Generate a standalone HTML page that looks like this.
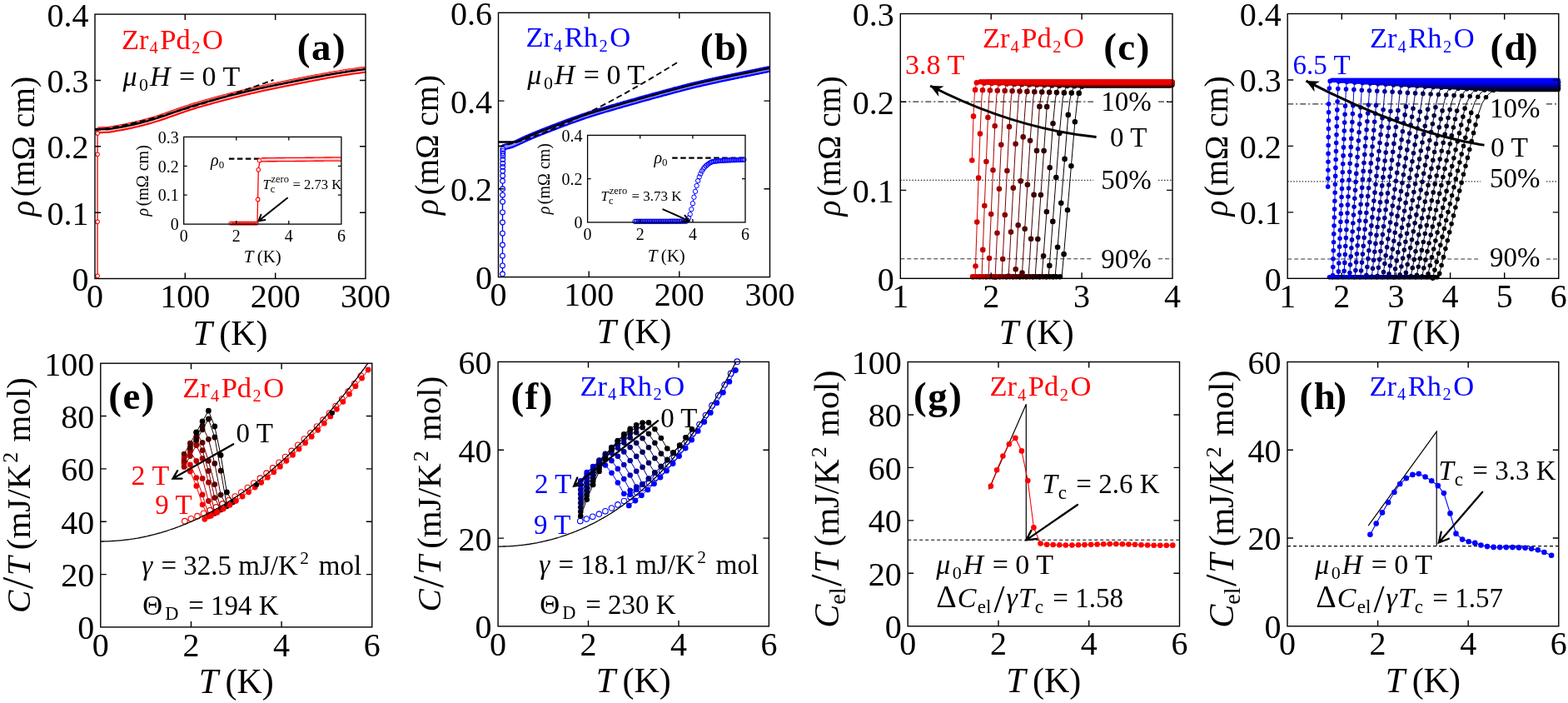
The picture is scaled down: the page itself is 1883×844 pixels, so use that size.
<!DOCTYPE html>
<html><head><meta charset="utf-8"><title>Zr4Pd2O and Zr4Rh2O resistivity and specific heat</title>
<style>html,body{margin:0;padding:0;background:#fff;}svg{display:block;}</style></head>
<body><svg width="1883" height="844" viewBox="0 0 1883 844" font-family="'Liberation Serif','Times New Roman',serif">
<rect width="1883" height="844" fill="#fff"/>
<path d="M117.5 156.2 L119.1 156.2 L120.7 156.2 L122.3 156.2 L123.9 156.1 L125.5 156.1 L127.2 156 L128.8 155.9 L130.4 155.7 L132 155.5 L133.6 155.2 L135.2 155 L136.9 154.7 L138.5 154.4 L140.1 154.1 L141.7 153.9 L143.3 153.6 L144.9 153.3 L146.6 153 L148.2 152.7 L149.8 152.4 L151.4 152.1 L153 151.7 L154.6 151.4 L156.2 151 L157.9 150.7 L159.5 150.3 L161.1 149.9 L162.7 149.6 L164.3 149.2 L165.9 148.8 L167.6 148.4 L169.2 148 L170.8 147.6 L172.4 147.1 L174 146.7 L175.6 146.3 L177.2 145.9 L178.9 145.4 L180.5 145 L182.1 144.5 L183.7 144 L185.3 143.5 L186.9 143 L188.6 142.5 L190.2 142 L191.8 141.5 L193.4 140.9 L195 140.4 L196.6 139.8 L198.3 139.3 L199.9 138.7 L201.5 138.1 L203.1 137.6 L204.7 137 L206.3 136.4 L207.9 135.9 L209.6 135.3 L211.2 134.7 L212.8 134.1 L214.4 133.6 L216 133 L217.6 132.4 L219.3 131.9 L220.9 131.3 L222.5 130.8 L224.1 130.2 L225.7 129.7 L227.3 129.2 L229 128.6 L230.6 128.1 L232.2 127.6 L233.8 127.1 L235.4 126.6 L237 126.2 L238.6 125.7 L240.3 125.2 L241.9 124.8 L243.5 124.3 L245.1 123.8 L246.7 123.4 L248.3 122.9 L250 122.5 L251.6 122 L253.2 121.6 L254.8 121.1 L256.4 120.7 L258 120.2 L259.7 119.8 L261.3 119.4 L262.9 118.9 L264.5 118.5 L266.1 118.1 L267.7 117.6 L269.3 117.2 L271 116.8 L272.6 116.4 L274.2 116 L275.8 115.5 L277.4 115.1 L279 114.7 L280.7 114.3 L282.3 113.9 L283.9 113.5 L285.5 113.1 L287.1 112.7 L288.7 112.3 L290.4 111.9 L292 111.5 L293.6 111.1 L295.2 110.7 L296.8 110.3 L298.4 110 L300 109.6 L301.7 109.2 L303.3 108.8 L304.9 108.5 L306.5 108.1 L308.1 107.7 L309.7 107.4 L311.4 107 L313 106.6 L314.6 106.3 L316.2 105.9 L317.8 105.6 L319.4 105.2 L321.1 104.9 L322.7 104.5 L324.3 104.2 L325.9 103.9 L327.5 103.5 L329.1 103.2 L330.7 102.9 L332.4 102.6 L334 102.2 L335.6 101.9 L337.2 101.6 L338.8 101.3 L340.4 100.9 L342.1 100.6 L343.7 100.3 L345.3 100 L346.9 99.6 L348.5 99.3 L350.1 99 L351.7 98.7 L353.4 98.3 L355 98 L356.6 97.7 L358.2 97.4 L359.8 97 L361.4 96.7 L363.1 96.4 L364.7 96.1 L366.3 95.8 L367.9 95.5 L369.5 95.1 L371.1 94.8 L372.8 94.5 L374.4 94.2 L376 93.9 L377.6 93.6 L379.2 93.3 L380.8 93 L382.4 92.7 L384.1 92.4 L385.7 92.1 L387.3 91.8 L388.9 91.5 L390.5 91.2 L392.1 90.9 L393.8 90.6 L395.4 90.3 L397 90 L398.6 89.7 L400.2 89.5 L401.8 89.2 L403.5 88.9 L405.1 88.6 L406.7 88.4 L408.3 88.1 L409.9 87.8 L411.5 87.6 L413.1 87.3 L414.8 87.1 L416.4 86.8 L418 86.6 L419.6 86.3 L421.2 86.1 L422.8 85.9 L424.5 85.6 L426.1 85.4 L427.7 85.2 L429.3 85 L430.9 84.7 L432.5 84.5 L434.2 84.3 L435.8 84.1 L437.4 83.9 L439 83.7" fill="none" stroke="#ff0000" stroke-width="8" stroke-linejoin="round"/>
<path d="M117.5 156.2 L119.1 156.2 L120.7 156.2 L122.3 156.2 L123.9 156.1 L125.5 156.1 L127.2 156 L128.8 155.9 L130.4 155.7 L132 155.5 L133.6 155.2 L135.2 155 L136.9 154.7 L138.5 154.4 L140.1 154.1 L141.7 153.9 L143.3 153.6 L144.9 153.3 L146.6 153 L148.2 152.7 L149.8 152.4 L151.4 152.1 L153 151.7 L154.6 151.4 L156.2 151 L157.9 150.7 L159.5 150.3 L161.1 149.9 L162.7 149.6 L164.3 149.2 L165.9 148.8 L167.6 148.4 L169.2 148 L170.8 147.6 L172.4 147.1 L174 146.7 L175.6 146.3 L177.2 145.9 L178.9 145.4 L180.5 145 L182.1 144.5 L183.7 144 L185.3 143.5 L186.9 143 L188.6 142.5 L190.2 142 L191.8 141.5 L193.4 140.9 L195 140.4 L196.6 139.8 L198.3 139.3 L199.9 138.7 L201.5 138.1 L203.1 137.6 L204.7 137 L206.3 136.4 L207.9 135.9 L209.6 135.3 L211.2 134.7 L212.8 134.1 L214.4 133.6 L216 133 L217.6 132.4 L219.3 131.9 L220.9 131.3 L222.5 130.8 L224.1 130.2 L225.7 129.7 L227.3 129.2 L229 128.6 L230.6 128.1 L232.2 127.6 L233.8 127.1 L235.4 126.6 L237 126.2 L238.6 125.7 L240.3 125.2 L241.9 124.8 L243.5 124.3 L245.1 123.8 L246.7 123.4 L248.3 122.9 L250 122.5 L251.6 122 L253.2 121.6 L254.8 121.1 L256.4 120.7 L258 120.2 L259.7 119.8 L261.3 119.4 L262.9 118.9 L264.5 118.5 L266.1 118.1 L267.7 117.6 L269.3 117.2 L271 116.8 L272.6 116.4 L274.2 116 L275.8 115.5 L277.4 115.1 L279 114.7 L280.7 114.3 L282.3 113.9 L283.9 113.5 L285.5 113.1 L287.1 112.7 L288.7 112.3 L290.4 111.9 L292 111.5 L293.6 111.1 L295.2 110.7 L296.8 110.3 L298.4 110 L300 109.6 L301.7 109.2 L303.3 108.8 L304.9 108.5 L306.5 108.1 L308.1 107.7 L309.7 107.4 L311.4 107 L313 106.6 L314.6 106.3 L316.2 105.9 L317.8 105.6 L319.4 105.2 L321.1 104.9 L322.7 104.5 L324.3 104.2 L325.9 103.9 L327.5 103.5 L329.1 103.2 L330.7 102.9 L332.4 102.6 L334 102.2 L335.6 101.9 L337.2 101.6 L338.8 101.3 L340.4 100.9 L342.1 100.6 L343.7 100.3 L345.3 100 L346.9 99.6 L348.5 99.3 L350.1 99 L351.7 98.7 L353.4 98.3 L355 98 L356.6 97.7 L358.2 97.4 L359.8 97 L361.4 96.7 L363.1 96.4 L364.7 96.1 L366.3 95.8 L367.9 95.5 L369.5 95.1 L371.1 94.8 L372.8 94.5 L374.4 94.2 L376 93.9 L377.6 93.6 L379.2 93.3 L380.8 93 L382.4 92.7 L384.1 92.4 L385.7 92.1 L387.3 91.8 L388.9 91.5 L390.5 91.2 L392.1 90.9 L393.8 90.6 L395.4 90.3 L397 90 L398.6 89.7 L400.2 89.5 L401.8 89.2 L403.5 88.9 L405.1 88.6 L406.7 88.4 L408.3 88.1 L409.9 87.8 L411.5 87.6 L413.1 87.3 L414.8 87.1 L416.4 86.8 L418 86.6 L419.6 86.3 L421.2 86.1 L422.8 85.9 L424.5 85.6 L426.1 85.4 L427.7 85.2 L429.3 85 L430.9 84.7 L432.5 84.5 L434.2 84.3 L435.8 84.1 L437.4 83.9 L439 83.7" fill="none" stroke="#ffc4c4" stroke-width="4" stroke-linejoin="round"/>
<path d="M117.5 153.5 L119.1 153.4 L120.7 153.4 L122.3 153.4 L123.9 153.4 L125.5 153.3 L127.2 153.2 L128.8 153.1 L130.4 152.9 L132 152.7 L133.6 152.4 L135.2 152.2 L136.9 151.9 L138.5 151.6 L140.1 151.4 L141.7 151.1 L143.3 150.8 L144.9 150.5 L146.6 150.3 L148.2 149.9 L149.8 149.6 L151.4 149.3 L153 149 L154.6 148.6 L156.2 148.3 L157.9 147.9 L159.5 147.5 L161.1 147.2 L162.7 146.8 L164.3 146.4 L165.9 146 L167.6 145.6 L169.2 145.2 L170.8 144.8 L172.4 144.4 L174 143.9 L175.6 143.5 L177.2 143.1 L178.9 142.6 L180.5 142.2 L182.1 141.7 L183.7 141.2 L185.3 140.7 L186.9 140.2 L188.6 139.7 L190.2 139.2 L191.8 138.7 L193.4 138.1 L195 137.6 L196.6 137 L198.3 136.5 L199.9 135.9 L201.5 135.4 L203.1 134.8 L204.7 134.2 L206.3 133.7 L207.9 133.1 L209.6 132.5 L211.2 131.9 L212.8 131.4 L214.4 130.8 L216 130.2 L217.6 129.7 L219.3 129.1 L220.9 128.6 L222.5 128 L224.1 127.5 L225.7 126.9 L227.3 126.4 L229 125.9 L230.6 125.3 L232.2 124.8 L233.8 124.4 L235.4 123.9 L237 123.4 L238.6 122.9 L240.3 122.5 L241.9 122 L243.5 121.5 L245.1 121.1 L246.7 120.6 L248.3 120.1 L250 119.7 L251.6 119.2 L253.2 118.8 L254.8 118.3 L256.4 117.9 L258 117.5 L259.7 117 L261.3 116.6 L262.9 116.2 L264.5 115.7 L266.1 115.3 L267.7 114.9 L269.3 114.4 L271 114 L272.6 113.6 L274.2 113.2 L275.8 112.8 L277.4 112.4 L279 111.9 L280.7 111.5 L282.3 111.1 L283.9 110.7 L285.5 110.3 L287.1 109.9 L288.7 109.5 L290.4 109.1 L292 108.7 L293.6 108.3 L295.2 108 L296.8 107.6 L298.4 107.2 L300 106.8 L301.7 106.4 L303.3 106 L304.9 105.7 L306.5 105.3 L308.1 104.9 L309.7 104.6 L311.4 104.2 L313 103.9 L314.6 103.5 L316.2 103.1 L317.8 102.8 L319.4 102.4 L321.1 102.1 L322.7 101.8 L324.3 101.4 L325.9 101.1 L327.5 100.8 L329.1 100.4 L330.7 100.1 L332.4 99.8 L334 99.5 L335.6 99.1 L337.2 98.8 L338.8 98.5 L340.4 98.2 L342.1 97.8 L343.7 97.5 L345.3 97.2 L346.9 96.9 L348.5 96.5 L350.1 96.2 L351.7 95.9 L353.4 95.6 L355 95.2 L356.6 94.9 L358.2 94.6 L359.8 94.3 L361.4 93.9 L363.1 93.6 L364.7 93.3 L366.3 93 L367.9 92.7 L369.5 92.4 L371.1 92 L372.8 91.7 L374.4 91.4 L376 91.1 L377.6 90.8 L379.2 90.5 L380.8 90.2 L382.4 89.9 L384.1 89.6 L385.7 89.3 L387.3 89 L388.9 88.7 L390.5 88.4 L392.1 88.1 L393.8 87.8 L395.4 87.5 L397 87.2 L398.6 87 L400.2 86.7 L401.8 86.4 L403.5 86.1 L405.1 85.9 L406.7 85.6 L408.3 85.3 L409.9 85.1 L411.5 84.8 L413.1 84.6 L414.8 84.3 L416.4 84 L418 83.8 L419.6 83.6 L421.2 83.3 L422.8 83.1 L424.5 82.9 L426.1 82.6 L427.7 82.4 L429.3 82.2 L430.9 82 L432.5 81.7 L434.2 81.5 L435.8 81.3 L437.4 81.1 L439 81" fill="none" stroke="#ff9090" stroke-width="0.8"/>
<path d="M117.1 334.5 L117.1 158.3" fill="none" stroke="#ff0000" stroke-width="1.3"/>
<path d="M114.8 331.3a2.3 2.3 0 1 0 4.6 0a2.3 2.3 0 1 0 -4.6 0M114.8 266.3a2.3 2.3 0 1 0 4.6 0a2.3 2.3 0 1 0 -4.6 0M114.8 185.3a2.3 2.3 0 1 0 4.6 0a2.3 2.3 0 1 0 -4.6 0M114.8 159.9a2.3 2.3 0 1 0 4.6 0a2.3 2.3 0 1 0 -4.6 0" fill="#fff" stroke="#ff0000" stroke-width="1.1"/>
<path d="M114 155 L127 155 L129.2 155.2 L131.2 154.9 L133.3 154.6 L135.4 154.3 L137.5 153.9 L139.6 153.6 L141.6 153.3 L143.7 152.9 L145.8 152.5 L147.9 152.1 L150 151.7 L152 151.3 L154.1 150.9 L156.2 150.4 L158.3 150 L160.4 149.5 L162.4 149 L164.5 148.5 L166.6 148 L168.7 147.5 L170.8 146.9 L172.8 146.4 L174.9 145.9 L177 145.3 L179.1 144.7 L181.2 144.1 L183.2 143.5 L185.3 142.9 L187.4 142.2 L189.5 141.6 L191.5 140.9 L193.6 140.2 L195.7 139.5 L197.8 138.8 L199.9 138.1 L201.9 137.3 L204 136.6 L206.1 135.9 L208.2 135.1 L210.3 134.4 L212.3 133.7 L214.4 132.9 L216.5 132.2 L218.6 131.5 L220.7 130.8 L222.7 130.1 L224.8 129.4 L226.9 128.7 L229 128 L231.1 127.3 L233.1 126.7 L235.2 126.1 L237.3 125.5 L239.4 124.9 L241.5 124.3 L243.5 123.7 L245.6 123.1 L247.7 122.5 L249.8 121.9 L251.9 121.3 L253.9 120.7 L256 120.2 L258.1 119.6 L260.2 119 L262.2 118.5 L264.3 117.9 L266.4 117.4 L268.5 116.8 L270.6 116.3 L272.6 115.7 L274.7 115.2 L276.8 114.7 L278.9 114.1 L281 113.6 L283 113.1 L285.1 112.6 L287.2 112 L289.3 111.5 L291.4 111 L293.4 110.5 L295.5 110 L297.6 109.5 L299.7 109 L301.8 108.5 L303.8 108.1 L305.9 107.6 L308 107.1 L310.1 106.6 L312.2 106.2 L314.2 105.7 L316.3 105.3 L318.4 104.8 L320.5 104.4 L322.6 103.9 L324.6 103.5 L326.7 103.1 L328.8 102.6 L330.9 102.2 L332.9 101.8 L335 101.4 L337.1 101 L339.2 100.6 L341.3 100.1 L343.3 99.7 L345.4 99.3 L347.5 98.9 L349.6 98.5 L351.7 98 L353.7 97.6 L355.8 97.2 L357.9 96.8 L360 96.4 L362.1 96 L364.1 95.6 L366.2 95.1 L368.3 94.7 L370.4 94.3 L372.5 93.9 L374.5 93.5 L376.6 93.1 L378.7 92.7 L380.8 92.3 L382.9 92 L384.9 91.6 L387 91.2 L389.1 90.8 L391.2 90.4 L393.3 90 L395.3 89.7 L397.4 89.3 L399.5 89 L401.6 88.6 L403.6 88.2 L405.7 87.9 L407.8 87.6 L409.9 87.2 L412 86.9 L414 86.6 L416.1 86.2 L418.2 85.9 L420.3 85.6 L422.4 85.3 L424.4 85 L426.5 84.7 L428.6 84.4 L430.7 84.1 L432.8 83.9 L434.8 83.6 L436.9 83.3 L439 83.1" fill="none" stroke="#000" stroke-width="2.4"/>
<path d="M114 156.3 L117.6 155.9 L121.3 155.5 L124.9 154.9 L128.5 154.3 L132.2 153.7 L135.8 153 L139.4 152.2 L143.1 151.5 L146.7 150.7 L150.4 149.9 L154 149.1 L157.6 148.3 L161.3 147.4 L164.9 146.6 L168.5 145.7 L172.2 144.8 L175.8 143.8 L179.4 142.9 L183.1 142 L186.7 141 L190.3 140 L194 139 L197.6 138 L201.3 137 L204.9 136 L208.5 134.9 L212.2 133.9 L215.8 132.8 L219.4 131.8 L223.1 130.7 L226.7 129.6 L230.3 128.5 L234 127.4 L237.6 126.3 L241.2 125.2 L244.9 124 L248.5 122.9 L252.2 121.7 L255.8 120.6 L259.4 119.4 L263.1 118.2 L266.7 117.1 L270.3 115.9 L274 114.7 L277.6 113.5 L281.2 112.2 L284.9 111 L288.5 109.8 L292.1 108.6 L295.8 107.3 L299.4 106.1 L303.1 104.8 L306.7 103.6 L310.3 102.3 L314 101 L317.6 99.8 L321.2 98.5 L324.9 97.2 L328.5 95.9" fill="none" stroke="#000" stroke-width="1.9" stroke-dasharray="7 4"/>
<path d="M222.3 334.5V327.5M222.3 17.1V24.1M330.7 334.5V327.5M330.7 17.1V24.1M114 255.2H121M439 255.2H432M114 175.8H121M439 175.8H432M114 96.5H121M439 96.5H432" stroke="#000" stroke-width="1.4" fill="none"/>
<rect x="114" y="17.1" width="325" height="317.4" fill="none" stroke="#000" stroke-width="1.4"/>
<text x="114" y="369.1" font-size="40" text-anchor="middle"><tspan>0</tspan></text>
<text x="222.3" y="369.1" font-size="40" text-anchor="middle"><tspan>100</tspan></text>
<text x="330.7" y="369.1" font-size="40" text-anchor="middle"><tspan>200</tspan></text>
<text x="439" y="369.1" font-size="40" text-anchor="middle"><tspan>300</tspan></text>
<text x="106.5" y="348.9" font-size="40" text-anchor="end"><tspan>0</tspan></text>
<text x="106.5" y="269.6" font-size="40" text-anchor="end"><tspan>0.1</tspan></text>
<text x="106.5" y="190.2" font-size="40" text-anchor="end"><tspan>0.2</tspan></text>
<text x="106.5" y="110.9" font-size="40" text-anchor="end"><tspan>0.3</tspan></text>
<text x="106.5" y="31.5" font-size="40" text-anchor="end"><tspan>0.4</tspan></text>
<text x="276.5" y="413.5" font-size="42" text-anchor="middle"><tspan font-style="italic">T</tspan><tspan> (K)</tspan></text>
<text x="41.5" y="175.8" font-size="39.5" text-anchor="middle" transform="rotate(-90 41.5 175.8)"><tspan font-style="italic">ρ</tspan><tspan dx="4.5">(mΩ cm)</tspan></text>
<text x="146" y="58.6" font-size="34.5" fill="#ff0000"><tspan>Zr</tspan><tspan dy="5.5" dx="1" font-size="20.5">4</tspan><tspan dy="-5.5" dx="2.5">Pd</tspan><tspan dy="5.5" dx="1.5" font-size="20.5">2</tspan><tspan dy="-5.5" dx="2.5">O</tspan></text>
<text x="147.5" y="102.9" font-size="34"><tspan font-style="italic">μ</tspan><tspan dy="6" dx="2.5" font-size="22">0</tspan><tspan dy="-6" dx="1.8" font-style="italic">H</tspan><tspan dx="2"> = 0 T</tspan></text>
<text x="414.6" y="71.8" font-size="47" text-anchor="end" font-weight="bold"><tspan>(</tspan><tspan dx="1.5">a</tspan><tspan dx="1.5">)</tspan></text>
<path d="M274.9 190.6 L409.9 190.6" fill="none" stroke="#000" stroke-width="2.2" stroke-dasharray="6.5 3.5"/>
<path d="M276.8 268.1 L278.4 268.1 L280 268.1 L281.6 268.1 L283.1 268.1 L284.7 268.1 L286.3 268.1 L287.9 268.1 L289.4 268.1 L291 268.1 L292.6 268.1 L294.2 268.1 L295.7 268.1 L297.3 268.1 L298.9 268.1 L300.5 268.1 L302.1 268.1 L303.6 268.1 L305.2 268.1 L306.8 268.1 L308.4 268.1" fill="none" stroke="#ff0000" stroke-width="1.2"/>
<path d="M274.7 268.1a2.1 2.1 0 1 0 4.2 0a2.1 2.1 0 1 0 -4.2 0M276.3 268.1a2.1 2.1 0 1 0 4.2 0a2.1 2.1 0 1 0 -4.2 0M277.9 268.1a2.1 2.1 0 1 0 4.2 0a2.1 2.1 0 1 0 -4.2 0M279.5 268.1a2.1 2.1 0 1 0 4.2 0a2.1 2.1 0 1 0 -4.2 0M281 268.1a2.1 2.1 0 1 0 4.2 0a2.1 2.1 0 1 0 -4.2 0M282.6 268.1a2.1 2.1 0 1 0 4.2 0a2.1 2.1 0 1 0 -4.2 0M284.2 268.1a2.1 2.1 0 1 0 4.2 0a2.1 2.1 0 1 0 -4.2 0M285.8 268.1a2.1 2.1 0 1 0 4.2 0a2.1 2.1 0 1 0 -4.2 0M287.3 268.1a2.1 2.1 0 1 0 4.2 0a2.1 2.1 0 1 0 -4.2 0M288.9 268.1a2.1 2.1 0 1 0 4.2 0a2.1 2.1 0 1 0 -4.2 0M290.5 268.1a2.1 2.1 0 1 0 4.2 0a2.1 2.1 0 1 0 -4.2 0M292.1 268.1a2.1 2.1 0 1 0 4.2 0a2.1 2.1 0 1 0 -4.2 0M293.6 268.1a2.1 2.1 0 1 0 4.2 0a2.1 2.1 0 1 0 -4.2 0M295.2 268.1a2.1 2.1 0 1 0 4.2 0a2.1 2.1 0 1 0 -4.2 0M296.8 268.1a2.1 2.1 0 1 0 4.2 0a2.1 2.1 0 1 0 -4.2 0M298.4 268.1a2.1 2.1 0 1 0 4.2 0a2.1 2.1 0 1 0 -4.2 0M300 268.1a2.1 2.1 0 1 0 4.2 0a2.1 2.1 0 1 0 -4.2 0M301.5 268.1a2.1 2.1 0 1 0 4.2 0a2.1 2.1 0 1 0 -4.2 0M303.1 268.1a2.1 2.1 0 1 0 4.2 0a2.1 2.1 0 1 0 -4.2 0M304.7 268.1a2.1 2.1 0 1 0 4.2 0a2.1 2.1 0 1 0 -4.2 0M306.3 268.1a2.1 2.1 0 1 0 4.2 0a2.1 2.1 0 1 0 -4.2 0" fill="#fff" stroke="#ff0000" stroke-width="0.8"/>
<path d="M309 268.1 L309.6 239.4 L310.3 203.8 L312.1 192.7 L315.3 191.6" fill="none" stroke="#ff0000" stroke-width="1.3"/>
<path d="M307.3 239.4a2.3 2.3 0 1 0 4.6 0a2.3 2.3 0 1 0 -4.6 0M308 203.8a2.3 2.3 0 1 0 4.6 0a2.3 2.3 0 1 0 -4.6 0M309.2 192.7a2.3 2.3 0 1 0 4.6 0a2.3 2.3 0 1 0 -4.6 0" fill="#fff" stroke="#ff0000" stroke-width="1.1"/>
<path d="M313.7 191.8 L316.2 191.8 L318.7 191.8 L321.1 191.7 L323.6 191.7 L326.1 191.7 L328.5 191.7 L331 191.7 L333.5 191.6 L335.9 191.6 L338.4 191.6 L340.9 191.6 L343.3 191.5 L345.8 191.5 L348.2 191.5 L350.7 191.5 L353.2 191.5 L355.6 191.4 L358.1 191.4 L360.6 191.4 L363 191.4 L365.5 191.4 L368 191.3 L370.4 191.3 L372.9 191.3 L375.4 191.3 L377.8 191.2 L380.3 191.2 L382.8 191.2 L385.2 191.2 L387.7 191.2 L390.2 191.1 L392.6 191.1 L395.1 191.1 L397.6 191.1 L400 191 L402.5 191 L405 191 L407.4 191 L409.9 191" fill="none" stroke="#ff0000" stroke-width="5.5" stroke-linejoin="round"/>
<path d="M313.7 191.8 L316.2 191.8 L318.7 191.8 L321.1 191.7 L323.6 191.7 L326.1 191.7 L328.5 191.7 L331 191.7 L333.5 191.6 L335.9 191.6 L338.4 191.6 L340.9 191.6 L343.3 191.5 L345.8 191.5 L348.2 191.5 L350.7 191.5 L353.2 191.5 L355.6 191.4 L358.1 191.4 L360.6 191.4 L363 191.4 L365.5 191.4 L368 191.3 L370.4 191.3 L372.9 191.3 L375.4 191.3 L377.8 191.2 L380.3 191.2 L382.8 191.2 L385.2 191.2 L387.7 191.2 L390.2 191.1 L392.6 191.1 L395.1 191.1 L397.6 191.1 L400 191 L402.5 191 L405 191 L407.4 191 L409.9 191" fill="none" stroke="#ffd0d0" stroke-width="2.8" stroke-linejoin="round"/>
<path d="M283.8 269.1V265.1M283.8 164.4V168.4M346.8 269.1V265.1M346.8 164.4V168.4M220.7 234.2H224.7M409.9 234.2H405.9M220.7 199.3H224.7M409.9 199.3H405.9" stroke="#000" stroke-width="1.3" fill="none"/>
<rect x="220.7" y="164.4" width="189.2" height="104.7" fill="none" stroke="#000" stroke-width="1.3"/>
<text x="220.7" y="290.4" font-size="20" text-anchor="middle"><tspan>0</tspan></text>
<text x="283.8" y="290.4" font-size="20" text-anchor="middle"><tspan>2</tspan></text>
<text x="346.8" y="290.4" font-size="20" text-anchor="middle"><tspan>4</tspan></text>
<text x="409.9" y="290.4" font-size="20" text-anchor="middle"><tspan>6</tspan></text>
<text x="214.7" y="276.3" font-size="20" text-anchor="end"><tspan>0</tspan></text>
<text x="214.7" y="241.4" font-size="20" text-anchor="end"><tspan>0.1</tspan></text>
<text x="214.7" y="206.5" font-size="20" text-anchor="end"><tspan>0.2</tspan></text>
<text x="214.7" y="171.6" font-size="20" text-anchor="end"><tspan>0.3</tspan></text>
<text x="315.3" y="315.1" font-size="21" text-anchor="middle"><tspan font-style="italic">T</tspan><tspan> (K)</tspan></text>
<text x="178" y="216.8" font-size="20" text-anchor="middle" transform="rotate(-90 178 216.8)"><tspan font-style="italic">ρ</tspan><tspan dx="2.5">(mΩ cm)</tspan></text>
<text x="269.2" y="198.9" font-size="20" text-anchor="end"><tspan font-style="italic">ρ</tspan><tspan dy="3" font-size="13">0</tspan></text>
<text x="315.6" y="227.3" font-size="16.6"><tspan font-style="italic">T</tspan><tspan dy="4" font-size="12.5">c</tspan><tspan dy="-12" dx="-5" font-size="12.5">zero</tspan><tspan dy="8" dx="0.5"> = 2.73 K</tspan></text>
<path d="M345 237.7L310.5 265.2M318.4 264L310.5 265.2L313.4 257.8" fill="none" stroke="#000" stroke-width="2" stroke-linecap="round" stroke-linejoin="miter"/>
<path d="M603.4 177.7 L605 177 L606.6 176.4 L608.2 175.9 L609.8 175.4 L611.5 175 L613.1 174.5 L614.7 174 L616.3 173.4 L617.9 172.7 L619.5 172 L621.1 171.3 L622.8 170.5 L624.4 169.8 L626 169 L627.6 168.2 L629.2 167.4 L630.8 166.7 L632.4 165.9 L634 165.3 L635.7 164.6 L637.3 163.9 L638.9 163.2 L640.5 162.5 L642.1 161.9 L643.7 161.2 L645.3 160.6 L647 159.9 L648.6 159.3 L650.2 158.6 L651.8 158 L653.4 157.4 L655 156.7 L656.6 156.1 L658.3 155.5 L659.9 154.9 L661.5 154.2 L663.1 153.6 L664.7 153 L666.3 152.4 L667.9 151.8 L669.5 151.2 L671.2 150.5 L672.8 149.9 L674.4 149.3 L676 148.7 L677.6 148.1 L679.2 147.5 L680.8 146.9 L682.5 146.3 L684.1 145.7 L685.7 145.1 L687.3 144.5 L688.9 144 L690.5 143.4 L692.1 142.8 L693.8 142.2 L695.4 141.7 L697 141.1 L698.6 140.5 L700.2 140 L701.8 139.4 L703.4 138.9 L705 138.4 L706.7 137.8 L708.3 137.3 L709.9 136.8 L711.5 136.3 L713.1 135.8 L714.7 135.3 L716.3 134.8 L718 134.3 L719.6 133.8 L721.2 133.3 L722.8 132.9 L724.4 132.4 L726 131.9 L727.6 131.4 L729.3 130.9 L730.9 130.5 L732.5 130 L734.1 129.5 L735.7 129 L737.3 128.6 L738.9 128.1 L740.5 127.6 L742.2 127.1 L743.8 126.7 L745.4 126.2 L747 125.7 L748.6 125.3 L750.2 124.8 L751.8 124.4 L753.5 123.9 L755.1 123.4 L756.7 123 L758.3 122.5 L759.9 122.1 L761.5 121.6 L763.1 121.2 L764.8 120.7 L766.4 120.2 L768 119.8 L769.6 119.3 L771.2 118.9 L772.8 118.4 L774.4 118 L776 117.5 L777.7 117.1 L779.3 116.7 L780.9 116.2 L782.5 115.8 L784.1 115.3 L785.7 114.9 L787.3 114.4 L789 114 L790.6 113.6 L792.2 113.1 L793.8 112.7 L795.4 112.2 L797 111.8 L798.6 111.4 L800.3 110.9 L801.9 110.5 L803.5 110.1 L805.1 109.6 L806.7 109.2 L808.3 108.8 L809.9 108.3 L811.5 107.9 L813.2 107.5 L814.8 107.1 L816.4 106.6 L818 106.2 L819.6 105.8 L821.2 105.4 L822.8 104.9 L824.5 104.5 L826.1 104.1 L827.7 103.7 L829.3 103.3 L830.9 102.9 L832.5 102.5 L834.1 102.1 L835.8 101.7 L837.4 101.3 L839 101 L840.6 100.6 L842.2 100.2 L843.8 99.8 L845.4 99.5 L847 99.1 L848.7 98.7 L850.3 98.4 L851.9 98 L853.5 97.6 L855.1 97.3 L856.7 96.9 L858.3 96.6 L860 96.2 L861.6 95.9 L863.2 95.5 L864.8 95.2 L866.4 94.8 L868 94.5 L869.6 94.2 L871.3 93.8 L872.9 93.5 L874.5 93.2 L876.1 92.8 L877.7 92.5 L879.3 92.1 L880.9 91.8 L882.5 91.5 L884.2 91.2 L885.8 90.8 L887.4 90.5 L889 90.2 L890.6 89.8 L892.2 89.5 L893.8 89.2 L895.5 88.8 L897.1 88.5 L898.7 88.2 L900.3 87.9 L901.9 87.5 L903.5 87.2 L905.1 86.9 L906.8 86.5 L908.4 86.2 L910 85.9 L911.6 85.5 L913.2 85.2 L914.8 84.9 L916.4 84.5 L918 84.2 L919.7 83.9 L921.3 83.5 L922.9 83.2 L924.5 82.8" fill="none" stroke="#0000ff" stroke-width="7.8" stroke-linejoin="round"/>
<path d="M603.4 177.7 L605 177 L606.6 176.4 L608.2 175.9 L609.8 175.4 L611.5 175 L613.1 174.5 L614.7 174 L616.3 173.4 L617.9 172.7 L619.5 172 L621.1 171.3 L622.8 170.5 L624.4 169.8 L626 169 L627.6 168.2 L629.2 167.4 L630.8 166.7 L632.4 165.9 L634 165.3 L635.7 164.6 L637.3 163.9 L638.9 163.2 L640.5 162.5 L642.1 161.9 L643.7 161.2 L645.3 160.6 L647 159.9 L648.6 159.3 L650.2 158.6 L651.8 158 L653.4 157.4 L655 156.7 L656.6 156.1 L658.3 155.5 L659.9 154.9 L661.5 154.2 L663.1 153.6 L664.7 153 L666.3 152.4 L667.9 151.8 L669.5 151.2 L671.2 150.5 L672.8 149.9 L674.4 149.3 L676 148.7 L677.6 148.1 L679.2 147.5 L680.8 146.9 L682.5 146.3 L684.1 145.7 L685.7 145.1 L687.3 144.5 L688.9 144 L690.5 143.4 L692.1 142.8 L693.8 142.2 L695.4 141.7 L697 141.1 L698.6 140.5 L700.2 140 L701.8 139.4 L703.4 138.9 L705 138.4 L706.7 137.8 L708.3 137.3 L709.9 136.8 L711.5 136.3 L713.1 135.8 L714.7 135.3 L716.3 134.8 L718 134.3 L719.6 133.8 L721.2 133.3 L722.8 132.9 L724.4 132.4 L726 131.9 L727.6 131.4 L729.3 130.9 L730.9 130.5 L732.5 130 L734.1 129.5 L735.7 129 L737.3 128.6 L738.9 128.1 L740.5 127.6 L742.2 127.1 L743.8 126.7 L745.4 126.2 L747 125.7 L748.6 125.3 L750.2 124.8 L751.8 124.4 L753.5 123.9 L755.1 123.4 L756.7 123 L758.3 122.5 L759.9 122.1 L761.5 121.6 L763.1 121.2 L764.8 120.7 L766.4 120.2 L768 119.8 L769.6 119.3 L771.2 118.9 L772.8 118.4 L774.4 118 L776 117.5 L777.7 117.1 L779.3 116.7 L780.9 116.2 L782.5 115.8 L784.1 115.3 L785.7 114.9 L787.3 114.4 L789 114 L790.6 113.6 L792.2 113.1 L793.8 112.7 L795.4 112.2 L797 111.8 L798.6 111.4 L800.3 110.9 L801.9 110.5 L803.5 110.1 L805.1 109.6 L806.7 109.2 L808.3 108.8 L809.9 108.3 L811.5 107.9 L813.2 107.5 L814.8 107.1 L816.4 106.6 L818 106.2 L819.6 105.8 L821.2 105.4 L822.8 104.9 L824.5 104.5 L826.1 104.1 L827.7 103.7 L829.3 103.3 L830.9 102.9 L832.5 102.5 L834.1 102.1 L835.8 101.7 L837.4 101.3 L839 101 L840.6 100.6 L842.2 100.2 L843.8 99.8 L845.4 99.5 L847 99.1 L848.7 98.7 L850.3 98.4 L851.9 98 L853.5 97.6 L855.1 97.3 L856.7 96.9 L858.3 96.6 L860 96.2 L861.6 95.9 L863.2 95.5 L864.8 95.2 L866.4 94.8 L868 94.5 L869.6 94.2 L871.3 93.8 L872.9 93.5 L874.5 93.2 L876.1 92.8 L877.7 92.5 L879.3 92.1 L880.9 91.8 L882.5 91.5 L884.2 91.2 L885.8 90.8 L887.4 90.5 L889 90.2 L890.6 89.8 L892.2 89.5 L893.8 89.2 L895.5 88.8 L897.1 88.5 L898.7 88.2 L900.3 87.9 L901.9 87.5 L903.5 87.2 L905.1 86.9 L906.8 86.5 L908.4 86.2 L910 85.9 L911.6 85.5 L913.2 85.2 L914.8 84.9 L916.4 84.5 L918 84.2 L919.7 83.9 L921.3 83.5 L922.9 83.2 L924.5 82.8" fill="none" stroke="#9090ff" stroke-width="3.2" stroke-linejoin="round"/>
<path d="M603.5 332.6 L603.5 179.2 L604.2 177.1" fill="none" stroke="#0000ff" stroke-width="1.3"/>
<path d="M600.6 329a2.9 2.9 0 1 0 5.8 0a2.9 2.9 0 1 0 -5.8 0M600.6 318.9a2.9 2.9 0 1 0 5.8 0a2.9 2.9 0 1 0 -5.8 0M600.6 307.2a2.9 2.9 0 1 0 5.8 0a2.9 2.9 0 1 0 -5.8 0M600.6 294a2.9 2.9 0 1 0 5.8 0a2.9 2.9 0 1 0 -5.8 0M600.6 280.2a2.9 2.9 0 1 0 5.8 0a2.9 2.9 0 1 0 -5.8 0M600.6 267a2.9 2.9 0 1 0 5.8 0a2.9 2.9 0 1 0 -5.8 0M600.6 254.9a2.9 2.9 0 1 0 5.8 0a2.9 2.9 0 1 0 -5.8 0M600.7 242.2a2.9 2.9 0 1 0 5.8 0a2.9 2.9 0 1 0 -5.8 0M600.7 234.2a2.9 2.9 0 1 0 5.8 0a2.9 2.9 0 1 0 -5.8 0M600.7 226.8a2.9 2.9 0 1 0 5.8 0a2.9 2.9 0 1 0 -5.8 0M600.7 217.3a2.9 2.9 0 1 0 5.8 0a2.9 2.9 0 1 0 -5.8 0M600.8 211a2.9 2.9 0 1 0 5.8 0a2.9 2.9 0 1 0 -5.8 0M600.8 205.2a2.9 2.9 0 1 0 5.8 0a2.9 2.9 0 1 0 -5.8 0M600.8 200.4a2.9 2.9 0 1 0 5.8 0a2.9 2.9 0 1 0 -5.8 0M600.9 196.2a2.9 2.9 0 1 0 5.8 0a2.9 2.9 0 1 0 -5.8 0M600.9 191.4a2.9 2.9 0 1 0 5.8 0a2.9 2.9 0 1 0 -5.8 0M601 187.2a2.9 2.9 0 1 0 5.8 0a2.9 2.9 0 1 0 -5.8 0M601 184a2.9 2.9 0 1 0 5.8 0a2.9 2.9 0 1 0 -5.8 0M601 181.4a2.9 2.9 0 1 0 5.8 0a2.9 2.9 0 1 0 -5.8 0M601 179.2a2.9 2.9 0 1 0 5.8 0a2.9 2.9 0 1 0 -5.8 0" fill="#fff" stroke="#0000ff" stroke-width="1.1"/>
<path d="M598.5 170.5 L620.2 170.5 L624.6 168.6 L627.1 167.4 L629.6 166.2 L632.1 165 L634.7 163.9 L637.2 162.9 L639.7 161.8 L642.2 160.8 L644.7 159.8 L647.3 158.7 L649.8 157.7 L652.3 156.7 L654.8 155.8 L657.3 154.8 L659.9 153.8 L662.4 152.8 L664.9 151.9 L667.4 150.9 L669.9 150 L672.5 149 L675 148 L677.5 147.1 L680 146.2 L682.5 145.2 L685.1 144.3 L687.6 143.4 L690.1 142.5 L692.6 141.6 L695.1 140.7 L697.7 139.8 L700.2 138.9 L702.7 138.1 L705.2 137.2 L707.8 136.4 L710.3 135.6 L712.8 134.8 L715.3 134.1 L717.8 133.3 L720.4 132.5 L722.9 131.8 L725.4 131 L727.9 130.3 L730.4 129.5 L733 128.8 L735.5 128 L738 127.3 L740.5 126.6 L743 125.8 L745.6 125.1 L748.1 124.4 L750.6 123.7 L753.1 122.9 L755.6 122.2 L758.2 121.5 L760.7 120.8 L763.2 120.1 L765.7 119.4 L768.2 118.7 L770.8 118 L773.3 117.3 L775.8 116.6 L778.3 115.9 L780.8 115.2 L783.4 114.5 L785.9 113.8 L788.4 113.1 L790.9 112.4 L793.4 111.7 L796 111 L798.5 110.4 L801 109.7 L803.5 109 L806 108.3 L808.6 107.6 L811.1 107 L813.6 106.3 L816.1 105.6 L818.6 105 L821.2 104.3 L823.7 103.7 L826.2 103 L828.7 102.4 L831.2 101.8 L833.8 101.1 L836.3 100.5 L838.8 99.9 L841.3 99.3 L843.8 98.8 L846.4 98.2 L848.9 97.6 L851.4 97.1 L853.9 96.5 L856.5 95.9 L859 95.4 L861.5 94.8 L864 94.3 L866.5 93.8 L869.1 93.2 L871.6 92.7 L874.1 92.2 L876.6 91.7 L879.1 91.1 L881.7 90.6 L884.2 90.1 L886.7 89.6 L889.2 89.1 L891.7 88.5 L894.3 88 L896.8 87.5 L899.3 87 L901.8 86.5 L904.3 86 L906.9 85.5 L909.4 84.9 L911.9 84.4 L914.4 83.9 L916.9 83.4 L919.5 82.8 L922 82.3 L924.5 81.8" fill="none" stroke="#000" stroke-width="2.4"/>
<path d="M598.5 175.5 L602.2 175.1 L605.9 174.4 L609.6 173.6 L613.3 172.7 L617 171.7 L620.6 170.6 L624.3 169.5 L628 168.4 L631.7 167.1 L635.4 165.9 L639.1 164.6 L642.8 163.2 L646.5 161.8 L650.2 160.4 L653.9 159 L657.6 157.5 L661.2 156 L664.9 154.4 L668.6 152.9 L672.3 151.3 L676 149.6 L679.7 148 L683.4 146.3 L687.1 144.6 L690.8 142.9 L694.5 141.1 L698.2 139.3 L701.8 137.5 L705.5 135.7 L709.2 133.9 L712.9 132 L716.6 130.2 L720.3 128.3 L724 126.4 L727.7 124.4 L731.4 122.5 L735.1 120.5 L738.8 118.5 L742.4 116.5 L746.1 114.5 L749.8 112.5 L753.5 110.4 L757.2 108.3 L760.9 106.2 L764.6 104.1 L768.3 102 L772 99.9 L775.7 97.7 L779.4 95.6 L783 93.4 L786.7 91.2 L790.4 89 L794.1 86.8 L797.8 84.5 L801.5 82.3 L805.2 80 L808.9 77.8 L812.6 75.5 L816.3 73.2" fill="none" stroke="#000" stroke-width="1.9" stroke-dasharray="7 4"/>
<path d="M707.2 332.6V325.6M707.2 15.3V22.3M815.8 332.6V325.6M815.8 15.3V22.3M598.5 226.8H605.5M924.5 226.8H917.5M598.5 121.1H605.5M924.5 121.1H917.5" stroke="#000" stroke-width="1.4" fill="none"/>
<rect x="598.5" y="15.3" width="326" height="317.3" fill="none" stroke="#000" stroke-width="1.4"/>
<text x="598.5" y="367.2" font-size="40" text-anchor="middle"><tspan>0</tspan></text>
<text x="707.2" y="367.2" font-size="40" text-anchor="middle"><tspan>100</tspan></text>
<text x="815.8" y="367.2" font-size="40" text-anchor="middle"><tspan>200</tspan></text>
<text x="924.5" y="367.2" font-size="40" text-anchor="middle"><tspan>300</tspan></text>
<text x="591" y="347" font-size="40" text-anchor="end"><tspan>0</tspan></text>
<text x="591" y="241.2" font-size="40" text-anchor="end"><tspan>0.2</tspan></text>
<text x="591" y="135.5" font-size="40" text-anchor="end"><tspan>0.4</tspan></text>
<text x="591" y="29.7" font-size="40" text-anchor="end"><tspan>0.6</tspan></text>
<text x="761.5" y="411.6" font-size="42" text-anchor="middle"><tspan font-style="italic">T</tspan><tspan> (K)</tspan></text>
<text x="526" y="174" font-size="39.5" text-anchor="middle" transform="rotate(-90 526 174)"><tspan font-style="italic">ρ</tspan><tspan dx="4.5">(mΩ cm)</tspan></text>
<text x="631.5" y="56.2" font-size="34.5" fill="#0000ff"><tspan>Zr</tspan><tspan dy="5.5" dx="1" font-size="20.5">4</tspan><tspan dy="-5.5" dx="2.5">Rh</tspan><tspan dy="5.5" dx="1.5" font-size="20.5">2</tspan><tspan dy="-5.5" dx="2.5">O</tspan></text>
<text x="633.3" y="100.5" font-size="34"><tspan font-style="italic">μ</tspan><tspan dy="6" dx="2.5" font-size="22">0</tspan><tspan dy="-6" dx="1.8" font-style="italic">H</tspan><tspan dx="2"> = 0 T</tspan></text>
<text x="898.6" y="72.3" font-size="47" text-anchor="end" font-weight="bold"><tspan>(</tspan><tspan dx="1.5">b</tspan><tspan dx="-1.2">)</tspan></text>
<path d="M807.2 189.6 L895 189.6" fill="none" stroke="#000" stroke-width="2.2" stroke-dasharray="6.5 3.5"/>
<path d="M762.4 265.9 L764 265.8 L765.6 265.8 L767.2 265.8 L768.7 265.8 L770.3 265.8 L771.9 265.8 L773.5 265.8 L775 265.8 L776.6 265.8 L778.2 265.8 L779.8 265.8 L781.4 265.8 L782.9 265.8 L784.5 265.8 L786.1 265.8 L787.7 265.8 L789.3 265.8 L790.8 265.8 L792.4 265.8 L794 265.8 L795.6 265.8 L797.1 265.8 L798.7 265.8 L800.3 265.8 L801.9 265.8 L803.5 265.8 L805 265.7 L806.6 265.7 L808.2 265.7 L809.8 265.7 L811.3 265.7 L812.9 265.7 L814.5 265.7 L816.1 265.7 L817.7 265.7 L819.2 265.6 L820.8 265.6 L822.4 265.6 L824 265.6 L825.6 264.3 L827.1 261.7 L828.7 257.3 L830.3 251.2 L831.9 244.2 L833.4 236.7 L835 229.8 L836.6 223 L838.2 217 L839.8 212.4 L841.3 208.7 L842.9 205.5 L844.5 202.9 L846.1 200.8 L847.7 199.2 L849.2 197.9 L850.8 196.7 L852.4 195.6 L854 194.7 L855.5 194.2 L857.1 193.9 L858.7 193.6 L860.3 193.4 L861.9 193.3 L863.4 193.1 L865 193 L866.6 192.9 L868.2 192.8 L869.7 192.7 L871.3 192.6 L872.9 192.5 L874.5 192.4 L876.1 192.4 L877.6 192.3 L879.2 192.2 L880.8 192.2 L882.4 192.1 L884 192.1 L885.5 192 L887.1 192 L888.7 191.9 L890.3 191.8 L891.8 191.8 L893.4 191.7" fill="none" stroke="#0000ff" stroke-width="1"/>
<path d="M759.7 265.9a2.7 2.7 0 1 0 5.4 0a2.7 2.7 0 1 0 -5.4 0M761.3 265.8a2.7 2.7 0 1 0 5.4 0a2.7 2.7 0 1 0 -5.4 0M762.9 265.8a2.7 2.7 0 1 0 5.4 0a2.7 2.7 0 1 0 -5.4 0M764.5 265.8a2.7 2.7 0 1 0 5.4 0a2.7 2.7 0 1 0 -5.4 0M766 265.8a2.7 2.7 0 1 0 5.4 0a2.7 2.7 0 1 0 -5.4 0M767.6 265.8a2.7 2.7 0 1 0 5.4 0a2.7 2.7 0 1 0 -5.4 0M769.2 265.8a2.7 2.7 0 1 0 5.4 0a2.7 2.7 0 1 0 -5.4 0M770.8 265.8a2.7 2.7 0 1 0 5.4 0a2.7 2.7 0 1 0 -5.4 0M772.3 265.8a2.7 2.7 0 1 0 5.4 0a2.7 2.7 0 1 0 -5.4 0M773.9 265.8a2.7 2.7 0 1 0 5.4 0a2.7 2.7 0 1 0 -5.4 0M775.5 265.8a2.7 2.7 0 1 0 5.4 0a2.7 2.7 0 1 0 -5.4 0M777.1 265.8a2.7 2.7 0 1 0 5.4 0a2.7 2.7 0 1 0 -5.4 0M778.7 265.8a2.7 2.7 0 1 0 5.4 0a2.7 2.7 0 1 0 -5.4 0M780.2 265.8a2.7 2.7 0 1 0 5.4 0a2.7 2.7 0 1 0 -5.4 0M781.8 265.8a2.7 2.7 0 1 0 5.4 0a2.7 2.7 0 1 0 -5.4 0M783.4 265.8a2.7 2.7 0 1 0 5.4 0a2.7 2.7 0 1 0 -5.4 0M785 265.8a2.7 2.7 0 1 0 5.4 0a2.7 2.7 0 1 0 -5.4 0M786.6 265.8a2.7 2.7 0 1 0 5.4 0a2.7 2.7 0 1 0 -5.4 0M788.1 265.8a2.7 2.7 0 1 0 5.4 0a2.7 2.7 0 1 0 -5.4 0M789.7 265.8a2.7 2.7 0 1 0 5.4 0a2.7 2.7 0 1 0 -5.4 0M791.3 265.8a2.7 2.7 0 1 0 5.4 0a2.7 2.7 0 1 0 -5.4 0M792.9 265.8a2.7 2.7 0 1 0 5.4 0a2.7 2.7 0 1 0 -5.4 0M794.4 265.8a2.7 2.7 0 1 0 5.4 0a2.7 2.7 0 1 0 -5.4 0M796 265.8a2.7 2.7 0 1 0 5.4 0a2.7 2.7 0 1 0 -5.4 0M797.6 265.8a2.7 2.7 0 1 0 5.4 0a2.7 2.7 0 1 0 -5.4 0M799.2 265.8a2.7 2.7 0 1 0 5.4 0a2.7 2.7 0 1 0 -5.4 0M800.8 265.8a2.7 2.7 0 1 0 5.4 0a2.7 2.7 0 1 0 -5.4 0M802.3 265.7a2.7 2.7 0 1 0 5.4 0a2.7 2.7 0 1 0 -5.4 0M803.9 265.7a2.7 2.7 0 1 0 5.4 0a2.7 2.7 0 1 0 -5.4 0M805.5 265.7a2.7 2.7 0 1 0 5.4 0a2.7 2.7 0 1 0 -5.4 0M807.1 265.7a2.7 2.7 0 1 0 5.4 0a2.7 2.7 0 1 0 -5.4 0M808.6 265.7a2.7 2.7 0 1 0 5.4 0a2.7 2.7 0 1 0 -5.4 0M810.2 265.7a2.7 2.7 0 1 0 5.4 0a2.7 2.7 0 1 0 -5.4 0M811.8 265.7a2.7 2.7 0 1 0 5.4 0a2.7 2.7 0 1 0 -5.4 0M813.4 265.7a2.7 2.7 0 1 0 5.4 0a2.7 2.7 0 1 0 -5.4 0M815 265.7a2.7 2.7 0 1 0 5.4 0a2.7 2.7 0 1 0 -5.4 0M816.5 265.6a2.7 2.7 0 1 0 5.4 0a2.7 2.7 0 1 0 -5.4 0M818.1 265.6a2.7 2.7 0 1 0 5.4 0a2.7 2.7 0 1 0 -5.4 0M819.7 265.6a2.7 2.7 0 1 0 5.4 0a2.7 2.7 0 1 0 -5.4 0M821.3 265.6a2.7 2.7 0 1 0 5.4 0a2.7 2.7 0 1 0 -5.4 0M822.9 264.3a2.7 2.7 0 1 0 5.4 0a2.7 2.7 0 1 0 -5.4 0M824.4 261.7a2.7 2.7 0 1 0 5.4 0a2.7 2.7 0 1 0 -5.4 0M826 257.3a2.7 2.7 0 1 0 5.4 0a2.7 2.7 0 1 0 -5.4 0M827.6 251.2a2.7 2.7 0 1 0 5.4 0a2.7 2.7 0 1 0 -5.4 0M829.2 244.2a2.7 2.7 0 1 0 5.4 0a2.7 2.7 0 1 0 -5.4 0M830.7 236.7a2.7 2.7 0 1 0 5.4 0a2.7 2.7 0 1 0 -5.4 0M832.3 229.8a2.7 2.7 0 1 0 5.4 0a2.7 2.7 0 1 0 -5.4 0M833.9 223a2.7 2.7 0 1 0 5.4 0a2.7 2.7 0 1 0 -5.4 0M835.5 217a2.7 2.7 0 1 0 5.4 0a2.7 2.7 0 1 0 -5.4 0M837.1 212.4a2.7 2.7 0 1 0 5.4 0a2.7 2.7 0 1 0 -5.4 0M838.6 208.7a2.7 2.7 0 1 0 5.4 0a2.7 2.7 0 1 0 -5.4 0M840.2 205.5a2.7 2.7 0 1 0 5.4 0a2.7 2.7 0 1 0 -5.4 0M841.8 202.9a2.7 2.7 0 1 0 5.4 0a2.7 2.7 0 1 0 -5.4 0M843.4 200.8a2.7 2.7 0 1 0 5.4 0a2.7 2.7 0 1 0 -5.4 0M845 199.2a2.7 2.7 0 1 0 5.4 0a2.7 2.7 0 1 0 -5.4 0M846.5 197.9a2.7 2.7 0 1 0 5.4 0a2.7 2.7 0 1 0 -5.4 0M848.1 196.7a2.7 2.7 0 1 0 5.4 0a2.7 2.7 0 1 0 -5.4 0M849.7 195.6a2.7 2.7 0 1 0 5.4 0a2.7 2.7 0 1 0 -5.4 0M851.3 194.7a2.7 2.7 0 1 0 5.4 0a2.7 2.7 0 1 0 -5.4 0M852.8 194.2a2.7 2.7 0 1 0 5.4 0a2.7 2.7 0 1 0 -5.4 0M854.4 193.9a2.7 2.7 0 1 0 5.4 0a2.7 2.7 0 1 0 -5.4 0M856 193.6a2.7 2.7 0 1 0 5.4 0a2.7 2.7 0 1 0 -5.4 0M857.6 193.4a2.7 2.7 0 1 0 5.4 0a2.7 2.7 0 1 0 -5.4 0M859.2 193.3a2.7 2.7 0 1 0 5.4 0a2.7 2.7 0 1 0 -5.4 0M860.7 193.1a2.7 2.7 0 1 0 5.4 0a2.7 2.7 0 1 0 -5.4 0M862.3 193a2.7 2.7 0 1 0 5.4 0a2.7 2.7 0 1 0 -5.4 0M863.9 192.9a2.7 2.7 0 1 0 5.4 0a2.7 2.7 0 1 0 -5.4 0M865.5 192.8a2.7 2.7 0 1 0 5.4 0a2.7 2.7 0 1 0 -5.4 0M867 192.7a2.7 2.7 0 1 0 5.4 0a2.7 2.7 0 1 0 -5.4 0M868.6 192.6a2.7 2.7 0 1 0 5.4 0a2.7 2.7 0 1 0 -5.4 0M870.2 192.5a2.7 2.7 0 1 0 5.4 0a2.7 2.7 0 1 0 -5.4 0M871.8 192.4a2.7 2.7 0 1 0 5.4 0a2.7 2.7 0 1 0 -5.4 0M873.4 192.4a2.7 2.7 0 1 0 5.4 0a2.7 2.7 0 1 0 -5.4 0M874.9 192.3a2.7 2.7 0 1 0 5.4 0a2.7 2.7 0 1 0 -5.4 0M876.5 192.2a2.7 2.7 0 1 0 5.4 0a2.7 2.7 0 1 0 -5.4 0M878.1 192.2a2.7 2.7 0 1 0 5.4 0a2.7 2.7 0 1 0 -5.4 0M879.7 192.1a2.7 2.7 0 1 0 5.4 0a2.7 2.7 0 1 0 -5.4 0M881.3 192.1a2.7 2.7 0 1 0 5.4 0a2.7 2.7 0 1 0 -5.4 0M882.8 192a2.7 2.7 0 1 0 5.4 0a2.7 2.7 0 1 0 -5.4 0M884.4 192a2.7 2.7 0 1 0 5.4 0a2.7 2.7 0 1 0 -5.4 0M886 191.9a2.7 2.7 0 1 0 5.4 0a2.7 2.7 0 1 0 -5.4 0M887.6 191.8a2.7 2.7 0 1 0 5.4 0a2.7 2.7 0 1 0 -5.4 0M889.1 191.8a2.7 2.7 0 1 0 5.4 0a2.7 2.7 0 1 0 -5.4 0M890.7 191.7a2.7 2.7 0 1 0 5.4 0a2.7 2.7 0 1 0 -5.4 0" fill="#fff" stroke="#0000ff" stroke-width="1"/>
<path d="M768.7 266.9V262.9M768.7 162.4V166.4M831.9 266.9V262.9M831.9 162.4V166.4M705.6 214.6H709.6M895 214.6H891" stroke="#000" stroke-width="1.3" fill="none"/>
<rect x="705.6" y="162.4" width="189.4" height="104.5" fill="none" stroke="#000" stroke-width="1.3"/>
<text x="705.6" y="288.2" font-size="20" text-anchor="middle"><tspan>0</tspan></text>
<text x="768.7" y="288.2" font-size="20" text-anchor="middle"><tspan>2</tspan></text>
<text x="831.9" y="288.2" font-size="20" text-anchor="middle"><tspan>4</tspan></text>
<text x="895" y="288.2" font-size="20" text-anchor="middle"><tspan>6</tspan></text>
<text x="699.6" y="274.1" font-size="20" text-anchor="end"><tspan>0</tspan></text>
<text x="699.6" y="221.8" font-size="20" text-anchor="end"><tspan>0.2</tspan></text>
<text x="699.6" y="169.6" font-size="20" text-anchor="end"><tspan>0.4</tspan></text>
<text x="800.3" y="314.4" font-size="21" text-anchor="middle"><tspan font-style="italic">T</tspan><tspan> (K)</tspan></text>
<text x="660" y="214.6" font-size="20" text-anchor="middle" transform="rotate(-90 660 214.6)"><tspan font-style="italic">ρ</tspan><tspan dx="2.5">(mΩ cm)</tspan></text>
<text x="801.6" y="195.9" font-size="20" text-anchor="end"><tspan font-style="italic">ρ</tspan><tspan dy="3" font-size="13">0</tspan></text>
<text x="721.6" y="240.7" font-size="17"><tspan font-style="italic">T</tspan><tspan dy="4" font-size="12.5">c</tspan><tspan dy="-12" dx="-5" font-size="12.5">zero</tspan><tspan dy="8" dx="1"> = 3.73 K</tspan></text>
<path d="M796.3 251.3L827.2 265.2M822.5 258.7L827.2 265.2L819.2 266" fill="none" stroke="#000" stroke-width="2" stroke-linecap="round" stroke-linejoin="miter"/>
<path d="M1081.3 122.1 L1313 122.1" fill="none" stroke="#333" stroke-width="1.1" stroke-dasharray="7 3 2 3"/>
<path d="M1391 122.1 L1408 122.1" fill="none" stroke="#333" stroke-width="1.1" stroke-dasharray="7 3 2 3"/>
<path d="M1081.3 216.4 L1313 216.4" fill="none" stroke="#333" stroke-width="1.1" stroke-dasharray="1.5 2"/>
<path d="M1391 216.4 L1408 216.4" fill="none" stroke="#333" stroke-width="1.1" stroke-dasharray="1.5 2"/>
<path d="M1081.3 310.7 L1313 310.7" fill="none" stroke="#333" stroke-width="1.1" stroke-dasharray="5 3"/>
<path d="M1391 310.7 L1408 310.7" fill="none" stroke="#333" stroke-width="1.1" stroke-dasharray="5 3"/>
<path d="M1262.1 332.7 L1275.1 332.7 L1277.6 305.1 L1282 252.2 L1286.4 199.2 L1290.9 146.2 L1293.9 119.3 L1295.7 111.9 L1297.6 106.7 L1299.4 103.6 L1301.3 102.5 L1305.1 102.5 L1308.9 102.5 L1312.7 102.5 L1316.5 102.5 L1320.3 102.5 L1324.1 102.5 L1328 102.5 L1331.8 102.5 L1335.6 102.5 L1339.4 102.5 L1343.2 102.5 L1347 102.5 L1350.8 102.5 L1354.6 102.5 L1358.5 102.5 L1362.3 102.5 L1366.1 102.5 L1369.9 102.5 L1373.7 102.5 L1377.5 102.5 L1381.3 102.5 L1385.1 102.5 L1388.9 102.5 L1392.8 102.5 L1396.6 102.5 L1400.4 102.5 L1404.2 102.5" fill="none" stroke="#000000" stroke-width="1"/>
<path d="M1269.7 332.2a3.3 3.3 0 1 0 6.6 0a3.3 3.3 0 1 0 -6.6 0M1265.3 332.2a3.3 3.3 0 1 0 6.6 0a3.3 3.3 0 1 0 -6.6 0M1261 332.2a3.3 3.3 0 1 0 6.6 0a3.3 3.3 0 1 0 -6.6 0M1274.3 305.1a3.3 3.3 0 1 0 6.6 0a3.3 3.3 0 1 0 -6.6 0M1278.7 252.2a3.3 3.3 0 1 0 6.6 0a3.3 3.3 0 1 0 -6.6 0M1283.1 199.2a3.3 3.3 0 1 0 6.6 0a3.3 3.3 0 1 0 -6.6 0M1287.6 146.2a3.3 3.3 0 1 0 6.6 0a3.3 3.3 0 1 0 -6.6 0M1292.4 111.9a3.3 3.3 0 1 0 6.6 0a3.3 3.3 0 1 0 -6.6 0M1296.1 103.6a3.3 3.3 0 1 0 6.6 0a3.3 3.3 0 1 0 -6.6 0M1301.8 102.5a3.3 3.3 0 1 0 6.6 0a3.3 3.3 0 1 0 -6.6 0M1305.6 102.5a3.3 3.3 0 1 0 6.6 0a3.3 3.3 0 1 0 -6.6 0M1309.4 102.5a3.3 3.3 0 1 0 6.6 0a3.3 3.3 0 1 0 -6.6 0M1313.2 102.5a3.3 3.3 0 1 0 6.6 0a3.3 3.3 0 1 0 -6.6 0M1317 102.5a3.3 3.3 0 1 0 6.6 0a3.3 3.3 0 1 0 -6.6 0M1320.8 102.5a3.3 3.3 0 1 0 6.6 0a3.3 3.3 0 1 0 -6.6 0M1324.7 102.5a3.3 3.3 0 1 0 6.6 0a3.3 3.3 0 1 0 -6.6 0M1328.5 102.5a3.3 3.3 0 1 0 6.6 0a3.3 3.3 0 1 0 -6.6 0M1332.3 102.5a3.3 3.3 0 1 0 6.6 0a3.3 3.3 0 1 0 -6.6 0M1336.1 102.5a3.3 3.3 0 1 0 6.6 0a3.3 3.3 0 1 0 -6.6 0M1339.9 102.5a3.3 3.3 0 1 0 6.6 0a3.3 3.3 0 1 0 -6.6 0M1343.7 102.5a3.3 3.3 0 1 0 6.6 0a3.3 3.3 0 1 0 -6.6 0M1347.5 102.5a3.3 3.3 0 1 0 6.6 0a3.3 3.3 0 1 0 -6.6 0M1351.3 102.5a3.3 3.3 0 1 0 6.6 0a3.3 3.3 0 1 0 -6.6 0M1355.2 102.5a3.3 3.3 0 1 0 6.6 0a3.3 3.3 0 1 0 -6.6 0M1359 102.5a3.3 3.3 0 1 0 6.6 0a3.3 3.3 0 1 0 -6.6 0M1362.8 102.5a3.3 3.3 0 1 0 6.6 0a3.3 3.3 0 1 0 -6.6 0M1366.6 102.5a3.3 3.3 0 1 0 6.6 0a3.3 3.3 0 1 0 -6.6 0M1370.4 102.5a3.3 3.3 0 1 0 6.6 0a3.3 3.3 0 1 0 -6.6 0M1374.2 102.5a3.3 3.3 0 1 0 6.6 0a3.3 3.3 0 1 0 -6.6 0M1378 102.5a3.3 3.3 0 1 0 6.6 0a3.3 3.3 0 1 0 -6.6 0M1381.8 102.5a3.3 3.3 0 1 0 6.6 0a3.3 3.3 0 1 0 -6.6 0M1385.6 102.5a3.3 3.3 0 1 0 6.6 0a3.3 3.3 0 1 0 -6.6 0M1389.5 102.5a3.3 3.3 0 1 0 6.6 0a3.3 3.3 0 1 0 -6.6 0M1393.3 102.5a3.3 3.3 0 1 0 6.6 0a3.3 3.3 0 1 0 -6.6 0M1397.1 102.5a3.3 3.3 0 1 0 6.6 0a3.3 3.3 0 1 0 -6.6 0M1400.9 102.5a3.3 3.3 0 1 0 6.6 0a3.3 3.3 0 1 0 -6.6 0" fill="#000000"/>
<path d="M1254.1 332.7 L1267.1 332.7 L1270.1 296.8 L1274.3 243.8 L1278.6 190.9 L1282.8 137.9 L1285 119 L1286.8 111.6 L1288.6 106.4 L1290.4 103.3 L1292.2 102.2 L1296 102.2 L1299.8 102.2 L1303.6 102.2 L1307.4 102.2 L1311.2 102.2 L1315 102.2 L1318.9 102.2 L1322.7 102.2 L1326.5 102.2 L1330.3 102.2 L1334.1 102.2 L1337.9 102.2 L1341.7 102.2 L1345.5 102.2 L1349.3 102.2 L1353.2 102.2 L1357 102.2 L1360.8 102.2 L1364.6 102.2 L1368.4 102.2 L1372.2 102.2 L1376 102.2 L1379.8 102.2 L1383.7 102.2 L1387.5 102.2 L1391.3 102.2 L1395.1 102.2 L1398.9 102.2 L1402.7 102.2 L1406.5 102.2" fill="none" stroke="#080000" stroke-width="1"/>
<path d="M1261.7 332.2a3.3 3.3 0 1 0 6.6 0a3.3 3.3 0 1 0 -6.6 0M1257.3 332.2a3.3 3.3 0 1 0 6.6 0a3.3 3.3 0 1 0 -6.6 0M1252.9 332.2a3.3 3.3 0 1 0 6.6 0a3.3 3.3 0 1 0 -6.6 0M1266.8 296.8a3.3 3.3 0 1 0 6.6 0a3.3 3.3 0 1 0 -6.6 0M1271 243.8a3.3 3.3 0 1 0 6.6 0a3.3 3.3 0 1 0 -6.6 0M1275.3 190.9a3.3 3.3 0 1 0 6.6 0a3.3 3.3 0 1 0 -6.6 0M1279.5 137.9a3.3 3.3 0 1 0 6.6 0a3.3 3.3 0 1 0 -6.6 0M1283.5 111.6a3.3 3.3 0 1 0 6.6 0a3.3 3.3 0 1 0 -6.6 0M1287.1 103.3a3.3 3.3 0 1 0 6.6 0a3.3 3.3 0 1 0 -6.6 0M1292.7 102.2a3.3 3.3 0 1 0 6.6 0a3.3 3.3 0 1 0 -6.6 0M1296.5 102.2a3.3 3.3 0 1 0 6.6 0a3.3 3.3 0 1 0 -6.6 0M1300.3 102.2a3.3 3.3 0 1 0 6.6 0a3.3 3.3 0 1 0 -6.6 0M1304.1 102.2a3.3 3.3 0 1 0 6.6 0a3.3 3.3 0 1 0 -6.6 0M1307.9 102.2a3.3 3.3 0 1 0 6.6 0a3.3 3.3 0 1 0 -6.6 0M1311.7 102.2a3.3 3.3 0 1 0 6.6 0a3.3 3.3 0 1 0 -6.6 0M1315.6 102.2a3.3 3.3 0 1 0 6.6 0a3.3 3.3 0 1 0 -6.6 0M1319.4 102.2a3.3 3.3 0 1 0 6.6 0a3.3 3.3 0 1 0 -6.6 0M1323.2 102.2a3.3 3.3 0 1 0 6.6 0a3.3 3.3 0 1 0 -6.6 0M1327 102.2a3.3 3.3 0 1 0 6.6 0a3.3 3.3 0 1 0 -6.6 0M1330.8 102.2a3.3 3.3 0 1 0 6.6 0a3.3 3.3 0 1 0 -6.6 0M1334.6 102.2a3.3 3.3 0 1 0 6.6 0a3.3 3.3 0 1 0 -6.6 0M1338.4 102.2a3.3 3.3 0 1 0 6.6 0a3.3 3.3 0 1 0 -6.6 0M1342.2 102.2a3.3 3.3 0 1 0 6.6 0a3.3 3.3 0 1 0 -6.6 0M1346 102.2a3.3 3.3 0 1 0 6.6 0a3.3 3.3 0 1 0 -6.6 0M1349.9 102.2a3.3 3.3 0 1 0 6.6 0a3.3 3.3 0 1 0 -6.6 0M1353.7 102.2a3.3 3.3 0 1 0 6.6 0a3.3 3.3 0 1 0 -6.6 0M1357.5 102.2a3.3 3.3 0 1 0 6.6 0a3.3 3.3 0 1 0 -6.6 0M1361.3 102.2a3.3 3.3 0 1 0 6.6 0a3.3 3.3 0 1 0 -6.6 0M1365.1 102.2a3.3 3.3 0 1 0 6.6 0a3.3 3.3 0 1 0 -6.6 0M1368.9 102.2a3.3 3.3 0 1 0 6.6 0a3.3 3.3 0 1 0 -6.6 0M1372.7 102.2a3.3 3.3 0 1 0 6.6 0a3.3 3.3 0 1 0 -6.6 0M1376.5 102.2a3.3 3.3 0 1 0 6.6 0a3.3 3.3 0 1 0 -6.6 0M1380.4 102.2a3.3 3.3 0 1 0 6.6 0a3.3 3.3 0 1 0 -6.6 0M1384.2 102.2a3.3 3.3 0 1 0 6.6 0a3.3 3.3 0 1 0 -6.6 0M1388 102.2a3.3 3.3 0 1 0 6.6 0a3.3 3.3 0 1 0 -6.6 0M1391.8 102.2a3.3 3.3 0 1 0 6.6 0a3.3 3.3 0 1 0 -6.6 0M1395.6 102.2a3.3 3.3 0 1 0 6.6 0a3.3 3.3 0 1 0 -6.6 0M1399.4 102.2a3.3 3.3 0 1 0 6.6 0a3.3 3.3 0 1 0 -6.6 0M1403.2 102.2a3.3 3.3 0 1 0 6.6 0a3.3 3.3 0 1 0 -6.6 0" fill="#080000"/>
<path d="M1246.1 332.7 L1259.1 332.7 L1260.3 318.9 L1264.3 265.9 L1268.3 213 L1272.3 160 L1276.2 118.7 L1277.9 111.4 L1279.6 106.1 L1281.4 103 L1283.1 101.9 L1286.9 101.9 L1290.7 101.9 L1294.5 101.9 L1298.3 101.9 L1302.1 101.9 L1305.9 101.9 L1309.8 101.9 L1313.6 101.9 L1317.4 101.9 L1321.2 101.9 L1325 101.9 L1328.8 101.9 L1332.6 101.9 L1336.4 101.9 L1340.2 101.9 L1344.1 101.9 L1347.9 101.9 L1351.7 101.9 L1355.5 101.9 L1359.3 101.9 L1363.1 101.9 L1366.9 101.9 L1370.7 101.9 L1374.6 101.9 L1378.4 101.9 L1382.2 101.9 L1386 101.9 L1389.8 101.9 L1393.6 101.9 L1397.4 101.9 L1401.2 101.9 L1405 101.9" fill="none" stroke="#130000" stroke-width="1"/>
<path d="M1253.6 332.2a3.3 3.3 0 1 0 6.6 0a3.3 3.3 0 1 0 -6.6 0M1249.3 332.2a3.3 3.3 0 1 0 6.6 0a3.3 3.3 0 1 0 -6.6 0M1244.9 332.2a3.3 3.3 0 1 0 6.6 0a3.3 3.3 0 1 0 -6.6 0M1257 318.9a3.3 3.3 0 1 0 6.6 0a3.3 3.3 0 1 0 -6.6 0M1261 265.9a3.3 3.3 0 1 0 6.6 0a3.3 3.3 0 1 0 -6.6 0M1265 213a3.3 3.3 0 1 0 6.6 0a3.3 3.3 0 1 0 -6.6 0M1269 160a3.3 3.3 0 1 0 6.6 0a3.3 3.3 0 1 0 -6.6 0M1274.6 111.4a3.3 3.3 0 1 0 6.6 0a3.3 3.3 0 1 0 -6.6 0M1278.1 103a3.3 3.3 0 1 0 6.6 0a3.3 3.3 0 1 0 -6.6 0M1283.6 101.9a3.3 3.3 0 1 0 6.6 0a3.3 3.3 0 1 0 -6.6 0M1287.4 101.9a3.3 3.3 0 1 0 6.6 0a3.3 3.3 0 1 0 -6.6 0M1291.2 101.9a3.3 3.3 0 1 0 6.6 0a3.3 3.3 0 1 0 -6.6 0M1295 101.9a3.3 3.3 0 1 0 6.6 0a3.3 3.3 0 1 0 -6.6 0M1298.8 101.9a3.3 3.3 0 1 0 6.6 0a3.3 3.3 0 1 0 -6.6 0M1302.6 101.9a3.3 3.3 0 1 0 6.6 0a3.3 3.3 0 1 0 -6.6 0M1306.5 101.9a3.3 3.3 0 1 0 6.6 0a3.3 3.3 0 1 0 -6.6 0M1310.3 101.9a3.3 3.3 0 1 0 6.6 0a3.3 3.3 0 1 0 -6.6 0M1314.1 101.9a3.3 3.3 0 1 0 6.6 0a3.3 3.3 0 1 0 -6.6 0M1317.9 101.9a3.3 3.3 0 1 0 6.6 0a3.3 3.3 0 1 0 -6.6 0M1321.7 101.9a3.3 3.3 0 1 0 6.6 0a3.3 3.3 0 1 0 -6.6 0M1325.5 101.9a3.3 3.3 0 1 0 6.6 0a3.3 3.3 0 1 0 -6.6 0M1329.3 101.9a3.3 3.3 0 1 0 6.6 0a3.3 3.3 0 1 0 -6.6 0M1333.1 101.9a3.3 3.3 0 1 0 6.6 0a3.3 3.3 0 1 0 -6.6 0M1336.9 101.9a3.3 3.3 0 1 0 6.6 0a3.3 3.3 0 1 0 -6.6 0M1340.8 101.9a3.3 3.3 0 1 0 6.6 0a3.3 3.3 0 1 0 -6.6 0M1344.6 101.9a3.3 3.3 0 1 0 6.6 0a3.3 3.3 0 1 0 -6.6 0M1348.4 101.9a3.3 3.3 0 1 0 6.6 0a3.3 3.3 0 1 0 -6.6 0M1352.2 101.9a3.3 3.3 0 1 0 6.6 0a3.3 3.3 0 1 0 -6.6 0M1356 101.9a3.3 3.3 0 1 0 6.6 0a3.3 3.3 0 1 0 -6.6 0M1359.8 101.9a3.3 3.3 0 1 0 6.6 0a3.3 3.3 0 1 0 -6.6 0M1363.6 101.9a3.3 3.3 0 1 0 6.6 0a3.3 3.3 0 1 0 -6.6 0M1367.4 101.9a3.3 3.3 0 1 0 6.6 0a3.3 3.3 0 1 0 -6.6 0M1371.3 101.9a3.3 3.3 0 1 0 6.6 0a3.3 3.3 0 1 0 -6.6 0M1375.1 101.9a3.3 3.3 0 1 0 6.6 0a3.3 3.3 0 1 0 -6.6 0M1378.9 101.9a3.3 3.3 0 1 0 6.6 0a3.3 3.3 0 1 0 -6.6 0M1382.7 101.9a3.3 3.3 0 1 0 6.6 0a3.3 3.3 0 1 0 -6.6 0M1386.5 101.9a3.3 3.3 0 1 0 6.6 0a3.3 3.3 0 1 0 -6.6 0M1390.3 101.9a3.3 3.3 0 1 0 6.6 0a3.3 3.3 0 1 0 -6.6 0M1394.1 101.9a3.3 3.3 0 1 0 6.6 0a3.3 3.3 0 1 0 -6.6 0M1397.9 101.9a3.3 3.3 0 1 0 6.6 0a3.3 3.3 0 1 0 -6.6 0M1401.7 101.9a3.3 3.3 0 1 0 6.6 0a3.3 3.3 0 1 0 -6.6 0" fill="#130000"/>
<path d="M1238 332.7 L1251.1 332.7 L1253.1 307.2 L1256.9 254.3 L1260.7 201.3 L1264.5 148.3 L1267.4 118.4 L1269 111.1 L1270.7 105.8 L1272.3 102.7 L1274 101.6 L1277.8 101.6 L1281.6 101.6 L1285.4 101.6 L1289.2 101.6 L1293 101.6 L1296.8 101.6 L1300.7 101.6 L1304.5 101.6 L1308.3 101.6 L1312.1 101.6 L1315.9 101.6 L1319.7 101.6 L1323.5 101.6 L1327.3 101.6 L1331.1 101.6 L1335 101.6 L1338.8 101.6 L1342.6 101.6 L1346.4 101.6 L1350.2 101.6 L1354 101.6 L1357.8 101.6 L1361.6 101.6 L1365.5 101.6 L1369.3 101.6 L1373.1 101.6 L1376.9 101.6 L1380.7 101.6 L1384.5 101.6 L1388.3 101.6 L1392.1 101.6 L1395.9 101.6 L1399.8 101.6 L1403.6 101.6 L1407.4 101.6" fill="none" stroke="#200000" stroke-width="1"/>
<path d="M1245.6 332.2a3.3 3.3 0 1 0 6.6 0a3.3 3.3 0 1 0 -6.6 0M1241.3 332.2a3.3 3.3 0 1 0 6.6 0a3.3 3.3 0 1 0 -6.6 0M1236.9 332.2a3.3 3.3 0 1 0 6.6 0a3.3 3.3 0 1 0 -6.6 0M1249.8 307.2a3.3 3.3 0 1 0 6.6 0a3.3 3.3 0 1 0 -6.6 0M1253.6 254.3a3.3 3.3 0 1 0 6.6 0a3.3 3.3 0 1 0 -6.6 0M1257.4 201.3a3.3 3.3 0 1 0 6.6 0a3.3 3.3 0 1 0 -6.6 0M1261.2 148.3a3.3 3.3 0 1 0 6.6 0a3.3 3.3 0 1 0 -6.6 0M1265.7 111.1a3.3 3.3 0 1 0 6.6 0a3.3 3.3 0 1 0 -6.6 0M1269 102.7a3.3 3.3 0 1 0 6.6 0a3.3 3.3 0 1 0 -6.6 0M1274.5 101.6a3.3 3.3 0 1 0 6.6 0a3.3 3.3 0 1 0 -6.6 0M1278.3 101.6a3.3 3.3 0 1 0 6.6 0a3.3 3.3 0 1 0 -6.6 0M1282.1 101.6a3.3 3.3 0 1 0 6.6 0a3.3 3.3 0 1 0 -6.6 0M1285.9 101.6a3.3 3.3 0 1 0 6.6 0a3.3 3.3 0 1 0 -6.6 0M1289.7 101.6a3.3 3.3 0 1 0 6.6 0a3.3 3.3 0 1 0 -6.6 0M1293.5 101.6a3.3 3.3 0 1 0 6.6 0a3.3 3.3 0 1 0 -6.6 0M1297.4 101.6a3.3 3.3 0 1 0 6.6 0a3.3 3.3 0 1 0 -6.6 0M1301.2 101.6a3.3 3.3 0 1 0 6.6 0a3.3 3.3 0 1 0 -6.6 0M1305 101.6a3.3 3.3 0 1 0 6.6 0a3.3 3.3 0 1 0 -6.6 0M1308.8 101.6a3.3 3.3 0 1 0 6.6 0a3.3 3.3 0 1 0 -6.6 0M1312.6 101.6a3.3 3.3 0 1 0 6.6 0a3.3 3.3 0 1 0 -6.6 0M1316.4 101.6a3.3 3.3 0 1 0 6.6 0a3.3 3.3 0 1 0 -6.6 0M1320.2 101.6a3.3 3.3 0 1 0 6.6 0a3.3 3.3 0 1 0 -6.6 0M1324 101.6a3.3 3.3 0 1 0 6.6 0a3.3 3.3 0 1 0 -6.6 0M1327.8 101.6a3.3 3.3 0 1 0 6.6 0a3.3 3.3 0 1 0 -6.6 0M1331.7 101.6a3.3 3.3 0 1 0 6.6 0a3.3 3.3 0 1 0 -6.6 0M1335.5 101.6a3.3 3.3 0 1 0 6.6 0a3.3 3.3 0 1 0 -6.6 0M1339.3 101.6a3.3 3.3 0 1 0 6.6 0a3.3 3.3 0 1 0 -6.6 0M1343.1 101.6a3.3 3.3 0 1 0 6.6 0a3.3 3.3 0 1 0 -6.6 0M1346.9 101.6a3.3 3.3 0 1 0 6.6 0a3.3 3.3 0 1 0 -6.6 0M1350.7 101.6a3.3 3.3 0 1 0 6.6 0a3.3 3.3 0 1 0 -6.6 0M1354.5 101.6a3.3 3.3 0 1 0 6.6 0a3.3 3.3 0 1 0 -6.6 0M1358.3 101.6a3.3 3.3 0 1 0 6.6 0a3.3 3.3 0 1 0 -6.6 0M1362.2 101.6a3.3 3.3 0 1 0 6.6 0a3.3 3.3 0 1 0 -6.6 0M1366 101.6a3.3 3.3 0 1 0 6.6 0a3.3 3.3 0 1 0 -6.6 0M1369.8 101.6a3.3 3.3 0 1 0 6.6 0a3.3 3.3 0 1 0 -6.6 0M1373.6 101.6a3.3 3.3 0 1 0 6.6 0a3.3 3.3 0 1 0 -6.6 0M1377.4 101.6a3.3 3.3 0 1 0 6.6 0a3.3 3.3 0 1 0 -6.6 0M1381.2 101.6a3.3 3.3 0 1 0 6.6 0a3.3 3.3 0 1 0 -6.6 0M1385 101.6a3.3 3.3 0 1 0 6.6 0a3.3 3.3 0 1 0 -6.6 0M1388.8 101.6a3.3 3.3 0 1 0 6.6 0a3.3 3.3 0 1 0 -6.6 0M1392.6 101.6a3.3 3.3 0 1 0 6.6 0a3.3 3.3 0 1 0 -6.6 0M1396.5 101.6a3.3 3.3 0 1 0 6.6 0a3.3 3.3 0 1 0 -6.6 0M1400.3 101.6a3.3 3.3 0 1 0 6.6 0a3.3 3.3 0 1 0 -6.6 0M1404.1 101.6a3.3 3.3 0 1 0 6.6 0a3.3 3.3 0 1 0 -6.6 0" fill="#200000"/>
<path d="M1230 332.7 L1243.1 332.7 L1246.3 287 L1249.9 234 L1253.6 181.1 L1257.2 128.1 L1258.5 118.1 L1260.1 110.8 L1261.7 105.5 L1263.3 102.4 L1264.9 101.3 L1268.7 101.3 L1272.5 101.3 L1276.3 101.3 L1280.1 101.3 L1283.9 101.3 L1287.7 101.3 L1291.6 101.3 L1295.4 101.3 L1299.2 101.3 L1303 101.3 L1306.8 101.3 L1310.6 101.3 L1314.4 101.3 L1318.2 101.3 L1322 101.3 L1325.9 101.3 L1329.7 101.3 L1333.5 101.3 L1337.3 101.3 L1341.1 101.3 L1344.9 101.3 L1348.7 101.3 L1352.5 101.3 L1356.4 101.3 L1360.2 101.3 L1364 101.3 L1367.8 101.3 L1371.6 101.3 L1375.4 101.3 L1379.2 101.3 L1383 101.3 L1386.8 101.3 L1390.7 101.3 L1394.5 101.3 L1398.3 101.3 L1402.1 101.3 L1405.9 101.3" fill="none" stroke="#2e0000" stroke-width="1"/>
<path d="M1237.6 332.2a3.3 3.3 0 1 0 6.6 0a3.3 3.3 0 1 0 -6.6 0M1233.3 332.2a3.3 3.3 0 1 0 6.6 0a3.3 3.3 0 1 0 -6.6 0M1228.9 332.2a3.3 3.3 0 1 0 6.6 0a3.3 3.3 0 1 0 -6.6 0M1243 287a3.3 3.3 0 1 0 6.6 0a3.3 3.3 0 1 0 -6.6 0M1246.6 234a3.3 3.3 0 1 0 6.6 0a3.3 3.3 0 1 0 -6.6 0M1250.3 181.1a3.3 3.3 0 1 0 6.6 0a3.3 3.3 0 1 0 -6.6 0M1253.9 128.1a3.3 3.3 0 1 0 6.6 0a3.3 3.3 0 1 0 -6.6 0M1256.8 110.8a3.3 3.3 0 1 0 6.6 0a3.3 3.3 0 1 0 -6.6 0M1260 102.4a3.3 3.3 0 1 0 6.6 0a3.3 3.3 0 1 0 -6.6 0M1265.4 101.3a3.3 3.3 0 1 0 6.6 0a3.3 3.3 0 1 0 -6.6 0M1269.2 101.3a3.3 3.3 0 1 0 6.6 0a3.3 3.3 0 1 0 -6.6 0M1273 101.3a3.3 3.3 0 1 0 6.6 0a3.3 3.3 0 1 0 -6.6 0M1276.8 101.3a3.3 3.3 0 1 0 6.6 0a3.3 3.3 0 1 0 -6.6 0M1280.6 101.3a3.3 3.3 0 1 0 6.6 0a3.3 3.3 0 1 0 -6.6 0M1284.4 101.3a3.3 3.3 0 1 0 6.6 0a3.3 3.3 0 1 0 -6.6 0M1288.3 101.3a3.3 3.3 0 1 0 6.6 0a3.3 3.3 0 1 0 -6.6 0M1292.1 101.3a3.3 3.3 0 1 0 6.6 0a3.3 3.3 0 1 0 -6.6 0M1295.9 101.3a3.3 3.3 0 1 0 6.6 0a3.3 3.3 0 1 0 -6.6 0M1299.7 101.3a3.3 3.3 0 1 0 6.6 0a3.3 3.3 0 1 0 -6.6 0M1303.5 101.3a3.3 3.3 0 1 0 6.6 0a3.3 3.3 0 1 0 -6.6 0M1307.3 101.3a3.3 3.3 0 1 0 6.6 0a3.3 3.3 0 1 0 -6.6 0M1311.1 101.3a3.3 3.3 0 1 0 6.6 0a3.3 3.3 0 1 0 -6.6 0M1314.9 101.3a3.3 3.3 0 1 0 6.6 0a3.3 3.3 0 1 0 -6.6 0M1318.7 101.3a3.3 3.3 0 1 0 6.6 0a3.3 3.3 0 1 0 -6.6 0M1322.6 101.3a3.3 3.3 0 1 0 6.6 0a3.3 3.3 0 1 0 -6.6 0M1326.4 101.3a3.3 3.3 0 1 0 6.6 0a3.3 3.3 0 1 0 -6.6 0M1330.2 101.3a3.3 3.3 0 1 0 6.6 0a3.3 3.3 0 1 0 -6.6 0M1334 101.3a3.3 3.3 0 1 0 6.6 0a3.3 3.3 0 1 0 -6.6 0M1337.8 101.3a3.3 3.3 0 1 0 6.6 0a3.3 3.3 0 1 0 -6.6 0M1341.6 101.3a3.3 3.3 0 1 0 6.6 0a3.3 3.3 0 1 0 -6.6 0M1345.4 101.3a3.3 3.3 0 1 0 6.6 0a3.3 3.3 0 1 0 -6.6 0M1349.2 101.3a3.3 3.3 0 1 0 6.6 0a3.3 3.3 0 1 0 -6.6 0M1353.1 101.3a3.3 3.3 0 1 0 6.6 0a3.3 3.3 0 1 0 -6.6 0M1356.9 101.3a3.3 3.3 0 1 0 6.6 0a3.3 3.3 0 1 0 -6.6 0M1360.7 101.3a3.3 3.3 0 1 0 6.6 0a3.3 3.3 0 1 0 -6.6 0M1364.5 101.3a3.3 3.3 0 1 0 6.6 0a3.3 3.3 0 1 0 -6.6 0M1368.3 101.3a3.3 3.3 0 1 0 6.6 0a3.3 3.3 0 1 0 -6.6 0M1372.1 101.3a3.3 3.3 0 1 0 6.6 0a3.3 3.3 0 1 0 -6.6 0M1375.9 101.3a3.3 3.3 0 1 0 6.6 0a3.3 3.3 0 1 0 -6.6 0M1379.7 101.3a3.3 3.3 0 1 0 6.6 0a3.3 3.3 0 1 0 -6.6 0M1383.5 101.3a3.3 3.3 0 1 0 6.6 0a3.3 3.3 0 1 0 -6.6 0M1387.4 101.3a3.3 3.3 0 1 0 6.6 0a3.3 3.3 0 1 0 -6.6 0M1391.2 101.3a3.3 3.3 0 1 0 6.6 0a3.3 3.3 0 1 0 -6.6 0M1395 101.3a3.3 3.3 0 1 0 6.6 0a3.3 3.3 0 1 0 -6.6 0M1398.8 101.3a3.3 3.3 0 1 0 6.6 0a3.3 3.3 0 1 0 -6.6 0M1402.6 101.3a3.3 3.3 0 1 0 6.6 0a3.3 3.3 0 1 0 -6.6 0" fill="#2e0000"/>
<path d="M1222 332.7 L1235.1 332.7 L1238.1 286.8 L1241.6 233.9 L1245 180.9 L1248.4 127.9 L1249.7 117.9 L1251.2 110.5 L1252.7 105.2 L1254.3 102.1 L1255.8 101 L1259.6 101 L1263.4 101 L1267.2 101 L1271 101 L1274.8 101 L1278.6 101 L1282.5 101 L1286.3 101 L1290.1 101 L1293.9 101 L1297.7 101 L1301.5 101 L1305.3 101 L1309.1 101 L1312.9 101 L1316.8 101 L1320.6 101 L1324.4 101 L1328.2 101 L1332 101 L1335.8 101 L1339.6 101 L1343.4 101 L1347.2 101 L1351.1 101 L1354.9 101 L1358.7 101 L1362.5 101 L1366.3 101 L1370.1 101 L1373.9 101 L1377.7 101 L1381.6 101 L1385.4 101 L1389.2 101 L1393 101 L1396.8 101 L1400.6 101 L1404.4 101" fill="none" stroke="#3e0000" stroke-width="1"/>
<path d="M1229.6 332.2a3.3 3.3 0 1 0 6.6 0a3.3 3.3 0 1 0 -6.6 0M1225.2 332.2a3.3 3.3 0 1 0 6.6 0a3.3 3.3 0 1 0 -6.6 0M1220.9 332.2a3.3 3.3 0 1 0 6.6 0a3.3 3.3 0 1 0 -6.6 0M1234.8 286.8a3.3 3.3 0 1 0 6.6 0a3.3 3.3 0 1 0 -6.6 0M1238.3 233.9a3.3 3.3 0 1 0 6.6 0a3.3 3.3 0 1 0 -6.6 0M1241.7 180.9a3.3 3.3 0 1 0 6.6 0a3.3 3.3 0 1 0 -6.6 0M1245.1 127.9a3.3 3.3 0 1 0 6.6 0a3.3 3.3 0 1 0 -6.6 0M1247.9 110.5a3.3 3.3 0 1 0 6.6 0a3.3 3.3 0 1 0 -6.6 0M1251 102.1a3.3 3.3 0 1 0 6.6 0a3.3 3.3 0 1 0 -6.6 0M1256.3 101a3.3 3.3 0 1 0 6.6 0a3.3 3.3 0 1 0 -6.6 0M1260.1 101a3.3 3.3 0 1 0 6.6 0a3.3 3.3 0 1 0 -6.6 0M1263.9 101a3.3 3.3 0 1 0 6.6 0a3.3 3.3 0 1 0 -6.6 0M1267.7 101a3.3 3.3 0 1 0 6.6 0a3.3 3.3 0 1 0 -6.6 0M1271.5 101a3.3 3.3 0 1 0 6.6 0a3.3 3.3 0 1 0 -6.6 0M1275.3 101a3.3 3.3 0 1 0 6.6 0a3.3 3.3 0 1 0 -6.6 0M1279.2 101a3.3 3.3 0 1 0 6.6 0a3.3 3.3 0 1 0 -6.6 0M1283 101a3.3 3.3 0 1 0 6.6 0a3.3 3.3 0 1 0 -6.6 0M1286.8 101a3.3 3.3 0 1 0 6.6 0a3.3 3.3 0 1 0 -6.6 0M1290.6 101a3.3 3.3 0 1 0 6.6 0a3.3 3.3 0 1 0 -6.6 0M1294.4 101a3.3 3.3 0 1 0 6.6 0a3.3 3.3 0 1 0 -6.6 0M1298.2 101a3.3 3.3 0 1 0 6.6 0a3.3 3.3 0 1 0 -6.6 0M1302 101a3.3 3.3 0 1 0 6.6 0a3.3 3.3 0 1 0 -6.6 0M1305.8 101a3.3 3.3 0 1 0 6.6 0a3.3 3.3 0 1 0 -6.6 0M1309.6 101a3.3 3.3 0 1 0 6.6 0a3.3 3.3 0 1 0 -6.6 0M1313.5 101a3.3 3.3 0 1 0 6.6 0a3.3 3.3 0 1 0 -6.6 0M1317.3 101a3.3 3.3 0 1 0 6.6 0a3.3 3.3 0 1 0 -6.6 0M1321.1 101a3.3 3.3 0 1 0 6.6 0a3.3 3.3 0 1 0 -6.6 0M1324.9 101a3.3 3.3 0 1 0 6.6 0a3.3 3.3 0 1 0 -6.6 0M1328.7 101a3.3 3.3 0 1 0 6.6 0a3.3 3.3 0 1 0 -6.6 0M1332.5 101a3.3 3.3 0 1 0 6.6 0a3.3 3.3 0 1 0 -6.6 0M1336.3 101a3.3 3.3 0 1 0 6.6 0a3.3 3.3 0 1 0 -6.6 0M1340.1 101a3.3 3.3 0 1 0 6.6 0a3.3 3.3 0 1 0 -6.6 0M1343.9 101a3.3 3.3 0 1 0 6.6 0a3.3 3.3 0 1 0 -6.6 0M1347.8 101a3.3 3.3 0 1 0 6.6 0a3.3 3.3 0 1 0 -6.6 0M1351.6 101a3.3 3.3 0 1 0 6.6 0a3.3 3.3 0 1 0 -6.6 0M1355.4 101a3.3 3.3 0 1 0 6.6 0a3.3 3.3 0 1 0 -6.6 0M1359.2 101a3.3 3.3 0 1 0 6.6 0a3.3 3.3 0 1 0 -6.6 0M1363 101a3.3 3.3 0 1 0 6.6 0a3.3 3.3 0 1 0 -6.6 0M1366.8 101a3.3 3.3 0 1 0 6.6 0a3.3 3.3 0 1 0 -6.6 0M1370.6 101a3.3 3.3 0 1 0 6.6 0a3.3 3.3 0 1 0 -6.6 0M1374.4 101a3.3 3.3 0 1 0 6.6 0a3.3 3.3 0 1 0 -6.6 0M1378.3 101a3.3 3.3 0 1 0 6.6 0a3.3 3.3 0 1 0 -6.6 0M1382.1 101a3.3 3.3 0 1 0 6.6 0a3.3 3.3 0 1 0 -6.6 0M1385.9 101a3.3 3.3 0 1 0 6.6 0a3.3 3.3 0 1 0 -6.6 0M1389.7 101a3.3 3.3 0 1 0 6.6 0a3.3 3.3 0 1 0 -6.6 0M1393.5 101a3.3 3.3 0 1 0 6.6 0a3.3 3.3 0 1 0 -6.6 0M1397.3 101a3.3 3.3 0 1 0 6.6 0a3.3 3.3 0 1 0 -6.6 0M1401.1 101a3.3 3.3 0 1 0 6.6 0a3.3 3.3 0 1 0 -6.6 0" fill="#3e0000"/>
<path d="M1214 332.7 L1227.1 332.7 L1227.5 327.6 L1230.7 274.7 L1233.9 221.7 L1237.1 168.7 L1240.9 117.6 L1242.3 110.2 L1243.8 104.9 L1245.2 101.8 L1246.7 100.7 L1250.5 100.7 L1254.3 100.7 L1258.1 100.7 L1261.9 100.7 L1265.7 100.7 L1269.5 100.7 L1273.4 100.7 L1277.2 100.7 L1281 100.7 L1284.8 100.7 L1288.6 100.7 L1292.4 100.7 L1296.2 100.7 L1300 100.7 L1303.8 100.7 L1307.7 100.7 L1311.5 100.7 L1315.3 100.7 L1319.1 100.7 L1322.9 100.7 L1326.7 100.7 L1330.5 100.7 L1334.3 100.7 L1338.1 100.7 L1342 100.7 L1345.8 100.7 L1349.6 100.7 L1353.4 100.7 L1357.2 100.7 L1361 100.7 L1364.8 100.7 L1368.6 100.7 L1372.5 100.7 L1376.3 100.7 L1380.1 100.7 L1383.9 100.7 L1387.7 100.7 L1391.5 100.7 L1395.3 100.7 L1399.1 100.7 L1402.9 100.7 L1406.8 100.7" fill="none" stroke="#4e0000" stroke-width="1"/>
<path d="M1221.6 332.2a3.3 3.3 0 1 0 6.6 0a3.3 3.3 0 1 0 -6.6 0M1217.2 332.2a3.3 3.3 0 1 0 6.6 0a3.3 3.3 0 1 0 -6.6 0M1212.9 332.2a3.3 3.3 0 1 0 6.6 0a3.3 3.3 0 1 0 -6.6 0M1224.2 327.6a3.3 3.3 0 1 0 6.6 0a3.3 3.3 0 1 0 -6.6 0M1227.4 274.7a3.3 3.3 0 1 0 6.6 0a3.3 3.3 0 1 0 -6.6 0M1230.6 221.7a3.3 3.3 0 1 0 6.6 0a3.3 3.3 0 1 0 -6.6 0M1233.8 168.7a3.3 3.3 0 1 0 6.6 0a3.3 3.3 0 1 0 -6.6 0M1239 110.2a3.3 3.3 0 1 0 6.6 0a3.3 3.3 0 1 0 -6.6 0M1241.9 101.8a3.3 3.3 0 1 0 6.6 0a3.3 3.3 0 1 0 -6.6 0M1247.2 100.7a3.3 3.3 0 1 0 6.6 0a3.3 3.3 0 1 0 -6.6 0M1251 100.7a3.3 3.3 0 1 0 6.6 0a3.3 3.3 0 1 0 -6.6 0M1254.8 100.7a3.3 3.3 0 1 0 6.6 0a3.3 3.3 0 1 0 -6.6 0M1258.6 100.7a3.3 3.3 0 1 0 6.6 0a3.3 3.3 0 1 0 -6.6 0M1262.4 100.7a3.3 3.3 0 1 0 6.6 0a3.3 3.3 0 1 0 -6.6 0M1266.2 100.7a3.3 3.3 0 1 0 6.6 0a3.3 3.3 0 1 0 -6.6 0M1270.1 100.7a3.3 3.3 0 1 0 6.6 0a3.3 3.3 0 1 0 -6.6 0M1273.9 100.7a3.3 3.3 0 1 0 6.6 0a3.3 3.3 0 1 0 -6.6 0M1277.7 100.7a3.3 3.3 0 1 0 6.6 0a3.3 3.3 0 1 0 -6.6 0M1281.5 100.7a3.3 3.3 0 1 0 6.6 0a3.3 3.3 0 1 0 -6.6 0M1285.3 100.7a3.3 3.3 0 1 0 6.6 0a3.3 3.3 0 1 0 -6.6 0M1289.1 100.7a3.3 3.3 0 1 0 6.6 0a3.3 3.3 0 1 0 -6.6 0M1292.9 100.7a3.3 3.3 0 1 0 6.6 0a3.3 3.3 0 1 0 -6.6 0M1296.7 100.7a3.3 3.3 0 1 0 6.6 0a3.3 3.3 0 1 0 -6.6 0M1300.5 100.7a3.3 3.3 0 1 0 6.6 0a3.3 3.3 0 1 0 -6.6 0M1304.4 100.7a3.3 3.3 0 1 0 6.6 0a3.3 3.3 0 1 0 -6.6 0M1308.2 100.7a3.3 3.3 0 1 0 6.6 0a3.3 3.3 0 1 0 -6.6 0M1312 100.7a3.3 3.3 0 1 0 6.6 0a3.3 3.3 0 1 0 -6.6 0M1315.8 100.7a3.3 3.3 0 1 0 6.6 0a3.3 3.3 0 1 0 -6.6 0M1319.6 100.7a3.3 3.3 0 1 0 6.6 0a3.3 3.3 0 1 0 -6.6 0M1323.4 100.7a3.3 3.3 0 1 0 6.6 0a3.3 3.3 0 1 0 -6.6 0M1327.2 100.7a3.3 3.3 0 1 0 6.6 0a3.3 3.3 0 1 0 -6.6 0M1331 100.7a3.3 3.3 0 1 0 6.6 0a3.3 3.3 0 1 0 -6.6 0M1334.8 100.7a3.3 3.3 0 1 0 6.6 0a3.3 3.3 0 1 0 -6.6 0M1338.7 100.7a3.3 3.3 0 1 0 6.6 0a3.3 3.3 0 1 0 -6.6 0M1342.5 100.7a3.3 3.3 0 1 0 6.6 0a3.3 3.3 0 1 0 -6.6 0M1346.3 100.7a3.3 3.3 0 1 0 6.6 0a3.3 3.3 0 1 0 -6.6 0M1350.1 100.7a3.3 3.3 0 1 0 6.6 0a3.3 3.3 0 1 0 -6.6 0M1353.9 100.7a3.3 3.3 0 1 0 6.6 0a3.3 3.3 0 1 0 -6.6 0M1357.7 100.7a3.3 3.3 0 1 0 6.6 0a3.3 3.3 0 1 0 -6.6 0M1361.5 100.7a3.3 3.3 0 1 0 6.6 0a3.3 3.3 0 1 0 -6.6 0M1365.3 100.7a3.3 3.3 0 1 0 6.6 0a3.3 3.3 0 1 0 -6.6 0M1369.2 100.7a3.3 3.3 0 1 0 6.6 0a3.3 3.3 0 1 0 -6.6 0M1373 100.7a3.3 3.3 0 1 0 6.6 0a3.3 3.3 0 1 0 -6.6 0M1376.8 100.7a3.3 3.3 0 1 0 6.6 0a3.3 3.3 0 1 0 -6.6 0M1380.6 100.7a3.3 3.3 0 1 0 6.6 0a3.3 3.3 0 1 0 -6.6 0M1384.4 100.7a3.3 3.3 0 1 0 6.6 0a3.3 3.3 0 1 0 -6.6 0M1388.2 100.7a3.3 3.3 0 1 0 6.6 0a3.3 3.3 0 1 0 -6.6 0M1392 100.7a3.3 3.3 0 1 0 6.6 0a3.3 3.3 0 1 0 -6.6 0M1395.8 100.7a3.3 3.3 0 1 0 6.6 0a3.3 3.3 0 1 0 -6.6 0M1399.6 100.7a3.3 3.3 0 1 0 6.6 0a3.3 3.3 0 1 0 -6.6 0M1403.5 100.7a3.3 3.3 0 1 0 6.6 0a3.3 3.3 0 1 0 -6.6 0" fill="#4e0000"/>
<path d="M1206 332.7 L1219.1 332.7 L1219.7 323.3 L1222.7 270.4 L1225.7 217.4 L1228.7 164.4 L1232 117.3 L1233.4 109.9 L1234.8 104.6 L1236.2 101.5 L1237.6 100.4 L1241.4 100.4 L1245.2 100.4 L1249 100.4 L1252.8 100.4 L1256.6 100.4 L1260.4 100.4 L1264.3 100.4 L1268.1 100.4 L1271.9 100.4 L1275.7 100.4 L1279.5 100.4 L1283.3 100.4 L1287.1 100.4 L1290.9 100.4 L1294.7 100.4 L1298.6 100.4 L1302.4 100.4 L1306.2 100.4 L1310 100.4 L1313.8 100.4 L1317.6 100.4 L1321.4 100.4 L1325.2 100.4 L1329 100.4 L1332.9 100.4 L1336.7 100.4 L1340.5 100.4 L1344.3 100.4 L1348.1 100.4 L1351.9 100.4 L1355.7 100.4 L1359.5 100.4 L1363.4 100.4 L1367.2 100.4 L1371 100.4 L1374.8 100.4 L1378.6 100.4 L1382.4 100.4 L1386.2 100.4 L1390 100.4 L1393.8 100.4 L1397.7 100.4 L1401.5 100.4 L1405.3 100.4" fill="none" stroke="#5f0000" stroke-width="1"/>
<path d="M1213.6 332.2a3.3 3.3 0 1 0 6.6 0a3.3 3.3 0 1 0 -6.6 0M1209.2 332.2a3.3 3.3 0 1 0 6.6 0a3.3 3.3 0 1 0 -6.6 0M1204.9 332.2a3.3 3.3 0 1 0 6.6 0a3.3 3.3 0 1 0 -6.6 0M1216.4 323.3a3.3 3.3 0 1 0 6.6 0a3.3 3.3 0 1 0 -6.6 0M1219.4 270.4a3.3 3.3 0 1 0 6.6 0a3.3 3.3 0 1 0 -6.6 0M1222.4 217.4a3.3 3.3 0 1 0 6.6 0a3.3 3.3 0 1 0 -6.6 0M1225.4 164.4a3.3 3.3 0 1 0 6.6 0a3.3 3.3 0 1 0 -6.6 0M1230.1 109.9a3.3 3.3 0 1 0 6.6 0a3.3 3.3 0 1 0 -6.6 0M1232.9 101.5a3.3 3.3 0 1 0 6.6 0a3.3 3.3 0 1 0 -6.6 0M1238.1 100.4a3.3 3.3 0 1 0 6.6 0a3.3 3.3 0 1 0 -6.6 0M1241.9 100.4a3.3 3.3 0 1 0 6.6 0a3.3 3.3 0 1 0 -6.6 0M1245.7 100.4a3.3 3.3 0 1 0 6.6 0a3.3 3.3 0 1 0 -6.6 0M1249.5 100.4a3.3 3.3 0 1 0 6.6 0a3.3 3.3 0 1 0 -6.6 0M1253.3 100.4a3.3 3.3 0 1 0 6.6 0a3.3 3.3 0 1 0 -6.6 0M1257.1 100.4a3.3 3.3 0 1 0 6.6 0a3.3 3.3 0 1 0 -6.6 0M1261 100.4a3.3 3.3 0 1 0 6.6 0a3.3 3.3 0 1 0 -6.6 0M1264.8 100.4a3.3 3.3 0 1 0 6.6 0a3.3 3.3 0 1 0 -6.6 0M1268.6 100.4a3.3 3.3 0 1 0 6.6 0a3.3 3.3 0 1 0 -6.6 0M1272.4 100.4a3.3 3.3 0 1 0 6.6 0a3.3 3.3 0 1 0 -6.6 0M1276.2 100.4a3.3 3.3 0 1 0 6.6 0a3.3 3.3 0 1 0 -6.6 0M1280 100.4a3.3 3.3 0 1 0 6.6 0a3.3 3.3 0 1 0 -6.6 0M1283.8 100.4a3.3 3.3 0 1 0 6.6 0a3.3 3.3 0 1 0 -6.6 0M1287.6 100.4a3.3 3.3 0 1 0 6.6 0a3.3 3.3 0 1 0 -6.6 0M1291.4 100.4a3.3 3.3 0 1 0 6.6 0a3.3 3.3 0 1 0 -6.6 0M1295.3 100.4a3.3 3.3 0 1 0 6.6 0a3.3 3.3 0 1 0 -6.6 0M1299.1 100.4a3.3 3.3 0 1 0 6.6 0a3.3 3.3 0 1 0 -6.6 0M1302.9 100.4a3.3 3.3 0 1 0 6.6 0a3.3 3.3 0 1 0 -6.6 0M1306.7 100.4a3.3 3.3 0 1 0 6.6 0a3.3 3.3 0 1 0 -6.6 0M1310.5 100.4a3.3 3.3 0 1 0 6.6 0a3.3 3.3 0 1 0 -6.6 0M1314.3 100.4a3.3 3.3 0 1 0 6.6 0a3.3 3.3 0 1 0 -6.6 0M1318.1 100.4a3.3 3.3 0 1 0 6.6 0a3.3 3.3 0 1 0 -6.6 0M1321.9 100.4a3.3 3.3 0 1 0 6.6 0a3.3 3.3 0 1 0 -6.6 0M1325.7 100.4a3.3 3.3 0 1 0 6.6 0a3.3 3.3 0 1 0 -6.6 0M1329.6 100.4a3.3 3.3 0 1 0 6.6 0a3.3 3.3 0 1 0 -6.6 0M1333.4 100.4a3.3 3.3 0 1 0 6.6 0a3.3 3.3 0 1 0 -6.6 0M1337.2 100.4a3.3 3.3 0 1 0 6.6 0a3.3 3.3 0 1 0 -6.6 0M1341 100.4a3.3 3.3 0 1 0 6.6 0a3.3 3.3 0 1 0 -6.6 0M1344.8 100.4a3.3 3.3 0 1 0 6.6 0a3.3 3.3 0 1 0 -6.6 0M1348.6 100.4a3.3 3.3 0 1 0 6.6 0a3.3 3.3 0 1 0 -6.6 0M1352.4 100.4a3.3 3.3 0 1 0 6.6 0a3.3 3.3 0 1 0 -6.6 0M1356.2 100.4a3.3 3.3 0 1 0 6.6 0a3.3 3.3 0 1 0 -6.6 0M1360.1 100.4a3.3 3.3 0 1 0 6.6 0a3.3 3.3 0 1 0 -6.6 0M1363.9 100.4a3.3 3.3 0 1 0 6.6 0a3.3 3.3 0 1 0 -6.6 0M1367.7 100.4a3.3 3.3 0 1 0 6.6 0a3.3 3.3 0 1 0 -6.6 0M1371.5 100.4a3.3 3.3 0 1 0 6.6 0a3.3 3.3 0 1 0 -6.6 0M1375.3 100.4a3.3 3.3 0 1 0 6.6 0a3.3 3.3 0 1 0 -6.6 0M1379.1 100.4a3.3 3.3 0 1 0 6.6 0a3.3 3.3 0 1 0 -6.6 0M1382.9 100.4a3.3 3.3 0 1 0 6.6 0a3.3 3.3 0 1 0 -6.6 0M1386.7 100.4a3.3 3.3 0 1 0 6.6 0a3.3 3.3 0 1 0 -6.6 0M1390.5 100.4a3.3 3.3 0 1 0 6.6 0a3.3 3.3 0 1 0 -6.6 0M1394.4 100.4a3.3 3.3 0 1 0 6.6 0a3.3 3.3 0 1 0 -6.6 0M1398.2 100.4a3.3 3.3 0 1 0 6.6 0a3.3 3.3 0 1 0 -6.6 0M1402 100.4a3.3 3.3 0 1 0 6.6 0a3.3 3.3 0 1 0 -6.6 0" fill="#5f0000"/>
<path d="M1198 332.7 L1211 332.7 L1211.2 331.6 L1214 278.6 L1216.8 225.6 L1219.6 172.7 L1223.2 117 L1224.5 109.6 L1225.8 104.3 L1227.1 101.2 L1228.5 100.1 L1232.3 100.1 L1236.1 100.1 L1239.9 100.1 L1243.7 100.1 L1247.5 100.1 L1251.3 100.1 L1255.2 100.1 L1259 100.1 L1262.8 100.1 L1266.6 100.1 L1270.4 100.1 L1274.2 100.1 L1278 100.1 L1281.8 100.1 L1285.6 100.1 L1289.5 100.1 L1293.3 100.1 L1297.1 100.1 L1300.9 100.1 L1304.7 100.1 L1308.5 100.1 L1312.3 100.1 L1316.1 100.1 L1319.9 100.1 L1323.8 100.1 L1327.6 100.1 L1331.4 100.1 L1335.2 100.1 L1339 100.1 L1342.8 100.1 L1346.6 100.1 L1350.4 100.1 L1354.3 100.1 L1358.1 100.1 L1361.9 100.1 L1365.7 100.1 L1369.5 100.1 L1373.3 100.1 L1377.1 100.1 L1380.9 100.1 L1384.7 100.1 L1388.6 100.1 L1392.4 100.1 L1396.2 100.1 L1400 100.1 L1403.8 100.1 L1407.6 100.1" fill="none" stroke="#720000" stroke-width="1"/>
<path d="M1205.6 332.2a3.3 3.3 0 1 0 6.6 0a3.3 3.3 0 1 0 -6.6 0M1201.2 332.2a3.3 3.3 0 1 0 6.6 0a3.3 3.3 0 1 0 -6.6 0M1196.9 332.2a3.3 3.3 0 1 0 6.6 0a3.3 3.3 0 1 0 -6.6 0M1207.9 331.6a3.3 3.3 0 1 0 6.6 0a3.3 3.3 0 1 0 -6.6 0M1210.7 278.6a3.3 3.3 0 1 0 6.6 0a3.3 3.3 0 1 0 -6.6 0M1213.5 225.6a3.3 3.3 0 1 0 6.6 0a3.3 3.3 0 1 0 -6.6 0M1216.3 172.7a3.3 3.3 0 1 0 6.6 0a3.3 3.3 0 1 0 -6.6 0M1221.2 109.6a3.3 3.3 0 1 0 6.6 0a3.3 3.3 0 1 0 -6.6 0M1223.8 101.2a3.3 3.3 0 1 0 6.6 0a3.3 3.3 0 1 0 -6.6 0M1229 100.1a3.3 3.3 0 1 0 6.6 0a3.3 3.3 0 1 0 -6.6 0M1232.8 100.1a3.3 3.3 0 1 0 6.6 0a3.3 3.3 0 1 0 -6.6 0M1236.6 100.1a3.3 3.3 0 1 0 6.6 0a3.3 3.3 0 1 0 -6.6 0M1240.4 100.1a3.3 3.3 0 1 0 6.6 0a3.3 3.3 0 1 0 -6.6 0M1244.2 100.1a3.3 3.3 0 1 0 6.6 0a3.3 3.3 0 1 0 -6.6 0M1248 100.1a3.3 3.3 0 1 0 6.6 0a3.3 3.3 0 1 0 -6.6 0M1251.9 100.1a3.3 3.3 0 1 0 6.6 0a3.3 3.3 0 1 0 -6.6 0M1255.7 100.1a3.3 3.3 0 1 0 6.6 0a3.3 3.3 0 1 0 -6.6 0M1259.5 100.1a3.3 3.3 0 1 0 6.6 0a3.3 3.3 0 1 0 -6.6 0M1263.3 100.1a3.3 3.3 0 1 0 6.6 0a3.3 3.3 0 1 0 -6.6 0M1267.1 100.1a3.3 3.3 0 1 0 6.6 0a3.3 3.3 0 1 0 -6.6 0M1270.9 100.1a3.3 3.3 0 1 0 6.6 0a3.3 3.3 0 1 0 -6.6 0M1274.7 100.1a3.3 3.3 0 1 0 6.6 0a3.3 3.3 0 1 0 -6.6 0M1278.5 100.1a3.3 3.3 0 1 0 6.6 0a3.3 3.3 0 1 0 -6.6 0M1282.3 100.1a3.3 3.3 0 1 0 6.6 0a3.3 3.3 0 1 0 -6.6 0M1286.2 100.1a3.3 3.3 0 1 0 6.6 0a3.3 3.3 0 1 0 -6.6 0M1290 100.1a3.3 3.3 0 1 0 6.6 0a3.3 3.3 0 1 0 -6.6 0M1293.8 100.1a3.3 3.3 0 1 0 6.6 0a3.3 3.3 0 1 0 -6.6 0M1297.6 100.1a3.3 3.3 0 1 0 6.6 0a3.3 3.3 0 1 0 -6.6 0M1301.4 100.1a3.3 3.3 0 1 0 6.6 0a3.3 3.3 0 1 0 -6.6 0M1305.2 100.1a3.3 3.3 0 1 0 6.6 0a3.3 3.3 0 1 0 -6.6 0M1309 100.1a3.3 3.3 0 1 0 6.6 0a3.3 3.3 0 1 0 -6.6 0M1312.8 100.1a3.3 3.3 0 1 0 6.6 0a3.3 3.3 0 1 0 -6.6 0M1316.6 100.1a3.3 3.3 0 1 0 6.6 0a3.3 3.3 0 1 0 -6.6 0M1320.5 100.1a3.3 3.3 0 1 0 6.6 0a3.3 3.3 0 1 0 -6.6 0M1324.3 100.1a3.3 3.3 0 1 0 6.6 0a3.3 3.3 0 1 0 -6.6 0M1328.1 100.1a3.3 3.3 0 1 0 6.6 0a3.3 3.3 0 1 0 -6.6 0M1331.9 100.1a3.3 3.3 0 1 0 6.6 0a3.3 3.3 0 1 0 -6.6 0M1335.7 100.1a3.3 3.3 0 1 0 6.6 0a3.3 3.3 0 1 0 -6.6 0M1339.5 100.1a3.3 3.3 0 1 0 6.6 0a3.3 3.3 0 1 0 -6.6 0M1343.3 100.1a3.3 3.3 0 1 0 6.6 0a3.3 3.3 0 1 0 -6.6 0M1347.1 100.1a3.3 3.3 0 1 0 6.6 0a3.3 3.3 0 1 0 -6.6 0M1351 100.1a3.3 3.3 0 1 0 6.6 0a3.3 3.3 0 1 0 -6.6 0M1354.8 100.1a3.3 3.3 0 1 0 6.6 0a3.3 3.3 0 1 0 -6.6 0M1358.6 100.1a3.3 3.3 0 1 0 6.6 0a3.3 3.3 0 1 0 -6.6 0M1362.4 100.1a3.3 3.3 0 1 0 6.6 0a3.3 3.3 0 1 0 -6.6 0M1366.2 100.1a3.3 3.3 0 1 0 6.6 0a3.3 3.3 0 1 0 -6.6 0M1370 100.1a3.3 3.3 0 1 0 6.6 0a3.3 3.3 0 1 0 -6.6 0M1373.8 100.1a3.3 3.3 0 1 0 6.6 0a3.3 3.3 0 1 0 -6.6 0M1377.6 100.1a3.3 3.3 0 1 0 6.6 0a3.3 3.3 0 1 0 -6.6 0M1381.4 100.1a3.3 3.3 0 1 0 6.6 0a3.3 3.3 0 1 0 -6.6 0M1385.3 100.1a3.3 3.3 0 1 0 6.6 0a3.3 3.3 0 1 0 -6.6 0M1389.1 100.1a3.3 3.3 0 1 0 6.6 0a3.3 3.3 0 1 0 -6.6 0M1392.9 100.1a3.3 3.3 0 1 0 6.6 0a3.3 3.3 0 1 0 -6.6 0M1396.7 100.1a3.3 3.3 0 1 0 6.6 0a3.3 3.3 0 1 0 -6.6 0M1400.5 100.1a3.3 3.3 0 1 0 6.6 0a3.3 3.3 0 1 0 -6.6 0M1404.3 100.1a3.3 3.3 0 1 0 6.6 0a3.3 3.3 0 1 0 -6.6 0" fill="#720000"/>
<path d="M1190 332.7 L1203 332.7 L1204.2 311 L1206.8 258 L1209.4 205 L1212 152.1 L1214.3 116.7 L1215.6 109.3 L1216.9 104 L1218.1 100.9 L1219.4 99.8 L1223.2 99.8 L1227 99.8 L1230.8 99.8 L1234.6 99.8 L1238.4 99.8 L1242.2 99.8 L1246.1 99.8 L1249.9 99.8 L1253.7 99.8 L1257.5 99.8 L1261.3 99.8 L1265.1 99.8 L1268.9 99.8 L1272.7 99.8 L1276.5 99.8 L1280.4 99.8 L1284.2 99.8 L1288 99.8 L1291.8 99.8 L1295.6 99.8 L1299.4 99.8 L1303.2 99.8 L1307 99.8 L1310.8 99.8 L1314.7 99.8 L1318.5 99.8 L1322.3 99.8 L1326.1 99.8 L1329.9 99.8 L1333.7 99.8 L1337.5 99.8 L1341.3 99.8 L1345.1 99.8 L1349 99.8 L1352.8 99.8 L1356.6 99.8 L1360.4 99.8 L1364.2 99.8 L1368 99.8 L1371.8 99.8 L1375.6 99.8 L1379.5 99.8 L1383.3 99.8 L1387.1 99.8 L1390.9 99.8 L1394.7 99.8 L1398.5 99.8 L1402.3 99.8 L1406.1 99.8" fill="none" stroke="#840000" stroke-width="1"/>
<path d="M1197.6 332.2a3.3 3.3 0 1 0 6.6 0a3.3 3.3 0 1 0 -6.6 0M1193.2 332.2a3.3 3.3 0 1 0 6.6 0a3.3 3.3 0 1 0 -6.6 0M1188.8 332.2a3.3 3.3 0 1 0 6.6 0a3.3 3.3 0 1 0 -6.6 0M1200.9 311a3.3 3.3 0 1 0 6.6 0a3.3 3.3 0 1 0 -6.6 0M1203.5 258a3.3 3.3 0 1 0 6.6 0a3.3 3.3 0 1 0 -6.6 0M1206.1 205a3.3 3.3 0 1 0 6.6 0a3.3 3.3 0 1 0 -6.6 0M1208.7 152.1a3.3 3.3 0 1 0 6.6 0a3.3 3.3 0 1 0 -6.6 0M1212.3 109.3a3.3 3.3 0 1 0 6.6 0a3.3 3.3 0 1 0 -6.6 0M1214.8 100.9a3.3 3.3 0 1 0 6.6 0a3.3 3.3 0 1 0 -6.6 0M1219.9 99.8a3.3 3.3 0 1 0 6.6 0a3.3 3.3 0 1 0 -6.6 0M1223.7 99.8a3.3 3.3 0 1 0 6.6 0a3.3 3.3 0 1 0 -6.6 0M1227.5 99.8a3.3 3.3 0 1 0 6.6 0a3.3 3.3 0 1 0 -6.6 0M1231.3 99.8a3.3 3.3 0 1 0 6.6 0a3.3 3.3 0 1 0 -6.6 0M1235.1 99.8a3.3 3.3 0 1 0 6.6 0a3.3 3.3 0 1 0 -6.6 0M1238.9 99.8a3.3 3.3 0 1 0 6.6 0a3.3 3.3 0 1 0 -6.6 0M1242.8 99.8a3.3 3.3 0 1 0 6.6 0a3.3 3.3 0 1 0 -6.6 0M1246.6 99.8a3.3 3.3 0 1 0 6.6 0a3.3 3.3 0 1 0 -6.6 0M1250.4 99.8a3.3 3.3 0 1 0 6.6 0a3.3 3.3 0 1 0 -6.6 0M1254.2 99.8a3.3 3.3 0 1 0 6.6 0a3.3 3.3 0 1 0 -6.6 0M1258 99.8a3.3 3.3 0 1 0 6.6 0a3.3 3.3 0 1 0 -6.6 0M1261.8 99.8a3.3 3.3 0 1 0 6.6 0a3.3 3.3 0 1 0 -6.6 0M1265.6 99.8a3.3 3.3 0 1 0 6.6 0a3.3 3.3 0 1 0 -6.6 0M1269.4 99.8a3.3 3.3 0 1 0 6.6 0a3.3 3.3 0 1 0 -6.6 0M1273.2 99.8a3.3 3.3 0 1 0 6.6 0a3.3 3.3 0 1 0 -6.6 0M1277.1 99.8a3.3 3.3 0 1 0 6.6 0a3.3 3.3 0 1 0 -6.6 0M1280.9 99.8a3.3 3.3 0 1 0 6.6 0a3.3 3.3 0 1 0 -6.6 0M1284.7 99.8a3.3 3.3 0 1 0 6.6 0a3.3 3.3 0 1 0 -6.6 0M1288.5 99.8a3.3 3.3 0 1 0 6.6 0a3.3 3.3 0 1 0 -6.6 0M1292.3 99.8a3.3 3.3 0 1 0 6.6 0a3.3 3.3 0 1 0 -6.6 0M1296.1 99.8a3.3 3.3 0 1 0 6.6 0a3.3 3.3 0 1 0 -6.6 0M1299.9 99.8a3.3 3.3 0 1 0 6.6 0a3.3 3.3 0 1 0 -6.6 0M1303.7 99.8a3.3 3.3 0 1 0 6.6 0a3.3 3.3 0 1 0 -6.6 0M1307.5 99.8a3.3 3.3 0 1 0 6.6 0a3.3 3.3 0 1 0 -6.6 0M1311.4 99.8a3.3 3.3 0 1 0 6.6 0a3.3 3.3 0 1 0 -6.6 0M1315.2 99.8a3.3 3.3 0 1 0 6.6 0a3.3 3.3 0 1 0 -6.6 0M1319 99.8a3.3 3.3 0 1 0 6.6 0a3.3 3.3 0 1 0 -6.6 0M1322.8 99.8a3.3 3.3 0 1 0 6.6 0a3.3 3.3 0 1 0 -6.6 0M1326.6 99.8a3.3 3.3 0 1 0 6.6 0a3.3 3.3 0 1 0 -6.6 0M1330.4 99.8a3.3 3.3 0 1 0 6.6 0a3.3 3.3 0 1 0 -6.6 0M1334.2 99.8a3.3 3.3 0 1 0 6.6 0a3.3 3.3 0 1 0 -6.6 0M1338 99.8a3.3 3.3 0 1 0 6.6 0a3.3 3.3 0 1 0 -6.6 0M1341.8 99.8a3.3 3.3 0 1 0 6.6 0a3.3 3.3 0 1 0 -6.6 0M1345.7 99.8a3.3 3.3 0 1 0 6.6 0a3.3 3.3 0 1 0 -6.6 0M1349.5 99.8a3.3 3.3 0 1 0 6.6 0a3.3 3.3 0 1 0 -6.6 0M1353.3 99.8a3.3 3.3 0 1 0 6.6 0a3.3 3.3 0 1 0 -6.6 0M1357.1 99.8a3.3 3.3 0 1 0 6.6 0a3.3 3.3 0 1 0 -6.6 0M1360.9 99.8a3.3 3.3 0 1 0 6.6 0a3.3 3.3 0 1 0 -6.6 0M1364.7 99.8a3.3 3.3 0 1 0 6.6 0a3.3 3.3 0 1 0 -6.6 0M1368.5 99.8a3.3 3.3 0 1 0 6.6 0a3.3 3.3 0 1 0 -6.6 0M1372.3 99.8a3.3 3.3 0 1 0 6.6 0a3.3 3.3 0 1 0 -6.6 0M1376.2 99.8a3.3 3.3 0 1 0 6.6 0a3.3 3.3 0 1 0 -6.6 0M1380 99.8a3.3 3.3 0 1 0 6.6 0a3.3 3.3 0 1 0 -6.6 0M1383.8 99.8a3.3 3.3 0 1 0 6.6 0a3.3 3.3 0 1 0 -6.6 0M1387.6 99.8a3.3 3.3 0 1 0 6.6 0a3.3 3.3 0 1 0 -6.6 0M1391.4 99.8a3.3 3.3 0 1 0 6.6 0a3.3 3.3 0 1 0 -6.6 0M1395.2 99.8a3.3 3.3 0 1 0 6.6 0a3.3 3.3 0 1 0 -6.6 0M1399 99.8a3.3 3.3 0 1 0 6.6 0a3.3 3.3 0 1 0 -6.6 0M1402.8 99.8a3.3 3.3 0 1 0 6.6 0a3.3 3.3 0 1 0 -6.6 0" fill="#840000"/>
<path d="M1182 332.7 L1195 332.7 L1195.1 332.7 L1197.5 279.8 L1199.9 226.8 L1202.3 173.8 L1205.5 116.5 L1206.7 109 L1207.9 103.7 L1209.1 100.6 L1210.3 99.5 L1214.1 99.5 L1217.9 99.5 L1221.7 99.5 L1225.5 99.5 L1229.3 99.5 L1233.1 99.5 L1236.9 99.5 L1240.8 99.5 L1244.6 99.5 L1248.4 99.5 L1252.2 99.5 L1256 99.5 L1259.8 99.5 L1263.6 99.5 L1267.4 99.5 L1271.3 99.5 L1275.1 99.5 L1278.9 99.5 L1282.7 99.5 L1286.5 99.5 L1290.3 99.5 L1294.1 99.5 L1297.9 99.5 L1301.7 99.5 L1305.6 99.5 L1309.4 99.5 L1313.2 99.5 L1317 99.5 L1320.8 99.5 L1324.6 99.5 L1328.4 99.5 L1332.2 99.5 L1336 99.5 L1339.9 99.5 L1343.7 99.5 L1347.5 99.5 L1351.3 99.5 L1355.1 99.5 L1358.9 99.5 L1362.7 99.5 L1366.5 99.5 L1370.4 99.5 L1374.2 99.5 L1378 99.5 L1381.8 99.5 L1385.6 99.5 L1389.4 99.5 L1393.2 99.5 L1397 99.5 L1400.8 99.5 L1404.7 99.5" fill="none" stroke="#980000" stroke-width="1"/>
<path d="M1189.5 332.2a3.3 3.3 0 1 0 6.6 0a3.3 3.3 0 1 0 -6.6 0M1185.2 332.2a3.3 3.3 0 1 0 6.6 0a3.3 3.3 0 1 0 -6.6 0M1180.8 332.2a3.3 3.3 0 1 0 6.6 0a3.3 3.3 0 1 0 -6.6 0M1191.8 332.7a3.3 3.3 0 1 0 6.6 0a3.3 3.3 0 1 0 -6.6 0M1194.2 279.8a3.3 3.3 0 1 0 6.6 0a3.3 3.3 0 1 0 -6.6 0M1196.6 226.8a3.3 3.3 0 1 0 6.6 0a3.3 3.3 0 1 0 -6.6 0M1199 173.8a3.3 3.3 0 1 0 6.6 0a3.3 3.3 0 1 0 -6.6 0M1203.4 109a3.3 3.3 0 1 0 6.6 0a3.3 3.3 0 1 0 -6.6 0M1205.8 100.6a3.3 3.3 0 1 0 6.6 0a3.3 3.3 0 1 0 -6.6 0M1210.8 99.5a3.3 3.3 0 1 0 6.6 0a3.3 3.3 0 1 0 -6.6 0M1214.6 99.5a3.3 3.3 0 1 0 6.6 0a3.3 3.3 0 1 0 -6.6 0M1218.4 99.5a3.3 3.3 0 1 0 6.6 0a3.3 3.3 0 1 0 -6.6 0M1222.2 99.5a3.3 3.3 0 1 0 6.6 0a3.3 3.3 0 1 0 -6.6 0M1226 99.5a3.3 3.3 0 1 0 6.6 0a3.3 3.3 0 1 0 -6.6 0M1229.8 99.5a3.3 3.3 0 1 0 6.6 0a3.3 3.3 0 1 0 -6.6 0M1233.6 99.5a3.3 3.3 0 1 0 6.6 0a3.3 3.3 0 1 0 -6.6 0M1237.5 99.5a3.3 3.3 0 1 0 6.6 0a3.3 3.3 0 1 0 -6.6 0M1241.3 99.5a3.3 3.3 0 1 0 6.6 0a3.3 3.3 0 1 0 -6.6 0M1245.1 99.5a3.3 3.3 0 1 0 6.6 0a3.3 3.3 0 1 0 -6.6 0M1248.9 99.5a3.3 3.3 0 1 0 6.6 0a3.3 3.3 0 1 0 -6.6 0M1252.7 99.5a3.3 3.3 0 1 0 6.6 0a3.3 3.3 0 1 0 -6.6 0M1256.5 99.5a3.3 3.3 0 1 0 6.6 0a3.3 3.3 0 1 0 -6.6 0M1260.3 99.5a3.3 3.3 0 1 0 6.6 0a3.3 3.3 0 1 0 -6.6 0M1264.1 99.5a3.3 3.3 0 1 0 6.6 0a3.3 3.3 0 1 0 -6.6 0M1268 99.5a3.3 3.3 0 1 0 6.6 0a3.3 3.3 0 1 0 -6.6 0M1271.8 99.5a3.3 3.3 0 1 0 6.6 0a3.3 3.3 0 1 0 -6.6 0M1275.6 99.5a3.3 3.3 0 1 0 6.6 0a3.3 3.3 0 1 0 -6.6 0M1279.4 99.5a3.3 3.3 0 1 0 6.6 0a3.3 3.3 0 1 0 -6.6 0M1283.2 99.5a3.3 3.3 0 1 0 6.6 0a3.3 3.3 0 1 0 -6.6 0M1287 99.5a3.3 3.3 0 1 0 6.6 0a3.3 3.3 0 1 0 -6.6 0M1290.8 99.5a3.3 3.3 0 1 0 6.6 0a3.3 3.3 0 1 0 -6.6 0M1294.6 99.5a3.3 3.3 0 1 0 6.6 0a3.3 3.3 0 1 0 -6.6 0M1298.4 99.5a3.3 3.3 0 1 0 6.6 0a3.3 3.3 0 1 0 -6.6 0M1302.3 99.5a3.3 3.3 0 1 0 6.6 0a3.3 3.3 0 1 0 -6.6 0M1306.1 99.5a3.3 3.3 0 1 0 6.6 0a3.3 3.3 0 1 0 -6.6 0M1309.9 99.5a3.3 3.3 0 1 0 6.6 0a3.3 3.3 0 1 0 -6.6 0M1313.7 99.5a3.3 3.3 0 1 0 6.6 0a3.3 3.3 0 1 0 -6.6 0M1317.5 99.5a3.3 3.3 0 1 0 6.6 0a3.3 3.3 0 1 0 -6.6 0M1321.3 99.5a3.3 3.3 0 1 0 6.6 0a3.3 3.3 0 1 0 -6.6 0M1325.1 99.5a3.3 3.3 0 1 0 6.6 0a3.3 3.3 0 1 0 -6.6 0M1328.9 99.5a3.3 3.3 0 1 0 6.6 0a3.3 3.3 0 1 0 -6.6 0M1332.7 99.5a3.3 3.3 0 1 0 6.6 0a3.3 3.3 0 1 0 -6.6 0M1336.6 99.5a3.3 3.3 0 1 0 6.6 0a3.3 3.3 0 1 0 -6.6 0M1340.4 99.5a3.3 3.3 0 1 0 6.6 0a3.3 3.3 0 1 0 -6.6 0M1344.2 99.5a3.3 3.3 0 1 0 6.6 0a3.3 3.3 0 1 0 -6.6 0M1348 99.5a3.3 3.3 0 1 0 6.6 0a3.3 3.3 0 1 0 -6.6 0M1351.8 99.5a3.3 3.3 0 1 0 6.6 0a3.3 3.3 0 1 0 -6.6 0M1355.6 99.5a3.3 3.3 0 1 0 6.6 0a3.3 3.3 0 1 0 -6.6 0M1359.4 99.5a3.3 3.3 0 1 0 6.6 0a3.3 3.3 0 1 0 -6.6 0M1363.2 99.5a3.3 3.3 0 1 0 6.6 0a3.3 3.3 0 1 0 -6.6 0M1367.1 99.5a3.3 3.3 0 1 0 6.6 0a3.3 3.3 0 1 0 -6.6 0M1370.9 99.5a3.3 3.3 0 1 0 6.6 0a3.3 3.3 0 1 0 -6.6 0M1374.7 99.5a3.3 3.3 0 1 0 6.6 0a3.3 3.3 0 1 0 -6.6 0M1378.5 99.5a3.3 3.3 0 1 0 6.6 0a3.3 3.3 0 1 0 -6.6 0M1382.3 99.5a3.3 3.3 0 1 0 6.6 0a3.3 3.3 0 1 0 -6.6 0M1386.1 99.5a3.3 3.3 0 1 0 6.6 0a3.3 3.3 0 1 0 -6.6 0M1389.9 99.5a3.3 3.3 0 1 0 6.6 0a3.3 3.3 0 1 0 -6.6 0M1393.7 99.5a3.3 3.3 0 1 0 6.6 0a3.3 3.3 0 1 0 -6.6 0M1397.5 99.5a3.3 3.3 0 1 0 6.6 0a3.3 3.3 0 1 0 -6.6 0M1401.4 99.5a3.3 3.3 0 1 0 6.6 0a3.3 3.3 0 1 0 -6.6 0" fill="#980000"/>
<path d="M1173.9 332.7 L1187 332.7 L1188 310.1 L1190.2 257.1 L1192.5 204.2 L1194.7 151.2 L1196.7 116.2 L1197.8 108.7 L1198.9 103.4 L1200 100.3 L1201.2 99.2 L1205 99.2 L1208.8 99.2 L1212.6 99.2 L1216.4 99.2 L1220.2 99.2 L1224 99.2 L1227.8 99.2 L1231.7 99.2 L1235.5 99.2 L1239.3 99.2 L1243.1 99.2 L1246.9 99.2 L1250.7 99.2 L1254.5 99.2 L1258.3 99.2 L1262.2 99.2 L1266 99.2 L1269.8 99.2 L1273.6 99.2 L1277.4 99.2 L1281.2 99.2 L1285 99.2 L1288.8 99.2 L1292.6 99.2 L1296.5 99.2 L1300.3 99.2 L1304.1 99.2 L1307.9 99.2 L1311.7 99.2 L1315.5 99.2 L1319.3 99.2 L1323.1 99.2 L1326.9 99.2 L1330.8 99.2 L1334.6 99.2 L1338.4 99.2 L1342.2 99.2 L1346 99.2 L1349.8 99.2 L1353.6 99.2 L1357.4 99.2 L1361.3 99.2 L1365.1 99.2 L1368.9 99.2 L1372.7 99.2 L1376.5 99.2 L1380.3 99.2 L1384.1 99.2 L1387.9 99.2 L1391.7 99.2 L1395.6 99.2 L1399.4 99.2 L1403.2 99.2 L1407 99.2" fill="none" stroke="#ac0000" stroke-width="1"/>
<path d="M1181.5 332.2a3.3 3.3 0 1 0 6.6 0a3.3 3.3 0 1 0 -6.6 0M1177.2 332.2a3.3 3.3 0 1 0 6.6 0a3.3 3.3 0 1 0 -6.6 0M1172.8 332.2a3.3 3.3 0 1 0 6.6 0a3.3 3.3 0 1 0 -6.6 0M1184.7 310.1a3.3 3.3 0 1 0 6.6 0a3.3 3.3 0 1 0 -6.6 0M1186.9 257.1a3.3 3.3 0 1 0 6.6 0a3.3 3.3 0 1 0 -6.6 0M1189.2 204.2a3.3 3.3 0 1 0 6.6 0a3.3 3.3 0 1 0 -6.6 0M1191.4 151.2a3.3 3.3 0 1 0 6.6 0a3.3 3.3 0 1 0 -6.6 0M1194.5 108.7a3.3 3.3 0 1 0 6.6 0a3.3 3.3 0 1 0 -6.6 0M1196.7 100.3a3.3 3.3 0 1 0 6.6 0a3.3 3.3 0 1 0 -6.6 0M1201.7 99.2a3.3 3.3 0 1 0 6.6 0a3.3 3.3 0 1 0 -6.6 0M1205.5 99.2a3.3 3.3 0 1 0 6.6 0a3.3 3.3 0 1 0 -6.6 0M1209.3 99.2a3.3 3.3 0 1 0 6.6 0a3.3 3.3 0 1 0 -6.6 0M1213.1 99.2a3.3 3.3 0 1 0 6.6 0a3.3 3.3 0 1 0 -6.6 0M1216.9 99.2a3.3 3.3 0 1 0 6.6 0a3.3 3.3 0 1 0 -6.6 0M1220.7 99.2a3.3 3.3 0 1 0 6.6 0a3.3 3.3 0 1 0 -6.6 0M1224.5 99.2a3.3 3.3 0 1 0 6.6 0a3.3 3.3 0 1 0 -6.6 0M1228.4 99.2a3.3 3.3 0 1 0 6.6 0a3.3 3.3 0 1 0 -6.6 0M1232.2 99.2a3.3 3.3 0 1 0 6.6 0a3.3 3.3 0 1 0 -6.6 0M1236 99.2a3.3 3.3 0 1 0 6.6 0a3.3 3.3 0 1 0 -6.6 0M1239.8 99.2a3.3 3.3 0 1 0 6.6 0a3.3 3.3 0 1 0 -6.6 0M1243.6 99.2a3.3 3.3 0 1 0 6.6 0a3.3 3.3 0 1 0 -6.6 0M1247.4 99.2a3.3 3.3 0 1 0 6.6 0a3.3 3.3 0 1 0 -6.6 0M1251.2 99.2a3.3 3.3 0 1 0 6.6 0a3.3 3.3 0 1 0 -6.6 0M1255 99.2a3.3 3.3 0 1 0 6.6 0a3.3 3.3 0 1 0 -6.6 0M1258.9 99.2a3.3 3.3 0 1 0 6.6 0a3.3 3.3 0 1 0 -6.6 0M1262.7 99.2a3.3 3.3 0 1 0 6.6 0a3.3 3.3 0 1 0 -6.6 0M1266.5 99.2a3.3 3.3 0 1 0 6.6 0a3.3 3.3 0 1 0 -6.6 0M1270.3 99.2a3.3 3.3 0 1 0 6.6 0a3.3 3.3 0 1 0 -6.6 0M1274.1 99.2a3.3 3.3 0 1 0 6.6 0a3.3 3.3 0 1 0 -6.6 0M1277.9 99.2a3.3 3.3 0 1 0 6.6 0a3.3 3.3 0 1 0 -6.6 0M1281.7 99.2a3.3 3.3 0 1 0 6.6 0a3.3 3.3 0 1 0 -6.6 0M1285.5 99.2a3.3 3.3 0 1 0 6.6 0a3.3 3.3 0 1 0 -6.6 0M1289.3 99.2a3.3 3.3 0 1 0 6.6 0a3.3 3.3 0 1 0 -6.6 0M1293.2 99.2a3.3 3.3 0 1 0 6.6 0a3.3 3.3 0 1 0 -6.6 0M1297 99.2a3.3 3.3 0 1 0 6.6 0a3.3 3.3 0 1 0 -6.6 0M1300.8 99.2a3.3 3.3 0 1 0 6.6 0a3.3 3.3 0 1 0 -6.6 0M1304.6 99.2a3.3 3.3 0 1 0 6.6 0a3.3 3.3 0 1 0 -6.6 0M1308.4 99.2a3.3 3.3 0 1 0 6.6 0a3.3 3.3 0 1 0 -6.6 0M1312.2 99.2a3.3 3.3 0 1 0 6.6 0a3.3 3.3 0 1 0 -6.6 0M1316 99.2a3.3 3.3 0 1 0 6.6 0a3.3 3.3 0 1 0 -6.6 0M1319.8 99.2a3.3 3.3 0 1 0 6.6 0a3.3 3.3 0 1 0 -6.6 0M1323.6 99.2a3.3 3.3 0 1 0 6.6 0a3.3 3.3 0 1 0 -6.6 0M1327.5 99.2a3.3 3.3 0 1 0 6.6 0a3.3 3.3 0 1 0 -6.6 0M1331.3 99.2a3.3 3.3 0 1 0 6.6 0a3.3 3.3 0 1 0 -6.6 0M1335.1 99.2a3.3 3.3 0 1 0 6.6 0a3.3 3.3 0 1 0 -6.6 0M1338.9 99.2a3.3 3.3 0 1 0 6.6 0a3.3 3.3 0 1 0 -6.6 0M1342.7 99.2a3.3 3.3 0 1 0 6.6 0a3.3 3.3 0 1 0 -6.6 0M1346.5 99.2a3.3 3.3 0 1 0 6.6 0a3.3 3.3 0 1 0 -6.6 0M1350.3 99.2a3.3 3.3 0 1 0 6.6 0a3.3 3.3 0 1 0 -6.6 0M1354.1 99.2a3.3 3.3 0 1 0 6.6 0a3.3 3.3 0 1 0 -6.6 0M1358 99.2a3.3 3.3 0 1 0 6.6 0a3.3 3.3 0 1 0 -6.6 0M1361.8 99.2a3.3 3.3 0 1 0 6.6 0a3.3 3.3 0 1 0 -6.6 0M1365.6 99.2a3.3 3.3 0 1 0 6.6 0a3.3 3.3 0 1 0 -6.6 0M1369.4 99.2a3.3 3.3 0 1 0 6.6 0a3.3 3.3 0 1 0 -6.6 0M1373.2 99.2a3.3 3.3 0 1 0 6.6 0a3.3 3.3 0 1 0 -6.6 0M1377 99.2a3.3 3.3 0 1 0 6.6 0a3.3 3.3 0 1 0 -6.6 0M1380.8 99.2a3.3 3.3 0 1 0 6.6 0a3.3 3.3 0 1 0 -6.6 0M1384.6 99.2a3.3 3.3 0 1 0 6.6 0a3.3 3.3 0 1 0 -6.6 0M1388.4 99.2a3.3 3.3 0 1 0 6.6 0a3.3 3.3 0 1 0 -6.6 0M1392.3 99.2a3.3 3.3 0 1 0 6.6 0a3.3 3.3 0 1 0 -6.6 0M1396.1 99.2a3.3 3.3 0 1 0 6.6 0a3.3 3.3 0 1 0 -6.6 0M1399.9 99.2a3.3 3.3 0 1 0 6.6 0a3.3 3.3 0 1 0 -6.6 0M1403.7 99.2a3.3 3.3 0 1 0 6.6 0a3.3 3.3 0 1 0 -6.6 0" fill="#ac0000"/>
<path d="M1179 332.7 L1180.3 299.9 L1182.3 247 L1184.4 194 L1186.4 141 L1187.8 115.9 L1188.9 108.5 L1190 103.1 L1191 99.9 L1192.1 98.9 L1195.9 98.9 L1199.7 98.9 L1203.5 98.9 L1207.3 98.9 L1211.1 98.9 L1214.9 98.9 L1218.7 98.9 L1222.6 98.9 L1226.4 98.9 L1230.2 98.9 L1234 98.9 L1237.8 98.9 L1241.6 98.9 L1245.4 98.9 L1249.2 98.9 L1253.1 98.9 L1256.9 98.9 L1260.7 98.9 L1264.5 98.9 L1268.3 98.9 L1272.1 98.9 L1275.9 98.9 L1279.7 98.9 L1283.5 98.9 L1287.4 98.9 L1291.2 98.9 L1295 98.9 L1298.8 98.9 L1302.6 98.9 L1306.4 98.9 L1310.2 98.9 L1314 98.9 L1317.8 98.9 L1321.7 98.9 L1325.5 98.9 L1329.3 98.9 L1333.1 98.9 L1336.9 98.9 L1340.7 98.9 L1344.5 98.9 L1348.3 98.9 L1352.1 98.9 L1356 98.9 L1359.8 98.9 L1363.6 98.9 L1367.4 98.9 L1371.2 98.9 L1375 98.9 L1378.8 98.9 L1382.6 98.9 L1386.5 98.9 L1390.3 98.9 L1394.1 98.9 L1397.9 98.9 L1401.7 98.9 L1405.5 98.9" fill="none" stroke="#c00000" stroke-width="1"/>
<path d="M1173.5 332.2a3.3 3.3 0 1 0 6.6 0a3.3 3.3 0 1 0 -6.6 0M1169.2 332.2a3.3 3.3 0 1 0 6.6 0a3.3 3.3 0 1 0 -6.6 0M1164.8 332.2a3.3 3.3 0 1 0 6.6 0a3.3 3.3 0 1 0 -6.6 0M1177 299.9a3.3 3.3 0 1 0 6.6 0a3.3 3.3 0 1 0 -6.6 0M1179 247a3.3 3.3 0 1 0 6.6 0a3.3 3.3 0 1 0 -6.6 0M1181.1 194a3.3 3.3 0 1 0 6.6 0a3.3 3.3 0 1 0 -6.6 0M1183.1 141a3.3 3.3 0 1 0 6.6 0a3.3 3.3 0 1 0 -6.6 0M1185.6 108.5a3.3 3.3 0 1 0 6.6 0a3.3 3.3 0 1 0 -6.6 0M1187.7 99.9a3.3 3.3 0 1 0 6.6 0a3.3 3.3 0 1 0 -6.6 0M1192.6 98.9a3.3 3.3 0 1 0 6.6 0a3.3 3.3 0 1 0 -6.6 0M1196.4 98.9a3.3 3.3 0 1 0 6.6 0a3.3 3.3 0 1 0 -6.6 0M1200.2 98.9a3.3 3.3 0 1 0 6.6 0a3.3 3.3 0 1 0 -6.6 0M1204 98.9a3.3 3.3 0 1 0 6.6 0a3.3 3.3 0 1 0 -6.6 0M1207.8 98.9a3.3 3.3 0 1 0 6.6 0a3.3 3.3 0 1 0 -6.6 0M1211.6 98.9a3.3 3.3 0 1 0 6.6 0a3.3 3.3 0 1 0 -6.6 0M1215.4 98.9a3.3 3.3 0 1 0 6.6 0a3.3 3.3 0 1 0 -6.6 0M1219.3 98.9a3.3 3.3 0 1 0 6.6 0a3.3 3.3 0 1 0 -6.6 0M1223.1 98.9a3.3 3.3 0 1 0 6.6 0a3.3 3.3 0 1 0 -6.6 0M1226.9 98.9a3.3 3.3 0 1 0 6.6 0a3.3 3.3 0 1 0 -6.6 0M1230.7 98.9a3.3 3.3 0 1 0 6.6 0a3.3 3.3 0 1 0 -6.6 0M1234.5 98.9a3.3 3.3 0 1 0 6.6 0a3.3 3.3 0 1 0 -6.6 0M1238.3 98.9a3.3 3.3 0 1 0 6.6 0a3.3 3.3 0 1 0 -6.6 0M1242.1 98.9a3.3 3.3 0 1 0 6.6 0a3.3 3.3 0 1 0 -6.6 0M1245.9 98.9a3.3 3.3 0 1 0 6.6 0a3.3 3.3 0 1 0 -6.6 0M1249.8 98.9a3.3 3.3 0 1 0 6.6 0a3.3 3.3 0 1 0 -6.6 0M1253.6 98.9a3.3 3.3 0 1 0 6.6 0a3.3 3.3 0 1 0 -6.6 0M1257.4 98.9a3.3 3.3 0 1 0 6.6 0a3.3 3.3 0 1 0 -6.6 0M1261.2 98.9a3.3 3.3 0 1 0 6.6 0a3.3 3.3 0 1 0 -6.6 0M1265 98.9a3.3 3.3 0 1 0 6.6 0a3.3 3.3 0 1 0 -6.6 0M1268.8 98.9a3.3 3.3 0 1 0 6.6 0a3.3 3.3 0 1 0 -6.6 0M1272.6 98.9a3.3 3.3 0 1 0 6.6 0a3.3 3.3 0 1 0 -6.6 0M1276.4 98.9a3.3 3.3 0 1 0 6.6 0a3.3 3.3 0 1 0 -6.6 0M1280.2 98.9a3.3 3.3 0 1 0 6.6 0a3.3 3.3 0 1 0 -6.6 0M1284.1 98.9a3.3 3.3 0 1 0 6.6 0a3.3 3.3 0 1 0 -6.6 0M1287.9 98.9a3.3 3.3 0 1 0 6.6 0a3.3 3.3 0 1 0 -6.6 0M1291.7 98.9a3.3 3.3 0 1 0 6.6 0a3.3 3.3 0 1 0 -6.6 0M1295.5 98.9a3.3 3.3 0 1 0 6.6 0a3.3 3.3 0 1 0 -6.6 0M1299.3 98.9a3.3 3.3 0 1 0 6.6 0a3.3 3.3 0 1 0 -6.6 0M1303.1 98.9a3.3 3.3 0 1 0 6.6 0a3.3 3.3 0 1 0 -6.6 0M1306.9 98.9a3.3 3.3 0 1 0 6.6 0a3.3 3.3 0 1 0 -6.6 0M1310.7 98.9a3.3 3.3 0 1 0 6.6 0a3.3 3.3 0 1 0 -6.6 0M1314.5 98.9a3.3 3.3 0 1 0 6.6 0a3.3 3.3 0 1 0 -6.6 0M1318.4 98.9a3.3 3.3 0 1 0 6.6 0a3.3 3.3 0 1 0 -6.6 0M1322.2 98.9a3.3 3.3 0 1 0 6.6 0a3.3 3.3 0 1 0 -6.6 0M1326 98.9a3.3 3.3 0 1 0 6.6 0a3.3 3.3 0 1 0 -6.6 0M1329.8 98.9a3.3 3.3 0 1 0 6.6 0a3.3 3.3 0 1 0 -6.6 0M1333.6 98.9a3.3 3.3 0 1 0 6.6 0a3.3 3.3 0 1 0 -6.6 0M1337.4 98.9a3.3 3.3 0 1 0 6.6 0a3.3 3.3 0 1 0 -6.6 0M1341.2 98.9a3.3 3.3 0 1 0 6.6 0a3.3 3.3 0 1 0 -6.6 0M1345 98.9a3.3 3.3 0 1 0 6.6 0a3.3 3.3 0 1 0 -6.6 0M1348.8 98.9a3.3 3.3 0 1 0 6.6 0a3.3 3.3 0 1 0 -6.6 0M1352.7 98.9a3.3 3.3 0 1 0 6.6 0a3.3 3.3 0 1 0 -6.6 0M1356.5 98.9a3.3 3.3 0 1 0 6.6 0a3.3 3.3 0 1 0 -6.6 0M1360.3 98.9a3.3 3.3 0 1 0 6.6 0a3.3 3.3 0 1 0 -6.6 0M1364.1 98.9a3.3 3.3 0 1 0 6.6 0a3.3 3.3 0 1 0 -6.6 0M1367.9 98.9a3.3 3.3 0 1 0 6.6 0a3.3 3.3 0 1 0 -6.6 0M1371.7 98.9a3.3 3.3 0 1 0 6.6 0a3.3 3.3 0 1 0 -6.6 0M1375.5 98.9a3.3 3.3 0 1 0 6.6 0a3.3 3.3 0 1 0 -6.6 0M1379.3 98.9a3.3 3.3 0 1 0 6.6 0a3.3 3.3 0 1 0 -6.6 0M1383.2 98.9a3.3 3.3 0 1 0 6.6 0a3.3 3.3 0 1 0 -6.6 0M1387 98.9a3.3 3.3 0 1 0 6.6 0a3.3 3.3 0 1 0 -6.6 0M1390.8 98.9a3.3 3.3 0 1 0 6.6 0a3.3 3.3 0 1 0 -6.6 0M1394.6 98.9a3.3 3.3 0 1 0 6.6 0a3.3 3.3 0 1 0 -6.6 0M1398.4 98.9a3.3 3.3 0 1 0 6.6 0a3.3 3.3 0 1 0 -6.6 0M1402.2 98.9a3.3 3.3 0 1 0 6.6 0a3.3 3.3 0 1 0 -6.6 0" fill="#c00000"/>
<path d="M1171 332.7 L1171.5 319.5 L1173.3 266.6 L1175.1 213.6 L1177 160.6 L1179 115.6 L1180 108.2 L1181 102.8 L1182 99.6 L1183 98.6 L1186.8 98.6 L1190.6 98.6 L1194.4 98.6 L1198.2 98.6 L1202 98.6 L1205.8 98.6 L1209.6 98.6 L1213.5 98.6 L1217.3 98.6 L1221.1 98.6 L1224.9 98.6 L1228.7 98.6 L1232.5 98.6 L1236.3 98.6 L1240.1 98.6 L1243.9 98.6 L1247.8 98.6 L1251.6 98.6 L1255.4 98.6 L1259.2 98.6 L1263 98.6 L1266.8 98.6 L1270.6 98.6 L1274.4 98.6 L1278.3 98.6 L1282.1 98.6 L1285.9 98.6 L1289.7 98.6 L1293.5 98.6 L1297.3 98.6 L1301.1 98.6 L1304.9 98.6 L1308.7 98.6 L1312.6 98.6 L1316.4 98.6 L1320.2 98.6 L1324 98.6 L1327.8 98.6 L1331.6 98.6 L1335.4 98.6 L1339.2 98.6 L1343 98.6 L1346.9 98.6 L1350.7 98.6 L1354.5 98.6 L1358.3 98.6 L1362.1 98.6 L1365.9 98.6 L1369.7 98.6 L1373.5 98.6 L1377.4 98.6 L1381.2 98.6 L1385 98.6 L1388.8 98.6 L1392.6 98.6 L1396.4 98.6 L1400.2 98.6 L1404 98.6 L1407.8 98.6" fill="none" stroke="#d50000" stroke-width="1"/>
<path d="M1165.5 332.2a3.3 3.3 0 1 0 6.6 0a3.3 3.3 0 1 0 -6.6 0M1168.2 319.5a3.3 3.3 0 1 0 6.6 0a3.3 3.3 0 1 0 -6.6 0M1170 266.6a3.3 3.3 0 1 0 6.6 0a3.3 3.3 0 1 0 -6.6 0M1171.8 213.6a3.3 3.3 0 1 0 6.6 0a3.3 3.3 0 1 0 -6.6 0M1173.7 160.6a3.3 3.3 0 1 0 6.6 0a3.3 3.3 0 1 0 -6.6 0M1176.7 108.2a3.3 3.3 0 1 0 6.6 0a3.3 3.3 0 1 0 -6.6 0M1178.7 99.6a3.3 3.3 0 1 0 6.6 0a3.3 3.3 0 1 0 -6.6 0M1183.5 98.6a3.3 3.3 0 1 0 6.6 0a3.3 3.3 0 1 0 -6.6 0M1187.3 98.6a3.3 3.3 0 1 0 6.6 0a3.3 3.3 0 1 0 -6.6 0M1191.1 98.6a3.3 3.3 0 1 0 6.6 0a3.3 3.3 0 1 0 -6.6 0M1194.9 98.6a3.3 3.3 0 1 0 6.6 0a3.3 3.3 0 1 0 -6.6 0M1198.7 98.6a3.3 3.3 0 1 0 6.6 0a3.3 3.3 0 1 0 -6.6 0M1202.5 98.6a3.3 3.3 0 1 0 6.6 0a3.3 3.3 0 1 0 -6.6 0M1206.3 98.6a3.3 3.3 0 1 0 6.6 0a3.3 3.3 0 1 0 -6.6 0M1210.2 98.6a3.3 3.3 0 1 0 6.6 0a3.3 3.3 0 1 0 -6.6 0M1214 98.6a3.3 3.3 0 1 0 6.6 0a3.3 3.3 0 1 0 -6.6 0M1217.8 98.6a3.3 3.3 0 1 0 6.6 0a3.3 3.3 0 1 0 -6.6 0M1221.6 98.6a3.3 3.3 0 1 0 6.6 0a3.3 3.3 0 1 0 -6.6 0M1225.4 98.6a3.3 3.3 0 1 0 6.6 0a3.3 3.3 0 1 0 -6.6 0M1229.2 98.6a3.3 3.3 0 1 0 6.6 0a3.3 3.3 0 1 0 -6.6 0M1233 98.6a3.3 3.3 0 1 0 6.6 0a3.3 3.3 0 1 0 -6.6 0M1236.8 98.6a3.3 3.3 0 1 0 6.6 0a3.3 3.3 0 1 0 -6.6 0M1240.6 98.6a3.3 3.3 0 1 0 6.6 0a3.3 3.3 0 1 0 -6.6 0M1244.5 98.6a3.3 3.3 0 1 0 6.6 0a3.3 3.3 0 1 0 -6.6 0M1248.3 98.6a3.3 3.3 0 1 0 6.6 0a3.3 3.3 0 1 0 -6.6 0M1252.1 98.6a3.3 3.3 0 1 0 6.6 0a3.3 3.3 0 1 0 -6.6 0M1255.9 98.6a3.3 3.3 0 1 0 6.6 0a3.3 3.3 0 1 0 -6.6 0M1259.7 98.6a3.3 3.3 0 1 0 6.6 0a3.3 3.3 0 1 0 -6.6 0M1263.5 98.6a3.3 3.3 0 1 0 6.6 0a3.3 3.3 0 1 0 -6.6 0M1267.3 98.6a3.3 3.3 0 1 0 6.6 0a3.3 3.3 0 1 0 -6.6 0M1271.1 98.6a3.3 3.3 0 1 0 6.6 0a3.3 3.3 0 1 0 -6.6 0M1275 98.6a3.3 3.3 0 1 0 6.6 0a3.3 3.3 0 1 0 -6.6 0M1278.8 98.6a3.3 3.3 0 1 0 6.6 0a3.3 3.3 0 1 0 -6.6 0M1282.6 98.6a3.3 3.3 0 1 0 6.6 0a3.3 3.3 0 1 0 -6.6 0M1286.4 98.6a3.3 3.3 0 1 0 6.6 0a3.3 3.3 0 1 0 -6.6 0M1290.2 98.6a3.3 3.3 0 1 0 6.6 0a3.3 3.3 0 1 0 -6.6 0M1294 98.6a3.3 3.3 0 1 0 6.6 0a3.3 3.3 0 1 0 -6.6 0M1297.8 98.6a3.3 3.3 0 1 0 6.6 0a3.3 3.3 0 1 0 -6.6 0M1301.6 98.6a3.3 3.3 0 1 0 6.6 0a3.3 3.3 0 1 0 -6.6 0M1305.4 98.6a3.3 3.3 0 1 0 6.6 0a3.3 3.3 0 1 0 -6.6 0M1309.3 98.6a3.3 3.3 0 1 0 6.6 0a3.3 3.3 0 1 0 -6.6 0M1313.1 98.6a3.3 3.3 0 1 0 6.6 0a3.3 3.3 0 1 0 -6.6 0M1316.9 98.6a3.3 3.3 0 1 0 6.6 0a3.3 3.3 0 1 0 -6.6 0M1320.7 98.6a3.3 3.3 0 1 0 6.6 0a3.3 3.3 0 1 0 -6.6 0M1324.5 98.6a3.3 3.3 0 1 0 6.6 0a3.3 3.3 0 1 0 -6.6 0M1328.3 98.6a3.3 3.3 0 1 0 6.6 0a3.3 3.3 0 1 0 -6.6 0M1332.1 98.6a3.3 3.3 0 1 0 6.6 0a3.3 3.3 0 1 0 -6.6 0M1335.9 98.6a3.3 3.3 0 1 0 6.6 0a3.3 3.3 0 1 0 -6.6 0M1339.7 98.6a3.3 3.3 0 1 0 6.6 0a3.3 3.3 0 1 0 -6.6 0M1343.6 98.6a3.3 3.3 0 1 0 6.6 0a3.3 3.3 0 1 0 -6.6 0M1347.4 98.6a3.3 3.3 0 1 0 6.6 0a3.3 3.3 0 1 0 -6.6 0M1351.2 98.6a3.3 3.3 0 1 0 6.6 0a3.3 3.3 0 1 0 -6.6 0M1355 98.6a3.3 3.3 0 1 0 6.6 0a3.3 3.3 0 1 0 -6.6 0M1358.8 98.6a3.3 3.3 0 1 0 6.6 0a3.3 3.3 0 1 0 -6.6 0M1362.6 98.6a3.3 3.3 0 1 0 6.6 0a3.3 3.3 0 1 0 -6.6 0M1366.4 98.6a3.3 3.3 0 1 0 6.6 0a3.3 3.3 0 1 0 -6.6 0M1370.2 98.6a3.3 3.3 0 1 0 6.6 0a3.3 3.3 0 1 0 -6.6 0M1374.1 98.6a3.3 3.3 0 1 0 6.6 0a3.3 3.3 0 1 0 -6.6 0M1377.9 98.6a3.3 3.3 0 1 0 6.6 0a3.3 3.3 0 1 0 -6.6 0M1381.7 98.6a3.3 3.3 0 1 0 6.6 0a3.3 3.3 0 1 0 -6.6 0M1385.5 98.6a3.3 3.3 0 1 0 6.6 0a3.3 3.3 0 1 0 -6.6 0M1389.3 98.6a3.3 3.3 0 1 0 6.6 0a3.3 3.3 0 1 0 -6.6 0M1393.1 98.6a3.3 3.3 0 1 0 6.6 0a3.3 3.3 0 1 0 -6.6 0M1396.9 98.6a3.3 3.3 0 1 0 6.6 0a3.3 3.3 0 1 0 -6.6 0M1400.7 98.6a3.3 3.3 0 1 0 6.6 0a3.3 3.3 0 1 0 -6.6 0M1404.5 98.6a3.3 3.3 0 1 0 6.6 0a3.3 3.3 0 1 0 -6.6 0" fill="#d50000"/>
<path d="M1167.3 192.5 L1169 139.6 L1170.2 115.3 L1171.1 107.9 L1172 102.5 L1172.9 99.3 L1173.9 98.3 L1177.7 98.3 L1181.5 98.3 L1185.3 98.3 L1189.1 98.3 L1192.9 98.3 L1196.7 98.3 L1200.5 98.3 L1204.4 98.3 L1208.2 98.3 L1212 98.3 L1215.8 98.3 L1219.6 98.3 L1223.4 98.3 L1227.2 98.3 L1231 98.3 L1234.8 98.3 L1238.7 98.3 L1242.5 98.3 L1246.3 98.3 L1250.1 98.3 L1253.9 98.3 L1257.7 98.3 L1261.5 98.3 L1265.3 98.3 L1269.2 98.3 L1273 98.3 L1276.8 98.3 L1280.6 98.3 L1284.4 98.3 L1288.2 98.3 L1292 98.3 L1295.8 98.3 L1299.6 98.3 L1303.5 98.3 L1307.3 98.3 L1311.1 98.3 L1314.9 98.3 L1318.7 98.3 L1322.5 98.3 L1326.3 98.3 L1330.1 98.3 L1333.9 98.3 L1337.8 98.3 L1341.6 98.3 L1345.4 98.3 L1349.2 98.3 L1353 98.3 L1356.8 98.3 L1360.6 98.3 L1364.4 98.3 L1368.3 98.3 L1372.1 98.3 L1375.9 98.3 L1379.7 98.3 L1383.5 98.3 L1387.3 98.3 L1391.1 98.3 L1394.9 98.3 L1398.7 98.3 L1402.6 98.3 L1406.4 98.3" fill="none" stroke="#eb0000" stroke-width="1"/>
<path d="M1164 192.5a3.3 3.3 0 1 0 6.6 0a3.3 3.3 0 1 0 -6.6 0M1165.7 139.6a3.3 3.3 0 1 0 6.6 0a3.3 3.3 0 1 0 -6.6 0M1167.8 107.9a3.3 3.3 0 1 0 6.6 0a3.3 3.3 0 1 0 -6.6 0M1169.6 99.3a3.3 3.3 0 1 0 6.6 0a3.3 3.3 0 1 0 -6.6 0M1174.4 98.3a3.3 3.3 0 1 0 6.6 0a3.3 3.3 0 1 0 -6.6 0M1178.2 98.3a3.3 3.3 0 1 0 6.6 0a3.3 3.3 0 1 0 -6.6 0M1182 98.3a3.3 3.3 0 1 0 6.6 0a3.3 3.3 0 1 0 -6.6 0M1185.8 98.3a3.3 3.3 0 1 0 6.6 0a3.3 3.3 0 1 0 -6.6 0M1189.6 98.3a3.3 3.3 0 1 0 6.6 0a3.3 3.3 0 1 0 -6.6 0M1193.4 98.3a3.3 3.3 0 1 0 6.6 0a3.3 3.3 0 1 0 -6.6 0M1197.2 98.3a3.3 3.3 0 1 0 6.6 0a3.3 3.3 0 1 0 -6.6 0M1201.1 98.3a3.3 3.3 0 1 0 6.6 0a3.3 3.3 0 1 0 -6.6 0M1204.9 98.3a3.3 3.3 0 1 0 6.6 0a3.3 3.3 0 1 0 -6.6 0M1208.7 98.3a3.3 3.3 0 1 0 6.6 0a3.3 3.3 0 1 0 -6.6 0M1212.5 98.3a3.3 3.3 0 1 0 6.6 0a3.3 3.3 0 1 0 -6.6 0M1216.3 98.3a3.3 3.3 0 1 0 6.6 0a3.3 3.3 0 1 0 -6.6 0M1220.1 98.3a3.3 3.3 0 1 0 6.6 0a3.3 3.3 0 1 0 -6.6 0M1223.9 98.3a3.3 3.3 0 1 0 6.6 0a3.3 3.3 0 1 0 -6.6 0M1227.7 98.3a3.3 3.3 0 1 0 6.6 0a3.3 3.3 0 1 0 -6.6 0M1231.5 98.3a3.3 3.3 0 1 0 6.6 0a3.3 3.3 0 1 0 -6.6 0M1235.4 98.3a3.3 3.3 0 1 0 6.6 0a3.3 3.3 0 1 0 -6.6 0M1239.2 98.3a3.3 3.3 0 1 0 6.6 0a3.3 3.3 0 1 0 -6.6 0M1243 98.3a3.3 3.3 0 1 0 6.6 0a3.3 3.3 0 1 0 -6.6 0M1246.8 98.3a3.3 3.3 0 1 0 6.6 0a3.3 3.3 0 1 0 -6.6 0M1250.6 98.3a3.3 3.3 0 1 0 6.6 0a3.3 3.3 0 1 0 -6.6 0M1254.4 98.3a3.3 3.3 0 1 0 6.6 0a3.3 3.3 0 1 0 -6.6 0M1258.2 98.3a3.3 3.3 0 1 0 6.6 0a3.3 3.3 0 1 0 -6.6 0M1262 98.3a3.3 3.3 0 1 0 6.6 0a3.3 3.3 0 1 0 -6.6 0M1265.9 98.3a3.3 3.3 0 1 0 6.6 0a3.3 3.3 0 1 0 -6.6 0M1269.7 98.3a3.3 3.3 0 1 0 6.6 0a3.3 3.3 0 1 0 -6.6 0M1273.5 98.3a3.3 3.3 0 1 0 6.6 0a3.3 3.3 0 1 0 -6.6 0M1277.3 98.3a3.3 3.3 0 1 0 6.6 0a3.3 3.3 0 1 0 -6.6 0M1281.1 98.3a3.3 3.3 0 1 0 6.6 0a3.3 3.3 0 1 0 -6.6 0M1284.9 98.3a3.3 3.3 0 1 0 6.6 0a3.3 3.3 0 1 0 -6.6 0M1288.7 98.3a3.3 3.3 0 1 0 6.6 0a3.3 3.3 0 1 0 -6.6 0M1292.5 98.3a3.3 3.3 0 1 0 6.6 0a3.3 3.3 0 1 0 -6.6 0M1296.3 98.3a3.3 3.3 0 1 0 6.6 0a3.3 3.3 0 1 0 -6.6 0M1300.2 98.3a3.3 3.3 0 1 0 6.6 0a3.3 3.3 0 1 0 -6.6 0M1304 98.3a3.3 3.3 0 1 0 6.6 0a3.3 3.3 0 1 0 -6.6 0M1307.8 98.3a3.3 3.3 0 1 0 6.6 0a3.3 3.3 0 1 0 -6.6 0M1311.6 98.3a3.3 3.3 0 1 0 6.6 0a3.3 3.3 0 1 0 -6.6 0M1315.4 98.3a3.3 3.3 0 1 0 6.6 0a3.3 3.3 0 1 0 -6.6 0M1319.2 98.3a3.3 3.3 0 1 0 6.6 0a3.3 3.3 0 1 0 -6.6 0M1323 98.3a3.3 3.3 0 1 0 6.6 0a3.3 3.3 0 1 0 -6.6 0M1326.8 98.3a3.3 3.3 0 1 0 6.6 0a3.3 3.3 0 1 0 -6.6 0M1330.6 98.3a3.3 3.3 0 1 0 6.6 0a3.3 3.3 0 1 0 -6.6 0M1334.5 98.3a3.3 3.3 0 1 0 6.6 0a3.3 3.3 0 1 0 -6.6 0M1338.3 98.3a3.3 3.3 0 1 0 6.6 0a3.3 3.3 0 1 0 -6.6 0M1342.1 98.3a3.3 3.3 0 1 0 6.6 0a3.3 3.3 0 1 0 -6.6 0M1345.9 98.3a3.3 3.3 0 1 0 6.6 0a3.3 3.3 0 1 0 -6.6 0M1349.7 98.3a3.3 3.3 0 1 0 6.6 0a3.3 3.3 0 1 0 -6.6 0M1353.5 98.3a3.3 3.3 0 1 0 6.6 0a3.3 3.3 0 1 0 -6.6 0M1357.3 98.3a3.3 3.3 0 1 0 6.6 0a3.3 3.3 0 1 0 -6.6 0M1361.1 98.3a3.3 3.3 0 1 0 6.6 0a3.3 3.3 0 1 0 -6.6 0M1365 98.3a3.3 3.3 0 1 0 6.6 0a3.3 3.3 0 1 0 -6.6 0M1368.8 98.3a3.3 3.3 0 1 0 6.6 0a3.3 3.3 0 1 0 -6.6 0M1372.6 98.3a3.3 3.3 0 1 0 6.6 0a3.3 3.3 0 1 0 -6.6 0M1376.4 98.3a3.3 3.3 0 1 0 6.6 0a3.3 3.3 0 1 0 -6.6 0M1380.2 98.3a3.3 3.3 0 1 0 6.6 0a3.3 3.3 0 1 0 -6.6 0M1384 98.3a3.3 3.3 0 1 0 6.6 0a3.3 3.3 0 1 0 -6.6 0M1387.8 98.3a3.3 3.3 0 1 0 6.6 0a3.3 3.3 0 1 0 -6.6 0M1391.6 98.3a3.3 3.3 0 1 0 6.6 0a3.3 3.3 0 1 0 -6.6 0M1395.4 98.3a3.3 3.3 0 1 0 6.6 0a3.3 3.3 0 1 0 -6.6 0M1399.3 98.3a3.3 3.3 0 1 0 6.6 0a3.3 3.3 0 1 0 -6.6 0M1403.1 98.3a3.3 3.3 0 1 0 6.6 0a3.3 3.3 0 1 0 -6.6 0" fill="#eb0000"/>
<path d="M1190.2 334.3V327.3M1190.2 16.5V23.5M1299.1 334.3V327.3M1299.1 16.5V23.5M1081.3 228.4H1088.3M1408 228.4H1401M1081.3 122.4H1088.3M1408 122.4H1401" stroke="#000" stroke-width="1.4" fill="none"/>
<rect x="1081.3" y="16.5" width="326.7" height="317.8" fill="none" stroke="#000" stroke-width="1.4"/>
<text x="1081.3" y="368.9" font-size="40" text-anchor="middle"><tspan>1</tspan></text>
<text x="1190.2" y="368.9" font-size="40" text-anchor="middle"><tspan>2</tspan></text>
<text x="1299.1" y="368.9" font-size="40" text-anchor="middle"><tspan>3</tspan></text>
<text x="1408" y="368.9" font-size="40" text-anchor="middle"><tspan>4</tspan></text>
<text x="1073.8" y="348.7" font-size="40" text-anchor="end"><tspan>0</tspan></text>
<text x="1073.8" y="242.8" font-size="40" text-anchor="end"><tspan>0.1</tspan></text>
<text x="1073.8" y="136.8" font-size="40" text-anchor="end"><tspan>0.2</tspan></text>
<text x="1073.8" y="30.9" font-size="40" text-anchor="end"><tspan>0.3</tspan></text>
<text x="1244.7" y="413.3" font-size="42" text-anchor="middle"><tspan font-style="italic">T</tspan><tspan> (K)</tspan></text>
<text x="1009" y="175.4" font-size="39.5" text-anchor="middle" transform="rotate(-90 1009 175.4)"><tspan font-style="italic">ρ</tspan><tspan dx="4.5">(mΩ cm)</tspan></text>
<text x="1180" y="57" font-size="34.5" fill="#ff0000"><tspan>Zr</tspan><tspan dy="5.5" dx="1" font-size="20.5">4</tspan><tspan dy="-5.5" dx="2.5">Pd</tspan><tspan dy="5.5" dx="1.5" font-size="20.5">2</tspan><tspan dy="-5.5" dx="2.5">O</tspan></text>
<text x="1380.4" y="72" font-size="47" text-anchor="end" font-weight="bold"><tspan>(</tspan><tspan dx="1.5">c</tspan><tspan dx="1.5">)</tspan></text>
<text x="1087" y="89.3" font-size="34" fill="#ff0000"><tspan>3.8 T</tspan></text>
<text x="1333" y="176.3" font-size="33"><tspan>0 T</tspan></text>
<text x="1322.2" y="133.1" font-size="33"><tspan>10%</tspan></text>
<text x="1322.2" y="227.4" font-size="33"><tspan>50%</tspan></text>
<text x="1322.2" y="321.7" font-size="33"><tspan>90%</tspan></text>
<path d="M1316.6 164.6 Q1216.9 154.2 1117.1 103" fill="none" stroke="#000" stroke-width="3"/>
<path d="M1117.1 103 L1133.6 103.6 L1126.4 107.8 L1127.3 116.1 Z" fill="#000"/>
<path d="M1546.2 124.9 L1778 124.9" fill="none" stroke="#333" stroke-width="1.1" stroke-dasharray="7 3 2 3"/>
<path d="M1857 124.9 L1871.8 124.9" fill="none" stroke="#333" stroke-width="1.1" stroke-dasharray="7 3 2 3"/>
<path d="M1546.2 217.9 L1778 217.9" fill="none" stroke="#333" stroke-width="1.1" stroke-dasharray="1.5 2"/>
<path d="M1857 217.9 L1871.8 217.9" fill="none" stroke="#333" stroke-width="1.1" stroke-dasharray="1.5 2"/>
<path d="M1546.2 311 L1778 311" fill="none" stroke="#333" stroke-width="1.1" stroke-dasharray="5 3"/>
<path d="M1857 311 L1871.8 311" fill="none" stroke="#333" stroke-width="1.1" stroke-dasharray="5 3"/>
<path d="M1719.4 333.1 L1727.2 333.1 L1728.7 328.4 L1731.1 318.5 L1733.5 308.6 L1735.9 298.6 L1738.3 288.7 L1740.7 278.8 L1743.1 268.8 L1745.5 258.9 L1747.9 249 L1750.3 239.1 L1752.7 229.1 L1755.1 219.2 L1757.5 209.3 L1760 199.3 L1762.4 189.4 L1764.8 179.5 L1767.2 169.5 L1769.6 159.6 L1772 149.7 L1774.4 139.7 L1779.9 123.9 L1784.5 116.7 L1789.1 111.6 L1793.6 108.5 L1798.2 107.5 L1800.5 107.5 L1802.8 107.5 L1805.1 107.5 L1807.3 107.5 L1809.6 107.5 L1811.9 107.5 L1814.2 107.5 L1816.4 107.5 L1818.7 107.5 L1821 107.5 L1823.3 107.5 L1825.6 107.5 L1827.8 107.5 L1830.1 107.5 L1832.4 107.5 L1834.7 107.5 L1837 107.5 L1839.2 107.5 L1841.5 107.5 L1843.8 107.5 L1846.1 107.5 L1848.4 107.5 L1850.6 107.5 L1852.9 107.5 L1855.2 107.5 L1857.5 107.5 L1859.8 107.5 L1862 107.5 L1864.3 107.5 L1866.6 107.5 L1868.9 107.5 L1871.1 107.5" fill="none" stroke="#000000" stroke-width="1"/>
<path d="M1723.1 332.7a2.8 2.8 0 1 0 5.6 0a2.8 2.8 0 1 0 -5.6 0M1720.5 332.7a2.8 2.8 0 1 0 5.6 0a2.8 2.8 0 1 0 -5.6 0M1717.9 332.7a2.8 2.8 0 1 0 5.6 0a2.8 2.8 0 1 0 -5.6 0M1725.9 328.4a2.8 2.8 0 1 0 5.6 0a2.8 2.8 0 1 0 -5.6 0M1728.3 318.5a2.8 2.8 0 1 0 5.6 0a2.8 2.8 0 1 0 -5.6 0M1730.7 308.6a2.8 2.8 0 1 0 5.6 0a2.8 2.8 0 1 0 -5.6 0M1733.1 298.6a2.8 2.8 0 1 0 5.6 0a2.8 2.8 0 1 0 -5.6 0M1735.5 288.7a2.8 2.8 0 1 0 5.6 0a2.8 2.8 0 1 0 -5.6 0M1737.9 278.8a2.8 2.8 0 1 0 5.6 0a2.8 2.8 0 1 0 -5.6 0M1740.3 268.8a2.8 2.8 0 1 0 5.6 0a2.8 2.8 0 1 0 -5.6 0M1742.7 258.9a2.8 2.8 0 1 0 5.6 0a2.8 2.8 0 1 0 -5.6 0M1745.1 249a2.8 2.8 0 1 0 5.6 0a2.8 2.8 0 1 0 -5.6 0M1747.5 239.1a2.8 2.8 0 1 0 5.6 0a2.8 2.8 0 1 0 -5.6 0M1749.9 229.1a2.8 2.8 0 1 0 5.6 0a2.8 2.8 0 1 0 -5.6 0M1752.3 219.2a2.8 2.8 0 1 0 5.6 0a2.8 2.8 0 1 0 -5.6 0M1754.7 209.3a2.8 2.8 0 1 0 5.6 0a2.8 2.8 0 1 0 -5.6 0M1757.2 199.3a2.8 2.8 0 1 0 5.6 0a2.8 2.8 0 1 0 -5.6 0M1759.6 189.4a2.8 2.8 0 1 0 5.6 0a2.8 2.8 0 1 0 -5.6 0M1762 179.5a2.8 2.8 0 1 0 5.6 0a2.8 2.8 0 1 0 -5.6 0M1764.4 169.5a2.8 2.8 0 1 0 5.6 0a2.8 2.8 0 1 0 -5.6 0M1766.8 159.6a2.8 2.8 0 1 0 5.6 0a2.8 2.8 0 1 0 -5.6 0M1769.2 149.7a2.8 2.8 0 1 0 5.6 0a2.8 2.8 0 1 0 -5.6 0M1771.6 139.7a2.8 2.8 0 1 0 5.6 0a2.8 2.8 0 1 0 -5.6 0M1781.7 116.7a2.8 2.8 0 1 0 5.6 0a2.8 2.8 0 1 0 -5.6 0M1790.8 108.5a2.8 2.8 0 1 0 5.6 0a2.8 2.8 0 1 0 -5.6 0M1797.7 107.5a2.8 2.8 0 1 0 5.6 0a2.8 2.8 0 1 0 -5.6 0M1800 107.5a2.8 2.8 0 1 0 5.6 0a2.8 2.8 0 1 0 -5.6 0M1802.3 107.5a2.8 2.8 0 1 0 5.6 0a2.8 2.8 0 1 0 -5.6 0M1804.5 107.5a2.8 2.8 0 1 0 5.6 0a2.8 2.8 0 1 0 -5.6 0M1806.8 107.5a2.8 2.8 0 1 0 5.6 0a2.8 2.8 0 1 0 -5.6 0M1809.1 107.5a2.8 2.8 0 1 0 5.6 0a2.8 2.8 0 1 0 -5.6 0M1811.4 107.5a2.8 2.8 0 1 0 5.6 0a2.8 2.8 0 1 0 -5.6 0M1813.6 107.5a2.8 2.8 0 1 0 5.6 0a2.8 2.8 0 1 0 -5.6 0M1815.9 107.5a2.8 2.8 0 1 0 5.6 0a2.8 2.8 0 1 0 -5.6 0M1818.2 107.5a2.8 2.8 0 1 0 5.6 0a2.8 2.8 0 1 0 -5.6 0M1820.5 107.5a2.8 2.8 0 1 0 5.6 0a2.8 2.8 0 1 0 -5.6 0M1822.8 107.5a2.8 2.8 0 1 0 5.6 0a2.8 2.8 0 1 0 -5.6 0M1825 107.5a2.8 2.8 0 1 0 5.6 0a2.8 2.8 0 1 0 -5.6 0M1827.3 107.5a2.8 2.8 0 1 0 5.6 0a2.8 2.8 0 1 0 -5.6 0M1829.6 107.5a2.8 2.8 0 1 0 5.6 0a2.8 2.8 0 1 0 -5.6 0M1831.9 107.5a2.8 2.8 0 1 0 5.6 0a2.8 2.8 0 1 0 -5.6 0M1834.2 107.5a2.8 2.8 0 1 0 5.6 0a2.8 2.8 0 1 0 -5.6 0M1836.4 107.5a2.8 2.8 0 1 0 5.6 0a2.8 2.8 0 1 0 -5.6 0M1838.7 107.5a2.8 2.8 0 1 0 5.6 0a2.8 2.8 0 1 0 -5.6 0M1841 107.5a2.8 2.8 0 1 0 5.6 0a2.8 2.8 0 1 0 -5.6 0M1843.3 107.5a2.8 2.8 0 1 0 5.6 0a2.8 2.8 0 1 0 -5.6 0M1845.6 107.5a2.8 2.8 0 1 0 5.6 0a2.8 2.8 0 1 0 -5.6 0M1847.8 107.5a2.8 2.8 0 1 0 5.6 0a2.8 2.8 0 1 0 -5.6 0M1850.1 107.5a2.8 2.8 0 1 0 5.6 0a2.8 2.8 0 1 0 -5.6 0M1852.4 107.5a2.8 2.8 0 1 0 5.6 0a2.8 2.8 0 1 0 -5.6 0M1854.7 107.5a2.8 2.8 0 1 0 5.6 0a2.8 2.8 0 1 0 -5.6 0M1857 107.5a2.8 2.8 0 1 0 5.6 0a2.8 2.8 0 1 0 -5.6 0M1859.2 107.5a2.8 2.8 0 1 0 5.6 0a2.8 2.8 0 1 0 -5.6 0M1861.5 107.5a2.8 2.8 0 1 0 5.6 0a2.8 2.8 0 1 0 -5.6 0M1863.8 107.5a2.8 2.8 0 1 0 5.6 0a2.8 2.8 0 1 0 -5.6 0M1866.1 107.5a2.8 2.8 0 1 0 5.6 0a2.8 2.8 0 1 0 -5.6 0M1868.3 107.5a2.8 2.8 0 1 0 5.6 0a2.8 2.8 0 1 0 -5.6 0" fill="#000000"/>
<path d="M1712.7 333.1 L1720.6 333.1 L1720.6 334.1 L1722.9 324.1 L1725.2 314.2 L1727.5 304.3 L1729.8 294.3 L1732.1 284.4 L1734.4 274.5 L1736.7 264.5 L1739 254.6 L1741.3 244.7 L1743.6 234.7 L1746 224.8 L1748.3 214.9 L1750.6 205 L1752.9 195 L1755.2 185.1 L1757.5 175.2 L1759.8 165.2 L1762.1 155.3 L1764.4 145.4 L1766.7 135.4 L1770.8 123.3 L1774.8 116.2 L1778.8 111 L1782.8 107.9 L1786.7 106.9 L1789 106.9 L1791.3 106.9 L1793.6 106.9 L1795.8 106.9 L1798.1 106.9 L1800.4 106.9 L1802.7 106.9 L1805 106.9 L1807.2 106.9 L1809.5 106.9 L1811.8 106.9 L1814.1 106.9 L1816.4 106.9 L1818.6 106.9 L1820.9 106.9 L1823.2 106.9 L1825.5 106.9 L1827.8 106.9 L1830 106.9 L1832.3 106.9 L1834.6 106.9 L1836.9 106.9 L1839.1 106.9 L1841.4 106.9 L1843.7 106.9 L1846 106.9 L1848.3 106.9 L1850.5 106.9 L1852.8 106.9 L1855.1 106.9 L1857.4 106.9 L1859.7 106.9 L1861.9 106.9 L1864.2 106.9 L1866.5 106.9 L1868.8 106.9 L1871.1 106.9" fill="none" stroke="#000008" stroke-width="1"/>
<path d="M1716.5 332.7a2.8 2.8 0 1 0 5.6 0a2.8 2.8 0 1 0 -5.6 0M1713.9 332.7a2.8 2.8 0 1 0 5.6 0a2.8 2.8 0 1 0 -5.6 0M1711.2 332.7a2.8 2.8 0 1 0 5.6 0a2.8 2.8 0 1 0 -5.6 0M1717.8 334.1a2.8 2.8 0 1 0 5.6 0a2.8 2.8 0 1 0 -5.6 0M1720.1 324.1a2.8 2.8 0 1 0 5.6 0a2.8 2.8 0 1 0 -5.6 0M1722.4 314.2a2.8 2.8 0 1 0 5.6 0a2.8 2.8 0 1 0 -5.6 0M1724.7 304.3a2.8 2.8 0 1 0 5.6 0a2.8 2.8 0 1 0 -5.6 0M1727 294.3a2.8 2.8 0 1 0 5.6 0a2.8 2.8 0 1 0 -5.6 0M1729.3 284.4a2.8 2.8 0 1 0 5.6 0a2.8 2.8 0 1 0 -5.6 0M1731.6 274.5a2.8 2.8 0 1 0 5.6 0a2.8 2.8 0 1 0 -5.6 0M1733.9 264.5a2.8 2.8 0 1 0 5.6 0a2.8 2.8 0 1 0 -5.6 0M1736.2 254.6a2.8 2.8 0 1 0 5.6 0a2.8 2.8 0 1 0 -5.6 0M1738.5 244.7a2.8 2.8 0 1 0 5.6 0a2.8 2.8 0 1 0 -5.6 0M1740.8 234.7a2.8 2.8 0 1 0 5.6 0a2.8 2.8 0 1 0 -5.6 0M1743.2 224.8a2.8 2.8 0 1 0 5.6 0a2.8 2.8 0 1 0 -5.6 0M1745.5 214.9a2.8 2.8 0 1 0 5.6 0a2.8 2.8 0 1 0 -5.6 0M1747.8 205a2.8 2.8 0 1 0 5.6 0a2.8 2.8 0 1 0 -5.6 0M1750.1 195a2.8 2.8 0 1 0 5.6 0a2.8 2.8 0 1 0 -5.6 0M1752.4 185.1a2.8 2.8 0 1 0 5.6 0a2.8 2.8 0 1 0 -5.6 0M1754.7 175.2a2.8 2.8 0 1 0 5.6 0a2.8 2.8 0 1 0 -5.6 0M1757 165.2a2.8 2.8 0 1 0 5.6 0a2.8 2.8 0 1 0 -5.6 0M1759.3 155.3a2.8 2.8 0 1 0 5.6 0a2.8 2.8 0 1 0 -5.6 0M1761.6 145.4a2.8 2.8 0 1 0 5.6 0a2.8 2.8 0 1 0 -5.6 0M1763.9 135.4a2.8 2.8 0 1 0 5.6 0a2.8 2.8 0 1 0 -5.6 0M1772 116.2a2.8 2.8 0 1 0 5.6 0a2.8 2.8 0 1 0 -5.6 0M1780 107.9a2.8 2.8 0 1 0 5.6 0a2.8 2.8 0 1 0 -5.6 0M1786.2 106.9a2.8 2.8 0 1 0 5.6 0a2.8 2.8 0 1 0 -5.6 0M1788.5 106.9a2.8 2.8 0 1 0 5.6 0a2.8 2.8 0 1 0 -5.6 0M1790.8 106.9a2.8 2.8 0 1 0 5.6 0a2.8 2.8 0 1 0 -5.6 0M1793 106.9a2.8 2.8 0 1 0 5.6 0a2.8 2.8 0 1 0 -5.6 0M1795.3 106.9a2.8 2.8 0 1 0 5.6 0a2.8 2.8 0 1 0 -5.6 0M1797.6 106.9a2.8 2.8 0 1 0 5.6 0a2.8 2.8 0 1 0 -5.6 0M1799.9 106.9a2.8 2.8 0 1 0 5.6 0a2.8 2.8 0 1 0 -5.6 0M1802.2 106.9a2.8 2.8 0 1 0 5.6 0a2.8 2.8 0 1 0 -5.6 0M1804.4 106.9a2.8 2.8 0 1 0 5.6 0a2.8 2.8 0 1 0 -5.6 0M1806.7 106.9a2.8 2.8 0 1 0 5.6 0a2.8 2.8 0 1 0 -5.6 0M1809 106.9a2.8 2.8 0 1 0 5.6 0a2.8 2.8 0 1 0 -5.6 0M1811.3 106.9a2.8 2.8 0 1 0 5.6 0a2.8 2.8 0 1 0 -5.6 0M1813.6 106.9a2.8 2.8 0 1 0 5.6 0a2.8 2.8 0 1 0 -5.6 0M1815.8 106.9a2.8 2.8 0 1 0 5.6 0a2.8 2.8 0 1 0 -5.6 0M1818.1 106.9a2.8 2.8 0 1 0 5.6 0a2.8 2.8 0 1 0 -5.6 0M1820.4 106.9a2.8 2.8 0 1 0 5.6 0a2.8 2.8 0 1 0 -5.6 0M1822.7 106.9a2.8 2.8 0 1 0 5.6 0a2.8 2.8 0 1 0 -5.6 0M1825 106.9a2.8 2.8 0 1 0 5.6 0a2.8 2.8 0 1 0 -5.6 0M1827.2 106.9a2.8 2.8 0 1 0 5.6 0a2.8 2.8 0 1 0 -5.6 0M1829.5 106.9a2.8 2.8 0 1 0 5.6 0a2.8 2.8 0 1 0 -5.6 0M1831.8 106.9a2.8 2.8 0 1 0 5.6 0a2.8 2.8 0 1 0 -5.6 0M1834.1 106.9a2.8 2.8 0 1 0 5.6 0a2.8 2.8 0 1 0 -5.6 0M1836.3 106.9a2.8 2.8 0 1 0 5.6 0a2.8 2.8 0 1 0 -5.6 0M1838.6 106.9a2.8 2.8 0 1 0 5.6 0a2.8 2.8 0 1 0 -5.6 0M1840.9 106.9a2.8 2.8 0 1 0 5.6 0a2.8 2.8 0 1 0 -5.6 0M1843.2 106.9a2.8 2.8 0 1 0 5.6 0a2.8 2.8 0 1 0 -5.6 0M1845.5 106.9a2.8 2.8 0 1 0 5.6 0a2.8 2.8 0 1 0 -5.6 0M1847.7 106.9a2.8 2.8 0 1 0 5.6 0a2.8 2.8 0 1 0 -5.6 0M1850 106.9a2.8 2.8 0 1 0 5.6 0a2.8 2.8 0 1 0 -5.6 0M1852.3 106.9a2.8 2.8 0 1 0 5.6 0a2.8 2.8 0 1 0 -5.6 0M1854.6 106.9a2.8 2.8 0 1 0 5.6 0a2.8 2.8 0 1 0 -5.6 0M1856.9 106.9a2.8 2.8 0 1 0 5.6 0a2.8 2.8 0 1 0 -5.6 0M1859.1 106.9a2.8 2.8 0 1 0 5.6 0a2.8 2.8 0 1 0 -5.6 0M1861.4 106.9a2.8 2.8 0 1 0 5.6 0a2.8 2.8 0 1 0 -5.6 0M1863.7 106.9a2.8 2.8 0 1 0 5.6 0a2.8 2.8 0 1 0 -5.6 0M1866 106.9a2.8 2.8 0 1 0 5.6 0a2.8 2.8 0 1 0 -5.6 0M1868.3 106.9a2.8 2.8 0 1 0 5.6 0a2.8 2.8 0 1 0 -5.6 0" fill="#000008"/>
<path d="M1706.1 333.1 L1713.9 333.1 L1715.1 328.7 L1717.3 318.8 L1719.5 308.9 L1721.7 299 L1723.9 289 L1726.1 279.1 L1728.3 269.2 L1730.5 259.2 L1732.7 249.3 L1734.9 239.4 L1737.1 229.4 L1739.3 219.5 L1741.5 209.6 L1743.7 199.6 L1745.9 189.7 L1748.1 179.8 L1750.3 169.8 L1752.5 159.9 L1754.7 150 L1756.9 140.1 L1759.1 130.1 L1761.7 122.8 L1765.2 115.6 L1768.6 110.5 L1772.1 107.4 L1775.5 106.4 L1777.8 106.4 L1780.1 106.4 L1782.3 106.4 L1784.6 106.4 L1786.9 106.4 L1789.2 106.4 L1791.5 106.4 L1793.7 106.4 L1796 106.4 L1798.3 106.4 L1800.6 106.4 L1802.8 106.4 L1805.1 106.4 L1807.4 106.4 L1809.7 106.4 L1812 106.4 L1814.2 106.4 L1816.5 106.4 L1818.8 106.4 L1821.1 106.4 L1823.4 106.4 L1825.6 106.4 L1827.9 106.4 L1830.2 106.4 L1832.5 106.4 L1834.8 106.4 L1837 106.4 L1839.3 106.4 L1841.6 106.4 L1843.9 106.4 L1846.2 106.4 L1848.4 106.4 L1850.7 106.4 L1853 106.4 L1855.3 106.4 L1857.5 106.4 L1859.8 106.4 L1862.1 106.4 L1864.4 106.4 L1866.7 106.4 L1868.9 106.4 L1871.2 106.4" fill="none" stroke="#000012" stroke-width="1"/>
<path d="M1709.8 332.7a2.8 2.8 0 1 0 5.6 0a2.8 2.8 0 1 0 -5.6 0M1707.2 332.7a2.8 2.8 0 1 0 5.6 0a2.8 2.8 0 1 0 -5.6 0M1704.6 332.7a2.8 2.8 0 1 0 5.6 0a2.8 2.8 0 1 0 -5.6 0M1712.3 328.7a2.8 2.8 0 1 0 5.6 0a2.8 2.8 0 1 0 -5.6 0M1714.5 318.8a2.8 2.8 0 1 0 5.6 0a2.8 2.8 0 1 0 -5.6 0M1716.7 308.9a2.8 2.8 0 1 0 5.6 0a2.8 2.8 0 1 0 -5.6 0M1718.9 299a2.8 2.8 0 1 0 5.6 0a2.8 2.8 0 1 0 -5.6 0M1721.1 289a2.8 2.8 0 1 0 5.6 0a2.8 2.8 0 1 0 -5.6 0M1723.3 279.1a2.8 2.8 0 1 0 5.6 0a2.8 2.8 0 1 0 -5.6 0M1725.5 269.2a2.8 2.8 0 1 0 5.6 0a2.8 2.8 0 1 0 -5.6 0M1727.7 259.2a2.8 2.8 0 1 0 5.6 0a2.8 2.8 0 1 0 -5.6 0M1729.9 249.3a2.8 2.8 0 1 0 5.6 0a2.8 2.8 0 1 0 -5.6 0M1732.1 239.4a2.8 2.8 0 1 0 5.6 0a2.8 2.8 0 1 0 -5.6 0M1734.3 229.4a2.8 2.8 0 1 0 5.6 0a2.8 2.8 0 1 0 -5.6 0M1736.5 219.5a2.8 2.8 0 1 0 5.6 0a2.8 2.8 0 1 0 -5.6 0M1738.7 209.6a2.8 2.8 0 1 0 5.6 0a2.8 2.8 0 1 0 -5.6 0M1740.9 199.6a2.8 2.8 0 1 0 5.6 0a2.8 2.8 0 1 0 -5.6 0M1743.1 189.7a2.8 2.8 0 1 0 5.6 0a2.8 2.8 0 1 0 -5.6 0M1745.3 179.8a2.8 2.8 0 1 0 5.6 0a2.8 2.8 0 1 0 -5.6 0M1747.5 169.8a2.8 2.8 0 1 0 5.6 0a2.8 2.8 0 1 0 -5.6 0M1749.7 159.9a2.8 2.8 0 1 0 5.6 0a2.8 2.8 0 1 0 -5.6 0M1751.9 150a2.8 2.8 0 1 0 5.6 0a2.8 2.8 0 1 0 -5.6 0M1754.1 140.1a2.8 2.8 0 1 0 5.6 0a2.8 2.8 0 1 0 -5.6 0M1756.3 130.1a2.8 2.8 0 1 0 5.6 0a2.8 2.8 0 1 0 -5.6 0M1762.4 115.6a2.8 2.8 0 1 0 5.6 0a2.8 2.8 0 1 0 -5.6 0M1769.3 107.4a2.8 2.8 0 1 0 5.6 0a2.8 2.8 0 1 0 -5.6 0M1775 106.4a2.8 2.8 0 1 0 5.6 0a2.8 2.8 0 1 0 -5.6 0M1777.3 106.4a2.8 2.8 0 1 0 5.6 0a2.8 2.8 0 1 0 -5.6 0M1779.5 106.4a2.8 2.8 0 1 0 5.6 0a2.8 2.8 0 1 0 -5.6 0M1781.8 106.4a2.8 2.8 0 1 0 5.6 0a2.8 2.8 0 1 0 -5.6 0M1784.1 106.4a2.8 2.8 0 1 0 5.6 0a2.8 2.8 0 1 0 -5.6 0M1786.4 106.4a2.8 2.8 0 1 0 5.6 0a2.8 2.8 0 1 0 -5.6 0M1788.7 106.4a2.8 2.8 0 1 0 5.6 0a2.8 2.8 0 1 0 -5.6 0M1790.9 106.4a2.8 2.8 0 1 0 5.6 0a2.8 2.8 0 1 0 -5.6 0M1793.2 106.4a2.8 2.8 0 1 0 5.6 0a2.8 2.8 0 1 0 -5.6 0M1795.5 106.4a2.8 2.8 0 1 0 5.6 0a2.8 2.8 0 1 0 -5.6 0M1797.8 106.4a2.8 2.8 0 1 0 5.6 0a2.8 2.8 0 1 0 -5.6 0M1800 106.4a2.8 2.8 0 1 0 5.6 0a2.8 2.8 0 1 0 -5.6 0M1802.3 106.4a2.8 2.8 0 1 0 5.6 0a2.8 2.8 0 1 0 -5.6 0M1804.6 106.4a2.8 2.8 0 1 0 5.6 0a2.8 2.8 0 1 0 -5.6 0M1806.9 106.4a2.8 2.8 0 1 0 5.6 0a2.8 2.8 0 1 0 -5.6 0M1809.2 106.4a2.8 2.8 0 1 0 5.6 0a2.8 2.8 0 1 0 -5.6 0M1811.4 106.4a2.8 2.8 0 1 0 5.6 0a2.8 2.8 0 1 0 -5.6 0M1813.7 106.4a2.8 2.8 0 1 0 5.6 0a2.8 2.8 0 1 0 -5.6 0M1816 106.4a2.8 2.8 0 1 0 5.6 0a2.8 2.8 0 1 0 -5.6 0M1818.3 106.4a2.8 2.8 0 1 0 5.6 0a2.8 2.8 0 1 0 -5.6 0M1820.6 106.4a2.8 2.8 0 1 0 5.6 0a2.8 2.8 0 1 0 -5.6 0M1822.8 106.4a2.8 2.8 0 1 0 5.6 0a2.8 2.8 0 1 0 -5.6 0M1825.1 106.4a2.8 2.8 0 1 0 5.6 0a2.8 2.8 0 1 0 -5.6 0M1827.4 106.4a2.8 2.8 0 1 0 5.6 0a2.8 2.8 0 1 0 -5.6 0M1829.7 106.4a2.8 2.8 0 1 0 5.6 0a2.8 2.8 0 1 0 -5.6 0M1832 106.4a2.8 2.8 0 1 0 5.6 0a2.8 2.8 0 1 0 -5.6 0M1834.2 106.4a2.8 2.8 0 1 0 5.6 0a2.8 2.8 0 1 0 -5.6 0M1836.5 106.4a2.8 2.8 0 1 0 5.6 0a2.8 2.8 0 1 0 -5.6 0M1838.8 106.4a2.8 2.8 0 1 0 5.6 0a2.8 2.8 0 1 0 -5.6 0M1841.1 106.4a2.8 2.8 0 1 0 5.6 0a2.8 2.8 0 1 0 -5.6 0M1843.4 106.4a2.8 2.8 0 1 0 5.6 0a2.8 2.8 0 1 0 -5.6 0M1845.6 106.4a2.8 2.8 0 1 0 5.6 0a2.8 2.8 0 1 0 -5.6 0M1847.9 106.4a2.8 2.8 0 1 0 5.6 0a2.8 2.8 0 1 0 -5.6 0M1850.2 106.4a2.8 2.8 0 1 0 5.6 0a2.8 2.8 0 1 0 -5.6 0M1852.5 106.4a2.8 2.8 0 1 0 5.6 0a2.8 2.8 0 1 0 -5.6 0M1854.7 106.4a2.8 2.8 0 1 0 5.6 0a2.8 2.8 0 1 0 -5.6 0M1857 106.4a2.8 2.8 0 1 0 5.6 0a2.8 2.8 0 1 0 -5.6 0M1859.3 106.4a2.8 2.8 0 1 0 5.6 0a2.8 2.8 0 1 0 -5.6 0M1861.6 106.4a2.8 2.8 0 1 0 5.6 0a2.8 2.8 0 1 0 -5.6 0M1863.9 106.4a2.8 2.8 0 1 0 5.6 0a2.8 2.8 0 1 0 -5.6 0M1866.1 106.4a2.8 2.8 0 1 0 5.6 0a2.8 2.8 0 1 0 -5.6 0M1868.4 106.4a2.8 2.8 0 1 0 5.6 0a2.8 2.8 0 1 0 -5.6 0" fill="#000012"/>
<path d="M1699.4 333.1 L1707.2 333.1 L1707.8 331.7 L1709.8 321.8 L1711.9 311.9 L1714 301.9 L1716.1 292 L1718.2 282.1 L1720.3 272.1 L1722.4 262.2 L1724.5 252.3 L1726.6 242.3 L1728.7 232.4 L1730.8 222.5 L1732.9 212.6 L1735 202.6 L1737.1 192.7 L1739.2 182.8 L1741.3 172.8 L1743.3 162.9 L1745.4 153 L1747.5 143 L1749.6 133.1 L1752.7 122.3 L1755.6 115.1 L1758.6 109.9 L1761.6 106.8 L1764.5 105.8 L1766.8 105.8 L1769.1 105.8 L1771.4 105.8 L1773.6 105.8 L1775.9 105.8 L1778.2 105.8 L1780.5 105.8 L1782.8 105.8 L1785 105.8 L1787.3 105.8 L1789.6 105.8 L1791.9 105.8 L1794.1 105.8 L1796.4 105.8 L1798.7 105.8 L1801 105.8 L1803.3 105.8 L1805.5 105.8 L1807.8 105.8 L1810.1 105.8 L1812.4 105.8 L1814.7 105.8 L1816.9 105.8 L1819.2 105.8 L1821.5 105.8 L1823.8 105.8 L1826.1 105.8 L1828.3 105.8 L1830.6 105.8 L1832.9 105.8 L1835.2 105.8 L1837.5 105.8 L1839.7 105.8 L1842 105.8 L1844.3 105.8 L1846.6 105.8 L1848.8 105.8 L1851.1 105.8 L1853.4 105.8 L1855.7 105.8 L1858 105.8 L1860.2 105.8 L1862.5 105.8 L1864.8 105.8 L1867.1 105.8 L1869.4 105.8 L1871.6 105.8" fill="none" stroke="#00001d" stroke-width="1"/>
<path d="M1703.1 332.7a2.8 2.8 0 1 0 5.6 0a2.8 2.8 0 1 0 -5.6 0M1700.5 332.7a2.8 2.8 0 1 0 5.6 0a2.8 2.8 0 1 0 -5.6 0M1697.9 332.7a2.8 2.8 0 1 0 5.6 0a2.8 2.8 0 1 0 -5.6 0M1705 331.7a2.8 2.8 0 1 0 5.6 0a2.8 2.8 0 1 0 -5.6 0M1707 321.8a2.8 2.8 0 1 0 5.6 0a2.8 2.8 0 1 0 -5.6 0M1709.1 311.9a2.8 2.8 0 1 0 5.6 0a2.8 2.8 0 1 0 -5.6 0M1711.2 301.9a2.8 2.8 0 1 0 5.6 0a2.8 2.8 0 1 0 -5.6 0M1713.3 292a2.8 2.8 0 1 0 5.6 0a2.8 2.8 0 1 0 -5.6 0M1715.4 282.1a2.8 2.8 0 1 0 5.6 0a2.8 2.8 0 1 0 -5.6 0M1717.5 272.1a2.8 2.8 0 1 0 5.6 0a2.8 2.8 0 1 0 -5.6 0M1719.6 262.2a2.8 2.8 0 1 0 5.6 0a2.8 2.8 0 1 0 -5.6 0M1721.7 252.3a2.8 2.8 0 1 0 5.6 0a2.8 2.8 0 1 0 -5.6 0M1723.8 242.3a2.8 2.8 0 1 0 5.6 0a2.8 2.8 0 1 0 -5.6 0M1725.9 232.4a2.8 2.8 0 1 0 5.6 0a2.8 2.8 0 1 0 -5.6 0M1728 222.5a2.8 2.8 0 1 0 5.6 0a2.8 2.8 0 1 0 -5.6 0M1730.1 212.6a2.8 2.8 0 1 0 5.6 0a2.8 2.8 0 1 0 -5.6 0M1732.2 202.6a2.8 2.8 0 1 0 5.6 0a2.8 2.8 0 1 0 -5.6 0M1734.3 192.7a2.8 2.8 0 1 0 5.6 0a2.8 2.8 0 1 0 -5.6 0M1736.4 182.8a2.8 2.8 0 1 0 5.6 0a2.8 2.8 0 1 0 -5.6 0M1738.5 172.8a2.8 2.8 0 1 0 5.6 0a2.8 2.8 0 1 0 -5.6 0M1740.5 162.9a2.8 2.8 0 1 0 5.6 0a2.8 2.8 0 1 0 -5.6 0M1742.6 153a2.8 2.8 0 1 0 5.6 0a2.8 2.8 0 1 0 -5.6 0M1744.7 143a2.8 2.8 0 1 0 5.6 0a2.8 2.8 0 1 0 -5.6 0M1746.8 133.1a2.8 2.8 0 1 0 5.6 0a2.8 2.8 0 1 0 -5.6 0M1752.8 115.1a2.8 2.8 0 1 0 5.6 0a2.8 2.8 0 1 0 -5.6 0M1758.8 106.8a2.8 2.8 0 1 0 5.6 0a2.8 2.8 0 1 0 -5.6 0M1764 105.8a2.8 2.8 0 1 0 5.6 0a2.8 2.8 0 1 0 -5.6 0M1766.3 105.8a2.8 2.8 0 1 0 5.6 0a2.8 2.8 0 1 0 -5.6 0M1768.6 105.8a2.8 2.8 0 1 0 5.6 0a2.8 2.8 0 1 0 -5.6 0M1770.8 105.8a2.8 2.8 0 1 0 5.6 0a2.8 2.8 0 1 0 -5.6 0M1773.1 105.8a2.8 2.8 0 1 0 5.6 0a2.8 2.8 0 1 0 -5.6 0M1775.4 105.8a2.8 2.8 0 1 0 5.6 0a2.8 2.8 0 1 0 -5.6 0M1777.7 105.8a2.8 2.8 0 1 0 5.6 0a2.8 2.8 0 1 0 -5.6 0M1780 105.8a2.8 2.8 0 1 0 5.6 0a2.8 2.8 0 1 0 -5.6 0M1782.2 105.8a2.8 2.8 0 1 0 5.6 0a2.8 2.8 0 1 0 -5.6 0M1784.5 105.8a2.8 2.8 0 1 0 5.6 0a2.8 2.8 0 1 0 -5.6 0M1786.8 105.8a2.8 2.8 0 1 0 5.6 0a2.8 2.8 0 1 0 -5.6 0M1789.1 105.8a2.8 2.8 0 1 0 5.6 0a2.8 2.8 0 1 0 -5.6 0M1791.3 105.8a2.8 2.8 0 1 0 5.6 0a2.8 2.8 0 1 0 -5.6 0M1793.6 105.8a2.8 2.8 0 1 0 5.6 0a2.8 2.8 0 1 0 -5.6 0M1795.9 105.8a2.8 2.8 0 1 0 5.6 0a2.8 2.8 0 1 0 -5.6 0M1798.2 105.8a2.8 2.8 0 1 0 5.6 0a2.8 2.8 0 1 0 -5.6 0M1800.5 105.8a2.8 2.8 0 1 0 5.6 0a2.8 2.8 0 1 0 -5.6 0M1802.7 105.8a2.8 2.8 0 1 0 5.6 0a2.8 2.8 0 1 0 -5.6 0M1805 105.8a2.8 2.8 0 1 0 5.6 0a2.8 2.8 0 1 0 -5.6 0M1807.3 105.8a2.8 2.8 0 1 0 5.6 0a2.8 2.8 0 1 0 -5.6 0M1809.6 105.8a2.8 2.8 0 1 0 5.6 0a2.8 2.8 0 1 0 -5.6 0M1811.9 105.8a2.8 2.8 0 1 0 5.6 0a2.8 2.8 0 1 0 -5.6 0M1814.1 105.8a2.8 2.8 0 1 0 5.6 0a2.8 2.8 0 1 0 -5.6 0M1816.4 105.8a2.8 2.8 0 1 0 5.6 0a2.8 2.8 0 1 0 -5.6 0M1818.7 105.8a2.8 2.8 0 1 0 5.6 0a2.8 2.8 0 1 0 -5.6 0M1821 105.8a2.8 2.8 0 1 0 5.6 0a2.8 2.8 0 1 0 -5.6 0M1823.3 105.8a2.8 2.8 0 1 0 5.6 0a2.8 2.8 0 1 0 -5.6 0M1825.5 105.8a2.8 2.8 0 1 0 5.6 0a2.8 2.8 0 1 0 -5.6 0M1827.8 105.8a2.8 2.8 0 1 0 5.6 0a2.8 2.8 0 1 0 -5.6 0M1830.1 105.8a2.8 2.8 0 1 0 5.6 0a2.8 2.8 0 1 0 -5.6 0M1832.4 105.8a2.8 2.8 0 1 0 5.6 0a2.8 2.8 0 1 0 -5.6 0M1834.7 105.8a2.8 2.8 0 1 0 5.6 0a2.8 2.8 0 1 0 -5.6 0M1836.9 105.8a2.8 2.8 0 1 0 5.6 0a2.8 2.8 0 1 0 -5.6 0M1839.2 105.8a2.8 2.8 0 1 0 5.6 0a2.8 2.8 0 1 0 -5.6 0M1841.5 105.8a2.8 2.8 0 1 0 5.6 0a2.8 2.8 0 1 0 -5.6 0M1843.8 105.8a2.8 2.8 0 1 0 5.6 0a2.8 2.8 0 1 0 -5.6 0M1846 105.8a2.8 2.8 0 1 0 5.6 0a2.8 2.8 0 1 0 -5.6 0M1848.3 105.8a2.8 2.8 0 1 0 5.6 0a2.8 2.8 0 1 0 -5.6 0M1850.6 105.8a2.8 2.8 0 1 0 5.6 0a2.8 2.8 0 1 0 -5.6 0M1852.9 105.8a2.8 2.8 0 1 0 5.6 0a2.8 2.8 0 1 0 -5.6 0M1855.2 105.8a2.8 2.8 0 1 0 5.6 0a2.8 2.8 0 1 0 -5.6 0M1857.4 105.8a2.8 2.8 0 1 0 5.6 0a2.8 2.8 0 1 0 -5.6 0M1859.7 105.8a2.8 2.8 0 1 0 5.6 0a2.8 2.8 0 1 0 -5.6 0M1862 105.8a2.8 2.8 0 1 0 5.6 0a2.8 2.8 0 1 0 -5.6 0M1864.3 105.8a2.8 2.8 0 1 0 5.6 0a2.8 2.8 0 1 0 -5.6 0M1866.6 105.8a2.8 2.8 0 1 0 5.6 0a2.8 2.8 0 1 0 -5.6 0M1868.8 105.8a2.8 2.8 0 1 0 5.6 0a2.8 2.8 0 1 0 -5.6 0" fill="#00001d"/>
<path d="M1692.7 333.1 L1700.5 333.1 L1701.4 330.2 L1703.3 320.2 L1705.3 310.3 L1707.3 300.4 L1709.3 290.5 L1711.3 280.5 L1713.3 270.6 L1715.3 260.7 L1717.3 250.7 L1719.3 240.8 L1721.2 230.9 L1723.2 220.9 L1725.2 211 L1727.2 201.1 L1729.2 191.1 L1731.2 181.2 L1733.2 171.3 L1735.2 161.3 L1737.2 151.4 L1739.1 141.5 L1741.1 131.6 L1743.6 121.8 L1746.1 114.6 L1748.7 109.4 L1751.2 106.3 L1753.8 105.2 L1756 105.2 L1758.3 105.2 L1760.6 105.2 L1762.9 105.2 L1765.2 105.2 L1767.4 105.2 L1769.7 105.2 L1772 105.2 L1774.3 105.2 L1776.6 105.2 L1778.8 105.2 L1781.1 105.2 L1783.4 105.2 L1785.7 105.2 L1788 105.2 L1790.2 105.2 L1792.5 105.2 L1794.8 105.2 L1797.1 105.2 L1799.4 105.2 L1801.6 105.2 L1803.9 105.2 L1806.2 105.2 L1808.5 105.2 L1810.7 105.2 L1813 105.2 L1815.3 105.2 L1817.6 105.2 L1819.9 105.2 L1822.1 105.2 L1824.4 105.2 L1826.7 105.2 L1829 105.2 L1831.3 105.2 L1833.5 105.2 L1835.8 105.2 L1838.1 105.2 L1840.4 105.2 L1842.7 105.2 L1844.9 105.2 L1847.2 105.2 L1849.5 105.2 L1851.8 105.2 L1854.1 105.2 L1856.3 105.2 L1858.6 105.2 L1860.9 105.2 L1863.2 105.2 L1865.4 105.2 L1867.7 105.2 L1870 105.2" fill="none" stroke="#000028" stroke-width="1"/>
<path d="M1696.4 332.7a2.8 2.8 0 1 0 5.6 0a2.8 2.8 0 1 0 -5.6 0M1693.8 332.7a2.8 2.8 0 1 0 5.6 0a2.8 2.8 0 1 0 -5.6 0M1691.2 332.7a2.8 2.8 0 1 0 5.6 0a2.8 2.8 0 1 0 -5.6 0M1698.6 330.2a2.8 2.8 0 1 0 5.6 0a2.8 2.8 0 1 0 -5.6 0M1700.5 320.2a2.8 2.8 0 1 0 5.6 0a2.8 2.8 0 1 0 -5.6 0M1702.5 310.3a2.8 2.8 0 1 0 5.6 0a2.8 2.8 0 1 0 -5.6 0M1704.5 300.4a2.8 2.8 0 1 0 5.6 0a2.8 2.8 0 1 0 -5.6 0M1706.5 290.5a2.8 2.8 0 1 0 5.6 0a2.8 2.8 0 1 0 -5.6 0M1708.5 280.5a2.8 2.8 0 1 0 5.6 0a2.8 2.8 0 1 0 -5.6 0M1710.5 270.6a2.8 2.8 0 1 0 5.6 0a2.8 2.8 0 1 0 -5.6 0M1712.5 260.7a2.8 2.8 0 1 0 5.6 0a2.8 2.8 0 1 0 -5.6 0M1714.5 250.7a2.8 2.8 0 1 0 5.6 0a2.8 2.8 0 1 0 -5.6 0M1716.5 240.8a2.8 2.8 0 1 0 5.6 0a2.8 2.8 0 1 0 -5.6 0M1718.4 230.9a2.8 2.8 0 1 0 5.6 0a2.8 2.8 0 1 0 -5.6 0M1720.4 220.9a2.8 2.8 0 1 0 5.6 0a2.8 2.8 0 1 0 -5.6 0M1722.4 211a2.8 2.8 0 1 0 5.6 0a2.8 2.8 0 1 0 -5.6 0M1724.4 201.1a2.8 2.8 0 1 0 5.6 0a2.8 2.8 0 1 0 -5.6 0M1726.4 191.1a2.8 2.8 0 1 0 5.6 0a2.8 2.8 0 1 0 -5.6 0M1728.4 181.2a2.8 2.8 0 1 0 5.6 0a2.8 2.8 0 1 0 -5.6 0M1730.4 171.3a2.8 2.8 0 1 0 5.6 0a2.8 2.8 0 1 0 -5.6 0M1732.4 161.3a2.8 2.8 0 1 0 5.6 0a2.8 2.8 0 1 0 -5.6 0M1734.4 151.4a2.8 2.8 0 1 0 5.6 0a2.8 2.8 0 1 0 -5.6 0M1736.3 141.5a2.8 2.8 0 1 0 5.6 0a2.8 2.8 0 1 0 -5.6 0M1738.3 131.6a2.8 2.8 0 1 0 5.6 0a2.8 2.8 0 1 0 -5.6 0M1743.3 114.6a2.8 2.8 0 1 0 5.6 0a2.8 2.8 0 1 0 -5.6 0M1748.4 106.3a2.8 2.8 0 1 0 5.6 0a2.8 2.8 0 1 0 -5.6 0M1753.2 105.2a2.8 2.8 0 1 0 5.6 0a2.8 2.8 0 1 0 -5.6 0M1755.5 105.2a2.8 2.8 0 1 0 5.6 0a2.8 2.8 0 1 0 -5.6 0M1757.8 105.2a2.8 2.8 0 1 0 5.6 0a2.8 2.8 0 1 0 -5.6 0M1760.1 105.2a2.8 2.8 0 1 0 5.6 0a2.8 2.8 0 1 0 -5.6 0M1762.4 105.2a2.8 2.8 0 1 0 5.6 0a2.8 2.8 0 1 0 -5.6 0M1764.6 105.2a2.8 2.8 0 1 0 5.6 0a2.8 2.8 0 1 0 -5.6 0M1766.9 105.2a2.8 2.8 0 1 0 5.6 0a2.8 2.8 0 1 0 -5.6 0M1769.2 105.2a2.8 2.8 0 1 0 5.6 0a2.8 2.8 0 1 0 -5.6 0M1771.5 105.2a2.8 2.8 0 1 0 5.6 0a2.8 2.8 0 1 0 -5.6 0M1773.8 105.2a2.8 2.8 0 1 0 5.6 0a2.8 2.8 0 1 0 -5.6 0M1776 105.2a2.8 2.8 0 1 0 5.6 0a2.8 2.8 0 1 0 -5.6 0M1778.3 105.2a2.8 2.8 0 1 0 5.6 0a2.8 2.8 0 1 0 -5.6 0M1780.6 105.2a2.8 2.8 0 1 0 5.6 0a2.8 2.8 0 1 0 -5.6 0M1782.9 105.2a2.8 2.8 0 1 0 5.6 0a2.8 2.8 0 1 0 -5.6 0M1785.2 105.2a2.8 2.8 0 1 0 5.6 0a2.8 2.8 0 1 0 -5.6 0M1787.4 105.2a2.8 2.8 0 1 0 5.6 0a2.8 2.8 0 1 0 -5.6 0M1789.7 105.2a2.8 2.8 0 1 0 5.6 0a2.8 2.8 0 1 0 -5.6 0M1792 105.2a2.8 2.8 0 1 0 5.6 0a2.8 2.8 0 1 0 -5.6 0M1794.3 105.2a2.8 2.8 0 1 0 5.6 0a2.8 2.8 0 1 0 -5.6 0M1796.6 105.2a2.8 2.8 0 1 0 5.6 0a2.8 2.8 0 1 0 -5.6 0M1798.8 105.2a2.8 2.8 0 1 0 5.6 0a2.8 2.8 0 1 0 -5.6 0M1801.1 105.2a2.8 2.8 0 1 0 5.6 0a2.8 2.8 0 1 0 -5.6 0M1803.4 105.2a2.8 2.8 0 1 0 5.6 0a2.8 2.8 0 1 0 -5.6 0M1805.7 105.2a2.8 2.8 0 1 0 5.6 0a2.8 2.8 0 1 0 -5.6 0M1807.9 105.2a2.8 2.8 0 1 0 5.6 0a2.8 2.8 0 1 0 -5.6 0M1810.2 105.2a2.8 2.8 0 1 0 5.6 0a2.8 2.8 0 1 0 -5.6 0M1812.5 105.2a2.8 2.8 0 1 0 5.6 0a2.8 2.8 0 1 0 -5.6 0M1814.8 105.2a2.8 2.8 0 1 0 5.6 0a2.8 2.8 0 1 0 -5.6 0M1817.1 105.2a2.8 2.8 0 1 0 5.6 0a2.8 2.8 0 1 0 -5.6 0M1819.3 105.2a2.8 2.8 0 1 0 5.6 0a2.8 2.8 0 1 0 -5.6 0M1821.6 105.2a2.8 2.8 0 1 0 5.6 0a2.8 2.8 0 1 0 -5.6 0M1823.9 105.2a2.8 2.8 0 1 0 5.6 0a2.8 2.8 0 1 0 -5.6 0M1826.2 105.2a2.8 2.8 0 1 0 5.6 0a2.8 2.8 0 1 0 -5.6 0M1828.5 105.2a2.8 2.8 0 1 0 5.6 0a2.8 2.8 0 1 0 -5.6 0M1830.7 105.2a2.8 2.8 0 1 0 5.6 0a2.8 2.8 0 1 0 -5.6 0M1833 105.2a2.8 2.8 0 1 0 5.6 0a2.8 2.8 0 1 0 -5.6 0M1835.3 105.2a2.8 2.8 0 1 0 5.6 0a2.8 2.8 0 1 0 -5.6 0M1837.6 105.2a2.8 2.8 0 1 0 5.6 0a2.8 2.8 0 1 0 -5.6 0M1839.9 105.2a2.8 2.8 0 1 0 5.6 0a2.8 2.8 0 1 0 -5.6 0M1842.1 105.2a2.8 2.8 0 1 0 5.6 0a2.8 2.8 0 1 0 -5.6 0M1844.4 105.2a2.8 2.8 0 1 0 5.6 0a2.8 2.8 0 1 0 -5.6 0M1846.7 105.2a2.8 2.8 0 1 0 5.6 0a2.8 2.8 0 1 0 -5.6 0M1849 105.2a2.8 2.8 0 1 0 5.6 0a2.8 2.8 0 1 0 -5.6 0M1851.3 105.2a2.8 2.8 0 1 0 5.6 0a2.8 2.8 0 1 0 -5.6 0M1853.5 105.2a2.8 2.8 0 1 0 5.6 0a2.8 2.8 0 1 0 -5.6 0M1855.8 105.2a2.8 2.8 0 1 0 5.6 0a2.8 2.8 0 1 0 -5.6 0M1858.1 105.2a2.8 2.8 0 1 0 5.6 0a2.8 2.8 0 1 0 -5.6 0M1860.4 105.2a2.8 2.8 0 1 0 5.6 0a2.8 2.8 0 1 0 -5.6 0M1862.6 105.2a2.8 2.8 0 1 0 5.6 0a2.8 2.8 0 1 0 -5.6 0M1864.9 105.2a2.8 2.8 0 1 0 5.6 0a2.8 2.8 0 1 0 -5.6 0M1867.2 105.2a2.8 2.8 0 1 0 5.6 0a2.8 2.8 0 1 0 -5.6 0" fill="#000028"/>
<path d="M1686 333.1 L1693.9 333.1 L1694.4 331.5 L1696.3 321.6 L1698.2 311.6 L1700 301.7 L1701.9 291.8 L1703.8 281.8 L1705.7 271.9 L1707.6 262 L1709.5 252 L1711.3 242.1 L1713.2 232.2 L1715.1 222.2 L1717 212.3 L1718.9 202.4 L1720.8 192.4 L1722.6 182.5 L1724.5 172.6 L1726.4 162.7 L1728.3 152.7 L1730.2 142.8 L1732.1 132.9 L1734.6 121.3 L1736.7 114 L1738.9 108.8 L1741.1 105.7 L1743.2 104.7 L1745.5 104.7 L1747.8 104.7 L1750.1 104.7 L1752.4 104.7 L1754.6 104.7 L1756.9 104.7 L1759.2 104.7 L1761.5 104.7 L1763.7 104.7 L1766 104.7 L1768.3 104.7 L1770.6 104.7 L1772.9 104.7 L1775.1 104.7 L1777.4 104.7 L1779.7 104.7 L1782 104.7 L1784.3 104.7 L1786.5 104.7 L1788.8 104.7 L1791.1 104.7 L1793.4 104.7 L1795.7 104.7 L1797.9 104.7 L1800.2 104.7 L1802.5 104.7 L1804.8 104.7 L1807.1 104.7 L1809.3 104.7 L1811.6 104.7 L1813.9 104.7 L1816.2 104.7 L1818.4 104.7 L1820.7 104.7 L1823 104.7 L1825.3 104.7 L1827.6 104.7 L1829.8 104.7 L1832.1 104.7 L1834.4 104.7 L1836.7 104.7 L1839 104.7 L1841.2 104.7 L1843.5 104.7 L1845.8 104.7 L1848.1 104.7 L1850.4 104.7 L1852.6 104.7 L1854.9 104.7 L1857.2 104.7 L1859.5 104.7 L1861.8 104.7 L1864 104.7 L1866.3 104.7 L1868.6 104.7 L1870.9 104.7" fill="none" stroke="#000034" stroke-width="1"/>
<path d="M1689.8 332.7a2.8 2.8 0 1 0 5.6 0a2.8 2.8 0 1 0 -5.6 0M1687.2 332.7a2.8 2.8 0 1 0 5.6 0a2.8 2.8 0 1 0 -5.6 0M1684.5 332.7a2.8 2.8 0 1 0 5.6 0a2.8 2.8 0 1 0 -5.6 0M1691.6 331.5a2.8 2.8 0 1 0 5.6 0a2.8 2.8 0 1 0 -5.6 0M1693.5 321.6a2.8 2.8 0 1 0 5.6 0a2.8 2.8 0 1 0 -5.6 0M1695.4 311.6a2.8 2.8 0 1 0 5.6 0a2.8 2.8 0 1 0 -5.6 0M1697.2 301.7a2.8 2.8 0 1 0 5.6 0a2.8 2.8 0 1 0 -5.6 0M1699.1 291.8a2.8 2.8 0 1 0 5.6 0a2.8 2.8 0 1 0 -5.6 0M1701 281.8a2.8 2.8 0 1 0 5.6 0a2.8 2.8 0 1 0 -5.6 0M1702.9 271.9a2.8 2.8 0 1 0 5.6 0a2.8 2.8 0 1 0 -5.6 0M1704.8 262a2.8 2.8 0 1 0 5.6 0a2.8 2.8 0 1 0 -5.6 0M1706.7 252a2.8 2.8 0 1 0 5.6 0a2.8 2.8 0 1 0 -5.6 0M1708.5 242.1a2.8 2.8 0 1 0 5.6 0a2.8 2.8 0 1 0 -5.6 0M1710.4 232.2a2.8 2.8 0 1 0 5.6 0a2.8 2.8 0 1 0 -5.6 0M1712.3 222.2a2.8 2.8 0 1 0 5.6 0a2.8 2.8 0 1 0 -5.6 0M1714.2 212.3a2.8 2.8 0 1 0 5.6 0a2.8 2.8 0 1 0 -5.6 0M1716.1 202.4a2.8 2.8 0 1 0 5.6 0a2.8 2.8 0 1 0 -5.6 0M1718 192.4a2.8 2.8 0 1 0 5.6 0a2.8 2.8 0 1 0 -5.6 0M1719.8 182.5a2.8 2.8 0 1 0 5.6 0a2.8 2.8 0 1 0 -5.6 0M1721.7 172.6a2.8 2.8 0 1 0 5.6 0a2.8 2.8 0 1 0 -5.6 0M1723.6 162.7a2.8 2.8 0 1 0 5.6 0a2.8 2.8 0 1 0 -5.6 0M1725.5 152.7a2.8 2.8 0 1 0 5.6 0a2.8 2.8 0 1 0 -5.6 0M1727.4 142.8a2.8 2.8 0 1 0 5.6 0a2.8 2.8 0 1 0 -5.6 0M1729.3 132.9a2.8 2.8 0 1 0 5.6 0a2.8 2.8 0 1 0 -5.6 0M1733.9 114a2.8 2.8 0 1 0 5.6 0a2.8 2.8 0 1 0 -5.6 0M1738.3 105.7a2.8 2.8 0 1 0 5.6 0a2.8 2.8 0 1 0 -5.6 0M1742.7 104.7a2.8 2.8 0 1 0 5.6 0a2.8 2.8 0 1 0 -5.6 0M1745 104.7a2.8 2.8 0 1 0 5.6 0a2.8 2.8 0 1 0 -5.6 0M1747.3 104.7a2.8 2.8 0 1 0 5.6 0a2.8 2.8 0 1 0 -5.6 0M1749.6 104.7a2.8 2.8 0 1 0 5.6 0a2.8 2.8 0 1 0 -5.6 0M1751.8 104.7a2.8 2.8 0 1 0 5.6 0a2.8 2.8 0 1 0 -5.6 0M1754.1 104.7a2.8 2.8 0 1 0 5.6 0a2.8 2.8 0 1 0 -5.6 0M1756.4 104.7a2.8 2.8 0 1 0 5.6 0a2.8 2.8 0 1 0 -5.6 0M1758.7 104.7a2.8 2.8 0 1 0 5.6 0a2.8 2.8 0 1 0 -5.6 0M1760.9 104.7a2.8 2.8 0 1 0 5.6 0a2.8 2.8 0 1 0 -5.6 0M1763.2 104.7a2.8 2.8 0 1 0 5.6 0a2.8 2.8 0 1 0 -5.6 0M1765.5 104.7a2.8 2.8 0 1 0 5.6 0a2.8 2.8 0 1 0 -5.6 0M1767.8 104.7a2.8 2.8 0 1 0 5.6 0a2.8 2.8 0 1 0 -5.6 0M1770.1 104.7a2.8 2.8 0 1 0 5.6 0a2.8 2.8 0 1 0 -5.6 0M1772.3 104.7a2.8 2.8 0 1 0 5.6 0a2.8 2.8 0 1 0 -5.6 0M1774.6 104.7a2.8 2.8 0 1 0 5.6 0a2.8 2.8 0 1 0 -5.6 0M1776.9 104.7a2.8 2.8 0 1 0 5.6 0a2.8 2.8 0 1 0 -5.6 0M1779.2 104.7a2.8 2.8 0 1 0 5.6 0a2.8 2.8 0 1 0 -5.6 0M1781.5 104.7a2.8 2.8 0 1 0 5.6 0a2.8 2.8 0 1 0 -5.6 0M1783.7 104.7a2.8 2.8 0 1 0 5.6 0a2.8 2.8 0 1 0 -5.6 0M1786 104.7a2.8 2.8 0 1 0 5.6 0a2.8 2.8 0 1 0 -5.6 0M1788.3 104.7a2.8 2.8 0 1 0 5.6 0a2.8 2.8 0 1 0 -5.6 0M1790.6 104.7a2.8 2.8 0 1 0 5.6 0a2.8 2.8 0 1 0 -5.6 0M1792.9 104.7a2.8 2.8 0 1 0 5.6 0a2.8 2.8 0 1 0 -5.6 0M1795.1 104.7a2.8 2.8 0 1 0 5.6 0a2.8 2.8 0 1 0 -5.6 0M1797.4 104.7a2.8 2.8 0 1 0 5.6 0a2.8 2.8 0 1 0 -5.6 0M1799.7 104.7a2.8 2.8 0 1 0 5.6 0a2.8 2.8 0 1 0 -5.6 0M1802 104.7a2.8 2.8 0 1 0 5.6 0a2.8 2.8 0 1 0 -5.6 0M1804.3 104.7a2.8 2.8 0 1 0 5.6 0a2.8 2.8 0 1 0 -5.6 0M1806.5 104.7a2.8 2.8 0 1 0 5.6 0a2.8 2.8 0 1 0 -5.6 0M1808.8 104.7a2.8 2.8 0 1 0 5.6 0a2.8 2.8 0 1 0 -5.6 0M1811.1 104.7a2.8 2.8 0 1 0 5.6 0a2.8 2.8 0 1 0 -5.6 0M1813.4 104.7a2.8 2.8 0 1 0 5.6 0a2.8 2.8 0 1 0 -5.6 0M1815.6 104.7a2.8 2.8 0 1 0 5.6 0a2.8 2.8 0 1 0 -5.6 0M1817.9 104.7a2.8 2.8 0 1 0 5.6 0a2.8 2.8 0 1 0 -5.6 0M1820.2 104.7a2.8 2.8 0 1 0 5.6 0a2.8 2.8 0 1 0 -5.6 0M1822.5 104.7a2.8 2.8 0 1 0 5.6 0a2.8 2.8 0 1 0 -5.6 0M1824.8 104.7a2.8 2.8 0 1 0 5.6 0a2.8 2.8 0 1 0 -5.6 0M1827 104.7a2.8 2.8 0 1 0 5.6 0a2.8 2.8 0 1 0 -5.6 0M1829.3 104.7a2.8 2.8 0 1 0 5.6 0a2.8 2.8 0 1 0 -5.6 0M1831.6 104.7a2.8 2.8 0 1 0 5.6 0a2.8 2.8 0 1 0 -5.6 0M1833.9 104.7a2.8 2.8 0 1 0 5.6 0a2.8 2.8 0 1 0 -5.6 0M1836.2 104.7a2.8 2.8 0 1 0 5.6 0a2.8 2.8 0 1 0 -5.6 0M1838.4 104.7a2.8 2.8 0 1 0 5.6 0a2.8 2.8 0 1 0 -5.6 0M1840.7 104.7a2.8 2.8 0 1 0 5.6 0a2.8 2.8 0 1 0 -5.6 0M1843 104.7a2.8 2.8 0 1 0 5.6 0a2.8 2.8 0 1 0 -5.6 0M1845.3 104.7a2.8 2.8 0 1 0 5.6 0a2.8 2.8 0 1 0 -5.6 0M1847.6 104.7a2.8 2.8 0 1 0 5.6 0a2.8 2.8 0 1 0 -5.6 0M1849.8 104.7a2.8 2.8 0 1 0 5.6 0a2.8 2.8 0 1 0 -5.6 0M1852.1 104.7a2.8 2.8 0 1 0 5.6 0a2.8 2.8 0 1 0 -5.6 0M1854.4 104.7a2.8 2.8 0 1 0 5.6 0a2.8 2.8 0 1 0 -5.6 0M1856.7 104.7a2.8 2.8 0 1 0 5.6 0a2.8 2.8 0 1 0 -5.6 0M1859 104.7a2.8 2.8 0 1 0 5.6 0a2.8 2.8 0 1 0 -5.6 0M1861.2 104.7a2.8 2.8 0 1 0 5.6 0a2.8 2.8 0 1 0 -5.6 0M1863.5 104.7a2.8 2.8 0 1 0 5.6 0a2.8 2.8 0 1 0 -5.6 0M1865.8 104.7a2.8 2.8 0 1 0 5.6 0a2.8 2.8 0 1 0 -5.6 0M1868.1 104.7a2.8 2.8 0 1 0 5.6 0a2.8 2.8 0 1 0 -5.6 0" fill="#000034"/>
<path d="M1679.4 333.1 L1687.2 333.1 L1688.4 327.4 L1690.2 317.5 L1692 307.6 L1693.7 297.6 L1695.5 287.7 L1697.3 277.8 L1699.1 267.8 L1700.9 257.9 L1702.6 248 L1704.4 238 L1706.2 228.1 L1708 218.2 L1709.7 208.2 L1711.5 198.3 L1713.3 188.4 L1715.1 178.4 L1716.8 168.5 L1718.6 158.6 L1720.4 148.7 L1722.2 138.7 L1723.9 128.8 L1725.5 120.8 L1727.4 113.5 L1729.2 108.3 L1731.1 105.2 L1732.9 104.1 L1735.2 104.1 L1737.5 104.1 L1739.7 104.1 L1742 104.1 L1744.3 104.1 L1746.6 104.1 L1748.9 104.1 L1751.1 104.1 L1753.4 104.1 L1755.7 104.1 L1758 104.1 L1760.2 104.1 L1762.5 104.1 L1764.8 104.1 L1767.1 104.1 L1769.4 104.1 L1771.6 104.1 L1773.9 104.1 L1776.2 104.1 L1778.5 104.1 L1780.8 104.1 L1783 104.1 L1785.3 104.1 L1787.6 104.1 L1789.9 104.1 L1792.2 104.1 L1794.4 104.1 L1796.7 104.1 L1799 104.1 L1801.3 104.1 L1803.6 104.1 L1805.8 104.1 L1808.1 104.1 L1810.4 104.1 L1812.7 104.1 L1814.9 104.1 L1817.2 104.1 L1819.5 104.1 L1821.8 104.1 L1824.1 104.1 L1826.3 104.1 L1828.6 104.1 L1830.9 104.1 L1833.2 104.1 L1835.5 104.1 L1837.7 104.1 L1840 104.1 L1842.3 104.1 L1844.6 104.1 L1846.9 104.1 L1849.1 104.1 L1851.4 104.1 L1853.7 104.1 L1856 104.1 L1858.3 104.1 L1860.5 104.1 L1862.8 104.1 L1865.1 104.1 L1867.4 104.1 L1869.6 104.1" fill="none" stroke="#000040" stroke-width="1"/>
<path d="M1683.1 332.7a2.8 2.8 0 1 0 5.6 0a2.8 2.8 0 1 0 -5.6 0M1680.5 332.7a2.8 2.8 0 1 0 5.6 0a2.8 2.8 0 1 0 -5.6 0M1677.9 332.7a2.8 2.8 0 1 0 5.6 0a2.8 2.8 0 1 0 -5.6 0M1685.6 327.4a2.8 2.8 0 1 0 5.6 0a2.8 2.8 0 1 0 -5.6 0M1687.4 317.5a2.8 2.8 0 1 0 5.6 0a2.8 2.8 0 1 0 -5.6 0M1689.2 307.6a2.8 2.8 0 1 0 5.6 0a2.8 2.8 0 1 0 -5.6 0M1690.9 297.6a2.8 2.8 0 1 0 5.6 0a2.8 2.8 0 1 0 -5.6 0M1692.7 287.7a2.8 2.8 0 1 0 5.6 0a2.8 2.8 0 1 0 -5.6 0M1694.5 277.8a2.8 2.8 0 1 0 5.6 0a2.8 2.8 0 1 0 -5.6 0M1696.3 267.8a2.8 2.8 0 1 0 5.6 0a2.8 2.8 0 1 0 -5.6 0M1698.1 257.9a2.8 2.8 0 1 0 5.6 0a2.8 2.8 0 1 0 -5.6 0M1699.8 248a2.8 2.8 0 1 0 5.6 0a2.8 2.8 0 1 0 -5.6 0M1701.6 238a2.8 2.8 0 1 0 5.6 0a2.8 2.8 0 1 0 -5.6 0M1703.4 228.1a2.8 2.8 0 1 0 5.6 0a2.8 2.8 0 1 0 -5.6 0M1705.2 218.2a2.8 2.8 0 1 0 5.6 0a2.8 2.8 0 1 0 -5.6 0M1706.9 208.2a2.8 2.8 0 1 0 5.6 0a2.8 2.8 0 1 0 -5.6 0M1708.7 198.3a2.8 2.8 0 1 0 5.6 0a2.8 2.8 0 1 0 -5.6 0M1710.5 188.4a2.8 2.8 0 1 0 5.6 0a2.8 2.8 0 1 0 -5.6 0M1712.3 178.4a2.8 2.8 0 1 0 5.6 0a2.8 2.8 0 1 0 -5.6 0M1714 168.5a2.8 2.8 0 1 0 5.6 0a2.8 2.8 0 1 0 -5.6 0M1715.8 158.6a2.8 2.8 0 1 0 5.6 0a2.8 2.8 0 1 0 -5.6 0M1717.6 148.7a2.8 2.8 0 1 0 5.6 0a2.8 2.8 0 1 0 -5.6 0M1719.4 138.7a2.8 2.8 0 1 0 5.6 0a2.8 2.8 0 1 0 -5.6 0M1721.1 128.8a2.8 2.8 0 1 0 5.6 0a2.8 2.8 0 1 0 -5.6 0M1724.6 113.5a2.8 2.8 0 1 0 5.6 0a2.8 2.8 0 1 0 -5.6 0M1728.3 105.2a2.8 2.8 0 1 0 5.6 0a2.8 2.8 0 1 0 -5.6 0M1732.4 104.1a2.8 2.8 0 1 0 5.6 0a2.8 2.8 0 1 0 -5.6 0M1734.7 104.1a2.8 2.8 0 1 0 5.6 0a2.8 2.8 0 1 0 -5.6 0M1736.9 104.1a2.8 2.8 0 1 0 5.6 0a2.8 2.8 0 1 0 -5.6 0M1739.2 104.1a2.8 2.8 0 1 0 5.6 0a2.8 2.8 0 1 0 -5.6 0M1741.5 104.1a2.8 2.8 0 1 0 5.6 0a2.8 2.8 0 1 0 -5.6 0M1743.8 104.1a2.8 2.8 0 1 0 5.6 0a2.8 2.8 0 1 0 -5.6 0M1746.1 104.1a2.8 2.8 0 1 0 5.6 0a2.8 2.8 0 1 0 -5.6 0M1748.3 104.1a2.8 2.8 0 1 0 5.6 0a2.8 2.8 0 1 0 -5.6 0M1750.6 104.1a2.8 2.8 0 1 0 5.6 0a2.8 2.8 0 1 0 -5.6 0M1752.9 104.1a2.8 2.8 0 1 0 5.6 0a2.8 2.8 0 1 0 -5.6 0M1755.2 104.1a2.8 2.8 0 1 0 5.6 0a2.8 2.8 0 1 0 -5.6 0M1757.4 104.1a2.8 2.8 0 1 0 5.6 0a2.8 2.8 0 1 0 -5.6 0M1759.7 104.1a2.8 2.8 0 1 0 5.6 0a2.8 2.8 0 1 0 -5.6 0M1762 104.1a2.8 2.8 0 1 0 5.6 0a2.8 2.8 0 1 0 -5.6 0M1764.3 104.1a2.8 2.8 0 1 0 5.6 0a2.8 2.8 0 1 0 -5.6 0M1766.6 104.1a2.8 2.8 0 1 0 5.6 0a2.8 2.8 0 1 0 -5.6 0M1768.8 104.1a2.8 2.8 0 1 0 5.6 0a2.8 2.8 0 1 0 -5.6 0M1771.1 104.1a2.8 2.8 0 1 0 5.6 0a2.8 2.8 0 1 0 -5.6 0M1773.4 104.1a2.8 2.8 0 1 0 5.6 0a2.8 2.8 0 1 0 -5.6 0M1775.7 104.1a2.8 2.8 0 1 0 5.6 0a2.8 2.8 0 1 0 -5.6 0M1778 104.1a2.8 2.8 0 1 0 5.6 0a2.8 2.8 0 1 0 -5.6 0M1780.2 104.1a2.8 2.8 0 1 0 5.6 0a2.8 2.8 0 1 0 -5.6 0M1782.5 104.1a2.8 2.8 0 1 0 5.6 0a2.8 2.8 0 1 0 -5.6 0M1784.8 104.1a2.8 2.8 0 1 0 5.6 0a2.8 2.8 0 1 0 -5.6 0M1787.1 104.1a2.8 2.8 0 1 0 5.6 0a2.8 2.8 0 1 0 -5.6 0M1789.4 104.1a2.8 2.8 0 1 0 5.6 0a2.8 2.8 0 1 0 -5.6 0M1791.6 104.1a2.8 2.8 0 1 0 5.6 0a2.8 2.8 0 1 0 -5.6 0M1793.9 104.1a2.8 2.8 0 1 0 5.6 0a2.8 2.8 0 1 0 -5.6 0M1796.2 104.1a2.8 2.8 0 1 0 5.6 0a2.8 2.8 0 1 0 -5.6 0M1798.5 104.1a2.8 2.8 0 1 0 5.6 0a2.8 2.8 0 1 0 -5.6 0M1800.8 104.1a2.8 2.8 0 1 0 5.6 0a2.8 2.8 0 1 0 -5.6 0M1803 104.1a2.8 2.8 0 1 0 5.6 0a2.8 2.8 0 1 0 -5.6 0M1805.3 104.1a2.8 2.8 0 1 0 5.6 0a2.8 2.8 0 1 0 -5.6 0M1807.6 104.1a2.8 2.8 0 1 0 5.6 0a2.8 2.8 0 1 0 -5.6 0M1809.9 104.1a2.8 2.8 0 1 0 5.6 0a2.8 2.8 0 1 0 -5.6 0M1812.1 104.1a2.8 2.8 0 1 0 5.6 0a2.8 2.8 0 1 0 -5.6 0M1814.4 104.1a2.8 2.8 0 1 0 5.6 0a2.8 2.8 0 1 0 -5.6 0M1816.7 104.1a2.8 2.8 0 1 0 5.6 0a2.8 2.8 0 1 0 -5.6 0M1819 104.1a2.8 2.8 0 1 0 5.6 0a2.8 2.8 0 1 0 -5.6 0M1821.3 104.1a2.8 2.8 0 1 0 5.6 0a2.8 2.8 0 1 0 -5.6 0M1823.5 104.1a2.8 2.8 0 1 0 5.6 0a2.8 2.8 0 1 0 -5.6 0M1825.8 104.1a2.8 2.8 0 1 0 5.6 0a2.8 2.8 0 1 0 -5.6 0M1828.1 104.1a2.8 2.8 0 1 0 5.6 0a2.8 2.8 0 1 0 -5.6 0M1830.4 104.1a2.8 2.8 0 1 0 5.6 0a2.8 2.8 0 1 0 -5.6 0M1832.7 104.1a2.8 2.8 0 1 0 5.6 0a2.8 2.8 0 1 0 -5.6 0M1834.9 104.1a2.8 2.8 0 1 0 5.6 0a2.8 2.8 0 1 0 -5.6 0M1837.2 104.1a2.8 2.8 0 1 0 5.6 0a2.8 2.8 0 1 0 -5.6 0M1839.5 104.1a2.8 2.8 0 1 0 5.6 0a2.8 2.8 0 1 0 -5.6 0M1841.8 104.1a2.8 2.8 0 1 0 5.6 0a2.8 2.8 0 1 0 -5.6 0M1844.1 104.1a2.8 2.8 0 1 0 5.6 0a2.8 2.8 0 1 0 -5.6 0M1846.3 104.1a2.8 2.8 0 1 0 5.6 0a2.8 2.8 0 1 0 -5.6 0M1848.6 104.1a2.8 2.8 0 1 0 5.6 0a2.8 2.8 0 1 0 -5.6 0M1850.9 104.1a2.8 2.8 0 1 0 5.6 0a2.8 2.8 0 1 0 -5.6 0M1853.2 104.1a2.8 2.8 0 1 0 5.6 0a2.8 2.8 0 1 0 -5.6 0M1855.5 104.1a2.8 2.8 0 1 0 5.6 0a2.8 2.8 0 1 0 -5.6 0M1857.7 104.1a2.8 2.8 0 1 0 5.6 0a2.8 2.8 0 1 0 -5.6 0M1860 104.1a2.8 2.8 0 1 0 5.6 0a2.8 2.8 0 1 0 -5.6 0M1862.3 104.1a2.8 2.8 0 1 0 5.6 0a2.8 2.8 0 1 0 -5.6 0M1864.6 104.1a2.8 2.8 0 1 0 5.6 0a2.8 2.8 0 1 0 -5.6 0M1866.8 104.1a2.8 2.8 0 1 0 5.6 0a2.8 2.8 0 1 0 -5.6 0" fill="#000040"/>
<path d="M1672.7 333.1 L1680.5 333.1 L1681.2 329.9 L1682.9 320 L1684.6 310.1 L1686.3 300.1 L1687.9 290.2 L1689.6 280.3 L1691.3 270.3 L1692.9 260.4 L1694.6 250.5 L1696.3 240.5 L1697.9 230.6 L1699.6 220.7 L1701.3 210.8 L1703 200.8 L1704.6 190.9 L1706.3 181 L1708 171 L1709.6 161.1 L1711.3 151.2 L1713 141.2 L1714.6 131.3 L1716.5 120.2 L1718.1 113 L1719.6 107.7 L1721.2 104.6 L1722.7 103.6 L1725 103.6 L1727.3 103.6 L1729.6 103.6 L1731.9 103.6 L1734.1 103.6 L1736.4 103.6 L1738.7 103.6 L1741 103.6 L1743.3 103.6 L1745.5 103.6 L1747.8 103.6 L1750.1 103.6 L1752.4 103.6 L1754.7 103.6 L1756.9 103.6 L1759.2 103.6 L1761.5 103.6 L1763.8 103.6 L1766 103.6 L1768.3 103.6 L1770.6 103.6 L1772.9 103.6 L1775.2 103.6 L1777.4 103.6 L1779.7 103.6 L1782 103.6 L1784.3 103.6 L1786.6 103.6 L1788.8 103.6 L1791.1 103.6 L1793.4 103.6 L1795.7 103.6 L1798 103.6 L1800.2 103.6 L1802.5 103.6 L1804.8 103.6 L1807.1 103.6 L1809.4 103.6 L1811.6 103.6 L1813.9 103.6 L1816.2 103.6 L1818.5 103.6 L1820.7 103.6 L1823 103.6 L1825.3 103.6 L1827.6 103.6 L1829.9 103.6 L1832.1 103.6 L1834.4 103.6 L1836.7 103.6 L1839 103.6 L1841.3 103.6 L1843.5 103.6 L1845.8 103.6 L1848.1 103.6 L1850.4 103.6 L1852.7 103.6 L1854.9 103.6 L1857.2 103.6 L1859.5 103.6 L1861.8 103.6 L1864.1 103.6 L1866.3 103.6 L1868.6 103.6 L1870.9 103.6" fill="none" stroke="#00004c" stroke-width="1"/>
<path d="M1676.4 332.7a2.8 2.8 0 1 0 5.6 0a2.8 2.8 0 1 0 -5.6 0M1673.8 332.7a2.8 2.8 0 1 0 5.6 0a2.8 2.8 0 1 0 -5.6 0M1671.2 332.7a2.8 2.8 0 1 0 5.6 0a2.8 2.8 0 1 0 -5.6 0M1678.4 329.9a2.8 2.8 0 1 0 5.6 0a2.8 2.8 0 1 0 -5.6 0M1680.1 320a2.8 2.8 0 1 0 5.6 0a2.8 2.8 0 1 0 -5.6 0M1681.8 310.1a2.8 2.8 0 1 0 5.6 0a2.8 2.8 0 1 0 -5.6 0M1683.5 300.1a2.8 2.8 0 1 0 5.6 0a2.8 2.8 0 1 0 -5.6 0M1685.1 290.2a2.8 2.8 0 1 0 5.6 0a2.8 2.8 0 1 0 -5.6 0M1686.8 280.3a2.8 2.8 0 1 0 5.6 0a2.8 2.8 0 1 0 -5.6 0M1688.5 270.3a2.8 2.8 0 1 0 5.6 0a2.8 2.8 0 1 0 -5.6 0M1690.1 260.4a2.8 2.8 0 1 0 5.6 0a2.8 2.8 0 1 0 -5.6 0M1691.8 250.5a2.8 2.8 0 1 0 5.6 0a2.8 2.8 0 1 0 -5.6 0M1693.5 240.5a2.8 2.8 0 1 0 5.6 0a2.8 2.8 0 1 0 -5.6 0M1695.1 230.6a2.8 2.8 0 1 0 5.6 0a2.8 2.8 0 1 0 -5.6 0M1696.8 220.7a2.8 2.8 0 1 0 5.6 0a2.8 2.8 0 1 0 -5.6 0M1698.5 210.8a2.8 2.8 0 1 0 5.6 0a2.8 2.8 0 1 0 -5.6 0M1700.2 200.8a2.8 2.8 0 1 0 5.6 0a2.8 2.8 0 1 0 -5.6 0M1701.8 190.9a2.8 2.8 0 1 0 5.6 0a2.8 2.8 0 1 0 -5.6 0M1703.5 181a2.8 2.8 0 1 0 5.6 0a2.8 2.8 0 1 0 -5.6 0M1705.2 171a2.8 2.8 0 1 0 5.6 0a2.8 2.8 0 1 0 -5.6 0M1706.8 161.1a2.8 2.8 0 1 0 5.6 0a2.8 2.8 0 1 0 -5.6 0M1708.5 151.2a2.8 2.8 0 1 0 5.6 0a2.8 2.8 0 1 0 -5.6 0M1710.2 141.2a2.8 2.8 0 1 0 5.6 0a2.8 2.8 0 1 0 -5.6 0M1711.8 131.3a2.8 2.8 0 1 0 5.6 0a2.8 2.8 0 1 0 -5.6 0M1715.3 113a2.8 2.8 0 1 0 5.6 0a2.8 2.8 0 1 0 -5.6 0M1718.4 104.6a2.8 2.8 0 1 0 5.6 0a2.8 2.8 0 1 0 -5.6 0M1722.2 103.6a2.8 2.8 0 1 0 5.6 0a2.8 2.8 0 1 0 -5.6 0M1724.5 103.6a2.8 2.8 0 1 0 5.6 0a2.8 2.8 0 1 0 -5.6 0M1726.8 103.6a2.8 2.8 0 1 0 5.6 0a2.8 2.8 0 1 0 -5.6 0M1729.1 103.6a2.8 2.8 0 1 0 5.6 0a2.8 2.8 0 1 0 -5.6 0M1731.3 103.6a2.8 2.8 0 1 0 5.6 0a2.8 2.8 0 1 0 -5.6 0M1733.6 103.6a2.8 2.8 0 1 0 5.6 0a2.8 2.8 0 1 0 -5.6 0M1735.9 103.6a2.8 2.8 0 1 0 5.6 0a2.8 2.8 0 1 0 -5.6 0M1738.2 103.6a2.8 2.8 0 1 0 5.6 0a2.8 2.8 0 1 0 -5.6 0M1740.5 103.6a2.8 2.8 0 1 0 5.6 0a2.8 2.8 0 1 0 -5.6 0M1742.7 103.6a2.8 2.8 0 1 0 5.6 0a2.8 2.8 0 1 0 -5.6 0M1745 103.6a2.8 2.8 0 1 0 5.6 0a2.8 2.8 0 1 0 -5.6 0M1747.3 103.6a2.8 2.8 0 1 0 5.6 0a2.8 2.8 0 1 0 -5.6 0M1749.6 103.6a2.8 2.8 0 1 0 5.6 0a2.8 2.8 0 1 0 -5.6 0M1751.9 103.6a2.8 2.8 0 1 0 5.6 0a2.8 2.8 0 1 0 -5.6 0M1754.1 103.6a2.8 2.8 0 1 0 5.6 0a2.8 2.8 0 1 0 -5.6 0M1756.4 103.6a2.8 2.8 0 1 0 5.6 0a2.8 2.8 0 1 0 -5.6 0M1758.7 103.6a2.8 2.8 0 1 0 5.6 0a2.8 2.8 0 1 0 -5.6 0M1761 103.6a2.8 2.8 0 1 0 5.6 0a2.8 2.8 0 1 0 -5.6 0M1763.2 103.6a2.8 2.8 0 1 0 5.6 0a2.8 2.8 0 1 0 -5.6 0M1765.5 103.6a2.8 2.8 0 1 0 5.6 0a2.8 2.8 0 1 0 -5.6 0M1767.8 103.6a2.8 2.8 0 1 0 5.6 0a2.8 2.8 0 1 0 -5.6 0M1770.1 103.6a2.8 2.8 0 1 0 5.6 0a2.8 2.8 0 1 0 -5.6 0M1772.4 103.6a2.8 2.8 0 1 0 5.6 0a2.8 2.8 0 1 0 -5.6 0M1774.6 103.6a2.8 2.8 0 1 0 5.6 0a2.8 2.8 0 1 0 -5.6 0M1776.9 103.6a2.8 2.8 0 1 0 5.6 0a2.8 2.8 0 1 0 -5.6 0M1779.2 103.6a2.8 2.8 0 1 0 5.6 0a2.8 2.8 0 1 0 -5.6 0M1781.5 103.6a2.8 2.8 0 1 0 5.6 0a2.8 2.8 0 1 0 -5.6 0M1783.8 103.6a2.8 2.8 0 1 0 5.6 0a2.8 2.8 0 1 0 -5.6 0M1786 103.6a2.8 2.8 0 1 0 5.6 0a2.8 2.8 0 1 0 -5.6 0M1788.3 103.6a2.8 2.8 0 1 0 5.6 0a2.8 2.8 0 1 0 -5.6 0M1790.6 103.6a2.8 2.8 0 1 0 5.6 0a2.8 2.8 0 1 0 -5.6 0M1792.9 103.6a2.8 2.8 0 1 0 5.6 0a2.8 2.8 0 1 0 -5.6 0M1795.2 103.6a2.8 2.8 0 1 0 5.6 0a2.8 2.8 0 1 0 -5.6 0M1797.4 103.6a2.8 2.8 0 1 0 5.6 0a2.8 2.8 0 1 0 -5.6 0M1799.7 103.6a2.8 2.8 0 1 0 5.6 0a2.8 2.8 0 1 0 -5.6 0M1802 103.6a2.8 2.8 0 1 0 5.6 0a2.8 2.8 0 1 0 -5.6 0M1804.3 103.6a2.8 2.8 0 1 0 5.6 0a2.8 2.8 0 1 0 -5.6 0M1806.6 103.6a2.8 2.8 0 1 0 5.6 0a2.8 2.8 0 1 0 -5.6 0M1808.8 103.6a2.8 2.8 0 1 0 5.6 0a2.8 2.8 0 1 0 -5.6 0M1811.1 103.6a2.8 2.8 0 1 0 5.6 0a2.8 2.8 0 1 0 -5.6 0M1813.4 103.6a2.8 2.8 0 1 0 5.6 0a2.8 2.8 0 1 0 -5.6 0M1815.7 103.6a2.8 2.8 0 1 0 5.6 0a2.8 2.8 0 1 0 -5.6 0M1817.9 103.6a2.8 2.8 0 1 0 5.6 0a2.8 2.8 0 1 0 -5.6 0M1820.2 103.6a2.8 2.8 0 1 0 5.6 0a2.8 2.8 0 1 0 -5.6 0M1822.5 103.6a2.8 2.8 0 1 0 5.6 0a2.8 2.8 0 1 0 -5.6 0M1824.8 103.6a2.8 2.8 0 1 0 5.6 0a2.8 2.8 0 1 0 -5.6 0M1827.1 103.6a2.8 2.8 0 1 0 5.6 0a2.8 2.8 0 1 0 -5.6 0M1829.3 103.6a2.8 2.8 0 1 0 5.6 0a2.8 2.8 0 1 0 -5.6 0M1831.6 103.6a2.8 2.8 0 1 0 5.6 0a2.8 2.8 0 1 0 -5.6 0M1833.9 103.6a2.8 2.8 0 1 0 5.6 0a2.8 2.8 0 1 0 -5.6 0M1836.2 103.6a2.8 2.8 0 1 0 5.6 0a2.8 2.8 0 1 0 -5.6 0M1838.5 103.6a2.8 2.8 0 1 0 5.6 0a2.8 2.8 0 1 0 -5.6 0M1840.7 103.6a2.8 2.8 0 1 0 5.6 0a2.8 2.8 0 1 0 -5.6 0M1843 103.6a2.8 2.8 0 1 0 5.6 0a2.8 2.8 0 1 0 -5.6 0M1845.3 103.6a2.8 2.8 0 1 0 5.6 0a2.8 2.8 0 1 0 -5.6 0M1847.6 103.6a2.8 2.8 0 1 0 5.6 0a2.8 2.8 0 1 0 -5.6 0M1849.9 103.6a2.8 2.8 0 1 0 5.6 0a2.8 2.8 0 1 0 -5.6 0M1852.1 103.6a2.8 2.8 0 1 0 5.6 0a2.8 2.8 0 1 0 -5.6 0M1854.4 103.6a2.8 2.8 0 1 0 5.6 0a2.8 2.8 0 1 0 -5.6 0M1856.7 103.6a2.8 2.8 0 1 0 5.6 0a2.8 2.8 0 1 0 -5.6 0M1859 103.6a2.8 2.8 0 1 0 5.6 0a2.8 2.8 0 1 0 -5.6 0M1861.3 103.6a2.8 2.8 0 1 0 5.6 0a2.8 2.8 0 1 0 -5.6 0M1863.5 103.6a2.8 2.8 0 1 0 5.6 0a2.8 2.8 0 1 0 -5.6 0M1865.8 103.6a2.8 2.8 0 1 0 5.6 0a2.8 2.8 0 1 0 -5.6 0M1868.1 103.6a2.8 2.8 0 1 0 5.6 0a2.8 2.8 0 1 0 -5.6 0" fill="#00004c"/>
<path d="M1666 333.1 L1673.8 333.1 L1674.1 332.7 L1675.6 322.8 L1677.2 312.9 L1678.8 302.9 L1680.3 293 L1681.9 283.1 L1683.5 273.2 L1685 263.2 L1686.6 253.3 L1688.1 243.4 L1689.7 233.4 L1691.3 223.5 L1692.8 213.6 L1694.4 203.6 L1696 193.7 L1697.5 183.8 L1699.1 173.8 L1700.6 163.9 L1702.2 154 L1703.8 144 L1705.3 134.1 L1707.5 119.7 L1708.8 112.4 L1710.1 107.2 L1711.4 104.1 L1712.8 103 L1715 103 L1717.3 103 L1719.6 103 L1721.9 103 L1724.2 103 L1726.4 103 L1728.7 103 L1731 103 L1733.3 103 L1735.5 103 L1737.8 103 L1740.1 103 L1742.4 103 L1744.7 103 L1746.9 103 L1749.2 103 L1751.5 103 L1753.8 103 L1756.1 103 L1758.3 103 L1760.6 103 L1762.9 103 L1765.2 103 L1767.5 103 L1769.7 103 L1772 103 L1774.3 103 L1776.6 103 L1778.9 103 L1781.1 103 L1783.4 103 L1785.7 103 L1788 103 L1790.2 103 L1792.5 103 L1794.8 103 L1797.1 103 L1799.4 103 L1801.6 103 L1803.9 103 L1806.2 103 L1808.5 103 L1810.8 103 L1813 103 L1815.3 103 L1817.6 103 L1819.9 103 L1822.2 103 L1824.4 103 L1826.7 103 L1829 103 L1831.3 103 L1833.6 103 L1835.8 103 L1838.1 103 L1840.4 103 L1842.7 103 L1844.9 103 L1847.2 103 L1849.5 103 L1851.8 103 L1854.1 103 L1856.3 103 L1858.6 103 L1860.9 103 L1863.2 103 L1865.5 103 L1867.7 103 L1870 103" fill="none" stroke="#000059" stroke-width="1"/>
<path d="M1669.7 332.7a2.8 2.8 0 1 0 5.6 0a2.8 2.8 0 1 0 -5.6 0M1667.1 332.7a2.8 2.8 0 1 0 5.6 0a2.8 2.8 0 1 0 -5.6 0M1664.5 332.7a2.8 2.8 0 1 0 5.6 0a2.8 2.8 0 1 0 -5.6 0M1671.3 332.7a2.8 2.8 0 1 0 5.6 0a2.8 2.8 0 1 0 -5.6 0M1672.8 322.8a2.8 2.8 0 1 0 5.6 0a2.8 2.8 0 1 0 -5.6 0M1674.4 312.9a2.8 2.8 0 1 0 5.6 0a2.8 2.8 0 1 0 -5.6 0M1676 302.9a2.8 2.8 0 1 0 5.6 0a2.8 2.8 0 1 0 -5.6 0M1677.5 293a2.8 2.8 0 1 0 5.6 0a2.8 2.8 0 1 0 -5.6 0M1679.1 283.1a2.8 2.8 0 1 0 5.6 0a2.8 2.8 0 1 0 -5.6 0M1680.7 273.2a2.8 2.8 0 1 0 5.6 0a2.8 2.8 0 1 0 -5.6 0M1682.2 263.2a2.8 2.8 0 1 0 5.6 0a2.8 2.8 0 1 0 -5.6 0M1683.8 253.3a2.8 2.8 0 1 0 5.6 0a2.8 2.8 0 1 0 -5.6 0M1685.3 243.4a2.8 2.8 0 1 0 5.6 0a2.8 2.8 0 1 0 -5.6 0M1686.9 233.4a2.8 2.8 0 1 0 5.6 0a2.8 2.8 0 1 0 -5.6 0M1688.5 223.5a2.8 2.8 0 1 0 5.6 0a2.8 2.8 0 1 0 -5.6 0M1690 213.6a2.8 2.8 0 1 0 5.6 0a2.8 2.8 0 1 0 -5.6 0M1691.6 203.6a2.8 2.8 0 1 0 5.6 0a2.8 2.8 0 1 0 -5.6 0M1693.2 193.7a2.8 2.8 0 1 0 5.6 0a2.8 2.8 0 1 0 -5.6 0M1694.7 183.8a2.8 2.8 0 1 0 5.6 0a2.8 2.8 0 1 0 -5.6 0M1696.3 173.8a2.8 2.8 0 1 0 5.6 0a2.8 2.8 0 1 0 -5.6 0M1697.8 163.9a2.8 2.8 0 1 0 5.6 0a2.8 2.8 0 1 0 -5.6 0M1699.4 154a2.8 2.8 0 1 0 5.6 0a2.8 2.8 0 1 0 -5.6 0M1701 144a2.8 2.8 0 1 0 5.6 0a2.8 2.8 0 1 0 -5.6 0M1702.5 134.1a2.8 2.8 0 1 0 5.6 0a2.8 2.8 0 1 0 -5.6 0M1706 112.4a2.8 2.8 0 1 0 5.6 0a2.8 2.8 0 1 0 -5.6 0M1708.6 104.1a2.8 2.8 0 1 0 5.6 0a2.8 2.8 0 1 0 -5.6 0M1712.2 103a2.8 2.8 0 1 0 5.6 0a2.8 2.8 0 1 0 -5.6 0M1714.5 103a2.8 2.8 0 1 0 5.6 0a2.8 2.8 0 1 0 -5.6 0M1716.8 103a2.8 2.8 0 1 0 5.6 0a2.8 2.8 0 1 0 -5.6 0M1719.1 103a2.8 2.8 0 1 0 5.6 0a2.8 2.8 0 1 0 -5.6 0M1721.4 103a2.8 2.8 0 1 0 5.6 0a2.8 2.8 0 1 0 -5.6 0M1723.6 103a2.8 2.8 0 1 0 5.6 0a2.8 2.8 0 1 0 -5.6 0M1725.9 103a2.8 2.8 0 1 0 5.6 0a2.8 2.8 0 1 0 -5.6 0M1728.2 103a2.8 2.8 0 1 0 5.6 0a2.8 2.8 0 1 0 -5.6 0M1730.5 103a2.8 2.8 0 1 0 5.6 0a2.8 2.8 0 1 0 -5.6 0M1732.7 103a2.8 2.8 0 1 0 5.6 0a2.8 2.8 0 1 0 -5.6 0M1735 103a2.8 2.8 0 1 0 5.6 0a2.8 2.8 0 1 0 -5.6 0M1737.3 103a2.8 2.8 0 1 0 5.6 0a2.8 2.8 0 1 0 -5.6 0M1739.6 103a2.8 2.8 0 1 0 5.6 0a2.8 2.8 0 1 0 -5.6 0M1741.9 103a2.8 2.8 0 1 0 5.6 0a2.8 2.8 0 1 0 -5.6 0M1744.1 103a2.8 2.8 0 1 0 5.6 0a2.8 2.8 0 1 0 -5.6 0M1746.4 103a2.8 2.8 0 1 0 5.6 0a2.8 2.8 0 1 0 -5.6 0M1748.7 103a2.8 2.8 0 1 0 5.6 0a2.8 2.8 0 1 0 -5.6 0M1751 103a2.8 2.8 0 1 0 5.6 0a2.8 2.8 0 1 0 -5.6 0M1753.3 103a2.8 2.8 0 1 0 5.6 0a2.8 2.8 0 1 0 -5.6 0M1755.5 103a2.8 2.8 0 1 0 5.6 0a2.8 2.8 0 1 0 -5.6 0M1757.8 103a2.8 2.8 0 1 0 5.6 0a2.8 2.8 0 1 0 -5.6 0M1760.1 103a2.8 2.8 0 1 0 5.6 0a2.8 2.8 0 1 0 -5.6 0M1762.4 103a2.8 2.8 0 1 0 5.6 0a2.8 2.8 0 1 0 -5.6 0M1764.7 103a2.8 2.8 0 1 0 5.6 0a2.8 2.8 0 1 0 -5.6 0M1766.9 103a2.8 2.8 0 1 0 5.6 0a2.8 2.8 0 1 0 -5.6 0M1769.2 103a2.8 2.8 0 1 0 5.6 0a2.8 2.8 0 1 0 -5.6 0M1771.5 103a2.8 2.8 0 1 0 5.6 0a2.8 2.8 0 1 0 -5.6 0M1773.8 103a2.8 2.8 0 1 0 5.6 0a2.8 2.8 0 1 0 -5.6 0M1776.1 103a2.8 2.8 0 1 0 5.6 0a2.8 2.8 0 1 0 -5.6 0M1778.3 103a2.8 2.8 0 1 0 5.6 0a2.8 2.8 0 1 0 -5.6 0M1780.6 103a2.8 2.8 0 1 0 5.6 0a2.8 2.8 0 1 0 -5.6 0M1782.9 103a2.8 2.8 0 1 0 5.6 0a2.8 2.8 0 1 0 -5.6 0M1785.2 103a2.8 2.8 0 1 0 5.6 0a2.8 2.8 0 1 0 -5.6 0M1787.4 103a2.8 2.8 0 1 0 5.6 0a2.8 2.8 0 1 0 -5.6 0M1789.7 103a2.8 2.8 0 1 0 5.6 0a2.8 2.8 0 1 0 -5.6 0M1792 103a2.8 2.8 0 1 0 5.6 0a2.8 2.8 0 1 0 -5.6 0M1794.3 103a2.8 2.8 0 1 0 5.6 0a2.8 2.8 0 1 0 -5.6 0M1796.6 103a2.8 2.8 0 1 0 5.6 0a2.8 2.8 0 1 0 -5.6 0M1798.8 103a2.8 2.8 0 1 0 5.6 0a2.8 2.8 0 1 0 -5.6 0M1801.1 103a2.8 2.8 0 1 0 5.6 0a2.8 2.8 0 1 0 -5.6 0M1803.4 103a2.8 2.8 0 1 0 5.6 0a2.8 2.8 0 1 0 -5.6 0M1805.7 103a2.8 2.8 0 1 0 5.6 0a2.8 2.8 0 1 0 -5.6 0M1808 103a2.8 2.8 0 1 0 5.6 0a2.8 2.8 0 1 0 -5.6 0M1810.2 103a2.8 2.8 0 1 0 5.6 0a2.8 2.8 0 1 0 -5.6 0M1812.5 103a2.8 2.8 0 1 0 5.6 0a2.8 2.8 0 1 0 -5.6 0M1814.8 103a2.8 2.8 0 1 0 5.6 0a2.8 2.8 0 1 0 -5.6 0M1817.1 103a2.8 2.8 0 1 0 5.6 0a2.8 2.8 0 1 0 -5.6 0M1819.4 103a2.8 2.8 0 1 0 5.6 0a2.8 2.8 0 1 0 -5.6 0M1821.6 103a2.8 2.8 0 1 0 5.6 0a2.8 2.8 0 1 0 -5.6 0M1823.9 103a2.8 2.8 0 1 0 5.6 0a2.8 2.8 0 1 0 -5.6 0M1826.2 103a2.8 2.8 0 1 0 5.6 0a2.8 2.8 0 1 0 -5.6 0M1828.5 103a2.8 2.8 0 1 0 5.6 0a2.8 2.8 0 1 0 -5.6 0M1830.8 103a2.8 2.8 0 1 0 5.6 0a2.8 2.8 0 1 0 -5.6 0M1833 103a2.8 2.8 0 1 0 5.6 0a2.8 2.8 0 1 0 -5.6 0M1835.3 103a2.8 2.8 0 1 0 5.6 0a2.8 2.8 0 1 0 -5.6 0M1837.6 103a2.8 2.8 0 1 0 5.6 0a2.8 2.8 0 1 0 -5.6 0M1839.9 103a2.8 2.8 0 1 0 5.6 0a2.8 2.8 0 1 0 -5.6 0M1842.1 103a2.8 2.8 0 1 0 5.6 0a2.8 2.8 0 1 0 -5.6 0M1844.4 103a2.8 2.8 0 1 0 5.6 0a2.8 2.8 0 1 0 -5.6 0M1846.7 103a2.8 2.8 0 1 0 5.6 0a2.8 2.8 0 1 0 -5.6 0M1849 103a2.8 2.8 0 1 0 5.6 0a2.8 2.8 0 1 0 -5.6 0M1851.3 103a2.8 2.8 0 1 0 5.6 0a2.8 2.8 0 1 0 -5.6 0M1853.5 103a2.8 2.8 0 1 0 5.6 0a2.8 2.8 0 1 0 -5.6 0M1855.8 103a2.8 2.8 0 1 0 5.6 0a2.8 2.8 0 1 0 -5.6 0M1858.1 103a2.8 2.8 0 1 0 5.6 0a2.8 2.8 0 1 0 -5.6 0M1860.4 103a2.8 2.8 0 1 0 5.6 0a2.8 2.8 0 1 0 -5.6 0M1862.7 103a2.8 2.8 0 1 0 5.6 0a2.8 2.8 0 1 0 -5.6 0M1864.9 103a2.8 2.8 0 1 0 5.6 0a2.8 2.8 0 1 0 -5.6 0M1867.2 103a2.8 2.8 0 1 0 5.6 0a2.8 2.8 0 1 0 -5.6 0" fill="#000059"/>
<path d="M1659.3 333.1 L1667.2 333.1 L1668 328.9 L1669.4 319 L1670.9 309 L1672.3 299.1 L1673.8 289.2 L1675.2 279.2 L1676.7 269.3 L1678.1 259.4 L1679.6 249.4 L1681 239.5 L1682.5 229.6 L1683.9 219.6 L1685.4 209.7 L1686.9 199.8 L1688.3 189.9 L1689.8 179.9 L1691.2 170 L1692.7 160.1 L1694.1 150.1 L1695.6 140.2 L1697 130.3 L1698.5 119.2 L1699.6 111.9 L1700.7 106.7 L1701.8 103.5 L1702.9 102.5 L1705.2 102.5 L1707.5 102.5 L1709.8 102.5 L1712 102.5 L1714.3 102.5 L1716.6 102.5 L1718.9 102.5 L1721.2 102.5 L1723.4 102.5 L1725.7 102.5 L1728 102.5 L1730.3 102.5 L1732.5 102.5 L1734.8 102.5 L1737.1 102.5 L1739.4 102.5 L1741.7 102.5 L1743.9 102.5 L1746.2 102.5 L1748.5 102.5 L1750.8 102.5 L1753.1 102.5 L1755.3 102.5 L1757.6 102.5 L1759.9 102.5 L1762.2 102.5 L1764.5 102.5 L1766.7 102.5 L1769 102.5 L1771.3 102.5 L1773.6 102.5 L1775.9 102.5 L1778.1 102.5 L1780.4 102.5 L1782.7 102.5 L1785 102.5 L1787.2 102.5 L1789.5 102.5 L1791.8 102.5 L1794.1 102.5 L1796.4 102.5 L1798.6 102.5 L1800.9 102.5 L1803.2 102.5 L1805.5 102.5 L1807.8 102.5 L1810 102.5 L1812.3 102.5 L1814.6 102.5 L1816.9 102.5 L1819.2 102.5 L1821.4 102.5 L1823.7 102.5 L1826 102.5 L1828.3 102.5 L1830.6 102.5 L1832.8 102.5 L1835.1 102.5 L1837.4 102.5 L1839.7 102.5 L1841.9 102.5 L1844.2 102.5 L1846.5 102.5 L1848.8 102.5 L1851.1 102.5 L1853.3 102.5 L1855.6 102.5 L1857.9 102.5 L1860.2 102.5 L1862.5 102.5 L1864.7 102.5 L1867 102.5 L1869.3 102.5 L1871.6 102.5" fill="none" stroke="#000066" stroke-width="1"/>
<path d="M1663.1 332.7a2.8 2.8 0 1 0 5.6 0a2.8 2.8 0 1 0 -5.6 0M1660.5 332.7a2.8 2.8 0 1 0 5.6 0a2.8 2.8 0 1 0 -5.6 0M1657.8 332.7a2.8 2.8 0 1 0 5.6 0a2.8 2.8 0 1 0 -5.6 0M1665.2 328.9a2.8 2.8 0 1 0 5.6 0a2.8 2.8 0 1 0 -5.6 0M1666.6 319a2.8 2.8 0 1 0 5.6 0a2.8 2.8 0 1 0 -5.6 0M1668.1 309a2.8 2.8 0 1 0 5.6 0a2.8 2.8 0 1 0 -5.6 0M1669.5 299.1a2.8 2.8 0 1 0 5.6 0a2.8 2.8 0 1 0 -5.6 0M1671 289.2a2.8 2.8 0 1 0 5.6 0a2.8 2.8 0 1 0 -5.6 0M1672.4 279.2a2.8 2.8 0 1 0 5.6 0a2.8 2.8 0 1 0 -5.6 0M1673.9 269.3a2.8 2.8 0 1 0 5.6 0a2.8 2.8 0 1 0 -5.6 0M1675.3 259.4a2.8 2.8 0 1 0 5.6 0a2.8 2.8 0 1 0 -5.6 0M1676.8 249.4a2.8 2.8 0 1 0 5.6 0a2.8 2.8 0 1 0 -5.6 0M1678.2 239.5a2.8 2.8 0 1 0 5.6 0a2.8 2.8 0 1 0 -5.6 0M1679.7 229.6a2.8 2.8 0 1 0 5.6 0a2.8 2.8 0 1 0 -5.6 0M1681.1 219.6a2.8 2.8 0 1 0 5.6 0a2.8 2.8 0 1 0 -5.6 0M1682.6 209.7a2.8 2.8 0 1 0 5.6 0a2.8 2.8 0 1 0 -5.6 0M1684.1 199.8a2.8 2.8 0 1 0 5.6 0a2.8 2.8 0 1 0 -5.6 0M1685.5 189.9a2.8 2.8 0 1 0 5.6 0a2.8 2.8 0 1 0 -5.6 0M1687 179.9a2.8 2.8 0 1 0 5.6 0a2.8 2.8 0 1 0 -5.6 0M1688.4 170a2.8 2.8 0 1 0 5.6 0a2.8 2.8 0 1 0 -5.6 0M1689.9 160.1a2.8 2.8 0 1 0 5.6 0a2.8 2.8 0 1 0 -5.6 0M1691.3 150.1a2.8 2.8 0 1 0 5.6 0a2.8 2.8 0 1 0 -5.6 0M1692.8 140.2a2.8 2.8 0 1 0 5.6 0a2.8 2.8 0 1 0 -5.6 0M1694.2 130.3a2.8 2.8 0 1 0 5.6 0a2.8 2.8 0 1 0 -5.6 0M1696.8 111.9a2.8 2.8 0 1 0 5.6 0a2.8 2.8 0 1 0 -5.6 0M1699 103.5a2.8 2.8 0 1 0 5.6 0a2.8 2.8 0 1 0 -5.6 0M1702.4 102.5a2.8 2.8 0 1 0 5.6 0a2.8 2.8 0 1 0 -5.6 0M1704.7 102.5a2.8 2.8 0 1 0 5.6 0a2.8 2.8 0 1 0 -5.6 0M1707 102.5a2.8 2.8 0 1 0 5.6 0a2.8 2.8 0 1 0 -5.6 0M1709.2 102.5a2.8 2.8 0 1 0 5.6 0a2.8 2.8 0 1 0 -5.6 0M1711.5 102.5a2.8 2.8 0 1 0 5.6 0a2.8 2.8 0 1 0 -5.6 0M1713.8 102.5a2.8 2.8 0 1 0 5.6 0a2.8 2.8 0 1 0 -5.6 0M1716.1 102.5a2.8 2.8 0 1 0 5.6 0a2.8 2.8 0 1 0 -5.6 0M1718.4 102.5a2.8 2.8 0 1 0 5.6 0a2.8 2.8 0 1 0 -5.6 0M1720.6 102.5a2.8 2.8 0 1 0 5.6 0a2.8 2.8 0 1 0 -5.6 0M1722.9 102.5a2.8 2.8 0 1 0 5.6 0a2.8 2.8 0 1 0 -5.6 0M1725.2 102.5a2.8 2.8 0 1 0 5.6 0a2.8 2.8 0 1 0 -5.6 0M1727.5 102.5a2.8 2.8 0 1 0 5.6 0a2.8 2.8 0 1 0 -5.6 0M1729.7 102.5a2.8 2.8 0 1 0 5.6 0a2.8 2.8 0 1 0 -5.6 0M1732 102.5a2.8 2.8 0 1 0 5.6 0a2.8 2.8 0 1 0 -5.6 0M1734.3 102.5a2.8 2.8 0 1 0 5.6 0a2.8 2.8 0 1 0 -5.6 0M1736.6 102.5a2.8 2.8 0 1 0 5.6 0a2.8 2.8 0 1 0 -5.6 0M1738.9 102.5a2.8 2.8 0 1 0 5.6 0a2.8 2.8 0 1 0 -5.6 0M1741.1 102.5a2.8 2.8 0 1 0 5.6 0a2.8 2.8 0 1 0 -5.6 0M1743.4 102.5a2.8 2.8 0 1 0 5.6 0a2.8 2.8 0 1 0 -5.6 0M1745.7 102.5a2.8 2.8 0 1 0 5.6 0a2.8 2.8 0 1 0 -5.6 0M1748 102.5a2.8 2.8 0 1 0 5.6 0a2.8 2.8 0 1 0 -5.6 0M1750.3 102.5a2.8 2.8 0 1 0 5.6 0a2.8 2.8 0 1 0 -5.6 0M1752.5 102.5a2.8 2.8 0 1 0 5.6 0a2.8 2.8 0 1 0 -5.6 0M1754.8 102.5a2.8 2.8 0 1 0 5.6 0a2.8 2.8 0 1 0 -5.6 0M1757.1 102.5a2.8 2.8 0 1 0 5.6 0a2.8 2.8 0 1 0 -5.6 0M1759.4 102.5a2.8 2.8 0 1 0 5.6 0a2.8 2.8 0 1 0 -5.6 0M1761.7 102.5a2.8 2.8 0 1 0 5.6 0a2.8 2.8 0 1 0 -5.6 0M1763.9 102.5a2.8 2.8 0 1 0 5.6 0a2.8 2.8 0 1 0 -5.6 0M1766.2 102.5a2.8 2.8 0 1 0 5.6 0a2.8 2.8 0 1 0 -5.6 0M1768.5 102.5a2.8 2.8 0 1 0 5.6 0a2.8 2.8 0 1 0 -5.6 0M1770.8 102.5a2.8 2.8 0 1 0 5.6 0a2.8 2.8 0 1 0 -5.6 0M1773.1 102.5a2.8 2.8 0 1 0 5.6 0a2.8 2.8 0 1 0 -5.6 0M1775.3 102.5a2.8 2.8 0 1 0 5.6 0a2.8 2.8 0 1 0 -5.6 0M1777.6 102.5a2.8 2.8 0 1 0 5.6 0a2.8 2.8 0 1 0 -5.6 0M1779.9 102.5a2.8 2.8 0 1 0 5.6 0a2.8 2.8 0 1 0 -5.6 0M1782.2 102.5a2.8 2.8 0 1 0 5.6 0a2.8 2.8 0 1 0 -5.6 0M1784.4 102.5a2.8 2.8 0 1 0 5.6 0a2.8 2.8 0 1 0 -5.6 0M1786.7 102.5a2.8 2.8 0 1 0 5.6 0a2.8 2.8 0 1 0 -5.6 0M1789 102.5a2.8 2.8 0 1 0 5.6 0a2.8 2.8 0 1 0 -5.6 0M1791.3 102.5a2.8 2.8 0 1 0 5.6 0a2.8 2.8 0 1 0 -5.6 0M1793.6 102.5a2.8 2.8 0 1 0 5.6 0a2.8 2.8 0 1 0 -5.6 0M1795.8 102.5a2.8 2.8 0 1 0 5.6 0a2.8 2.8 0 1 0 -5.6 0M1798.1 102.5a2.8 2.8 0 1 0 5.6 0a2.8 2.8 0 1 0 -5.6 0M1800.4 102.5a2.8 2.8 0 1 0 5.6 0a2.8 2.8 0 1 0 -5.6 0M1802.7 102.5a2.8 2.8 0 1 0 5.6 0a2.8 2.8 0 1 0 -5.6 0M1805 102.5a2.8 2.8 0 1 0 5.6 0a2.8 2.8 0 1 0 -5.6 0M1807.2 102.5a2.8 2.8 0 1 0 5.6 0a2.8 2.8 0 1 0 -5.6 0M1809.5 102.5a2.8 2.8 0 1 0 5.6 0a2.8 2.8 0 1 0 -5.6 0M1811.8 102.5a2.8 2.8 0 1 0 5.6 0a2.8 2.8 0 1 0 -5.6 0M1814.1 102.5a2.8 2.8 0 1 0 5.6 0a2.8 2.8 0 1 0 -5.6 0M1816.4 102.5a2.8 2.8 0 1 0 5.6 0a2.8 2.8 0 1 0 -5.6 0M1818.6 102.5a2.8 2.8 0 1 0 5.6 0a2.8 2.8 0 1 0 -5.6 0M1820.9 102.5a2.8 2.8 0 1 0 5.6 0a2.8 2.8 0 1 0 -5.6 0M1823.2 102.5a2.8 2.8 0 1 0 5.6 0a2.8 2.8 0 1 0 -5.6 0M1825.5 102.5a2.8 2.8 0 1 0 5.6 0a2.8 2.8 0 1 0 -5.6 0M1827.8 102.5a2.8 2.8 0 1 0 5.6 0a2.8 2.8 0 1 0 -5.6 0M1830 102.5a2.8 2.8 0 1 0 5.6 0a2.8 2.8 0 1 0 -5.6 0M1832.3 102.5a2.8 2.8 0 1 0 5.6 0a2.8 2.8 0 1 0 -5.6 0M1834.6 102.5a2.8 2.8 0 1 0 5.6 0a2.8 2.8 0 1 0 -5.6 0M1836.9 102.5a2.8 2.8 0 1 0 5.6 0a2.8 2.8 0 1 0 -5.6 0M1839.1 102.5a2.8 2.8 0 1 0 5.6 0a2.8 2.8 0 1 0 -5.6 0M1841.4 102.5a2.8 2.8 0 1 0 5.6 0a2.8 2.8 0 1 0 -5.6 0M1843.7 102.5a2.8 2.8 0 1 0 5.6 0a2.8 2.8 0 1 0 -5.6 0M1846 102.5a2.8 2.8 0 1 0 5.6 0a2.8 2.8 0 1 0 -5.6 0M1848.3 102.5a2.8 2.8 0 1 0 5.6 0a2.8 2.8 0 1 0 -5.6 0M1850.5 102.5a2.8 2.8 0 1 0 5.6 0a2.8 2.8 0 1 0 -5.6 0M1852.8 102.5a2.8 2.8 0 1 0 5.6 0a2.8 2.8 0 1 0 -5.6 0M1855.1 102.5a2.8 2.8 0 1 0 5.6 0a2.8 2.8 0 1 0 -5.6 0M1857.4 102.5a2.8 2.8 0 1 0 5.6 0a2.8 2.8 0 1 0 -5.6 0M1859.7 102.5a2.8 2.8 0 1 0 5.6 0a2.8 2.8 0 1 0 -5.6 0M1861.9 102.5a2.8 2.8 0 1 0 5.6 0a2.8 2.8 0 1 0 -5.6 0M1864.2 102.5a2.8 2.8 0 1 0 5.6 0a2.8 2.8 0 1 0 -5.6 0M1866.5 102.5a2.8 2.8 0 1 0 5.6 0a2.8 2.8 0 1 0 -5.6 0M1868.8 102.5a2.8 2.8 0 1 0 5.6 0a2.8 2.8 0 1 0 -5.6 0" fill="#000066"/>
<path d="M1652.7 333.1 L1660.5 333.1 L1661.5 326.6 L1662.9 316.6 L1664.2 306.7 L1665.6 296.8 L1666.9 286.8 L1668.3 276.9 L1669.6 267 L1671 257 L1672.3 247.1 L1673.6 237.2 L1675 227.2 L1676.3 217.3 L1677.7 207.4 L1679 197.4 L1680.4 187.5 L1681.7 177.6 L1683.1 167.7 L1684.4 157.7 L1685.7 147.8 L1687.1 137.9 L1688.4 127.9 L1689.5 118.7 L1690.4 111.4 L1691.3 106.1 L1692.3 103 L1693.2 101.9 L1695.5 101.9 L1697.8 101.9 L1700 101.9 L1702.3 101.9 L1704.6 101.9 L1706.9 101.9 L1709.2 101.9 L1711.4 101.9 L1713.7 101.9 L1716 101.9 L1718.3 101.9 L1720.6 101.9 L1722.8 101.9 L1725.1 101.9 L1727.4 101.9 L1729.7 101.9 L1732 101.9 L1734.2 101.9 L1736.5 101.9 L1738.8 101.9 L1741.1 101.9 L1743.4 101.9 L1745.6 101.9 L1747.9 101.9 L1750.2 101.9 L1752.5 101.9 L1754.7 101.9 L1757 101.9 L1759.3 101.9 L1761.6 101.9 L1763.9 101.9 L1766.1 101.9 L1768.4 101.9 L1770.7 101.9 L1773 101.9 L1775.3 101.9 L1777.5 101.9 L1779.8 101.9 L1782.1 101.9 L1784.4 101.9 L1786.7 101.9 L1788.9 101.9 L1791.2 101.9 L1793.5 101.9 L1795.8 101.9 L1798.1 101.9 L1800.3 101.9 L1802.6 101.9 L1804.9 101.9 L1807.2 101.9 L1809.4 101.9 L1811.7 101.9 L1814 101.9 L1816.3 101.9 L1818.6 101.9 L1820.8 101.9 L1823.1 101.9 L1825.4 101.9 L1827.7 101.9 L1830 101.9 L1832.2 101.9 L1834.5 101.9 L1836.8 101.9 L1839.1 101.9 L1841.4 101.9 L1843.6 101.9 L1845.9 101.9 L1848.2 101.9 L1850.5 101.9 L1852.8 101.9 L1855 101.9 L1857.3 101.9 L1859.6 101.9 L1861.9 101.9 L1864.1 101.9 L1866.4 101.9 L1868.7 101.9 L1871 101.9" fill="none" stroke="#000073" stroke-width="1"/>
<path d="M1656.4 332.7a2.8 2.8 0 1 0 5.6 0a2.8 2.8 0 1 0 -5.6 0M1653.8 332.7a2.8 2.8 0 1 0 5.6 0a2.8 2.8 0 1 0 -5.6 0M1651.2 332.7a2.8 2.8 0 1 0 5.6 0a2.8 2.8 0 1 0 -5.6 0M1658.7 326.6a2.8 2.8 0 1 0 5.6 0a2.8 2.8 0 1 0 -5.6 0M1660.1 316.6a2.8 2.8 0 1 0 5.6 0a2.8 2.8 0 1 0 -5.6 0M1661.4 306.7a2.8 2.8 0 1 0 5.6 0a2.8 2.8 0 1 0 -5.6 0M1662.8 296.8a2.8 2.8 0 1 0 5.6 0a2.8 2.8 0 1 0 -5.6 0M1664.1 286.8a2.8 2.8 0 1 0 5.6 0a2.8 2.8 0 1 0 -5.6 0M1665.5 276.9a2.8 2.8 0 1 0 5.6 0a2.8 2.8 0 1 0 -5.6 0M1666.8 267a2.8 2.8 0 1 0 5.6 0a2.8 2.8 0 1 0 -5.6 0M1668.2 257a2.8 2.8 0 1 0 5.6 0a2.8 2.8 0 1 0 -5.6 0M1669.5 247.1a2.8 2.8 0 1 0 5.6 0a2.8 2.8 0 1 0 -5.6 0M1670.8 237.2a2.8 2.8 0 1 0 5.6 0a2.8 2.8 0 1 0 -5.6 0M1672.2 227.2a2.8 2.8 0 1 0 5.6 0a2.8 2.8 0 1 0 -5.6 0M1673.5 217.3a2.8 2.8 0 1 0 5.6 0a2.8 2.8 0 1 0 -5.6 0M1674.9 207.4a2.8 2.8 0 1 0 5.6 0a2.8 2.8 0 1 0 -5.6 0M1676.2 197.4a2.8 2.8 0 1 0 5.6 0a2.8 2.8 0 1 0 -5.6 0M1677.6 187.5a2.8 2.8 0 1 0 5.6 0a2.8 2.8 0 1 0 -5.6 0M1678.9 177.6a2.8 2.8 0 1 0 5.6 0a2.8 2.8 0 1 0 -5.6 0M1680.3 167.7a2.8 2.8 0 1 0 5.6 0a2.8 2.8 0 1 0 -5.6 0M1681.6 157.7a2.8 2.8 0 1 0 5.6 0a2.8 2.8 0 1 0 -5.6 0M1682.9 147.8a2.8 2.8 0 1 0 5.6 0a2.8 2.8 0 1 0 -5.6 0M1684.3 137.9a2.8 2.8 0 1 0 5.6 0a2.8 2.8 0 1 0 -5.6 0M1685.6 127.9a2.8 2.8 0 1 0 5.6 0a2.8 2.8 0 1 0 -5.6 0M1687.6 111.4a2.8 2.8 0 1 0 5.6 0a2.8 2.8 0 1 0 -5.6 0M1689.5 103a2.8 2.8 0 1 0 5.6 0a2.8 2.8 0 1 0 -5.6 0M1692.7 101.9a2.8 2.8 0 1 0 5.6 0a2.8 2.8 0 1 0 -5.6 0M1695 101.9a2.8 2.8 0 1 0 5.6 0a2.8 2.8 0 1 0 -5.6 0M1697.2 101.9a2.8 2.8 0 1 0 5.6 0a2.8 2.8 0 1 0 -5.6 0M1699.5 101.9a2.8 2.8 0 1 0 5.6 0a2.8 2.8 0 1 0 -5.6 0M1701.8 101.9a2.8 2.8 0 1 0 5.6 0a2.8 2.8 0 1 0 -5.6 0M1704.1 101.9a2.8 2.8 0 1 0 5.6 0a2.8 2.8 0 1 0 -5.6 0M1706.4 101.9a2.8 2.8 0 1 0 5.6 0a2.8 2.8 0 1 0 -5.6 0M1708.6 101.9a2.8 2.8 0 1 0 5.6 0a2.8 2.8 0 1 0 -5.6 0M1710.9 101.9a2.8 2.8 0 1 0 5.6 0a2.8 2.8 0 1 0 -5.6 0M1713.2 101.9a2.8 2.8 0 1 0 5.6 0a2.8 2.8 0 1 0 -5.6 0M1715.5 101.9a2.8 2.8 0 1 0 5.6 0a2.8 2.8 0 1 0 -5.6 0M1717.8 101.9a2.8 2.8 0 1 0 5.6 0a2.8 2.8 0 1 0 -5.6 0M1720 101.9a2.8 2.8 0 1 0 5.6 0a2.8 2.8 0 1 0 -5.6 0M1722.3 101.9a2.8 2.8 0 1 0 5.6 0a2.8 2.8 0 1 0 -5.6 0M1724.6 101.9a2.8 2.8 0 1 0 5.6 0a2.8 2.8 0 1 0 -5.6 0M1726.9 101.9a2.8 2.8 0 1 0 5.6 0a2.8 2.8 0 1 0 -5.6 0M1729.2 101.9a2.8 2.8 0 1 0 5.6 0a2.8 2.8 0 1 0 -5.6 0M1731.4 101.9a2.8 2.8 0 1 0 5.6 0a2.8 2.8 0 1 0 -5.6 0M1733.7 101.9a2.8 2.8 0 1 0 5.6 0a2.8 2.8 0 1 0 -5.6 0M1736 101.9a2.8 2.8 0 1 0 5.6 0a2.8 2.8 0 1 0 -5.6 0M1738.3 101.9a2.8 2.8 0 1 0 5.6 0a2.8 2.8 0 1 0 -5.6 0M1740.6 101.9a2.8 2.8 0 1 0 5.6 0a2.8 2.8 0 1 0 -5.6 0M1742.8 101.9a2.8 2.8 0 1 0 5.6 0a2.8 2.8 0 1 0 -5.6 0M1745.1 101.9a2.8 2.8 0 1 0 5.6 0a2.8 2.8 0 1 0 -5.6 0M1747.4 101.9a2.8 2.8 0 1 0 5.6 0a2.8 2.8 0 1 0 -5.6 0M1749.7 101.9a2.8 2.8 0 1 0 5.6 0a2.8 2.8 0 1 0 -5.6 0M1751.9 101.9a2.8 2.8 0 1 0 5.6 0a2.8 2.8 0 1 0 -5.6 0M1754.2 101.9a2.8 2.8 0 1 0 5.6 0a2.8 2.8 0 1 0 -5.6 0M1756.5 101.9a2.8 2.8 0 1 0 5.6 0a2.8 2.8 0 1 0 -5.6 0M1758.8 101.9a2.8 2.8 0 1 0 5.6 0a2.8 2.8 0 1 0 -5.6 0M1761.1 101.9a2.8 2.8 0 1 0 5.6 0a2.8 2.8 0 1 0 -5.6 0M1763.3 101.9a2.8 2.8 0 1 0 5.6 0a2.8 2.8 0 1 0 -5.6 0M1765.6 101.9a2.8 2.8 0 1 0 5.6 0a2.8 2.8 0 1 0 -5.6 0M1767.9 101.9a2.8 2.8 0 1 0 5.6 0a2.8 2.8 0 1 0 -5.6 0M1770.2 101.9a2.8 2.8 0 1 0 5.6 0a2.8 2.8 0 1 0 -5.6 0M1772.5 101.9a2.8 2.8 0 1 0 5.6 0a2.8 2.8 0 1 0 -5.6 0M1774.7 101.9a2.8 2.8 0 1 0 5.6 0a2.8 2.8 0 1 0 -5.6 0M1777 101.9a2.8 2.8 0 1 0 5.6 0a2.8 2.8 0 1 0 -5.6 0M1779.3 101.9a2.8 2.8 0 1 0 5.6 0a2.8 2.8 0 1 0 -5.6 0M1781.6 101.9a2.8 2.8 0 1 0 5.6 0a2.8 2.8 0 1 0 -5.6 0M1783.9 101.9a2.8 2.8 0 1 0 5.6 0a2.8 2.8 0 1 0 -5.6 0M1786.1 101.9a2.8 2.8 0 1 0 5.6 0a2.8 2.8 0 1 0 -5.6 0M1788.4 101.9a2.8 2.8 0 1 0 5.6 0a2.8 2.8 0 1 0 -5.6 0M1790.7 101.9a2.8 2.8 0 1 0 5.6 0a2.8 2.8 0 1 0 -5.6 0M1793 101.9a2.8 2.8 0 1 0 5.6 0a2.8 2.8 0 1 0 -5.6 0M1795.3 101.9a2.8 2.8 0 1 0 5.6 0a2.8 2.8 0 1 0 -5.6 0M1797.5 101.9a2.8 2.8 0 1 0 5.6 0a2.8 2.8 0 1 0 -5.6 0M1799.8 101.9a2.8 2.8 0 1 0 5.6 0a2.8 2.8 0 1 0 -5.6 0M1802.1 101.9a2.8 2.8 0 1 0 5.6 0a2.8 2.8 0 1 0 -5.6 0M1804.4 101.9a2.8 2.8 0 1 0 5.6 0a2.8 2.8 0 1 0 -5.6 0M1806.6 101.9a2.8 2.8 0 1 0 5.6 0a2.8 2.8 0 1 0 -5.6 0M1808.9 101.9a2.8 2.8 0 1 0 5.6 0a2.8 2.8 0 1 0 -5.6 0M1811.2 101.9a2.8 2.8 0 1 0 5.6 0a2.8 2.8 0 1 0 -5.6 0M1813.5 101.9a2.8 2.8 0 1 0 5.6 0a2.8 2.8 0 1 0 -5.6 0M1815.8 101.9a2.8 2.8 0 1 0 5.6 0a2.8 2.8 0 1 0 -5.6 0M1818 101.9a2.8 2.8 0 1 0 5.6 0a2.8 2.8 0 1 0 -5.6 0M1820.3 101.9a2.8 2.8 0 1 0 5.6 0a2.8 2.8 0 1 0 -5.6 0M1822.6 101.9a2.8 2.8 0 1 0 5.6 0a2.8 2.8 0 1 0 -5.6 0M1824.9 101.9a2.8 2.8 0 1 0 5.6 0a2.8 2.8 0 1 0 -5.6 0M1827.2 101.9a2.8 2.8 0 1 0 5.6 0a2.8 2.8 0 1 0 -5.6 0M1829.4 101.9a2.8 2.8 0 1 0 5.6 0a2.8 2.8 0 1 0 -5.6 0M1831.7 101.9a2.8 2.8 0 1 0 5.6 0a2.8 2.8 0 1 0 -5.6 0M1834 101.9a2.8 2.8 0 1 0 5.6 0a2.8 2.8 0 1 0 -5.6 0M1836.3 101.9a2.8 2.8 0 1 0 5.6 0a2.8 2.8 0 1 0 -5.6 0M1838.6 101.9a2.8 2.8 0 1 0 5.6 0a2.8 2.8 0 1 0 -5.6 0M1840.8 101.9a2.8 2.8 0 1 0 5.6 0a2.8 2.8 0 1 0 -5.6 0M1843.1 101.9a2.8 2.8 0 1 0 5.6 0a2.8 2.8 0 1 0 -5.6 0M1845.4 101.9a2.8 2.8 0 1 0 5.6 0a2.8 2.8 0 1 0 -5.6 0M1847.7 101.9a2.8 2.8 0 1 0 5.6 0a2.8 2.8 0 1 0 -5.6 0M1850 101.9a2.8 2.8 0 1 0 5.6 0a2.8 2.8 0 1 0 -5.6 0M1852.2 101.9a2.8 2.8 0 1 0 5.6 0a2.8 2.8 0 1 0 -5.6 0M1854.5 101.9a2.8 2.8 0 1 0 5.6 0a2.8 2.8 0 1 0 -5.6 0M1856.8 101.9a2.8 2.8 0 1 0 5.6 0a2.8 2.8 0 1 0 -5.6 0M1859.1 101.9a2.8 2.8 0 1 0 5.6 0a2.8 2.8 0 1 0 -5.6 0M1861.3 101.9a2.8 2.8 0 1 0 5.6 0a2.8 2.8 0 1 0 -5.6 0M1863.6 101.9a2.8 2.8 0 1 0 5.6 0a2.8 2.8 0 1 0 -5.6 0M1865.9 101.9a2.8 2.8 0 1 0 5.6 0a2.8 2.8 0 1 0 -5.6 0M1868.2 101.9a2.8 2.8 0 1 0 5.6 0a2.8 2.8 0 1 0 -5.6 0" fill="#000073"/>
<path d="M1646 333.1 L1653.8 333.1 L1654.2 331.3 L1655.4 321.3 L1656.7 311.4 L1657.9 301.5 L1659.1 291.5 L1660.4 281.6 L1661.6 271.7 L1662.8 261.7 L1664.1 251.8 L1665.3 241.9 L1666.5 231.9 L1667.8 222 L1669 212.1 L1670.2 202.2 L1671.5 192.2 L1672.7 182.3 L1673.9 172.4 L1675.2 162.4 L1676.4 152.5 L1677.7 142.6 L1678.9 132.6 L1680.4 118.2 L1681.2 110.8 L1682 105.6 L1682.8 102.4 L1683.6 101.4 L1685.9 101.4 L1688.2 101.4 L1690.4 101.4 L1692.7 101.4 L1695 101.4 L1697.3 101.4 L1699.6 101.4 L1701.8 101.4 L1704.1 101.4 L1706.4 101.4 L1708.7 101.4 L1711 101.4 L1713.2 101.4 L1715.5 101.4 L1717.8 101.4 L1720.1 101.4 L1722.4 101.4 L1724.6 101.4 L1726.9 101.4 L1729.2 101.4 L1731.5 101.4 L1733.8 101.4 L1736 101.4 L1738.3 101.4 L1740.6 101.4 L1742.9 101.4 L1745.2 101.4 L1747.4 101.4 L1749.7 101.4 L1752 101.4 L1754.3 101.4 L1756.5 101.4 L1758.8 101.4 L1761.1 101.4 L1763.4 101.4 L1765.7 101.4 L1767.9 101.4 L1770.2 101.4 L1772.5 101.4 L1774.8 101.4 L1777.1 101.4 L1779.3 101.4 L1781.6 101.4 L1783.9 101.4 L1786.2 101.4 L1788.5 101.4 L1790.7 101.4 L1793 101.4 L1795.3 101.4 L1797.6 101.4 L1799.9 101.4 L1802.1 101.4 L1804.4 101.4 L1806.7 101.4 L1809 101.4 L1811.2 101.4 L1813.5 101.4 L1815.8 101.4 L1818.1 101.4 L1820.4 101.4 L1822.6 101.4 L1824.9 101.4 L1827.2 101.4 L1829.5 101.4 L1831.8 101.4 L1834 101.4 L1836.3 101.4 L1838.6 101.4 L1840.9 101.4 L1843.2 101.4 L1845.4 101.4 L1847.7 101.4 L1850 101.4 L1852.3 101.4 L1854.6 101.4 L1856.8 101.4 L1859.1 101.4 L1861.4 101.4 L1863.7 101.4 L1865.9 101.4 L1868.2 101.4 L1870.5 101.4" fill="none" stroke="#000080" stroke-width="1"/>
<path d="M1649.7 332.7a2.8 2.8 0 1 0 5.6 0a2.8 2.8 0 1 0 -5.6 0M1647.1 332.7a2.8 2.8 0 1 0 5.6 0a2.8 2.8 0 1 0 -5.6 0M1644.5 332.7a2.8 2.8 0 1 0 5.6 0a2.8 2.8 0 1 0 -5.6 0M1651.4 331.3a2.8 2.8 0 1 0 5.6 0a2.8 2.8 0 1 0 -5.6 0M1652.6 321.3a2.8 2.8 0 1 0 5.6 0a2.8 2.8 0 1 0 -5.6 0M1653.9 311.4a2.8 2.8 0 1 0 5.6 0a2.8 2.8 0 1 0 -5.6 0M1655.1 301.5a2.8 2.8 0 1 0 5.6 0a2.8 2.8 0 1 0 -5.6 0M1656.3 291.5a2.8 2.8 0 1 0 5.6 0a2.8 2.8 0 1 0 -5.6 0M1657.6 281.6a2.8 2.8 0 1 0 5.6 0a2.8 2.8 0 1 0 -5.6 0M1658.8 271.7a2.8 2.8 0 1 0 5.6 0a2.8 2.8 0 1 0 -5.6 0M1660 261.7a2.8 2.8 0 1 0 5.6 0a2.8 2.8 0 1 0 -5.6 0M1661.3 251.8a2.8 2.8 0 1 0 5.6 0a2.8 2.8 0 1 0 -5.6 0M1662.5 241.9a2.8 2.8 0 1 0 5.6 0a2.8 2.8 0 1 0 -5.6 0M1663.7 231.9a2.8 2.8 0 1 0 5.6 0a2.8 2.8 0 1 0 -5.6 0M1665 222a2.8 2.8 0 1 0 5.6 0a2.8 2.8 0 1 0 -5.6 0M1666.2 212.1a2.8 2.8 0 1 0 5.6 0a2.8 2.8 0 1 0 -5.6 0M1667.4 202.2a2.8 2.8 0 1 0 5.6 0a2.8 2.8 0 1 0 -5.6 0M1668.7 192.2a2.8 2.8 0 1 0 5.6 0a2.8 2.8 0 1 0 -5.6 0M1669.9 182.3a2.8 2.8 0 1 0 5.6 0a2.8 2.8 0 1 0 -5.6 0M1671.1 172.4a2.8 2.8 0 1 0 5.6 0a2.8 2.8 0 1 0 -5.6 0M1672.4 162.4a2.8 2.8 0 1 0 5.6 0a2.8 2.8 0 1 0 -5.6 0M1673.6 152.5a2.8 2.8 0 1 0 5.6 0a2.8 2.8 0 1 0 -5.6 0M1674.9 142.6a2.8 2.8 0 1 0 5.6 0a2.8 2.8 0 1 0 -5.6 0M1676.1 132.6a2.8 2.8 0 1 0 5.6 0a2.8 2.8 0 1 0 -5.6 0M1678.4 110.8a2.8 2.8 0 1 0 5.6 0a2.8 2.8 0 1 0 -5.6 0M1680 102.4a2.8 2.8 0 1 0 5.6 0a2.8 2.8 0 1 0 -5.6 0M1683.1 101.4a2.8 2.8 0 1 0 5.6 0a2.8 2.8 0 1 0 -5.6 0M1685.4 101.4a2.8 2.8 0 1 0 5.6 0a2.8 2.8 0 1 0 -5.6 0M1687.6 101.4a2.8 2.8 0 1 0 5.6 0a2.8 2.8 0 1 0 -5.6 0M1689.9 101.4a2.8 2.8 0 1 0 5.6 0a2.8 2.8 0 1 0 -5.6 0M1692.2 101.4a2.8 2.8 0 1 0 5.6 0a2.8 2.8 0 1 0 -5.6 0M1694.5 101.4a2.8 2.8 0 1 0 5.6 0a2.8 2.8 0 1 0 -5.6 0M1696.8 101.4a2.8 2.8 0 1 0 5.6 0a2.8 2.8 0 1 0 -5.6 0M1699 101.4a2.8 2.8 0 1 0 5.6 0a2.8 2.8 0 1 0 -5.6 0M1701.3 101.4a2.8 2.8 0 1 0 5.6 0a2.8 2.8 0 1 0 -5.6 0M1703.6 101.4a2.8 2.8 0 1 0 5.6 0a2.8 2.8 0 1 0 -5.6 0M1705.9 101.4a2.8 2.8 0 1 0 5.6 0a2.8 2.8 0 1 0 -5.6 0M1708.2 101.4a2.8 2.8 0 1 0 5.6 0a2.8 2.8 0 1 0 -5.6 0M1710.4 101.4a2.8 2.8 0 1 0 5.6 0a2.8 2.8 0 1 0 -5.6 0M1712.7 101.4a2.8 2.8 0 1 0 5.6 0a2.8 2.8 0 1 0 -5.6 0M1715 101.4a2.8 2.8 0 1 0 5.6 0a2.8 2.8 0 1 0 -5.6 0M1717.3 101.4a2.8 2.8 0 1 0 5.6 0a2.8 2.8 0 1 0 -5.6 0M1719.6 101.4a2.8 2.8 0 1 0 5.6 0a2.8 2.8 0 1 0 -5.6 0M1721.8 101.4a2.8 2.8 0 1 0 5.6 0a2.8 2.8 0 1 0 -5.6 0M1724.1 101.4a2.8 2.8 0 1 0 5.6 0a2.8 2.8 0 1 0 -5.6 0M1726.4 101.4a2.8 2.8 0 1 0 5.6 0a2.8 2.8 0 1 0 -5.6 0M1728.7 101.4a2.8 2.8 0 1 0 5.6 0a2.8 2.8 0 1 0 -5.6 0M1731 101.4a2.8 2.8 0 1 0 5.6 0a2.8 2.8 0 1 0 -5.6 0M1733.2 101.4a2.8 2.8 0 1 0 5.6 0a2.8 2.8 0 1 0 -5.6 0M1735.5 101.4a2.8 2.8 0 1 0 5.6 0a2.8 2.8 0 1 0 -5.6 0M1737.8 101.4a2.8 2.8 0 1 0 5.6 0a2.8 2.8 0 1 0 -5.6 0M1740.1 101.4a2.8 2.8 0 1 0 5.6 0a2.8 2.8 0 1 0 -5.6 0M1742.4 101.4a2.8 2.8 0 1 0 5.6 0a2.8 2.8 0 1 0 -5.6 0M1744.6 101.4a2.8 2.8 0 1 0 5.6 0a2.8 2.8 0 1 0 -5.6 0M1746.9 101.4a2.8 2.8 0 1 0 5.6 0a2.8 2.8 0 1 0 -5.6 0M1749.2 101.4a2.8 2.8 0 1 0 5.6 0a2.8 2.8 0 1 0 -5.6 0M1751.5 101.4a2.8 2.8 0 1 0 5.6 0a2.8 2.8 0 1 0 -5.6 0M1753.7 101.4a2.8 2.8 0 1 0 5.6 0a2.8 2.8 0 1 0 -5.6 0M1756 101.4a2.8 2.8 0 1 0 5.6 0a2.8 2.8 0 1 0 -5.6 0M1758.3 101.4a2.8 2.8 0 1 0 5.6 0a2.8 2.8 0 1 0 -5.6 0M1760.6 101.4a2.8 2.8 0 1 0 5.6 0a2.8 2.8 0 1 0 -5.6 0M1762.9 101.4a2.8 2.8 0 1 0 5.6 0a2.8 2.8 0 1 0 -5.6 0M1765.1 101.4a2.8 2.8 0 1 0 5.6 0a2.8 2.8 0 1 0 -5.6 0M1767.4 101.4a2.8 2.8 0 1 0 5.6 0a2.8 2.8 0 1 0 -5.6 0M1769.7 101.4a2.8 2.8 0 1 0 5.6 0a2.8 2.8 0 1 0 -5.6 0M1772 101.4a2.8 2.8 0 1 0 5.6 0a2.8 2.8 0 1 0 -5.6 0M1774.3 101.4a2.8 2.8 0 1 0 5.6 0a2.8 2.8 0 1 0 -5.6 0M1776.5 101.4a2.8 2.8 0 1 0 5.6 0a2.8 2.8 0 1 0 -5.6 0M1778.8 101.4a2.8 2.8 0 1 0 5.6 0a2.8 2.8 0 1 0 -5.6 0M1781.1 101.4a2.8 2.8 0 1 0 5.6 0a2.8 2.8 0 1 0 -5.6 0M1783.4 101.4a2.8 2.8 0 1 0 5.6 0a2.8 2.8 0 1 0 -5.6 0M1785.7 101.4a2.8 2.8 0 1 0 5.6 0a2.8 2.8 0 1 0 -5.6 0M1787.9 101.4a2.8 2.8 0 1 0 5.6 0a2.8 2.8 0 1 0 -5.6 0M1790.2 101.4a2.8 2.8 0 1 0 5.6 0a2.8 2.8 0 1 0 -5.6 0M1792.5 101.4a2.8 2.8 0 1 0 5.6 0a2.8 2.8 0 1 0 -5.6 0M1794.8 101.4a2.8 2.8 0 1 0 5.6 0a2.8 2.8 0 1 0 -5.6 0M1797.1 101.4a2.8 2.8 0 1 0 5.6 0a2.8 2.8 0 1 0 -5.6 0M1799.3 101.4a2.8 2.8 0 1 0 5.6 0a2.8 2.8 0 1 0 -5.6 0M1801.6 101.4a2.8 2.8 0 1 0 5.6 0a2.8 2.8 0 1 0 -5.6 0M1803.9 101.4a2.8 2.8 0 1 0 5.6 0a2.8 2.8 0 1 0 -5.6 0M1806.2 101.4a2.8 2.8 0 1 0 5.6 0a2.8 2.8 0 1 0 -5.6 0M1808.4 101.4a2.8 2.8 0 1 0 5.6 0a2.8 2.8 0 1 0 -5.6 0M1810.7 101.4a2.8 2.8 0 1 0 5.6 0a2.8 2.8 0 1 0 -5.6 0M1813 101.4a2.8 2.8 0 1 0 5.6 0a2.8 2.8 0 1 0 -5.6 0M1815.3 101.4a2.8 2.8 0 1 0 5.6 0a2.8 2.8 0 1 0 -5.6 0M1817.6 101.4a2.8 2.8 0 1 0 5.6 0a2.8 2.8 0 1 0 -5.6 0M1819.8 101.4a2.8 2.8 0 1 0 5.6 0a2.8 2.8 0 1 0 -5.6 0M1822.1 101.4a2.8 2.8 0 1 0 5.6 0a2.8 2.8 0 1 0 -5.6 0M1824.4 101.4a2.8 2.8 0 1 0 5.6 0a2.8 2.8 0 1 0 -5.6 0M1826.7 101.4a2.8 2.8 0 1 0 5.6 0a2.8 2.8 0 1 0 -5.6 0M1829 101.4a2.8 2.8 0 1 0 5.6 0a2.8 2.8 0 1 0 -5.6 0M1831.2 101.4a2.8 2.8 0 1 0 5.6 0a2.8 2.8 0 1 0 -5.6 0M1833.5 101.4a2.8 2.8 0 1 0 5.6 0a2.8 2.8 0 1 0 -5.6 0M1835.8 101.4a2.8 2.8 0 1 0 5.6 0a2.8 2.8 0 1 0 -5.6 0M1838.1 101.4a2.8 2.8 0 1 0 5.6 0a2.8 2.8 0 1 0 -5.6 0M1840.4 101.4a2.8 2.8 0 1 0 5.6 0a2.8 2.8 0 1 0 -5.6 0M1842.6 101.4a2.8 2.8 0 1 0 5.6 0a2.8 2.8 0 1 0 -5.6 0M1844.9 101.4a2.8 2.8 0 1 0 5.6 0a2.8 2.8 0 1 0 -5.6 0M1847.2 101.4a2.8 2.8 0 1 0 5.6 0a2.8 2.8 0 1 0 -5.6 0M1849.5 101.4a2.8 2.8 0 1 0 5.6 0a2.8 2.8 0 1 0 -5.6 0M1851.8 101.4a2.8 2.8 0 1 0 5.6 0a2.8 2.8 0 1 0 -5.6 0M1854 101.4a2.8 2.8 0 1 0 5.6 0a2.8 2.8 0 1 0 -5.6 0M1856.3 101.4a2.8 2.8 0 1 0 5.6 0a2.8 2.8 0 1 0 -5.6 0M1858.6 101.4a2.8 2.8 0 1 0 5.6 0a2.8 2.8 0 1 0 -5.6 0M1860.9 101.4a2.8 2.8 0 1 0 5.6 0a2.8 2.8 0 1 0 -5.6 0M1863.1 101.4a2.8 2.8 0 1 0 5.6 0a2.8 2.8 0 1 0 -5.6 0M1865.4 101.4a2.8 2.8 0 1 0 5.6 0a2.8 2.8 0 1 0 -5.6 0M1867.7 101.4a2.8 2.8 0 1 0 5.6 0a2.8 2.8 0 1 0 -5.6 0" fill="#000080"/>
<path d="M1639.3 333.1 L1647.1 333.1 L1647.4 332.1 L1648.5 322.2 L1649.6 312.2 L1650.8 302.3 L1651.9 292.4 L1653 282.4 L1654.1 272.5 L1655.2 262.6 L1656.4 252.6 L1657.5 242.7 L1658.6 232.8 L1659.7 222.9 L1660.9 212.9 L1662 203 L1663.1 193.1 L1664.2 183.1 L1665.4 173.2 L1666.5 163.3 L1667.6 153.3 L1668.7 143.4 L1669.9 133.5 L1671.4 117.7 L1672.1 110.3 L1672.7 105 L1673.4 101.9 L1674.1 100.8 L1676.4 100.8 L1678.7 100.8 L1680.9 100.8 L1683.2 100.8 L1685.5 100.8 L1687.8 100.8 L1690.1 100.8 L1692.3 100.8 L1694.6 100.8 L1696.9 100.8 L1699.2 100.8 L1701.5 100.8 L1703.7 100.8 L1706 100.8 L1708.3 100.8 L1710.6 100.8 L1712.9 100.8 L1715.1 100.8 L1717.4 100.8 L1719.7 100.8 L1722 100.8 L1724.3 100.8 L1726.5 100.8 L1728.8 100.8 L1731.1 100.8 L1733.4 100.8 L1735.6 100.8 L1737.9 100.8 L1740.2 100.8 L1742.5 100.8 L1744.8 100.8 L1747 100.8 L1749.3 100.8 L1751.6 100.8 L1753.9 100.8 L1756.2 100.8 L1758.4 100.8 L1760.7 100.8 L1763 100.8 L1765.3 100.8 L1767.6 100.8 L1769.8 100.8 L1772.1 100.8 L1774.4 100.8 L1776.7 100.8 L1779 100.8 L1781.2 100.8 L1783.5 100.8 L1785.8 100.8 L1788.1 100.8 L1790.3 100.8 L1792.6 100.8 L1794.9 100.8 L1797.2 100.8 L1799.5 100.8 L1801.7 100.8 L1804 100.8 L1806.3 100.8 L1808.6 100.8 L1810.9 100.8 L1813.1 100.8 L1815.4 100.8 L1817.7 100.8 L1820 100.8 L1822.3 100.8 L1824.5 100.8 L1826.8 100.8 L1829.1 100.8 L1831.4 100.8 L1833.7 100.8 L1835.9 100.8 L1838.2 100.8 L1840.5 100.8 L1842.8 100.8 L1845.1 100.8 L1847.3 100.8 L1849.6 100.8 L1851.9 100.8 L1854.2 100.8 L1856.4 100.8 L1858.7 100.8 L1861 100.8 L1863.3 100.8 L1865.6 100.8 L1867.8 100.8 L1870.1 100.8" fill="none" stroke="#00008e" stroke-width="1"/>
<path d="M1643 332.7a2.8 2.8 0 1 0 5.6 0a2.8 2.8 0 1 0 -5.6 0M1640.4 332.7a2.8 2.8 0 1 0 5.6 0a2.8 2.8 0 1 0 -5.6 0M1637.8 332.7a2.8 2.8 0 1 0 5.6 0a2.8 2.8 0 1 0 -5.6 0M1644.6 332.1a2.8 2.8 0 1 0 5.6 0a2.8 2.8 0 1 0 -5.6 0M1645.7 322.2a2.8 2.8 0 1 0 5.6 0a2.8 2.8 0 1 0 -5.6 0M1646.8 312.2a2.8 2.8 0 1 0 5.6 0a2.8 2.8 0 1 0 -5.6 0M1648 302.3a2.8 2.8 0 1 0 5.6 0a2.8 2.8 0 1 0 -5.6 0M1649.1 292.4a2.8 2.8 0 1 0 5.6 0a2.8 2.8 0 1 0 -5.6 0M1650.2 282.4a2.8 2.8 0 1 0 5.6 0a2.8 2.8 0 1 0 -5.6 0M1651.3 272.5a2.8 2.8 0 1 0 5.6 0a2.8 2.8 0 1 0 -5.6 0M1652.4 262.6a2.8 2.8 0 1 0 5.6 0a2.8 2.8 0 1 0 -5.6 0M1653.6 252.6a2.8 2.8 0 1 0 5.6 0a2.8 2.8 0 1 0 -5.6 0M1654.7 242.7a2.8 2.8 0 1 0 5.6 0a2.8 2.8 0 1 0 -5.6 0M1655.8 232.8a2.8 2.8 0 1 0 5.6 0a2.8 2.8 0 1 0 -5.6 0M1656.9 222.9a2.8 2.8 0 1 0 5.6 0a2.8 2.8 0 1 0 -5.6 0M1658.1 212.9a2.8 2.8 0 1 0 5.6 0a2.8 2.8 0 1 0 -5.6 0M1659.2 203a2.8 2.8 0 1 0 5.6 0a2.8 2.8 0 1 0 -5.6 0M1660.3 193.1a2.8 2.8 0 1 0 5.6 0a2.8 2.8 0 1 0 -5.6 0M1661.4 183.1a2.8 2.8 0 1 0 5.6 0a2.8 2.8 0 1 0 -5.6 0M1662.6 173.2a2.8 2.8 0 1 0 5.6 0a2.8 2.8 0 1 0 -5.6 0M1663.7 163.3a2.8 2.8 0 1 0 5.6 0a2.8 2.8 0 1 0 -5.6 0M1664.8 153.3a2.8 2.8 0 1 0 5.6 0a2.8 2.8 0 1 0 -5.6 0M1665.9 143.4a2.8 2.8 0 1 0 5.6 0a2.8 2.8 0 1 0 -5.6 0M1667.1 133.5a2.8 2.8 0 1 0 5.6 0a2.8 2.8 0 1 0 -5.6 0M1669.3 110.3a2.8 2.8 0 1 0 5.6 0a2.8 2.8 0 1 0 -5.6 0M1670.6 101.9a2.8 2.8 0 1 0 5.6 0a2.8 2.8 0 1 0 -5.6 0M1673.6 100.8a2.8 2.8 0 1 0 5.6 0a2.8 2.8 0 1 0 -5.6 0M1675.9 100.8a2.8 2.8 0 1 0 5.6 0a2.8 2.8 0 1 0 -5.6 0M1678.1 100.8a2.8 2.8 0 1 0 5.6 0a2.8 2.8 0 1 0 -5.6 0M1680.4 100.8a2.8 2.8 0 1 0 5.6 0a2.8 2.8 0 1 0 -5.6 0M1682.7 100.8a2.8 2.8 0 1 0 5.6 0a2.8 2.8 0 1 0 -5.6 0M1685 100.8a2.8 2.8 0 1 0 5.6 0a2.8 2.8 0 1 0 -5.6 0M1687.3 100.8a2.8 2.8 0 1 0 5.6 0a2.8 2.8 0 1 0 -5.6 0M1689.5 100.8a2.8 2.8 0 1 0 5.6 0a2.8 2.8 0 1 0 -5.6 0M1691.8 100.8a2.8 2.8 0 1 0 5.6 0a2.8 2.8 0 1 0 -5.6 0M1694.1 100.8a2.8 2.8 0 1 0 5.6 0a2.8 2.8 0 1 0 -5.6 0M1696.4 100.8a2.8 2.8 0 1 0 5.6 0a2.8 2.8 0 1 0 -5.6 0M1698.7 100.8a2.8 2.8 0 1 0 5.6 0a2.8 2.8 0 1 0 -5.6 0M1700.9 100.8a2.8 2.8 0 1 0 5.6 0a2.8 2.8 0 1 0 -5.6 0M1703.2 100.8a2.8 2.8 0 1 0 5.6 0a2.8 2.8 0 1 0 -5.6 0M1705.5 100.8a2.8 2.8 0 1 0 5.6 0a2.8 2.8 0 1 0 -5.6 0M1707.8 100.8a2.8 2.8 0 1 0 5.6 0a2.8 2.8 0 1 0 -5.6 0M1710.1 100.8a2.8 2.8 0 1 0 5.6 0a2.8 2.8 0 1 0 -5.6 0M1712.3 100.8a2.8 2.8 0 1 0 5.6 0a2.8 2.8 0 1 0 -5.6 0M1714.6 100.8a2.8 2.8 0 1 0 5.6 0a2.8 2.8 0 1 0 -5.6 0M1716.9 100.8a2.8 2.8 0 1 0 5.6 0a2.8 2.8 0 1 0 -5.6 0M1719.2 100.8a2.8 2.8 0 1 0 5.6 0a2.8 2.8 0 1 0 -5.6 0M1721.5 100.8a2.8 2.8 0 1 0 5.6 0a2.8 2.8 0 1 0 -5.6 0M1723.7 100.8a2.8 2.8 0 1 0 5.6 0a2.8 2.8 0 1 0 -5.6 0M1726 100.8a2.8 2.8 0 1 0 5.6 0a2.8 2.8 0 1 0 -5.6 0M1728.3 100.8a2.8 2.8 0 1 0 5.6 0a2.8 2.8 0 1 0 -5.6 0M1730.6 100.8a2.8 2.8 0 1 0 5.6 0a2.8 2.8 0 1 0 -5.6 0M1732.8 100.8a2.8 2.8 0 1 0 5.6 0a2.8 2.8 0 1 0 -5.6 0M1735.1 100.8a2.8 2.8 0 1 0 5.6 0a2.8 2.8 0 1 0 -5.6 0M1737.4 100.8a2.8 2.8 0 1 0 5.6 0a2.8 2.8 0 1 0 -5.6 0M1739.7 100.8a2.8 2.8 0 1 0 5.6 0a2.8 2.8 0 1 0 -5.6 0M1742 100.8a2.8 2.8 0 1 0 5.6 0a2.8 2.8 0 1 0 -5.6 0M1744.2 100.8a2.8 2.8 0 1 0 5.6 0a2.8 2.8 0 1 0 -5.6 0M1746.5 100.8a2.8 2.8 0 1 0 5.6 0a2.8 2.8 0 1 0 -5.6 0M1748.8 100.8a2.8 2.8 0 1 0 5.6 0a2.8 2.8 0 1 0 -5.6 0M1751.1 100.8a2.8 2.8 0 1 0 5.6 0a2.8 2.8 0 1 0 -5.6 0M1753.4 100.8a2.8 2.8 0 1 0 5.6 0a2.8 2.8 0 1 0 -5.6 0M1755.6 100.8a2.8 2.8 0 1 0 5.6 0a2.8 2.8 0 1 0 -5.6 0M1757.9 100.8a2.8 2.8 0 1 0 5.6 0a2.8 2.8 0 1 0 -5.6 0M1760.2 100.8a2.8 2.8 0 1 0 5.6 0a2.8 2.8 0 1 0 -5.6 0M1762.5 100.8a2.8 2.8 0 1 0 5.6 0a2.8 2.8 0 1 0 -5.6 0M1764.8 100.8a2.8 2.8 0 1 0 5.6 0a2.8 2.8 0 1 0 -5.6 0M1767 100.8a2.8 2.8 0 1 0 5.6 0a2.8 2.8 0 1 0 -5.6 0M1769.3 100.8a2.8 2.8 0 1 0 5.6 0a2.8 2.8 0 1 0 -5.6 0M1771.6 100.8a2.8 2.8 0 1 0 5.6 0a2.8 2.8 0 1 0 -5.6 0M1773.9 100.8a2.8 2.8 0 1 0 5.6 0a2.8 2.8 0 1 0 -5.6 0M1776.2 100.8a2.8 2.8 0 1 0 5.6 0a2.8 2.8 0 1 0 -5.6 0M1778.4 100.8a2.8 2.8 0 1 0 5.6 0a2.8 2.8 0 1 0 -5.6 0M1780.7 100.8a2.8 2.8 0 1 0 5.6 0a2.8 2.8 0 1 0 -5.6 0M1783 100.8a2.8 2.8 0 1 0 5.6 0a2.8 2.8 0 1 0 -5.6 0M1785.3 100.8a2.8 2.8 0 1 0 5.6 0a2.8 2.8 0 1 0 -5.6 0M1787.5 100.8a2.8 2.8 0 1 0 5.6 0a2.8 2.8 0 1 0 -5.6 0M1789.8 100.8a2.8 2.8 0 1 0 5.6 0a2.8 2.8 0 1 0 -5.6 0M1792.1 100.8a2.8 2.8 0 1 0 5.6 0a2.8 2.8 0 1 0 -5.6 0M1794.4 100.8a2.8 2.8 0 1 0 5.6 0a2.8 2.8 0 1 0 -5.6 0M1796.7 100.8a2.8 2.8 0 1 0 5.6 0a2.8 2.8 0 1 0 -5.6 0M1798.9 100.8a2.8 2.8 0 1 0 5.6 0a2.8 2.8 0 1 0 -5.6 0M1801.2 100.8a2.8 2.8 0 1 0 5.6 0a2.8 2.8 0 1 0 -5.6 0M1803.5 100.8a2.8 2.8 0 1 0 5.6 0a2.8 2.8 0 1 0 -5.6 0M1805.8 100.8a2.8 2.8 0 1 0 5.6 0a2.8 2.8 0 1 0 -5.6 0M1808.1 100.8a2.8 2.8 0 1 0 5.6 0a2.8 2.8 0 1 0 -5.6 0M1810.3 100.8a2.8 2.8 0 1 0 5.6 0a2.8 2.8 0 1 0 -5.6 0M1812.6 100.8a2.8 2.8 0 1 0 5.6 0a2.8 2.8 0 1 0 -5.6 0M1814.9 100.8a2.8 2.8 0 1 0 5.6 0a2.8 2.8 0 1 0 -5.6 0M1817.2 100.8a2.8 2.8 0 1 0 5.6 0a2.8 2.8 0 1 0 -5.6 0M1819.5 100.8a2.8 2.8 0 1 0 5.6 0a2.8 2.8 0 1 0 -5.6 0M1821.7 100.8a2.8 2.8 0 1 0 5.6 0a2.8 2.8 0 1 0 -5.6 0M1824 100.8a2.8 2.8 0 1 0 5.6 0a2.8 2.8 0 1 0 -5.6 0M1826.3 100.8a2.8 2.8 0 1 0 5.6 0a2.8 2.8 0 1 0 -5.6 0M1828.6 100.8a2.8 2.8 0 1 0 5.6 0a2.8 2.8 0 1 0 -5.6 0M1830.9 100.8a2.8 2.8 0 1 0 5.6 0a2.8 2.8 0 1 0 -5.6 0M1833.1 100.8a2.8 2.8 0 1 0 5.6 0a2.8 2.8 0 1 0 -5.6 0M1835.4 100.8a2.8 2.8 0 1 0 5.6 0a2.8 2.8 0 1 0 -5.6 0M1837.7 100.8a2.8 2.8 0 1 0 5.6 0a2.8 2.8 0 1 0 -5.6 0M1840 100.8a2.8 2.8 0 1 0 5.6 0a2.8 2.8 0 1 0 -5.6 0M1842.3 100.8a2.8 2.8 0 1 0 5.6 0a2.8 2.8 0 1 0 -5.6 0M1844.5 100.8a2.8 2.8 0 1 0 5.6 0a2.8 2.8 0 1 0 -5.6 0M1846.8 100.8a2.8 2.8 0 1 0 5.6 0a2.8 2.8 0 1 0 -5.6 0M1849.1 100.8a2.8 2.8 0 1 0 5.6 0a2.8 2.8 0 1 0 -5.6 0M1851.4 100.8a2.8 2.8 0 1 0 5.6 0a2.8 2.8 0 1 0 -5.6 0M1853.6 100.8a2.8 2.8 0 1 0 5.6 0a2.8 2.8 0 1 0 -5.6 0M1855.9 100.8a2.8 2.8 0 1 0 5.6 0a2.8 2.8 0 1 0 -5.6 0M1858.2 100.8a2.8 2.8 0 1 0 5.6 0a2.8 2.8 0 1 0 -5.6 0M1860.5 100.8a2.8 2.8 0 1 0 5.6 0a2.8 2.8 0 1 0 -5.6 0M1862.8 100.8a2.8 2.8 0 1 0 5.6 0a2.8 2.8 0 1 0 -5.6 0M1865 100.8a2.8 2.8 0 1 0 5.6 0a2.8 2.8 0 1 0 -5.6 0M1867.3 100.8a2.8 2.8 0 1 0 5.6 0a2.8 2.8 0 1 0 -5.6 0" fill="#00008e"/>
<path d="M1632.6 333.1 L1640.5 333.1 L1640.9 330.4 L1641.9 320.5 L1642.9 310.6 L1643.9 300.7 L1644.9 290.7 L1645.9 280.8 L1646.9 270.9 L1647.9 260.9 L1648.9 251 L1649.9 241.1 L1651 231.1 L1652 221.2 L1653 211.3 L1654 201.3 L1655 191.4 L1656 181.5 L1657 171.5 L1658 161.6 L1659 151.7 L1660 141.8 L1661.1 131.8 L1662.3 117.2 L1662.9 109.8 L1663.5 104.5 L1664.1 101.3 L1664.7 100.2 L1667 100.2 L1669.2 100.2 L1671.5 100.2 L1673.8 100.2 L1676.1 100.2 L1678.4 100.2 L1680.6 100.2 L1682.9 100.2 L1685.2 100.2 L1687.5 100.2 L1689.8 100.2 L1692 100.2 L1694.3 100.2 L1696.6 100.2 L1698.9 100.2 L1701.1 100.2 L1703.4 100.2 L1705.7 100.2 L1708 100.2 L1710.3 100.2 L1712.5 100.2 L1714.8 100.2 L1717.1 100.2 L1719.4 100.2 L1721.7 100.2 L1723.9 100.2 L1726.2 100.2 L1728.5 100.2 L1730.8 100.2 L1733.1 100.2 L1735.3 100.2 L1737.6 100.2 L1739.9 100.2 L1742.2 100.2 L1744.5 100.2 L1746.7 100.2 L1749 100.2 L1751.3 100.2 L1753.6 100.2 L1755.8 100.2 L1758.1 100.2 L1760.4 100.2 L1762.7 100.2 L1765 100.2 L1767.2 100.2 L1769.5 100.2 L1771.8 100.2 L1774.1 100.2 L1776.4 100.2 L1778.6 100.2 L1780.9 100.2 L1783.2 100.2 L1785.5 100.2 L1787.8 100.2 L1790 100.2 L1792.3 100.2 L1794.6 100.2 L1796.9 100.2 L1799.2 100.2 L1801.4 100.2 L1803.7 100.2 L1806 100.2 L1808.3 100.2 L1810.6 100.2 L1812.8 100.2 L1815.1 100.2 L1817.4 100.2 L1819.7 100.2 L1821.9 100.2 L1824.2 100.2 L1826.5 100.2 L1828.8 100.2 L1831.1 100.2 L1833.3 100.2 L1835.6 100.2 L1837.9 100.2 L1840.2 100.2 L1842.5 100.2 L1844.7 100.2 L1847 100.2 L1849.3 100.2 L1851.6 100.2 L1853.9 100.2 L1856.1 100.2 L1858.4 100.2 L1860.7 100.2 L1863 100.2 L1865.3 100.2 L1867.5 100.2 L1869.8 100.2" fill="none" stroke="#00009b" stroke-width="1"/>
<path d="M1636.4 332.7a2.8 2.8 0 1 0 5.6 0a2.8 2.8 0 1 0 -5.6 0M1633.8 332.7a2.8 2.8 0 1 0 5.6 0a2.8 2.8 0 1 0 -5.6 0M1631.1 332.7a2.8 2.8 0 1 0 5.6 0a2.8 2.8 0 1 0 -5.6 0M1638.1 330.4a2.8 2.8 0 1 0 5.6 0a2.8 2.8 0 1 0 -5.6 0M1639.1 320.5a2.8 2.8 0 1 0 5.6 0a2.8 2.8 0 1 0 -5.6 0M1640.1 310.6a2.8 2.8 0 1 0 5.6 0a2.8 2.8 0 1 0 -5.6 0M1641.1 300.7a2.8 2.8 0 1 0 5.6 0a2.8 2.8 0 1 0 -5.6 0M1642.1 290.7a2.8 2.8 0 1 0 5.6 0a2.8 2.8 0 1 0 -5.6 0M1643.1 280.8a2.8 2.8 0 1 0 5.6 0a2.8 2.8 0 1 0 -5.6 0M1644.1 270.9a2.8 2.8 0 1 0 5.6 0a2.8 2.8 0 1 0 -5.6 0M1645.1 260.9a2.8 2.8 0 1 0 5.6 0a2.8 2.8 0 1 0 -5.6 0M1646.1 251a2.8 2.8 0 1 0 5.6 0a2.8 2.8 0 1 0 -5.6 0M1647.1 241.1a2.8 2.8 0 1 0 5.6 0a2.8 2.8 0 1 0 -5.6 0M1648.2 231.1a2.8 2.8 0 1 0 5.6 0a2.8 2.8 0 1 0 -5.6 0M1649.2 221.2a2.8 2.8 0 1 0 5.6 0a2.8 2.8 0 1 0 -5.6 0M1650.2 211.3a2.8 2.8 0 1 0 5.6 0a2.8 2.8 0 1 0 -5.6 0M1651.2 201.3a2.8 2.8 0 1 0 5.6 0a2.8 2.8 0 1 0 -5.6 0M1652.2 191.4a2.8 2.8 0 1 0 5.6 0a2.8 2.8 0 1 0 -5.6 0M1653.2 181.5a2.8 2.8 0 1 0 5.6 0a2.8 2.8 0 1 0 -5.6 0M1654.2 171.5a2.8 2.8 0 1 0 5.6 0a2.8 2.8 0 1 0 -5.6 0M1655.2 161.6a2.8 2.8 0 1 0 5.6 0a2.8 2.8 0 1 0 -5.6 0M1656.2 151.7a2.8 2.8 0 1 0 5.6 0a2.8 2.8 0 1 0 -5.6 0M1657.2 141.8a2.8 2.8 0 1 0 5.6 0a2.8 2.8 0 1 0 -5.6 0M1658.3 131.8a2.8 2.8 0 1 0 5.6 0a2.8 2.8 0 1 0 -5.6 0M1660.1 109.8a2.8 2.8 0 1 0 5.6 0a2.8 2.8 0 1 0 -5.6 0M1661.3 101.3a2.8 2.8 0 1 0 5.6 0a2.8 2.8 0 1 0 -5.6 0M1664.2 100.2a2.8 2.8 0 1 0 5.6 0a2.8 2.8 0 1 0 -5.6 0M1666.4 100.2a2.8 2.8 0 1 0 5.6 0a2.8 2.8 0 1 0 -5.6 0M1668.7 100.2a2.8 2.8 0 1 0 5.6 0a2.8 2.8 0 1 0 -5.6 0M1671 100.2a2.8 2.8 0 1 0 5.6 0a2.8 2.8 0 1 0 -5.6 0M1673.3 100.2a2.8 2.8 0 1 0 5.6 0a2.8 2.8 0 1 0 -5.6 0M1675.6 100.2a2.8 2.8 0 1 0 5.6 0a2.8 2.8 0 1 0 -5.6 0M1677.8 100.2a2.8 2.8 0 1 0 5.6 0a2.8 2.8 0 1 0 -5.6 0M1680.1 100.2a2.8 2.8 0 1 0 5.6 0a2.8 2.8 0 1 0 -5.6 0M1682.4 100.2a2.8 2.8 0 1 0 5.6 0a2.8 2.8 0 1 0 -5.6 0M1684.7 100.2a2.8 2.8 0 1 0 5.6 0a2.8 2.8 0 1 0 -5.6 0M1687 100.2a2.8 2.8 0 1 0 5.6 0a2.8 2.8 0 1 0 -5.6 0M1689.2 100.2a2.8 2.8 0 1 0 5.6 0a2.8 2.8 0 1 0 -5.6 0M1691.5 100.2a2.8 2.8 0 1 0 5.6 0a2.8 2.8 0 1 0 -5.6 0M1693.8 100.2a2.8 2.8 0 1 0 5.6 0a2.8 2.8 0 1 0 -5.6 0M1696.1 100.2a2.8 2.8 0 1 0 5.6 0a2.8 2.8 0 1 0 -5.6 0M1698.3 100.2a2.8 2.8 0 1 0 5.6 0a2.8 2.8 0 1 0 -5.6 0M1700.6 100.2a2.8 2.8 0 1 0 5.6 0a2.8 2.8 0 1 0 -5.6 0M1702.9 100.2a2.8 2.8 0 1 0 5.6 0a2.8 2.8 0 1 0 -5.6 0M1705.2 100.2a2.8 2.8 0 1 0 5.6 0a2.8 2.8 0 1 0 -5.6 0M1707.5 100.2a2.8 2.8 0 1 0 5.6 0a2.8 2.8 0 1 0 -5.6 0M1709.7 100.2a2.8 2.8 0 1 0 5.6 0a2.8 2.8 0 1 0 -5.6 0M1712 100.2a2.8 2.8 0 1 0 5.6 0a2.8 2.8 0 1 0 -5.6 0M1714.3 100.2a2.8 2.8 0 1 0 5.6 0a2.8 2.8 0 1 0 -5.6 0M1716.6 100.2a2.8 2.8 0 1 0 5.6 0a2.8 2.8 0 1 0 -5.6 0M1718.9 100.2a2.8 2.8 0 1 0 5.6 0a2.8 2.8 0 1 0 -5.6 0M1721.1 100.2a2.8 2.8 0 1 0 5.6 0a2.8 2.8 0 1 0 -5.6 0M1723.4 100.2a2.8 2.8 0 1 0 5.6 0a2.8 2.8 0 1 0 -5.6 0M1725.7 100.2a2.8 2.8 0 1 0 5.6 0a2.8 2.8 0 1 0 -5.6 0M1728 100.2a2.8 2.8 0 1 0 5.6 0a2.8 2.8 0 1 0 -5.6 0M1730.3 100.2a2.8 2.8 0 1 0 5.6 0a2.8 2.8 0 1 0 -5.6 0M1732.5 100.2a2.8 2.8 0 1 0 5.6 0a2.8 2.8 0 1 0 -5.6 0M1734.8 100.2a2.8 2.8 0 1 0 5.6 0a2.8 2.8 0 1 0 -5.6 0M1737.1 100.2a2.8 2.8 0 1 0 5.6 0a2.8 2.8 0 1 0 -5.6 0M1739.4 100.2a2.8 2.8 0 1 0 5.6 0a2.8 2.8 0 1 0 -5.6 0M1741.7 100.2a2.8 2.8 0 1 0 5.6 0a2.8 2.8 0 1 0 -5.6 0M1743.9 100.2a2.8 2.8 0 1 0 5.6 0a2.8 2.8 0 1 0 -5.6 0M1746.2 100.2a2.8 2.8 0 1 0 5.6 0a2.8 2.8 0 1 0 -5.6 0M1748.5 100.2a2.8 2.8 0 1 0 5.6 0a2.8 2.8 0 1 0 -5.6 0M1750.8 100.2a2.8 2.8 0 1 0 5.6 0a2.8 2.8 0 1 0 -5.6 0M1753 100.2a2.8 2.8 0 1 0 5.6 0a2.8 2.8 0 1 0 -5.6 0M1755.3 100.2a2.8 2.8 0 1 0 5.6 0a2.8 2.8 0 1 0 -5.6 0M1757.6 100.2a2.8 2.8 0 1 0 5.6 0a2.8 2.8 0 1 0 -5.6 0M1759.9 100.2a2.8 2.8 0 1 0 5.6 0a2.8 2.8 0 1 0 -5.6 0M1762.2 100.2a2.8 2.8 0 1 0 5.6 0a2.8 2.8 0 1 0 -5.6 0M1764.4 100.2a2.8 2.8 0 1 0 5.6 0a2.8 2.8 0 1 0 -5.6 0M1766.7 100.2a2.8 2.8 0 1 0 5.6 0a2.8 2.8 0 1 0 -5.6 0M1769 100.2a2.8 2.8 0 1 0 5.6 0a2.8 2.8 0 1 0 -5.6 0M1771.3 100.2a2.8 2.8 0 1 0 5.6 0a2.8 2.8 0 1 0 -5.6 0M1773.6 100.2a2.8 2.8 0 1 0 5.6 0a2.8 2.8 0 1 0 -5.6 0M1775.8 100.2a2.8 2.8 0 1 0 5.6 0a2.8 2.8 0 1 0 -5.6 0M1778.1 100.2a2.8 2.8 0 1 0 5.6 0a2.8 2.8 0 1 0 -5.6 0M1780.4 100.2a2.8 2.8 0 1 0 5.6 0a2.8 2.8 0 1 0 -5.6 0M1782.7 100.2a2.8 2.8 0 1 0 5.6 0a2.8 2.8 0 1 0 -5.6 0M1785 100.2a2.8 2.8 0 1 0 5.6 0a2.8 2.8 0 1 0 -5.6 0M1787.2 100.2a2.8 2.8 0 1 0 5.6 0a2.8 2.8 0 1 0 -5.6 0M1789.5 100.2a2.8 2.8 0 1 0 5.6 0a2.8 2.8 0 1 0 -5.6 0M1791.8 100.2a2.8 2.8 0 1 0 5.6 0a2.8 2.8 0 1 0 -5.6 0M1794.1 100.2a2.8 2.8 0 1 0 5.6 0a2.8 2.8 0 1 0 -5.6 0M1796.4 100.2a2.8 2.8 0 1 0 5.6 0a2.8 2.8 0 1 0 -5.6 0M1798.6 100.2a2.8 2.8 0 1 0 5.6 0a2.8 2.8 0 1 0 -5.6 0M1800.9 100.2a2.8 2.8 0 1 0 5.6 0a2.8 2.8 0 1 0 -5.6 0M1803.2 100.2a2.8 2.8 0 1 0 5.6 0a2.8 2.8 0 1 0 -5.6 0M1805.5 100.2a2.8 2.8 0 1 0 5.6 0a2.8 2.8 0 1 0 -5.6 0M1807.8 100.2a2.8 2.8 0 1 0 5.6 0a2.8 2.8 0 1 0 -5.6 0M1810 100.2a2.8 2.8 0 1 0 5.6 0a2.8 2.8 0 1 0 -5.6 0M1812.3 100.2a2.8 2.8 0 1 0 5.6 0a2.8 2.8 0 1 0 -5.6 0M1814.6 100.2a2.8 2.8 0 1 0 5.6 0a2.8 2.8 0 1 0 -5.6 0M1816.9 100.2a2.8 2.8 0 1 0 5.6 0a2.8 2.8 0 1 0 -5.6 0M1819.1 100.2a2.8 2.8 0 1 0 5.6 0a2.8 2.8 0 1 0 -5.6 0M1821.4 100.2a2.8 2.8 0 1 0 5.6 0a2.8 2.8 0 1 0 -5.6 0M1823.7 100.2a2.8 2.8 0 1 0 5.6 0a2.8 2.8 0 1 0 -5.6 0M1826 100.2a2.8 2.8 0 1 0 5.6 0a2.8 2.8 0 1 0 -5.6 0M1828.3 100.2a2.8 2.8 0 1 0 5.6 0a2.8 2.8 0 1 0 -5.6 0M1830.5 100.2a2.8 2.8 0 1 0 5.6 0a2.8 2.8 0 1 0 -5.6 0M1832.8 100.2a2.8 2.8 0 1 0 5.6 0a2.8 2.8 0 1 0 -5.6 0M1835.1 100.2a2.8 2.8 0 1 0 5.6 0a2.8 2.8 0 1 0 -5.6 0M1837.4 100.2a2.8 2.8 0 1 0 5.6 0a2.8 2.8 0 1 0 -5.6 0M1839.7 100.2a2.8 2.8 0 1 0 5.6 0a2.8 2.8 0 1 0 -5.6 0M1841.9 100.2a2.8 2.8 0 1 0 5.6 0a2.8 2.8 0 1 0 -5.6 0M1844.2 100.2a2.8 2.8 0 1 0 5.6 0a2.8 2.8 0 1 0 -5.6 0M1846.5 100.2a2.8 2.8 0 1 0 5.6 0a2.8 2.8 0 1 0 -5.6 0M1848.8 100.2a2.8 2.8 0 1 0 5.6 0a2.8 2.8 0 1 0 -5.6 0M1851.1 100.2a2.8 2.8 0 1 0 5.6 0a2.8 2.8 0 1 0 -5.6 0M1853.3 100.2a2.8 2.8 0 1 0 5.6 0a2.8 2.8 0 1 0 -5.6 0M1855.6 100.2a2.8 2.8 0 1 0 5.6 0a2.8 2.8 0 1 0 -5.6 0M1857.9 100.2a2.8 2.8 0 1 0 5.6 0a2.8 2.8 0 1 0 -5.6 0M1860.2 100.2a2.8 2.8 0 1 0 5.6 0a2.8 2.8 0 1 0 -5.6 0M1862.5 100.2a2.8 2.8 0 1 0 5.6 0a2.8 2.8 0 1 0 -5.6 0M1864.7 100.2a2.8 2.8 0 1 0 5.6 0a2.8 2.8 0 1 0 -5.6 0M1867 100.2a2.8 2.8 0 1 0 5.6 0a2.8 2.8 0 1 0 -5.6 0" fill="#00009b"/>
<path d="M1626 333.1 L1633.8 333.1 L1634.6 325 L1635.5 315.1 L1636.4 305.1 L1637.3 295.2 L1638.2 285.3 L1639.1 275.3 L1640 265.4 L1640.9 255.5 L1641.8 245.6 L1642.7 235.6 L1643.6 225.7 L1644.5 215.8 L1645.4 205.8 L1646.3 195.9 L1647.2 186 L1648.1 176 L1649 166.1 L1649.8 156.2 L1650.7 146.2 L1651.6 136.3 L1652.5 126.4 L1653.2 116.6 L1653.7 109.2 L1654.3 103.9 L1654.8 100.7 L1655.3 99.7 L1657.6 99.7 L1659.9 99.7 L1662.1 99.7 L1664.4 99.7 L1666.7 99.7 L1669 99.7 L1671.3 99.7 L1673.5 99.7 L1675.8 99.7 L1678.1 99.7 L1680.4 99.7 L1682.7 99.7 L1684.9 99.7 L1687.2 99.7 L1689.5 99.7 L1691.8 99.7 L1694.1 99.7 L1696.3 99.7 L1698.6 99.7 L1700.9 99.7 L1703.2 99.7 L1705.4 99.7 L1707.7 99.7 L1710 99.7 L1712.3 99.7 L1714.6 99.7 L1716.8 99.7 L1719.1 99.7 L1721.4 99.7 L1723.7 99.7 L1726 99.7 L1728.2 99.7 L1730.5 99.7 L1732.8 99.7 L1735.1 99.7 L1737.4 99.7 L1739.6 99.7 L1741.9 99.7 L1744.2 99.7 L1746.5 99.7 L1748.8 99.7 L1751 99.7 L1753.3 99.7 L1755.6 99.7 L1757.9 99.7 L1760.1 99.7 L1762.4 99.7 L1764.7 99.7 L1767 99.7 L1769.3 99.7 L1771.5 99.7 L1773.8 99.7 L1776.1 99.7 L1778.4 99.7 L1780.7 99.7 L1782.9 99.7 L1785.2 99.7 L1787.5 99.7 L1789.8 99.7 L1792.1 99.7 L1794.3 99.7 L1796.6 99.7 L1798.9 99.7 L1801.2 99.7 L1803.5 99.7 L1805.7 99.7 L1808 99.7 L1810.3 99.7 L1812.6 99.7 L1814.8 99.7 L1817.1 99.7 L1819.4 99.7 L1821.7 99.7 L1824 99.7 L1826.2 99.7 L1828.5 99.7 L1830.8 99.7 L1833.1 99.7 L1835.4 99.7 L1837.6 99.7 L1839.9 99.7 L1842.2 99.7 L1844.5 99.7 L1846.8 99.7 L1849 99.7 L1851.3 99.7 L1853.6 99.7 L1855.9 99.7 L1858.2 99.7 L1860.4 99.7 L1862.7 99.7 L1865 99.7 L1867.3 99.7 L1869.5 99.7" fill="none" stroke="#0000a9" stroke-width="1"/>
<path d="M1629.7 332.7a2.8 2.8 0 1 0 5.6 0a2.8 2.8 0 1 0 -5.6 0M1627.1 332.7a2.8 2.8 0 1 0 5.6 0a2.8 2.8 0 1 0 -5.6 0M1624.5 332.7a2.8 2.8 0 1 0 5.6 0a2.8 2.8 0 1 0 -5.6 0M1631.8 325a2.8 2.8 0 1 0 5.6 0a2.8 2.8 0 1 0 -5.6 0M1632.7 315.1a2.8 2.8 0 1 0 5.6 0a2.8 2.8 0 1 0 -5.6 0M1633.6 305.1a2.8 2.8 0 1 0 5.6 0a2.8 2.8 0 1 0 -5.6 0M1634.5 295.2a2.8 2.8 0 1 0 5.6 0a2.8 2.8 0 1 0 -5.6 0M1635.4 285.3a2.8 2.8 0 1 0 5.6 0a2.8 2.8 0 1 0 -5.6 0M1636.3 275.3a2.8 2.8 0 1 0 5.6 0a2.8 2.8 0 1 0 -5.6 0M1637.2 265.4a2.8 2.8 0 1 0 5.6 0a2.8 2.8 0 1 0 -5.6 0M1638.1 255.5a2.8 2.8 0 1 0 5.6 0a2.8 2.8 0 1 0 -5.6 0M1639 245.6a2.8 2.8 0 1 0 5.6 0a2.8 2.8 0 1 0 -5.6 0M1639.9 235.6a2.8 2.8 0 1 0 5.6 0a2.8 2.8 0 1 0 -5.6 0M1640.8 225.7a2.8 2.8 0 1 0 5.6 0a2.8 2.8 0 1 0 -5.6 0M1641.7 215.8a2.8 2.8 0 1 0 5.6 0a2.8 2.8 0 1 0 -5.6 0M1642.6 205.8a2.8 2.8 0 1 0 5.6 0a2.8 2.8 0 1 0 -5.6 0M1643.5 195.9a2.8 2.8 0 1 0 5.6 0a2.8 2.8 0 1 0 -5.6 0M1644.4 186a2.8 2.8 0 1 0 5.6 0a2.8 2.8 0 1 0 -5.6 0M1645.3 176a2.8 2.8 0 1 0 5.6 0a2.8 2.8 0 1 0 -5.6 0M1646.2 166.1a2.8 2.8 0 1 0 5.6 0a2.8 2.8 0 1 0 -5.6 0M1647 156.2a2.8 2.8 0 1 0 5.6 0a2.8 2.8 0 1 0 -5.6 0M1647.9 146.2a2.8 2.8 0 1 0 5.6 0a2.8 2.8 0 1 0 -5.6 0M1648.8 136.3a2.8 2.8 0 1 0 5.6 0a2.8 2.8 0 1 0 -5.6 0M1649.7 126.4a2.8 2.8 0 1 0 5.6 0a2.8 2.8 0 1 0 -5.6 0M1650.9 109.2a2.8 2.8 0 1 0 5.6 0a2.8 2.8 0 1 0 -5.6 0M1652 100.7a2.8 2.8 0 1 0 5.6 0a2.8 2.8 0 1 0 -5.6 0M1654.8 99.7a2.8 2.8 0 1 0 5.6 0a2.8 2.8 0 1 0 -5.6 0M1657.1 99.7a2.8 2.8 0 1 0 5.6 0a2.8 2.8 0 1 0 -5.6 0M1659.3 99.7a2.8 2.8 0 1 0 5.6 0a2.8 2.8 0 1 0 -5.6 0M1661.6 99.7a2.8 2.8 0 1 0 5.6 0a2.8 2.8 0 1 0 -5.6 0M1663.9 99.7a2.8 2.8 0 1 0 5.6 0a2.8 2.8 0 1 0 -5.6 0M1666.2 99.7a2.8 2.8 0 1 0 5.6 0a2.8 2.8 0 1 0 -5.6 0M1668.5 99.7a2.8 2.8 0 1 0 5.6 0a2.8 2.8 0 1 0 -5.6 0M1670.7 99.7a2.8 2.8 0 1 0 5.6 0a2.8 2.8 0 1 0 -5.6 0M1673 99.7a2.8 2.8 0 1 0 5.6 0a2.8 2.8 0 1 0 -5.6 0M1675.3 99.7a2.8 2.8 0 1 0 5.6 0a2.8 2.8 0 1 0 -5.6 0M1677.6 99.7a2.8 2.8 0 1 0 5.6 0a2.8 2.8 0 1 0 -5.6 0M1679.9 99.7a2.8 2.8 0 1 0 5.6 0a2.8 2.8 0 1 0 -5.6 0M1682.1 99.7a2.8 2.8 0 1 0 5.6 0a2.8 2.8 0 1 0 -5.6 0M1684.4 99.7a2.8 2.8 0 1 0 5.6 0a2.8 2.8 0 1 0 -5.6 0M1686.7 99.7a2.8 2.8 0 1 0 5.6 0a2.8 2.8 0 1 0 -5.6 0M1689 99.7a2.8 2.8 0 1 0 5.6 0a2.8 2.8 0 1 0 -5.6 0M1691.3 99.7a2.8 2.8 0 1 0 5.6 0a2.8 2.8 0 1 0 -5.6 0M1693.5 99.7a2.8 2.8 0 1 0 5.6 0a2.8 2.8 0 1 0 -5.6 0M1695.8 99.7a2.8 2.8 0 1 0 5.6 0a2.8 2.8 0 1 0 -5.6 0M1698.1 99.7a2.8 2.8 0 1 0 5.6 0a2.8 2.8 0 1 0 -5.6 0M1700.4 99.7a2.8 2.8 0 1 0 5.6 0a2.8 2.8 0 1 0 -5.6 0M1702.6 99.7a2.8 2.8 0 1 0 5.6 0a2.8 2.8 0 1 0 -5.6 0M1704.9 99.7a2.8 2.8 0 1 0 5.6 0a2.8 2.8 0 1 0 -5.6 0M1707.2 99.7a2.8 2.8 0 1 0 5.6 0a2.8 2.8 0 1 0 -5.6 0M1709.5 99.7a2.8 2.8 0 1 0 5.6 0a2.8 2.8 0 1 0 -5.6 0M1711.8 99.7a2.8 2.8 0 1 0 5.6 0a2.8 2.8 0 1 0 -5.6 0M1714 99.7a2.8 2.8 0 1 0 5.6 0a2.8 2.8 0 1 0 -5.6 0M1716.3 99.7a2.8 2.8 0 1 0 5.6 0a2.8 2.8 0 1 0 -5.6 0M1718.6 99.7a2.8 2.8 0 1 0 5.6 0a2.8 2.8 0 1 0 -5.6 0M1720.9 99.7a2.8 2.8 0 1 0 5.6 0a2.8 2.8 0 1 0 -5.6 0M1723.2 99.7a2.8 2.8 0 1 0 5.6 0a2.8 2.8 0 1 0 -5.6 0M1725.4 99.7a2.8 2.8 0 1 0 5.6 0a2.8 2.8 0 1 0 -5.6 0M1727.7 99.7a2.8 2.8 0 1 0 5.6 0a2.8 2.8 0 1 0 -5.6 0M1730 99.7a2.8 2.8 0 1 0 5.6 0a2.8 2.8 0 1 0 -5.6 0M1732.3 99.7a2.8 2.8 0 1 0 5.6 0a2.8 2.8 0 1 0 -5.6 0M1734.6 99.7a2.8 2.8 0 1 0 5.6 0a2.8 2.8 0 1 0 -5.6 0M1736.8 99.7a2.8 2.8 0 1 0 5.6 0a2.8 2.8 0 1 0 -5.6 0M1739.1 99.7a2.8 2.8 0 1 0 5.6 0a2.8 2.8 0 1 0 -5.6 0M1741.4 99.7a2.8 2.8 0 1 0 5.6 0a2.8 2.8 0 1 0 -5.6 0M1743.7 99.7a2.8 2.8 0 1 0 5.6 0a2.8 2.8 0 1 0 -5.6 0M1746 99.7a2.8 2.8 0 1 0 5.6 0a2.8 2.8 0 1 0 -5.6 0M1748.2 99.7a2.8 2.8 0 1 0 5.6 0a2.8 2.8 0 1 0 -5.6 0M1750.5 99.7a2.8 2.8 0 1 0 5.6 0a2.8 2.8 0 1 0 -5.6 0M1752.8 99.7a2.8 2.8 0 1 0 5.6 0a2.8 2.8 0 1 0 -5.6 0M1755.1 99.7a2.8 2.8 0 1 0 5.6 0a2.8 2.8 0 1 0 -5.6 0M1757.3 99.7a2.8 2.8 0 1 0 5.6 0a2.8 2.8 0 1 0 -5.6 0M1759.6 99.7a2.8 2.8 0 1 0 5.6 0a2.8 2.8 0 1 0 -5.6 0M1761.9 99.7a2.8 2.8 0 1 0 5.6 0a2.8 2.8 0 1 0 -5.6 0M1764.2 99.7a2.8 2.8 0 1 0 5.6 0a2.8 2.8 0 1 0 -5.6 0M1766.5 99.7a2.8 2.8 0 1 0 5.6 0a2.8 2.8 0 1 0 -5.6 0M1768.7 99.7a2.8 2.8 0 1 0 5.6 0a2.8 2.8 0 1 0 -5.6 0M1771 99.7a2.8 2.8 0 1 0 5.6 0a2.8 2.8 0 1 0 -5.6 0M1773.3 99.7a2.8 2.8 0 1 0 5.6 0a2.8 2.8 0 1 0 -5.6 0M1775.6 99.7a2.8 2.8 0 1 0 5.6 0a2.8 2.8 0 1 0 -5.6 0M1777.9 99.7a2.8 2.8 0 1 0 5.6 0a2.8 2.8 0 1 0 -5.6 0M1780.1 99.7a2.8 2.8 0 1 0 5.6 0a2.8 2.8 0 1 0 -5.6 0M1782.4 99.7a2.8 2.8 0 1 0 5.6 0a2.8 2.8 0 1 0 -5.6 0M1784.7 99.7a2.8 2.8 0 1 0 5.6 0a2.8 2.8 0 1 0 -5.6 0M1787 99.7a2.8 2.8 0 1 0 5.6 0a2.8 2.8 0 1 0 -5.6 0M1789.3 99.7a2.8 2.8 0 1 0 5.6 0a2.8 2.8 0 1 0 -5.6 0M1791.5 99.7a2.8 2.8 0 1 0 5.6 0a2.8 2.8 0 1 0 -5.6 0M1793.8 99.7a2.8 2.8 0 1 0 5.6 0a2.8 2.8 0 1 0 -5.6 0M1796.1 99.7a2.8 2.8 0 1 0 5.6 0a2.8 2.8 0 1 0 -5.6 0M1798.4 99.7a2.8 2.8 0 1 0 5.6 0a2.8 2.8 0 1 0 -5.6 0M1800.7 99.7a2.8 2.8 0 1 0 5.6 0a2.8 2.8 0 1 0 -5.6 0M1802.9 99.7a2.8 2.8 0 1 0 5.6 0a2.8 2.8 0 1 0 -5.6 0M1805.2 99.7a2.8 2.8 0 1 0 5.6 0a2.8 2.8 0 1 0 -5.6 0M1807.5 99.7a2.8 2.8 0 1 0 5.6 0a2.8 2.8 0 1 0 -5.6 0M1809.8 99.7a2.8 2.8 0 1 0 5.6 0a2.8 2.8 0 1 0 -5.6 0M1812 99.7a2.8 2.8 0 1 0 5.6 0a2.8 2.8 0 1 0 -5.6 0M1814.3 99.7a2.8 2.8 0 1 0 5.6 0a2.8 2.8 0 1 0 -5.6 0M1816.6 99.7a2.8 2.8 0 1 0 5.6 0a2.8 2.8 0 1 0 -5.6 0M1818.9 99.7a2.8 2.8 0 1 0 5.6 0a2.8 2.8 0 1 0 -5.6 0M1821.2 99.7a2.8 2.8 0 1 0 5.6 0a2.8 2.8 0 1 0 -5.6 0M1823.4 99.7a2.8 2.8 0 1 0 5.6 0a2.8 2.8 0 1 0 -5.6 0M1825.7 99.7a2.8 2.8 0 1 0 5.6 0a2.8 2.8 0 1 0 -5.6 0M1828 99.7a2.8 2.8 0 1 0 5.6 0a2.8 2.8 0 1 0 -5.6 0M1830.3 99.7a2.8 2.8 0 1 0 5.6 0a2.8 2.8 0 1 0 -5.6 0M1832.6 99.7a2.8 2.8 0 1 0 5.6 0a2.8 2.8 0 1 0 -5.6 0M1834.8 99.7a2.8 2.8 0 1 0 5.6 0a2.8 2.8 0 1 0 -5.6 0M1837.1 99.7a2.8 2.8 0 1 0 5.6 0a2.8 2.8 0 1 0 -5.6 0M1839.4 99.7a2.8 2.8 0 1 0 5.6 0a2.8 2.8 0 1 0 -5.6 0M1841.7 99.7a2.8 2.8 0 1 0 5.6 0a2.8 2.8 0 1 0 -5.6 0M1844 99.7a2.8 2.8 0 1 0 5.6 0a2.8 2.8 0 1 0 -5.6 0M1846.2 99.7a2.8 2.8 0 1 0 5.6 0a2.8 2.8 0 1 0 -5.6 0M1848.5 99.7a2.8 2.8 0 1 0 5.6 0a2.8 2.8 0 1 0 -5.6 0M1850.8 99.7a2.8 2.8 0 1 0 5.6 0a2.8 2.8 0 1 0 -5.6 0M1853.1 99.7a2.8 2.8 0 1 0 5.6 0a2.8 2.8 0 1 0 -5.6 0M1855.4 99.7a2.8 2.8 0 1 0 5.6 0a2.8 2.8 0 1 0 -5.6 0M1857.6 99.7a2.8 2.8 0 1 0 5.6 0a2.8 2.8 0 1 0 -5.6 0M1859.9 99.7a2.8 2.8 0 1 0 5.6 0a2.8 2.8 0 1 0 -5.6 0M1862.2 99.7a2.8 2.8 0 1 0 5.6 0a2.8 2.8 0 1 0 -5.6 0M1864.5 99.7a2.8 2.8 0 1 0 5.6 0a2.8 2.8 0 1 0 -5.6 0M1866.7 99.7a2.8 2.8 0 1 0 5.6 0a2.8 2.8 0 1 0 -5.6 0" fill="#0000a9"/>
<path d="M1619.3 333.1 L1627.1 333.1 L1627.9 324.6 L1628.6 314.7 L1629.4 304.7 L1630.2 294.8 L1631 284.9 L1631.8 275 L1632.5 265 L1633.3 255.1 L1634.1 245.2 L1634.9 235.2 L1635.7 225.3 L1636.4 215.4 L1637.2 205.4 L1638 195.5 L1638.8 185.6 L1639.5 175.6 L1640.3 165.7 L1641.1 155.8 L1641.9 145.8 L1642.7 135.9 L1643.4 126 L1644 116.1 L1644.5 108.7 L1645 103.4 L1645.5 100.2 L1646 99.1 L1648.2 99.1 L1650.5 99.1 L1652.8 99.1 L1655.1 99.1 L1657.4 99.1 L1659.6 99.1 L1661.9 99.1 L1664.2 99.1 L1666.5 99.1 L1668.7 99.1 L1671 99.1 L1673.3 99.1 L1675.6 99.1 L1677.9 99.1 L1680.1 99.1 L1682.4 99.1 L1684.7 99.1 L1687 99.1 L1689.3 99.1 L1691.5 99.1 L1693.8 99.1 L1696.1 99.1 L1698.4 99.1 L1700.7 99.1 L1702.9 99.1 L1705.2 99.1 L1707.5 99.1 L1709.8 99.1 L1712.1 99.1 L1714.3 99.1 L1716.6 99.1 L1718.9 99.1 L1721.2 99.1 L1723.4 99.1 L1725.7 99.1 L1728 99.1 L1730.3 99.1 L1732.6 99.1 L1734.8 99.1 L1737.1 99.1 L1739.4 99.1 L1741.7 99.1 L1744 99.1 L1746.2 99.1 L1748.5 99.1 L1750.8 99.1 L1753.1 99.1 L1755.4 99.1 L1757.6 99.1 L1759.9 99.1 L1762.2 99.1 L1764.5 99.1 L1766.8 99.1 L1769 99.1 L1771.3 99.1 L1773.6 99.1 L1775.9 99.1 L1778.1 99.1 L1780.4 99.1 L1782.7 99.1 L1785 99.1 L1787.3 99.1 L1789.5 99.1 L1791.8 99.1 L1794.1 99.1 L1796.4 99.1 L1798.7 99.1 L1800.9 99.1 L1803.2 99.1 L1805.5 99.1 L1807.8 99.1 L1810.1 99.1 L1812.3 99.1 L1814.6 99.1 L1816.9 99.1 L1819.2 99.1 L1821.5 99.1 L1823.7 99.1 L1826 99.1 L1828.3 99.1 L1830.6 99.1 L1832.8 99.1 L1835.1 99.1 L1837.4 99.1 L1839.7 99.1 L1842 99.1 L1844.2 99.1 L1846.5 99.1 L1848.8 99.1 L1851.1 99.1 L1853.4 99.1 L1855.6 99.1 L1857.9 99.1 L1860.2 99.1 L1862.5 99.1 L1864.8 99.1 L1867 99.1 L1869.3 99.1 L1871.6 99.1" fill="none" stroke="#0000b7" stroke-width="1"/>
<path d="M1623 332.7a2.8 2.8 0 1 0 5.6 0a2.8 2.8 0 1 0 -5.6 0M1620.4 332.7a2.8 2.8 0 1 0 5.6 0a2.8 2.8 0 1 0 -5.6 0M1617.8 332.7a2.8 2.8 0 1 0 5.6 0a2.8 2.8 0 1 0 -5.6 0M1625.1 324.6a2.8 2.8 0 1 0 5.6 0a2.8 2.8 0 1 0 -5.6 0M1625.8 314.7a2.8 2.8 0 1 0 5.6 0a2.8 2.8 0 1 0 -5.6 0M1626.6 304.7a2.8 2.8 0 1 0 5.6 0a2.8 2.8 0 1 0 -5.6 0M1627.4 294.8a2.8 2.8 0 1 0 5.6 0a2.8 2.8 0 1 0 -5.6 0M1628.2 284.9a2.8 2.8 0 1 0 5.6 0a2.8 2.8 0 1 0 -5.6 0M1629 275a2.8 2.8 0 1 0 5.6 0a2.8 2.8 0 1 0 -5.6 0M1629.7 265a2.8 2.8 0 1 0 5.6 0a2.8 2.8 0 1 0 -5.6 0M1630.5 255.1a2.8 2.8 0 1 0 5.6 0a2.8 2.8 0 1 0 -5.6 0M1631.3 245.2a2.8 2.8 0 1 0 5.6 0a2.8 2.8 0 1 0 -5.6 0M1632.1 235.2a2.8 2.8 0 1 0 5.6 0a2.8 2.8 0 1 0 -5.6 0M1632.9 225.3a2.8 2.8 0 1 0 5.6 0a2.8 2.8 0 1 0 -5.6 0M1633.6 215.4a2.8 2.8 0 1 0 5.6 0a2.8 2.8 0 1 0 -5.6 0M1634.4 205.4a2.8 2.8 0 1 0 5.6 0a2.8 2.8 0 1 0 -5.6 0M1635.2 195.5a2.8 2.8 0 1 0 5.6 0a2.8 2.8 0 1 0 -5.6 0M1636 185.6a2.8 2.8 0 1 0 5.6 0a2.8 2.8 0 1 0 -5.6 0M1636.7 175.6a2.8 2.8 0 1 0 5.6 0a2.8 2.8 0 1 0 -5.6 0M1637.5 165.7a2.8 2.8 0 1 0 5.6 0a2.8 2.8 0 1 0 -5.6 0M1638.3 155.8a2.8 2.8 0 1 0 5.6 0a2.8 2.8 0 1 0 -5.6 0M1639.1 145.8a2.8 2.8 0 1 0 5.6 0a2.8 2.8 0 1 0 -5.6 0M1639.9 135.9a2.8 2.8 0 1 0 5.6 0a2.8 2.8 0 1 0 -5.6 0M1640.6 126a2.8 2.8 0 1 0 5.6 0a2.8 2.8 0 1 0 -5.6 0M1641.7 108.7a2.8 2.8 0 1 0 5.6 0a2.8 2.8 0 1 0 -5.6 0M1642.7 100.2a2.8 2.8 0 1 0 5.6 0a2.8 2.8 0 1 0 -5.6 0M1645.4 99.1a2.8 2.8 0 1 0 5.6 0a2.8 2.8 0 1 0 -5.6 0M1647.7 99.1a2.8 2.8 0 1 0 5.6 0a2.8 2.8 0 1 0 -5.6 0M1650 99.1a2.8 2.8 0 1 0 5.6 0a2.8 2.8 0 1 0 -5.6 0M1652.3 99.1a2.8 2.8 0 1 0 5.6 0a2.8 2.8 0 1 0 -5.6 0M1654.6 99.1a2.8 2.8 0 1 0 5.6 0a2.8 2.8 0 1 0 -5.6 0M1656.8 99.1a2.8 2.8 0 1 0 5.6 0a2.8 2.8 0 1 0 -5.6 0M1659.1 99.1a2.8 2.8 0 1 0 5.6 0a2.8 2.8 0 1 0 -5.6 0M1661.4 99.1a2.8 2.8 0 1 0 5.6 0a2.8 2.8 0 1 0 -5.6 0M1663.7 99.1a2.8 2.8 0 1 0 5.6 0a2.8 2.8 0 1 0 -5.6 0M1665.9 99.1a2.8 2.8 0 1 0 5.6 0a2.8 2.8 0 1 0 -5.6 0M1668.2 99.1a2.8 2.8 0 1 0 5.6 0a2.8 2.8 0 1 0 -5.6 0M1670.5 99.1a2.8 2.8 0 1 0 5.6 0a2.8 2.8 0 1 0 -5.6 0M1672.8 99.1a2.8 2.8 0 1 0 5.6 0a2.8 2.8 0 1 0 -5.6 0M1675.1 99.1a2.8 2.8 0 1 0 5.6 0a2.8 2.8 0 1 0 -5.6 0M1677.3 99.1a2.8 2.8 0 1 0 5.6 0a2.8 2.8 0 1 0 -5.6 0M1679.6 99.1a2.8 2.8 0 1 0 5.6 0a2.8 2.8 0 1 0 -5.6 0M1681.9 99.1a2.8 2.8 0 1 0 5.6 0a2.8 2.8 0 1 0 -5.6 0M1684.2 99.1a2.8 2.8 0 1 0 5.6 0a2.8 2.8 0 1 0 -5.6 0M1686.5 99.1a2.8 2.8 0 1 0 5.6 0a2.8 2.8 0 1 0 -5.6 0M1688.7 99.1a2.8 2.8 0 1 0 5.6 0a2.8 2.8 0 1 0 -5.6 0M1691 99.1a2.8 2.8 0 1 0 5.6 0a2.8 2.8 0 1 0 -5.6 0M1693.3 99.1a2.8 2.8 0 1 0 5.6 0a2.8 2.8 0 1 0 -5.6 0M1695.6 99.1a2.8 2.8 0 1 0 5.6 0a2.8 2.8 0 1 0 -5.6 0M1697.9 99.1a2.8 2.8 0 1 0 5.6 0a2.8 2.8 0 1 0 -5.6 0M1700.1 99.1a2.8 2.8 0 1 0 5.6 0a2.8 2.8 0 1 0 -5.6 0M1702.4 99.1a2.8 2.8 0 1 0 5.6 0a2.8 2.8 0 1 0 -5.6 0M1704.7 99.1a2.8 2.8 0 1 0 5.6 0a2.8 2.8 0 1 0 -5.6 0M1707 99.1a2.8 2.8 0 1 0 5.6 0a2.8 2.8 0 1 0 -5.6 0M1709.3 99.1a2.8 2.8 0 1 0 5.6 0a2.8 2.8 0 1 0 -5.6 0M1711.5 99.1a2.8 2.8 0 1 0 5.6 0a2.8 2.8 0 1 0 -5.6 0M1713.8 99.1a2.8 2.8 0 1 0 5.6 0a2.8 2.8 0 1 0 -5.6 0M1716.1 99.1a2.8 2.8 0 1 0 5.6 0a2.8 2.8 0 1 0 -5.6 0M1718.4 99.1a2.8 2.8 0 1 0 5.6 0a2.8 2.8 0 1 0 -5.6 0M1720.6 99.1a2.8 2.8 0 1 0 5.6 0a2.8 2.8 0 1 0 -5.6 0M1722.9 99.1a2.8 2.8 0 1 0 5.6 0a2.8 2.8 0 1 0 -5.6 0M1725.2 99.1a2.8 2.8 0 1 0 5.6 0a2.8 2.8 0 1 0 -5.6 0M1727.5 99.1a2.8 2.8 0 1 0 5.6 0a2.8 2.8 0 1 0 -5.6 0M1729.8 99.1a2.8 2.8 0 1 0 5.6 0a2.8 2.8 0 1 0 -5.6 0M1732 99.1a2.8 2.8 0 1 0 5.6 0a2.8 2.8 0 1 0 -5.6 0M1734.3 99.1a2.8 2.8 0 1 0 5.6 0a2.8 2.8 0 1 0 -5.6 0M1736.6 99.1a2.8 2.8 0 1 0 5.6 0a2.8 2.8 0 1 0 -5.6 0M1738.9 99.1a2.8 2.8 0 1 0 5.6 0a2.8 2.8 0 1 0 -5.6 0M1741.2 99.1a2.8 2.8 0 1 0 5.6 0a2.8 2.8 0 1 0 -5.6 0M1743.4 99.1a2.8 2.8 0 1 0 5.6 0a2.8 2.8 0 1 0 -5.6 0M1745.7 99.1a2.8 2.8 0 1 0 5.6 0a2.8 2.8 0 1 0 -5.6 0M1748 99.1a2.8 2.8 0 1 0 5.6 0a2.8 2.8 0 1 0 -5.6 0M1750.3 99.1a2.8 2.8 0 1 0 5.6 0a2.8 2.8 0 1 0 -5.6 0M1752.6 99.1a2.8 2.8 0 1 0 5.6 0a2.8 2.8 0 1 0 -5.6 0M1754.8 99.1a2.8 2.8 0 1 0 5.6 0a2.8 2.8 0 1 0 -5.6 0M1757.1 99.1a2.8 2.8 0 1 0 5.6 0a2.8 2.8 0 1 0 -5.6 0M1759.4 99.1a2.8 2.8 0 1 0 5.6 0a2.8 2.8 0 1 0 -5.6 0M1761.7 99.1a2.8 2.8 0 1 0 5.6 0a2.8 2.8 0 1 0 -5.6 0M1764 99.1a2.8 2.8 0 1 0 5.6 0a2.8 2.8 0 1 0 -5.6 0M1766.2 99.1a2.8 2.8 0 1 0 5.6 0a2.8 2.8 0 1 0 -5.6 0M1768.5 99.1a2.8 2.8 0 1 0 5.6 0a2.8 2.8 0 1 0 -5.6 0M1770.8 99.1a2.8 2.8 0 1 0 5.6 0a2.8 2.8 0 1 0 -5.6 0M1773.1 99.1a2.8 2.8 0 1 0 5.6 0a2.8 2.8 0 1 0 -5.6 0M1775.3 99.1a2.8 2.8 0 1 0 5.6 0a2.8 2.8 0 1 0 -5.6 0M1777.6 99.1a2.8 2.8 0 1 0 5.6 0a2.8 2.8 0 1 0 -5.6 0M1779.9 99.1a2.8 2.8 0 1 0 5.6 0a2.8 2.8 0 1 0 -5.6 0M1782.2 99.1a2.8 2.8 0 1 0 5.6 0a2.8 2.8 0 1 0 -5.6 0M1784.5 99.1a2.8 2.8 0 1 0 5.6 0a2.8 2.8 0 1 0 -5.6 0M1786.7 99.1a2.8 2.8 0 1 0 5.6 0a2.8 2.8 0 1 0 -5.6 0M1789 99.1a2.8 2.8 0 1 0 5.6 0a2.8 2.8 0 1 0 -5.6 0M1791.3 99.1a2.8 2.8 0 1 0 5.6 0a2.8 2.8 0 1 0 -5.6 0M1793.6 99.1a2.8 2.8 0 1 0 5.6 0a2.8 2.8 0 1 0 -5.6 0M1795.9 99.1a2.8 2.8 0 1 0 5.6 0a2.8 2.8 0 1 0 -5.6 0M1798.1 99.1a2.8 2.8 0 1 0 5.6 0a2.8 2.8 0 1 0 -5.6 0M1800.4 99.1a2.8 2.8 0 1 0 5.6 0a2.8 2.8 0 1 0 -5.6 0M1802.7 99.1a2.8 2.8 0 1 0 5.6 0a2.8 2.8 0 1 0 -5.6 0M1805 99.1a2.8 2.8 0 1 0 5.6 0a2.8 2.8 0 1 0 -5.6 0M1807.3 99.1a2.8 2.8 0 1 0 5.6 0a2.8 2.8 0 1 0 -5.6 0M1809.5 99.1a2.8 2.8 0 1 0 5.6 0a2.8 2.8 0 1 0 -5.6 0M1811.8 99.1a2.8 2.8 0 1 0 5.6 0a2.8 2.8 0 1 0 -5.6 0M1814.1 99.1a2.8 2.8 0 1 0 5.6 0a2.8 2.8 0 1 0 -5.6 0M1816.4 99.1a2.8 2.8 0 1 0 5.6 0a2.8 2.8 0 1 0 -5.6 0M1818.7 99.1a2.8 2.8 0 1 0 5.6 0a2.8 2.8 0 1 0 -5.6 0M1820.9 99.1a2.8 2.8 0 1 0 5.6 0a2.8 2.8 0 1 0 -5.6 0M1823.2 99.1a2.8 2.8 0 1 0 5.6 0a2.8 2.8 0 1 0 -5.6 0M1825.5 99.1a2.8 2.8 0 1 0 5.6 0a2.8 2.8 0 1 0 -5.6 0M1827.8 99.1a2.8 2.8 0 1 0 5.6 0a2.8 2.8 0 1 0 -5.6 0M1830 99.1a2.8 2.8 0 1 0 5.6 0a2.8 2.8 0 1 0 -5.6 0M1832.3 99.1a2.8 2.8 0 1 0 5.6 0a2.8 2.8 0 1 0 -5.6 0M1834.6 99.1a2.8 2.8 0 1 0 5.6 0a2.8 2.8 0 1 0 -5.6 0M1836.9 99.1a2.8 2.8 0 1 0 5.6 0a2.8 2.8 0 1 0 -5.6 0M1839.2 99.1a2.8 2.8 0 1 0 5.6 0a2.8 2.8 0 1 0 -5.6 0M1841.4 99.1a2.8 2.8 0 1 0 5.6 0a2.8 2.8 0 1 0 -5.6 0M1843.7 99.1a2.8 2.8 0 1 0 5.6 0a2.8 2.8 0 1 0 -5.6 0M1846 99.1a2.8 2.8 0 1 0 5.6 0a2.8 2.8 0 1 0 -5.6 0M1848.3 99.1a2.8 2.8 0 1 0 5.6 0a2.8 2.8 0 1 0 -5.6 0M1850.6 99.1a2.8 2.8 0 1 0 5.6 0a2.8 2.8 0 1 0 -5.6 0M1852.8 99.1a2.8 2.8 0 1 0 5.6 0a2.8 2.8 0 1 0 -5.6 0M1855.1 99.1a2.8 2.8 0 1 0 5.6 0a2.8 2.8 0 1 0 -5.6 0M1857.4 99.1a2.8 2.8 0 1 0 5.6 0a2.8 2.8 0 1 0 -5.6 0M1859.7 99.1a2.8 2.8 0 1 0 5.6 0a2.8 2.8 0 1 0 -5.6 0M1862 99.1a2.8 2.8 0 1 0 5.6 0a2.8 2.8 0 1 0 -5.6 0M1864.2 99.1a2.8 2.8 0 1 0 5.6 0a2.8 2.8 0 1 0 -5.6 0M1866.5 99.1a2.8 2.8 0 1 0 5.6 0a2.8 2.8 0 1 0 -5.6 0M1868.8 99.1a2.8 2.8 0 1 0 5.6 0a2.8 2.8 0 1 0 -5.6 0" fill="#0000b7"/>
<path d="M1612.6 333.1 L1620.4 333.1 L1620.9 327.6 L1621.5 317.7 L1622.2 307.8 L1622.9 297.8 L1623.5 287.9 L1624.2 278 L1624.8 268 L1625.5 258.1 L1626.1 248.2 L1626.8 238.2 L1627.5 228.3 L1628.1 218.4 L1628.8 208.4 L1629.4 198.5 L1630.1 188.6 L1630.7 178.7 L1631.4 168.7 L1632.1 158.8 L1632.7 148.9 L1633.4 138.9 L1634 129 L1634.8 115.6 L1635.3 108.2 L1635.7 102.8 L1636.2 99.6 L1636.6 98.6 L1638.9 98.6 L1641.2 98.6 L1643.4 98.6 L1645.7 98.6 L1648 98.6 L1650.3 98.6 L1652.6 98.6 L1654.8 98.6 L1657.1 98.6 L1659.4 98.6 L1661.7 98.6 L1664 98.6 L1666.2 98.6 L1668.5 98.6 L1670.8 98.6 L1673.1 98.6 L1675.4 98.6 L1677.6 98.6 L1679.9 98.6 L1682.2 98.6 L1684.5 98.6 L1686.7 98.6 L1689 98.6 L1691.3 98.6 L1693.6 98.6 L1695.9 98.6 L1698.1 98.6 L1700.4 98.6 L1702.7 98.6 L1705 98.6 L1707.3 98.6 L1709.5 98.6 L1711.8 98.6 L1714.1 98.6 L1716.4 98.6 L1718.7 98.6 L1720.9 98.6 L1723.2 98.6 L1725.5 98.6 L1727.8 98.6 L1730.1 98.6 L1732.3 98.6 L1734.6 98.6 L1736.9 98.6 L1739.2 98.6 L1741.4 98.6 L1743.7 98.6 L1746 98.6 L1748.3 98.6 L1750.6 98.6 L1752.8 98.6 L1755.1 98.6 L1757.4 98.6 L1759.7 98.6 L1762 98.6 L1764.2 98.6 L1766.5 98.6 L1768.8 98.6 L1771.1 98.6 L1773.4 98.6 L1775.6 98.6 L1777.9 98.6 L1780.2 98.6 L1782.5 98.6 L1784.8 98.6 L1787 98.6 L1789.3 98.6 L1791.6 98.6 L1793.9 98.6 L1796.1 98.6 L1798.4 98.6 L1800.7 98.6 L1803 98.6 L1805.3 98.6 L1807.5 98.6 L1809.8 98.6 L1812.1 98.6 L1814.4 98.6 L1816.7 98.6 L1818.9 98.6 L1821.2 98.6 L1823.5 98.6 L1825.8 98.6 L1828.1 98.6 L1830.3 98.6 L1832.6 98.6 L1834.9 98.6 L1837.2 98.6 L1839.5 98.6 L1841.7 98.6 L1844 98.6 L1846.3 98.6 L1848.6 98.6 L1850.8 98.6 L1853.1 98.6 L1855.4 98.6 L1857.7 98.6 L1860 98.6 L1862.2 98.6 L1864.5 98.6 L1866.8 98.6 L1869.1 98.6 L1871.4 98.6" fill="none" stroke="#0000c5" stroke-width="1"/>
<path d="M1616.3 332.7a2.8 2.8 0 1 0 5.6 0a2.8 2.8 0 1 0 -5.6 0M1613.7 332.7a2.8 2.8 0 1 0 5.6 0a2.8 2.8 0 1 0 -5.6 0M1611.1 332.7a2.8 2.8 0 1 0 5.6 0a2.8 2.8 0 1 0 -5.6 0M1618.1 327.6a2.8 2.8 0 1 0 5.6 0a2.8 2.8 0 1 0 -5.6 0M1618.7 317.7a2.8 2.8 0 1 0 5.6 0a2.8 2.8 0 1 0 -5.6 0M1619.4 307.8a2.8 2.8 0 1 0 5.6 0a2.8 2.8 0 1 0 -5.6 0M1620.1 297.8a2.8 2.8 0 1 0 5.6 0a2.8 2.8 0 1 0 -5.6 0M1620.7 287.9a2.8 2.8 0 1 0 5.6 0a2.8 2.8 0 1 0 -5.6 0M1621.4 278a2.8 2.8 0 1 0 5.6 0a2.8 2.8 0 1 0 -5.6 0M1622 268a2.8 2.8 0 1 0 5.6 0a2.8 2.8 0 1 0 -5.6 0M1622.7 258.1a2.8 2.8 0 1 0 5.6 0a2.8 2.8 0 1 0 -5.6 0M1623.3 248.2a2.8 2.8 0 1 0 5.6 0a2.8 2.8 0 1 0 -5.6 0M1624 238.2a2.8 2.8 0 1 0 5.6 0a2.8 2.8 0 1 0 -5.6 0M1624.7 228.3a2.8 2.8 0 1 0 5.6 0a2.8 2.8 0 1 0 -5.6 0M1625.3 218.4a2.8 2.8 0 1 0 5.6 0a2.8 2.8 0 1 0 -5.6 0M1626 208.4a2.8 2.8 0 1 0 5.6 0a2.8 2.8 0 1 0 -5.6 0M1626.6 198.5a2.8 2.8 0 1 0 5.6 0a2.8 2.8 0 1 0 -5.6 0M1627.3 188.6a2.8 2.8 0 1 0 5.6 0a2.8 2.8 0 1 0 -5.6 0M1627.9 178.7a2.8 2.8 0 1 0 5.6 0a2.8 2.8 0 1 0 -5.6 0M1628.6 168.7a2.8 2.8 0 1 0 5.6 0a2.8 2.8 0 1 0 -5.6 0M1629.3 158.8a2.8 2.8 0 1 0 5.6 0a2.8 2.8 0 1 0 -5.6 0M1629.9 148.9a2.8 2.8 0 1 0 5.6 0a2.8 2.8 0 1 0 -5.6 0M1630.6 138.9a2.8 2.8 0 1 0 5.6 0a2.8 2.8 0 1 0 -5.6 0M1631.2 129a2.8 2.8 0 1 0 5.6 0a2.8 2.8 0 1 0 -5.6 0M1632.5 108.2a2.8 2.8 0 1 0 5.6 0a2.8 2.8 0 1 0 -5.6 0M1633.4 99.6a2.8 2.8 0 1 0 5.6 0a2.8 2.8 0 1 0 -5.6 0M1636.1 98.6a2.8 2.8 0 1 0 5.6 0a2.8 2.8 0 1 0 -5.6 0M1638.4 98.6a2.8 2.8 0 1 0 5.6 0a2.8 2.8 0 1 0 -5.6 0M1640.6 98.6a2.8 2.8 0 1 0 5.6 0a2.8 2.8 0 1 0 -5.6 0M1642.9 98.6a2.8 2.8 0 1 0 5.6 0a2.8 2.8 0 1 0 -5.6 0M1645.2 98.6a2.8 2.8 0 1 0 5.6 0a2.8 2.8 0 1 0 -5.6 0M1647.5 98.6a2.8 2.8 0 1 0 5.6 0a2.8 2.8 0 1 0 -5.6 0M1649.8 98.6a2.8 2.8 0 1 0 5.6 0a2.8 2.8 0 1 0 -5.6 0M1652 98.6a2.8 2.8 0 1 0 5.6 0a2.8 2.8 0 1 0 -5.6 0M1654.3 98.6a2.8 2.8 0 1 0 5.6 0a2.8 2.8 0 1 0 -5.6 0M1656.6 98.6a2.8 2.8 0 1 0 5.6 0a2.8 2.8 0 1 0 -5.6 0M1658.9 98.6a2.8 2.8 0 1 0 5.6 0a2.8 2.8 0 1 0 -5.6 0M1661.2 98.6a2.8 2.8 0 1 0 5.6 0a2.8 2.8 0 1 0 -5.6 0M1663.4 98.6a2.8 2.8 0 1 0 5.6 0a2.8 2.8 0 1 0 -5.6 0M1665.7 98.6a2.8 2.8 0 1 0 5.6 0a2.8 2.8 0 1 0 -5.6 0M1668 98.6a2.8 2.8 0 1 0 5.6 0a2.8 2.8 0 1 0 -5.6 0M1670.3 98.6a2.8 2.8 0 1 0 5.6 0a2.8 2.8 0 1 0 -5.6 0M1672.6 98.6a2.8 2.8 0 1 0 5.6 0a2.8 2.8 0 1 0 -5.6 0M1674.8 98.6a2.8 2.8 0 1 0 5.6 0a2.8 2.8 0 1 0 -5.6 0M1677.1 98.6a2.8 2.8 0 1 0 5.6 0a2.8 2.8 0 1 0 -5.6 0M1679.4 98.6a2.8 2.8 0 1 0 5.6 0a2.8 2.8 0 1 0 -5.6 0M1681.7 98.6a2.8 2.8 0 1 0 5.6 0a2.8 2.8 0 1 0 -5.6 0M1683.9 98.6a2.8 2.8 0 1 0 5.6 0a2.8 2.8 0 1 0 -5.6 0M1686.2 98.6a2.8 2.8 0 1 0 5.6 0a2.8 2.8 0 1 0 -5.6 0M1688.5 98.6a2.8 2.8 0 1 0 5.6 0a2.8 2.8 0 1 0 -5.6 0M1690.8 98.6a2.8 2.8 0 1 0 5.6 0a2.8 2.8 0 1 0 -5.6 0M1693.1 98.6a2.8 2.8 0 1 0 5.6 0a2.8 2.8 0 1 0 -5.6 0M1695.3 98.6a2.8 2.8 0 1 0 5.6 0a2.8 2.8 0 1 0 -5.6 0M1697.6 98.6a2.8 2.8 0 1 0 5.6 0a2.8 2.8 0 1 0 -5.6 0M1699.9 98.6a2.8 2.8 0 1 0 5.6 0a2.8 2.8 0 1 0 -5.6 0M1702.2 98.6a2.8 2.8 0 1 0 5.6 0a2.8 2.8 0 1 0 -5.6 0M1704.5 98.6a2.8 2.8 0 1 0 5.6 0a2.8 2.8 0 1 0 -5.6 0M1706.7 98.6a2.8 2.8 0 1 0 5.6 0a2.8 2.8 0 1 0 -5.6 0M1709 98.6a2.8 2.8 0 1 0 5.6 0a2.8 2.8 0 1 0 -5.6 0M1711.3 98.6a2.8 2.8 0 1 0 5.6 0a2.8 2.8 0 1 0 -5.6 0M1713.6 98.6a2.8 2.8 0 1 0 5.6 0a2.8 2.8 0 1 0 -5.6 0M1715.9 98.6a2.8 2.8 0 1 0 5.6 0a2.8 2.8 0 1 0 -5.6 0M1718.1 98.6a2.8 2.8 0 1 0 5.6 0a2.8 2.8 0 1 0 -5.6 0M1720.4 98.6a2.8 2.8 0 1 0 5.6 0a2.8 2.8 0 1 0 -5.6 0M1722.7 98.6a2.8 2.8 0 1 0 5.6 0a2.8 2.8 0 1 0 -5.6 0M1725 98.6a2.8 2.8 0 1 0 5.6 0a2.8 2.8 0 1 0 -5.6 0M1727.3 98.6a2.8 2.8 0 1 0 5.6 0a2.8 2.8 0 1 0 -5.6 0M1729.5 98.6a2.8 2.8 0 1 0 5.6 0a2.8 2.8 0 1 0 -5.6 0M1731.8 98.6a2.8 2.8 0 1 0 5.6 0a2.8 2.8 0 1 0 -5.6 0M1734.1 98.6a2.8 2.8 0 1 0 5.6 0a2.8 2.8 0 1 0 -5.6 0M1736.4 98.6a2.8 2.8 0 1 0 5.6 0a2.8 2.8 0 1 0 -5.6 0M1738.6 98.6a2.8 2.8 0 1 0 5.6 0a2.8 2.8 0 1 0 -5.6 0M1740.9 98.6a2.8 2.8 0 1 0 5.6 0a2.8 2.8 0 1 0 -5.6 0M1743.2 98.6a2.8 2.8 0 1 0 5.6 0a2.8 2.8 0 1 0 -5.6 0M1745.5 98.6a2.8 2.8 0 1 0 5.6 0a2.8 2.8 0 1 0 -5.6 0M1747.8 98.6a2.8 2.8 0 1 0 5.6 0a2.8 2.8 0 1 0 -5.6 0M1750 98.6a2.8 2.8 0 1 0 5.6 0a2.8 2.8 0 1 0 -5.6 0M1752.3 98.6a2.8 2.8 0 1 0 5.6 0a2.8 2.8 0 1 0 -5.6 0M1754.6 98.6a2.8 2.8 0 1 0 5.6 0a2.8 2.8 0 1 0 -5.6 0M1756.9 98.6a2.8 2.8 0 1 0 5.6 0a2.8 2.8 0 1 0 -5.6 0M1759.2 98.6a2.8 2.8 0 1 0 5.6 0a2.8 2.8 0 1 0 -5.6 0M1761.4 98.6a2.8 2.8 0 1 0 5.6 0a2.8 2.8 0 1 0 -5.6 0M1763.7 98.6a2.8 2.8 0 1 0 5.6 0a2.8 2.8 0 1 0 -5.6 0M1766 98.6a2.8 2.8 0 1 0 5.6 0a2.8 2.8 0 1 0 -5.6 0M1768.3 98.6a2.8 2.8 0 1 0 5.6 0a2.8 2.8 0 1 0 -5.6 0M1770.6 98.6a2.8 2.8 0 1 0 5.6 0a2.8 2.8 0 1 0 -5.6 0M1772.8 98.6a2.8 2.8 0 1 0 5.6 0a2.8 2.8 0 1 0 -5.6 0M1775.1 98.6a2.8 2.8 0 1 0 5.6 0a2.8 2.8 0 1 0 -5.6 0M1777.4 98.6a2.8 2.8 0 1 0 5.6 0a2.8 2.8 0 1 0 -5.6 0M1779.7 98.6a2.8 2.8 0 1 0 5.6 0a2.8 2.8 0 1 0 -5.6 0M1782 98.6a2.8 2.8 0 1 0 5.6 0a2.8 2.8 0 1 0 -5.6 0M1784.2 98.6a2.8 2.8 0 1 0 5.6 0a2.8 2.8 0 1 0 -5.6 0M1786.5 98.6a2.8 2.8 0 1 0 5.6 0a2.8 2.8 0 1 0 -5.6 0M1788.8 98.6a2.8 2.8 0 1 0 5.6 0a2.8 2.8 0 1 0 -5.6 0M1791.1 98.6a2.8 2.8 0 1 0 5.6 0a2.8 2.8 0 1 0 -5.6 0M1793.3 98.6a2.8 2.8 0 1 0 5.6 0a2.8 2.8 0 1 0 -5.6 0M1795.6 98.6a2.8 2.8 0 1 0 5.6 0a2.8 2.8 0 1 0 -5.6 0M1797.9 98.6a2.8 2.8 0 1 0 5.6 0a2.8 2.8 0 1 0 -5.6 0M1800.2 98.6a2.8 2.8 0 1 0 5.6 0a2.8 2.8 0 1 0 -5.6 0M1802.5 98.6a2.8 2.8 0 1 0 5.6 0a2.8 2.8 0 1 0 -5.6 0M1804.7 98.6a2.8 2.8 0 1 0 5.6 0a2.8 2.8 0 1 0 -5.6 0M1807 98.6a2.8 2.8 0 1 0 5.6 0a2.8 2.8 0 1 0 -5.6 0M1809.3 98.6a2.8 2.8 0 1 0 5.6 0a2.8 2.8 0 1 0 -5.6 0M1811.6 98.6a2.8 2.8 0 1 0 5.6 0a2.8 2.8 0 1 0 -5.6 0M1813.9 98.6a2.8 2.8 0 1 0 5.6 0a2.8 2.8 0 1 0 -5.6 0M1816.1 98.6a2.8 2.8 0 1 0 5.6 0a2.8 2.8 0 1 0 -5.6 0M1818.4 98.6a2.8 2.8 0 1 0 5.6 0a2.8 2.8 0 1 0 -5.6 0M1820.7 98.6a2.8 2.8 0 1 0 5.6 0a2.8 2.8 0 1 0 -5.6 0M1823 98.6a2.8 2.8 0 1 0 5.6 0a2.8 2.8 0 1 0 -5.6 0M1825.3 98.6a2.8 2.8 0 1 0 5.6 0a2.8 2.8 0 1 0 -5.6 0M1827.5 98.6a2.8 2.8 0 1 0 5.6 0a2.8 2.8 0 1 0 -5.6 0M1829.8 98.6a2.8 2.8 0 1 0 5.6 0a2.8 2.8 0 1 0 -5.6 0M1832.1 98.6a2.8 2.8 0 1 0 5.6 0a2.8 2.8 0 1 0 -5.6 0M1834.4 98.6a2.8 2.8 0 1 0 5.6 0a2.8 2.8 0 1 0 -5.6 0M1836.7 98.6a2.8 2.8 0 1 0 5.6 0a2.8 2.8 0 1 0 -5.6 0M1838.9 98.6a2.8 2.8 0 1 0 5.6 0a2.8 2.8 0 1 0 -5.6 0M1841.2 98.6a2.8 2.8 0 1 0 5.6 0a2.8 2.8 0 1 0 -5.6 0M1843.5 98.6a2.8 2.8 0 1 0 5.6 0a2.8 2.8 0 1 0 -5.6 0M1845.8 98.6a2.8 2.8 0 1 0 5.6 0a2.8 2.8 0 1 0 -5.6 0M1848 98.6a2.8 2.8 0 1 0 5.6 0a2.8 2.8 0 1 0 -5.6 0M1850.3 98.6a2.8 2.8 0 1 0 5.6 0a2.8 2.8 0 1 0 -5.6 0M1852.6 98.6a2.8 2.8 0 1 0 5.6 0a2.8 2.8 0 1 0 -5.6 0M1854.9 98.6a2.8 2.8 0 1 0 5.6 0a2.8 2.8 0 1 0 -5.6 0M1857.2 98.6a2.8 2.8 0 1 0 5.6 0a2.8 2.8 0 1 0 -5.6 0M1859.4 98.6a2.8 2.8 0 1 0 5.6 0a2.8 2.8 0 1 0 -5.6 0M1861.7 98.6a2.8 2.8 0 1 0 5.6 0a2.8 2.8 0 1 0 -5.6 0M1864 98.6a2.8 2.8 0 1 0 5.6 0a2.8 2.8 0 1 0 -5.6 0M1866.3 98.6a2.8 2.8 0 1 0 5.6 0a2.8 2.8 0 1 0 -5.6 0M1868.6 98.6a2.8 2.8 0 1 0 5.6 0a2.8 2.8 0 1 0 -5.6 0" fill="#0000c5"/>
<path d="M1605.9 333.1 L1613.8 333.1 L1614.2 325.3 L1614.8 315.4 L1615.3 305.5 L1615.8 295.5 L1616.4 285.6 L1616.9 275.7 L1617.4 265.7 L1618 255.8 L1618.5 245.9 L1619 236 L1619.6 226 L1620.1 216.1 L1620.7 206.2 L1621.2 196.2 L1621.7 186.3 L1622.3 176.4 L1622.8 166.4 L1623.3 156.5 L1623.9 146.6 L1624.4 136.6 L1624.9 126.7 L1625.5 115.1 L1625.9 107.6 L1626.4 102.3 L1626.8 99.1 L1627.2 98 L1629.5 98 L1631.8 98 L1634.1 98 L1636.3 98 L1638.6 98 L1640.9 98 L1643.2 98 L1645.4 98 L1647.7 98 L1650 98 L1652.3 98 L1654.6 98 L1656.8 98 L1659.1 98 L1661.4 98 L1663.7 98 L1666 98 L1668.2 98 L1670.5 98 L1672.8 98 L1675.1 98 L1677.4 98 L1679.6 98 L1681.9 98 L1684.2 98 L1686.5 98 L1688.8 98 L1691 98 L1693.3 98 L1695.6 98 L1697.9 98 L1700.1 98 L1702.4 98 L1704.7 98 L1707 98 L1709.3 98 L1711.5 98 L1713.8 98 L1716.1 98 L1718.4 98 L1720.7 98 L1722.9 98 L1725.2 98 L1727.5 98 L1729.8 98 L1732.1 98 L1734.3 98 L1736.6 98 L1738.9 98 L1741.2 98 L1743.5 98 L1745.7 98 L1748 98 L1750.3 98 L1752.6 98 L1754.8 98 L1757.1 98 L1759.4 98 L1761.7 98 L1764 98 L1766.2 98 L1768.5 98 L1770.8 98 L1773.1 98 L1775.4 98 L1777.6 98 L1779.9 98 L1782.2 98 L1784.5 98 L1786.8 98 L1789 98 L1791.3 98 L1793.6 98 L1795.9 98 L1798.2 98 L1800.4 98 L1802.7 98 L1805 98 L1807.3 98 L1809.5 98 L1811.8 98 L1814.1 98 L1816.4 98 L1818.7 98 L1820.9 98 L1823.2 98 L1825.5 98 L1827.8 98 L1830.1 98 L1832.3 98 L1834.6 98 L1836.9 98 L1839.2 98 L1841.5 98 L1843.7 98 L1846 98 L1848.3 98 L1850.6 98 L1852.9 98 L1855.1 98 L1857.4 98 L1859.7 98 L1862 98 L1864.2 98 L1866.5 98 L1868.8 98 L1871.1 98" fill="none" stroke="#0000d4" stroke-width="1"/>
<path d="M1609.7 332.7a2.8 2.8 0 1 0 5.6 0a2.8 2.8 0 1 0 -5.6 0M1607.1 332.7a2.8 2.8 0 1 0 5.6 0a2.8 2.8 0 1 0 -5.6 0M1604.5 332.7a2.8 2.8 0 1 0 5.6 0a2.8 2.8 0 1 0 -5.6 0M1611.4 325.3a2.8 2.8 0 1 0 5.6 0a2.8 2.8 0 1 0 -5.6 0M1612 315.4a2.8 2.8 0 1 0 5.6 0a2.8 2.8 0 1 0 -5.6 0M1612.5 305.5a2.8 2.8 0 1 0 5.6 0a2.8 2.8 0 1 0 -5.6 0M1613 295.5a2.8 2.8 0 1 0 5.6 0a2.8 2.8 0 1 0 -5.6 0M1613.6 285.6a2.8 2.8 0 1 0 5.6 0a2.8 2.8 0 1 0 -5.6 0M1614.1 275.7a2.8 2.8 0 1 0 5.6 0a2.8 2.8 0 1 0 -5.6 0M1614.6 265.7a2.8 2.8 0 1 0 5.6 0a2.8 2.8 0 1 0 -5.6 0M1615.2 255.8a2.8 2.8 0 1 0 5.6 0a2.8 2.8 0 1 0 -5.6 0M1615.7 245.9a2.8 2.8 0 1 0 5.6 0a2.8 2.8 0 1 0 -5.6 0M1616.2 236a2.8 2.8 0 1 0 5.6 0a2.8 2.8 0 1 0 -5.6 0M1616.8 226a2.8 2.8 0 1 0 5.6 0a2.8 2.8 0 1 0 -5.6 0M1617.3 216.1a2.8 2.8 0 1 0 5.6 0a2.8 2.8 0 1 0 -5.6 0M1617.9 206.2a2.8 2.8 0 1 0 5.6 0a2.8 2.8 0 1 0 -5.6 0M1618.4 196.2a2.8 2.8 0 1 0 5.6 0a2.8 2.8 0 1 0 -5.6 0M1618.9 186.3a2.8 2.8 0 1 0 5.6 0a2.8 2.8 0 1 0 -5.6 0M1619.5 176.4a2.8 2.8 0 1 0 5.6 0a2.8 2.8 0 1 0 -5.6 0M1620 166.4a2.8 2.8 0 1 0 5.6 0a2.8 2.8 0 1 0 -5.6 0M1620.5 156.5a2.8 2.8 0 1 0 5.6 0a2.8 2.8 0 1 0 -5.6 0M1621.1 146.6a2.8 2.8 0 1 0 5.6 0a2.8 2.8 0 1 0 -5.6 0M1621.6 136.6a2.8 2.8 0 1 0 5.6 0a2.8 2.8 0 1 0 -5.6 0M1622.1 126.7a2.8 2.8 0 1 0 5.6 0a2.8 2.8 0 1 0 -5.6 0M1623.1 107.6a2.8 2.8 0 1 0 5.6 0a2.8 2.8 0 1 0 -5.6 0M1624 99.1a2.8 2.8 0 1 0 5.6 0a2.8 2.8 0 1 0 -5.6 0M1626.7 98a2.8 2.8 0 1 0 5.6 0a2.8 2.8 0 1 0 -5.6 0M1629 98a2.8 2.8 0 1 0 5.6 0a2.8 2.8 0 1 0 -5.6 0M1631.3 98a2.8 2.8 0 1 0 5.6 0a2.8 2.8 0 1 0 -5.6 0M1633.5 98a2.8 2.8 0 1 0 5.6 0a2.8 2.8 0 1 0 -5.6 0M1635.8 98a2.8 2.8 0 1 0 5.6 0a2.8 2.8 0 1 0 -5.6 0M1638.1 98a2.8 2.8 0 1 0 5.6 0a2.8 2.8 0 1 0 -5.6 0M1640.4 98a2.8 2.8 0 1 0 5.6 0a2.8 2.8 0 1 0 -5.6 0M1642.6 98a2.8 2.8 0 1 0 5.6 0a2.8 2.8 0 1 0 -5.6 0M1644.9 98a2.8 2.8 0 1 0 5.6 0a2.8 2.8 0 1 0 -5.6 0M1647.2 98a2.8 2.8 0 1 0 5.6 0a2.8 2.8 0 1 0 -5.6 0M1649.5 98a2.8 2.8 0 1 0 5.6 0a2.8 2.8 0 1 0 -5.6 0M1651.8 98a2.8 2.8 0 1 0 5.6 0a2.8 2.8 0 1 0 -5.6 0M1654 98a2.8 2.8 0 1 0 5.6 0a2.8 2.8 0 1 0 -5.6 0M1656.3 98a2.8 2.8 0 1 0 5.6 0a2.8 2.8 0 1 0 -5.6 0M1658.6 98a2.8 2.8 0 1 0 5.6 0a2.8 2.8 0 1 0 -5.6 0M1660.9 98a2.8 2.8 0 1 0 5.6 0a2.8 2.8 0 1 0 -5.6 0M1663.2 98a2.8 2.8 0 1 0 5.6 0a2.8 2.8 0 1 0 -5.6 0M1665.4 98a2.8 2.8 0 1 0 5.6 0a2.8 2.8 0 1 0 -5.6 0M1667.7 98a2.8 2.8 0 1 0 5.6 0a2.8 2.8 0 1 0 -5.6 0M1670 98a2.8 2.8 0 1 0 5.6 0a2.8 2.8 0 1 0 -5.6 0M1672.3 98a2.8 2.8 0 1 0 5.6 0a2.8 2.8 0 1 0 -5.6 0M1674.6 98a2.8 2.8 0 1 0 5.6 0a2.8 2.8 0 1 0 -5.6 0M1676.8 98a2.8 2.8 0 1 0 5.6 0a2.8 2.8 0 1 0 -5.6 0M1679.1 98a2.8 2.8 0 1 0 5.6 0a2.8 2.8 0 1 0 -5.6 0M1681.4 98a2.8 2.8 0 1 0 5.6 0a2.8 2.8 0 1 0 -5.6 0M1683.7 98a2.8 2.8 0 1 0 5.6 0a2.8 2.8 0 1 0 -5.6 0M1686 98a2.8 2.8 0 1 0 5.6 0a2.8 2.8 0 1 0 -5.6 0M1688.2 98a2.8 2.8 0 1 0 5.6 0a2.8 2.8 0 1 0 -5.6 0M1690.5 98a2.8 2.8 0 1 0 5.6 0a2.8 2.8 0 1 0 -5.6 0M1692.8 98a2.8 2.8 0 1 0 5.6 0a2.8 2.8 0 1 0 -5.6 0M1695.1 98a2.8 2.8 0 1 0 5.6 0a2.8 2.8 0 1 0 -5.6 0M1697.3 98a2.8 2.8 0 1 0 5.6 0a2.8 2.8 0 1 0 -5.6 0M1699.6 98a2.8 2.8 0 1 0 5.6 0a2.8 2.8 0 1 0 -5.6 0M1701.9 98a2.8 2.8 0 1 0 5.6 0a2.8 2.8 0 1 0 -5.6 0M1704.2 98a2.8 2.8 0 1 0 5.6 0a2.8 2.8 0 1 0 -5.6 0M1706.5 98a2.8 2.8 0 1 0 5.6 0a2.8 2.8 0 1 0 -5.6 0M1708.7 98a2.8 2.8 0 1 0 5.6 0a2.8 2.8 0 1 0 -5.6 0M1711 98a2.8 2.8 0 1 0 5.6 0a2.8 2.8 0 1 0 -5.6 0M1713.3 98a2.8 2.8 0 1 0 5.6 0a2.8 2.8 0 1 0 -5.6 0M1715.6 98a2.8 2.8 0 1 0 5.6 0a2.8 2.8 0 1 0 -5.6 0M1717.9 98a2.8 2.8 0 1 0 5.6 0a2.8 2.8 0 1 0 -5.6 0M1720.1 98a2.8 2.8 0 1 0 5.6 0a2.8 2.8 0 1 0 -5.6 0M1722.4 98a2.8 2.8 0 1 0 5.6 0a2.8 2.8 0 1 0 -5.6 0M1724.7 98a2.8 2.8 0 1 0 5.6 0a2.8 2.8 0 1 0 -5.6 0M1727 98a2.8 2.8 0 1 0 5.6 0a2.8 2.8 0 1 0 -5.6 0M1729.3 98a2.8 2.8 0 1 0 5.6 0a2.8 2.8 0 1 0 -5.6 0M1731.5 98a2.8 2.8 0 1 0 5.6 0a2.8 2.8 0 1 0 -5.6 0M1733.8 98a2.8 2.8 0 1 0 5.6 0a2.8 2.8 0 1 0 -5.6 0M1736.1 98a2.8 2.8 0 1 0 5.6 0a2.8 2.8 0 1 0 -5.6 0M1738.4 98a2.8 2.8 0 1 0 5.6 0a2.8 2.8 0 1 0 -5.6 0M1740.7 98a2.8 2.8 0 1 0 5.6 0a2.8 2.8 0 1 0 -5.6 0M1742.9 98a2.8 2.8 0 1 0 5.6 0a2.8 2.8 0 1 0 -5.6 0M1745.2 98a2.8 2.8 0 1 0 5.6 0a2.8 2.8 0 1 0 -5.6 0M1747.5 98a2.8 2.8 0 1 0 5.6 0a2.8 2.8 0 1 0 -5.6 0M1749.8 98a2.8 2.8 0 1 0 5.6 0a2.8 2.8 0 1 0 -5.6 0M1752 98a2.8 2.8 0 1 0 5.6 0a2.8 2.8 0 1 0 -5.6 0M1754.3 98a2.8 2.8 0 1 0 5.6 0a2.8 2.8 0 1 0 -5.6 0M1756.6 98a2.8 2.8 0 1 0 5.6 0a2.8 2.8 0 1 0 -5.6 0M1758.9 98a2.8 2.8 0 1 0 5.6 0a2.8 2.8 0 1 0 -5.6 0M1761.2 98a2.8 2.8 0 1 0 5.6 0a2.8 2.8 0 1 0 -5.6 0M1763.4 98a2.8 2.8 0 1 0 5.6 0a2.8 2.8 0 1 0 -5.6 0M1765.7 98a2.8 2.8 0 1 0 5.6 0a2.8 2.8 0 1 0 -5.6 0M1768 98a2.8 2.8 0 1 0 5.6 0a2.8 2.8 0 1 0 -5.6 0M1770.3 98a2.8 2.8 0 1 0 5.6 0a2.8 2.8 0 1 0 -5.6 0M1772.6 98a2.8 2.8 0 1 0 5.6 0a2.8 2.8 0 1 0 -5.6 0M1774.8 98a2.8 2.8 0 1 0 5.6 0a2.8 2.8 0 1 0 -5.6 0M1777.1 98a2.8 2.8 0 1 0 5.6 0a2.8 2.8 0 1 0 -5.6 0M1779.4 98a2.8 2.8 0 1 0 5.6 0a2.8 2.8 0 1 0 -5.6 0M1781.7 98a2.8 2.8 0 1 0 5.6 0a2.8 2.8 0 1 0 -5.6 0M1784 98a2.8 2.8 0 1 0 5.6 0a2.8 2.8 0 1 0 -5.6 0M1786.2 98a2.8 2.8 0 1 0 5.6 0a2.8 2.8 0 1 0 -5.6 0M1788.5 98a2.8 2.8 0 1 0 5.6 0a2.8 2.8 0 1 0 -5.6 0M1790.8 98a2.8 2.8 0 1 0 5.6 0a2.8 2.8 0 1 0 -5.6 0M1793.1 98a2.8 2.8 0 1 0 5.6 0a2.8 2.8 0 1 0 -5.6 0M1795.4 98a2.8 2.8 0 1 0 5.6 0a2.8 2.8 0 1 0 -5.6 0M1797.6 98a2.8 2.8 0 1 0 5.6 0a2.8 2.8 0 1 0 -5.6 0M1799.9 98a2.8 2.8 0 1 0 5.6 0a2.8 2.8 0 1 0 -5.6 0M1802.2 98a2.8 2.8 0 1 0 5.6 0a2.8 2.8 0 1 0 -5.6 0M1804.5 98a2.8 2.8 0 1 0 5.6 0a2.8 2.8 0 1 0 -5.6 0M1806.7 98a2.8 2.8 0 1 0 5.6 0a2.8 2.8 0 1 0 -5.6 0M1809 98a2.8 2.8 0 1 0 5.6 0a2.8 2.8 0 1 0 -5.6 0M1811.3 98a2.8 2.8 0 1 0 5.6 0a2.8 2.8 0 1 0 -5.6 0M1813.6 98a2.8 2.8 0 1 0 5.6 0a2.8 2.8 0 1 0 -5.6 0M1815.9 98a2.8 2.8 0 1 0 5.6 0a2.8 2.8 0 1 0 -5.6 0M1818.1 98a2.8 2.8 0 1 0 5.6 0a2.8 2.8 0 1 0 -5.6 0M1820.4 98a2.8 2.8 0 1 0 5.6 0a2.8 2.8 0 1 0 -5.6 0M1822.7 98a2.8 2.8 0 1 0 5.6 0a2.8 2.8 0 1 0 -5.6 0M1825 98a2.8 2.8 0 1 0 5.6 0a2.8 2.8 0 1 0 -5.6 0M1827.3 98a2.8 2.8 0 1 0 5.6 0a2.8 2.8 0 1 0 -5.6 0M1829.5 98a2.8 2.8 0 1 0 5.6 0a2.8 2.8 0 1 0 -5.6 0M1831.8 98a2.8 2.8 0 1 0 5.6 0a2.8 2.8 0 1 0 -5.6 0M1834.1 98a2.8 2.8 0 1 0 5.6 0a2.8 2.8 0 1 0 -5.6 0M1836.4 98a2.8 2.8 0 1 0 5.6 0a2.8 2.8 0 1 0 -5.6 0M1838.7 98a2.8 2.8 0 1 0 5.6 0a2.8 2.8 0 1 0 -5.6 0M1840.9 98a2.8 2.8 0 1 0 5.6 0a2.8 2.8 0 1 0 -5.6 0M1843.2 98a2.8 2.8 0 1 0 5.6 0a2.8 2.8 0 1 0 -5.6 0M1845.5 98a2.8 2.8 0 1 0 5.6 0a2.8 2.8 0 1 0 -5.6 0M1847.8 98a2.8 2.8 0 1 0 5.6 0a2.8 2.8 0 1 0 -5.6 0M1850.1 98a2.8 2.8 0 1 0 5.6 0a2.8 2.8 0 1 0 -5.6 0M1852.3 98a2.8 2.8 0 1 0 5.6 0a2.8 2.8 0 1 0 -5.6 0M1854.6 98a2.8 2.8 0 1 0 5.6 0a2.8 2.8 0 1 0 -5.6 0M1856.9 98a2.8 2.8 0 1 0 5.6 0a2.8 2.8 0 1 0 -5.6 0M1859.2 98a2.8 2.8 0 1 0 5.6 0a2.8 2.8 0 1 0 -5.6 0M1861.4 98a2.8 2.8 0 1 0 5.6 0a2.8 2.8 0 1 0 -5.6 0M1863.7 98a2.8 2.8 0 1 0 5.6 0a2.8 2.8 0 1 0 -5.6 0M1866 98a2.8 2.8 0 1 0 5.6 0a2.8 2.8 0 1 0 -5.6 0M1868.3 98a2.8 2.8 0 1 0 5.6 0a2.8 2.8 0 1 0 -5.6 0" fill="#0000d4"/>
<path d="M1599.3 333.1 L1607.1 333.1 L1607.4 325.9 L1607.8 316 L1608.2 306 L1608.6 296.1 L1609 286.2 L1609.4 276.2 L1609.9 266.3 L1610.3 256.4 L1610.7 246.5 L1611.1 236.5 L1611.5 226.6 L1611.9 216.7 L1612.3 206.7 L1612.7 196.8 L1613.1 186.9 L1613.5 176.9 L1613.9 167 L1614.3 157.1 L1614.7 147.1 L1615.1 137.2 L1615.5 127.3 L1616.1 114.6 L1616.5 107.1 L1616.9 101.7 L1617.3 98.5 L1617.7 97.5 L1620 97.5 L1622.3 97.5 L1624.6 97.5 L1626.8 97.5 L1629.1 97.5 L1631.4 97.5 L1633.7 97.5 L1636 97.5 L1638.2 97.5 L1640.5 97.5 L1642.8 97.5 L1645.1 97.5 L1647.4 97.5 L1649.6 97.5 L1651.9 97.5 L1654.2 97.5 L1656.5 97.5 L1658.8 97.5 L1661 97.5 L1663.3 97.5 L1665.6 97.5 L1667.9 97.5 L1670.2 97.5 L1672.4 97.5 L1674.7 97.5 L1677 97.5 L1679.3 97.5 L1681.5 97.5 L1683.8 97.5 L1686.1 97.5 L1688.4 97.5 L1690.7 97.5 L1692.9 97.5 L1695.2 97.5 L1697.5 97.5 L1699.8 97.5 L1702.1 97.5 L1704.3 97.5 L1706.6 97.5 L1708.9 97.5 L1711.2 97.5 L1713.5 97.5 L1715.7 97.5 L1718 97.5 L1720.3 97.5 L1722.6 97.5 L1724.9 97.5 L1727.1 97.5 L1729.4 97.5 L1731.7 97.5 L1734 97.5 L1736.2 97.5 L1738.5 97.5 L1740.8 97.5 L1743.1 97.5 L1745.4 97.5 L1747.6 97.5 L1749.9 97.5 L1752.2 97.5 L1754.5 97.5 L1756.8 97.5 L1759 97.5 L1761.3 97.5 L1763.6 97.5 L1765.9 97.5 L1768.2 97.5 L1770.4 97.5 L1772.7 97.5 L1775 97.5 L1777.3 97.5 L1779.6 97.5 L1781.8 97.5 L1784.1 97.5 L1786.4 97.5 L1788.7 97.5 L1790.9 97.5 L1793.2 97.5 L1795.5 97.5 L1797.8 97.5 L1800.1 97.5 L1802.3 97.5 L1804.6 97.5 L1806.9 97.5 L1809.2 97.5 L1811.5 97.5 L1813.7 97.5 L1816 97.5 L1818.3 97.5 L1820.6 97.5 L1822.9 97.5 L1825.1 97.5 L1827.4 97.5 L1829.7 97.5 L1832 97.5 L1834.3 97.5 L1836.5 97.5 L1838.8 97.5 L1841.1 97.5 L1843.4 97.5 L1845.6 97.5 L1847.9 97.5 L1850.2 97.5 L1852.5 97.5 L1854.8 97.5 L1857 97.5 L1859.3 97.5 L1861.6 97.5 L1863.9 97.5 L1866.2 97.5 L1868.4 97.5 L1870.7 97.5" fill="none" stroke="#0000e2" stroke-width="1"/>
<path d="M1603 332.7a2.8 2.8 0 1 0 5.6 0a2.8 2.8 0 1 0 -5.6 0M1600.4 332.7a2.8 2.8 0 1 0 5.6 0a2.8 2.8 0 1 0 -5.6 0M1597.8 332.7a2.8 2.8 0 1 0 5.6 0a2.8 2.8 0 1 0 -5.6 0M1604.6 325.9a2.8 2.8 0 1 0 5.6 0a2.8 2.8 0 1 0 -5.6 0M1605 316a2.8 2.8 0 1 0 5.6 0a2.8 2.8 0 1 0 -5.6 0M1605.4 306a2.8 2.8 0 1 0 5.6 0a2.8 2.8 0 1 0 -5.6 0M1605.8 296.1a2.8 2.8 0 1 0 5.6 0a2.8 2.8 0 1 0 -5.6 0M1606.2 286.2a2.8 2.8 0 1 0 5.6 0a2.8 2.8 0 1 0 -5.6 0M1606.6 276.2a2.8 2.8 0 1 0 5.6 0a2.8 2.8 0 1 0 -5.6 0M1607.1 266.3a2.8 2.8 0 1 0 5.6 0a2.8 2.8 0 1 0 -5.6 0M1607.5 256.4a2.8 2.8 0 1 0 5.6 0a2.8 2.8 0 1 0 -5.6 0M1607.9 246.5a2.8 2.8 0 1 0 5.6 0a2.8 2.8 0 1 0 -5.6 0M1608.3 236.5a2.8 2.8 0 1 0 5.6 0a2.8 2.8 0 1 0 -5.6 0M1608.7 226.6a2.8 2.8 0 1 0 5.6 0a2.8 2.8 0 1 0 -5.6 0M1609.1 216.7a2.8 2.8 0 1 0 5.6 0a2.8 2.8 0 1 0 -5.6 0M1609.5 206.7a2.8 2.8 0 1 0 5.6 0a2.8 2.8 0 1 0 -5.6 0M1609.9 196.8a2.8 2.8 0 1 0 5.6 0a2.8 2.8 0 1 0 -5.6 0M1610.3 186.9a2.8 2.8 0 1 0 5.6 0a2.8 2.8 0 1 0 -5.6 0M1610.7 176.9a2.8 2.8 0 1 0 5.6 0a2.8 2.8 0 1 0 -5.6 0M1611.1 167a2.8 2.8 0 1 0 5.6 0a2.8 2.8 0 1 0 -5.6 0M1611.5 157.1a2.8 2.8 0 1 0 5.6 0a2.8 2.8 0 1 0 -5.6 0M1611.9 147.1a2.8 2.8 0 1 0 5.6 0a2.8 2.8 0 1 0 -5.6 0M1612.3 137.2a2.8 2.8 0 1 0 5.6 0a2.8 2.8 0 1 0 -5.6 0M1612.7 127.3a2.8 2.8 0 1 0 5.6 0a2.8 2.8 0 1 0 -5.6 0M1613.7 107.1a2.8 2.8 0 1 0 5.6 0a2.8 2.8 0 1 0 -5.6 0M1614.5 98.5a2.8 2.8 0 1 0 5.6 0a2.8 2.8 0 1 0 -5.6 0M1617.2 97.5a2.8 2.8 0 1 0 5.6 0a2.8 2.8 0 1 0 -5.6 0M1619.5 97.5a2.8 2.8 0 1 0 5.6 0a2.8 2.8 0 1 0 -5.6 0M1621.8 97.5a2.8 2.8 0 1 0 5.6 0a2.8 2.8 0 1 0 -5.6 0M1624 97.5a2.8 2.8 0 1 0 5.6 0a2.8 2.8 0 1 0 -5.6 0M1626.3 97.5a2.8 2.8 0 1 0 5.6 0a2.8 2.8 0 1 0 -5.6 0M1628.6 97.5a2.8 2.8 0 1 0 5.6 0a2.8 2.8 0 1 0 -5.6 0M1630.9 97.5a2.8 2.8 0 1 0 5.6 0a2.8 2.8 0 1 0 -5.6 0M1633.2 97.5a2.8 2.8 0 1 0 5.6 0a2.8 2.8 0 1 0 -5.6 0M1635.4 97.5a2.8 2.8 0 1 0 5.6 0a2.8 2.8 0 1 0 -5.6 0M1637.7 97.5a2.8 2.8 0 1 0 5.6 0a2.8 2.8 0 1 0 -5.6 0M1640 97.5a2.8 2.8 0 1 0 5.6 0a2.8 2.8 0 1 0 -5.6 0M1642.3 97.5a2.8 2.8 0 1 0 5.6 0a2.8 2.8 0 1 0 -5.6 0M1644.6 97.5a2.8 2.8 0 1 0 5.6 0a2.8 2.8 0 1 0 -5.6 0M1646.8 97.5a2.8 2.8 0 1 0 5.6 0a2.8 2.8 0 1 0 -5.6 0M1649.1 97.5a2.8 2.8 0 1 0 5.6 0a2.8 2.8 0 1 0 -5.6 0M1651.4 97.5a2.8 2.8 0 1 0 5.6 0a2.8 2.8 0 1 0 -5.6 0M1653.7 97.5a2.8 2.8 0 1 0 5.6 0a2.8 2.8 0 1 0 -5.6 0M1656 97.5a2.8 2.8 0 1 0 5.6 0a2.8 2.8 0 1 0 -5.6 0M1658.2 97.5a2.8 2.8 0 1 0 5.6 0a2.8 2.8 0 1 0 -5.6 0M1660.5 97.5a2.8 2.8 0 1 0 5.6 0a2.8 2.8 0 1 0 -5.6 0M1662.8 97.5a2.8 2.8 0 1 0 5.6 0a2.8 2.8 0 1 0 -5.6 0M1665.1 97.5a2.8 2.8 0 1 0 5.6 0a2.8 2.8 0 1 0 -5.6 0M1667.4 97.5a2.8 2.8 0 1 0 5.6 0a2.8 2.8 0 1 0 -5.6 0M1669.6 97.5a2.8 2.8 0 1 0 5.6 0a2.8 2.8 0 1 0 -5.6 0M1671.9 97.5a2.8 2.8 0 1 0 5.6 0a2.8 2.8 0 1 0 -5.6 0M1674.2 97.5a2.8 2.8 0 1 0 5.6 0a2.8 2.8 0 1 0 -5.6 0M1676.5 97.5a2.8 2.8 0 1 0 5.6 0a2.8 2.8 0 1 0 -5.6 0M1678.7 97.5a2.8 2.8 0 1 0 5.6 0a2.8 2.8 0 1 0 -5.6 0M1681 97.5a2.8 2.8 0 1 0 5.6 0a2.8 2.8 0 1 0 -5.6 0M1683.3 97.5a2.8 2.8 0 1 0 5.6 0a2.8 2.8 0 1 0 -5.6 0M1685.6 97.5a2.8 2.8 0 1 0 5.6 0a2.8 2.8 0 1 0 -5.6 0M1687.9 97.5a2.8 2.8 0 1 0 5.6 0a2.8 2.8 0 1 0 -5.6 0M1690.1 97.5a2.8 2.8 0 1 0 5.6 0a2.8 2.8 0 1 0 -5.6 0M1692.4 97.5a2.8 2.8 0 1 0 5.6 0a2.8 2.8 0 1 0 -5.6 0M1694.7 97.5a2.8 2.8 0 1 0 5.6 0a2.8 2.8 0 1 0 -5.6 0M1697 97.5a2.8 2.8 0 1 0 5.6 0a2.8 2.8 0 1 0 -5.6 0M1699.3 97.5a2.8 2.8 0 1 0 5.6 0a2.8 2.8 0 1 0 -5.6 0M1701.5 97.5a2.8 2.8 0 1 0 5.6 0a2.8 2.8 0 1 0 -5.6 0M1703.8 97.5a2.8 2.8 0 1 0 5.6 0a2.8 2.8 0 1 0 -5.6 0M1706.1 97.5a2.8 2.8 0 1 0 5.6 0a2.8 2.8 0 1 0 -5.6 0M1708.4 97.5a2.8 2.8 0 1 0 5.6 0a2.8 2.8 0 1 0 -5.6 0M1710.7 97.5a2.8 2.8 0 1 0 5.6 0a2.8 2.8 0 1 0 -5.6 0M1712.9 97.5a2.8 2.8 0 1 0 5.6 0a2.8 2.8 0 1 0 -5.6 0M1715.2 97.5a2.8 2.8 0 1 0 5.6 0a2.8 2.8 0 1 0 -5.6 0M1717.5 97.5a2.8 2.8 0 1 0 5.6 0a2.8 2.8 0 1 0 -5.6 0M1719.8 97.5a2.8 2.8 0 1 0 5.6 0a2.8 2.8 0 1 0 -5.6 0M1722.1 97.5a2.8 2.8 0 1 0 5.6 0a2.8 2.8 0 1 0 -5.6 0M1724.3 97.5a2.8 2.8 0 1 0 5.6 0a2.8 2.8 0 1 0 -5.6 0M1726.6 97.5a2.8 2.8 0 1 0 5.6 0a2.8 2.8 0 1 0 -5.6 0M1728.9 97.5a2.8 2.8 0 1 0 5.6 0a2.8 2.8 0 1 0 -5.6 0M1731.2 97.5a2.8 2.8 0 1 0 5.6 0a2.8 2.8 0 1 0 -5.6 0M1733.4 97.5a2.8 2.8 0 1 0 5.6 0a2.8 2.8 0 1 0 -5.6 0M1735.7 97.5a2.8 2.8 0 1 0 5.6 0a2.8 2.8 0 1 0 -5.6 0M1738 97.5a2.8 2.8 0 1 0 5.6 0a2.8 2.8 0 1 0 -5.6 0M1740.3 97.5a2.8 2.8 0 1 0 5.6 0a2.8 2.8 0 1 0 -5.6 0M1742.6 97.5a2.8 2.8 0 1 0 5.6 0a2.8 2.8 0 1 0 -5.6 0M1744.8 97.5a2.8 2.8 0 1 0 5.6 0a2.8 2.8 0 1 0 -5.6 0M1747.1 97.5a2.8 2.8 0 1 0 5.6 0a2.8 2.8 0 1 0 -5.6 0M1749.4 97.5a2.8 2.8 0 1 0 5.6 0a2.8 2.8 0 1 0 -5.6 0M1751.7 97.5a2.8 2.8 0 1 0 5.6 0a2.8 2.8 0 1 0 -5.6 0M1754 97.5a2.8 2.8 0 1 0 5.6 0a2.8 2.8 0 1 0 -5.6 0M1756.2 97.5a2.8 2.8 0 1 0 5.6 0a2.8 2.8 0 1 0 -5.6 0M1758.5 97.5a2.8 2.8 0 1 0 5.6 0a2.8 2.8 0 1 0 -5.6 0M1760.8 97.5a2.8 2.8 0 1 0 5.6 0a2.8 2.8 0 1 0 -5.6 0M1763.1 97.5a2.8 2.8 0 1 0 5.6 0a2.8 2.8 0 1 0 -5.6 0M1765.4 97.5a2.8 2.8 0 1 0 5.6 0a2.8 2.8 0 1 0 -5.6 0M1767.6 97.5a2.8 2.8 0 1 0 5.6 0a2.8 2.8 0 1 0 -5.6 0M1769.9 97.5a2.8 2.8 0 1 0 5.6 0a2.8 2.8 0 1 0 -5.6 0M1772.2 97.5a2.8 2.8 0 1 0 5.6 0a2.8 2.8 0 1 0 -5.6 0M1774.5 97.5a2.8 2.8 0 1 0 5.6 0a2.8 2.8 0 1 0 -5.6 0M1776.8 97.5a2.8 2.8 0 1 0 5.6 0a2.8 2.8 0 1 0 -5.6 0M1779 97.5a2.8 2.8 0 1 0 5.6 0a2.8 2.8 0 1 0 -5.6 0M1781.3 97.5a2.8 2.8 0 1 0 5.6 0a2.8 2.8 0 1 0 -5.6 0M1783.6 97.5a2.8 2.8 0 1 0 5.6 0a2.8 2.8 0 1 0 -5.6 0M1785.9 97.5a2.8 2.8 0 1 0 5.6 0a2.8 2.8 0 1 0 -5.6 0M1788.1 97.5a2.8 2.8 0 1 0 5.6 0a2.8 2.8 0 1 0 -5.6 0M1790.4 97.5a2.8 2.8 0 1 0 5.6 0a2.8 2.8 0 1 0 -5.6 0M1792.7 97.5a2.8 2.8 0 1 0 5.6 0a2.8 2.8 0 1 0 -5.6 0M1795 97.5a2.8 2.8 0 1 0 5.6 0a2.8 2.8 0 1 0 -5.6 0M1797.3 97.5a2.8 2.8 0 1 0 5.6 0a2.8 2.8 0 1 0 -5.6 0M1799.5 97.5a2.8 2.8 0 1 0 5.6 0a2.8 2.8 0 1 0 -5.6 0M1801.8 97.5a2.8 2.8 0 1 0 5.6 0a2.8 2.8 0 1 0 -5.6 0M1804.1 97.5a2.8 2.8 0 1 0 5.6 0a2.8 2.8 0 1 0 -5.6 0M1806.4 97.5a2.8 2.8 0 1 0 5.6 0a2.8 2.8 0 1 0 -5.6 0M1808.7 97.5a2.8 2.8 0 1 0 5.6 0a2.8 2.8 0 1 0 -5.6 0M1810.9 97.5a2.8 2.8 0 1 0 5.6 0a2.8 2.8 0 1 0 -5.6 0M1813.2 97.5a2.8 2.8 0 1 0 5.6 0a2.8 2.8 0 1 0 -5.6 0M1815.5 97.5a2.8 2.8 0 1 0 5.6 0a2.8 2.8 0 1 0 -5.6 0M1817.8 97.5a2.8 2.8 0 1 0 5.6 0a2.8 2.8 0 1 0 -5.6 0M1820.1 97.5a2.8 2.8 0 1 0 5.6 0a2.8 2.8 0 1 0 -5.6 0M1822.3 97.5a2.8 2.8 0 1 0 5.6 0a2.8 2.8 0 1 0 -5.6 0M1824.6 97.5a2.8 2.8 0 1 0 5.6 0a2.8 2.8 0 1 0 -5.6 0M1826.9 97.5a2.8 2.8 0 1 0 5.6 0a2.8 2.8 0 1 0 -5.6 0M1829.2 97.5a2.8 2.8 0 1 0 5.6 0a2.8 2.8 0 1 0 -5.6 0M1831.5 97.5a2.8 2.8 0 1 0 5.6 0a2.8 2.8 0 1 0 -5.6 0M1833.7 97.5a2.8 2.8 0 1 0 5.6 0a2.8 2.8 0 1 0 -5.6 0M1836 97.5a2.8 2.8 0 1 0 5.6 0a2.8 2.8 0 1 0 -5.6 0M1838.3 97.5a2.8 2.8 0 1 0 5.6 0a2.8 2.8 0 1 0 -5.6 0M1840.6 97.5a2.8 2.8 0 1 0 5.6 0a2.8 2.8 0 1 0 -5.6 0M1842.8 97.5a2.8 2.8 0 1 0 5.6 0a2.8 2.8 0 1 0 -5.6 0M1845.1 97.5a2.8 2.8 0 1 0 5.6 0a2.8 2.8 0 1 0 -5.6 0M1847.4 97.5a2.8 2.8 0 1 0 5.6 0a2.8 2.8 0 1 0 -5.6 0M1849.7 97.5a2.8 2.8 0 1 0 5.6 0a2.8 2.8 0 1 0 -5.6 0M1852 97.5a2.8 2.8 0 1 0 5.6 0a2.8 2.8 0 1 0 -5.6 0M1854.2 97.5a2.8 2.8 0 1 0 5.6 0a2.8 2.8 0 1 0 -5.6 0M1856.5 97.5a2.8 2.8 0 1 0 5.6 0a2.8 2.8 0 1 0 -5.6 0M1858.8 97.5a2.8 2.8 0 1 0 5.6 0a2.8 2.8 0 1 0 -5.6 0M1861.1 97.5a2.8 2.8 0 1 0 5.6 0a2.8 2.8 0 1 0 -5.6 0M1863.4 97.5a2.8 2.8 0 1 0 5.6 0a2.8 2.8 0 1 0 -5.6 0M1865.6 97.5a2.8 2.8 0 1 0 5.6 0a2.8 2.8 0 1 0 -5.6 0M1867.9 97.5a2.8 2.8 0 1 0 5.6 0a2.8 2.8 0 1 0 -5.6 0" fill="#0000e2"/>
<path d="M1600.4 333.1 L1600.5 330.5 L1600.8 320.6 L1601 310.7 L1601.3 300.8 L1601.6 290.8 L1601.8 280.9 L1602.1 271 L1602.4 261 L1602.6 251.1 L1602.9 241.2 L1603.2 231.2 L1603.4 221.3 L1603.7 211.4 L1603.9 201.4 L1604.2 191.5 L1604.5 181.6 L1604.7 171.6 L1605 161.7 L1605.3 151.8 L1605.5 141.9 L1605.8 131.9 L1606.1 122 L1606.4 114.1 L1606.8 106.6 L1607.2 101.2 L1607.6 98 L1608 96.9 L1610.3 96.9 L1612.6 96.9 L1614.9 96.9 L1617.2 96.9 L1619.4 96.9 L1621.7 96.9 L1624 96.9 L1626.3 96.9 L1628.6 96.9 L1630.8 96.9 L1633.1 96.9 L1635.4 96.9 L1637.7 96.9 L1640 96.9 L1642.2 96.9 L1644.5 96.9 L1646.8 96.9 L1649.1 96.9 L1651.4 96.9 L1653.6 96.9 L1655.9 96.9 L1658.2 96.9 L1660.5 96.9 L1662.7 96.9 L1665 96.9 L1667.3 96.9 L1669.6 96.9 L1671.9 96.9 L1674.1 96.9 L1676.4 96.9 L1678.7 96.9 L1681 96.9 L1683.3 96.9 L1685.5 96.9 L1687.8 96.9 L1690.1 96.9 L1692.4 96.9 L1694.7 96.9 L1696.9 96.9 L1699.2 96.9 L1701.5 96.9 L1703.8 96.9 L1706.1 96.9 L1708.3 96.9 L1710.6 96.9 L1712.9 96.9 L1715.2 96.9 L1717.4 96.9 L1719.7 96.9 L1722 96.9 L1724.3 96.9 L1726.6 96.9 L1728.8 96.9 L1731.1 96.9 L1733.4 96.9 L1735.7 96.9 L1738 96.9 L1740.2 96.9 L1742.5 96.9 L1744.8 96.9 L1747.1 96.9 L1749.4 96.9 L1751.6 96.9 L1753.9 96.9 L1756.2 96.9 L1758.5 96.9 L1760.8 96.9 L1763 96.9 L1765.3 96.9 L1767.6 96.9 L1769.9 96.9 L1772.1 96.9 L1774.4 96.9 L1776.7 96.9 L1779 96.9 L1781.3 96.9 L1783.5 96.9 L1785.8 96.9 L1788.1 96.9 L1790.4 96.9 L1792.7 96.9 L1794.9 96.9 L1797.2 96.9 L1799.5 96.9 L1801.8 96.9 L1804.1 96.9 L1806.3 96.9 L1808.6 96.9 L1810.9 96.9 L1813.2 96.9 L1815.5 96.9 L1817.7 96.9 L1820 96.9 L1822.3 96.9 L1824.6 96.9 L1826.9 96.9 L1829.1 96.9 L1831.4 96.9 L1833.7 96.9 L1836 96.9 L1838.2 96.9 L1840.5 96.9 L1842.8 96.9 L1845.1 96.9 L1847.4 96.9 L1849.6 96.9 L1851.9 96.9 L1854.2 96.9 L1856.5 96.9 L1858.8 96.9 L1861 96.9 L1863.3 96.9 L1865.6 96.9 L1867.9 96.9 L1870.2 96.9" fill="none" stroke="#0000f0" stroke-width="1"/>
<path d="M1596.3 332.7a2.8 2.8 0 1 0 5.6 0a2.8 2.8 0 1 0 -5.6 0M1593.7 332.7a2.8 2.8 0 1 0 5.6 0a2.8 2.8 0 1 0 -5.6 0M1597.7 330.5a2.8 2.8 0 1 0 5.6 0a2.8 2.8 0 1 0 -5.6 0M1598 320.6a2.8 2.8 0 1 0 5.6 0a2.8 2.8 0 1 0 -5.6 0M1598.2 310.7a2.8 2.8 0 1 0 5.6 0a2.8 2.8 0 1 0 -5.6 0M1598.5 300.8a2.8 2.8 0 1 0 5.6 0a2.8 2.8 0 1 0 -5.6 0M1598.8 290.8a2.8 2.8 0 1 0 5.6 0a2.8 2.8 0 1 0 -5.6 0M1599 280.9a2.8 2.8 0 1 0 5.6 0a2.8 2.8 0 1 0 -5.6 0M1599.3 271a2.8 2.8 0 1 0 5.6 0a2.8 2.8 0 1 0 -5.6 0M1599.6 261a2.8 2.8 0 1 0 5.6 0a2.8 2.8 0 1 0 -5.6 0M1599.8 251.1a2.8 2.8 0 1 0 5.6 0a2.8 2.8 0 1 0 -5.6 0M1600.1 241.2a2.8 2.8 0 1 0 5.6 0a2.8 2.8 0 1 0 -5.6 0M1600.4 231.2a2.8 2.8 0 1 0 5.6 0a2.8 2.8 0 1 0 -5.6 0M1600.6 221.3a2.8 2.8 0 1 0 5.6 0a2.8 2.8 0 1 0 -5.6 0M1600.9 211.4a2.8 2.8 0 1 0 5.6 0a2.8 2.8 0 1 0 -5.6 0M1601.1 201.4a2.8 2.8 0 1 0 5.6 0a2.8 2.8 0 1 0 -5.6 0M1601.4 191.5a2.8 2.8 0 1 0 5.6 0a2.8 2.8 0 1 0 -5.6 0M1601.7 181.6a2.8 2.8 0 1 0 5.6 0a2.8 2.8 0 1 0 -5.6 0M1601.9 171.6a2.8 2.8 0 1 0 5.6 0a2.8 2.8 0 1 0 -5.6 0M1602.2 161.7a2.8 2.8 0 1 0 5.6 0a2.8 2.8 0 1 0 -5.6 0M1602.5 151.8a2.8 2.8 0 1 0 5.6 0a2.8 2.8 0 1 0 -5.6 0M1602.7 141.9a2.8 2.8 0 1 0 5.6 0a2.8 2.8 0 1 0 -5.6 0M1603 131.9a2.8 2.8 0 1 0 5.6 0a2.8 2.8 0 1 0 -5.6 0M1603.3 122a2.8 2.8 0 1 0 5.6 0a2.8 2.8 0 1 0 -5.6 0M1604 106.6a2.8 2.8 0 1 0 5.6 0a2.8 2.8 0 1 0 -5.6 0M1604.8 98a2.8 2.8 0 1 0 5.6 0a2.8 2.8 0 1 0 -5.6 0M1607.5 96.9a2.8 2.8 0 1 0 5.6 0a2.8 2.8 0 1 0 -5.6 0M1609.8 96.9a2.8 2.8 0 1 0 5.6 0a2.8 2.8 0 1 0 -5.6 0M1612.1 96.9a2.8 2.8 0 1 0 5.6 0a2.8 2.8 0 1 0 -5.6 0M1614.4 96.9a2.8 2.8 0 1 0 5.6 0a2.8 2.8 0 1 0 -5.6 0M1616.6 96.9a2.8 2.8 0 1 0 5.6 0a2.8 2.8 0 1 0 -5.6 0M1618.9 96.9a2.8 2.8 0 1 0 5.6 0a2.8 2.8 0 1 0 -5.6 0M1621.2 96.9a2.8 2.8 0 1 0 5.6 0a2.8 2.8 0 1 0 -5.6 0M1623.5 96.9a2.8 2.8 0 1 0 5.6 0a2.8 2.8 0 1 0 -5.6 0M1625.8 96.9a2.8 2.8 0 1 0 5.6 0a2.8 2.8 0 1 0 -5.6 0M1628 96.9a2.8 2.8 0 1 0 5.6 0a2.8 2.8 0 1 0 -5.6 0M1630.3 96.9a2.8 2.8 0 1 0 5.6 0a2.8 2.8 0 1 0 -5.6 0M1632.6 96.9a2.8 2.8 0 1 0 5.6 0a2.8 2.8 0 1 0 -5.6 0M1634.9 96.9a2.8 2.8 0 1 0 5.6 0a2.8 2.8 0 1 0 -5.6 0M1637.2 96.9a2.8 2.8 0 1 0 5.6 0a2.8 2.8 0 1 0 -5.6 0M1639.4 96.9a2.8 2.8 0 1 0 5.6 0a2.8 2.8 0 1 0 -5.6 0M1641.7 96.9a2.8 2.8 0 1 0 5.6 0a2.8 2.8 0 1 0 -5.6 0M1644 96.9a2.8 2.8 0 1 0 5.6 0a2.8 2.8 0 1 0 -5.6 0M1646.3 96.9a2.8 2.8 0 1 0 5.6 0a2.8 2.8 0 1 0 -5.6 0M1648.6 96.9a2.8 2.8 0 1 0 5.6 0a2.8 2.8 0 1 0 -5.6 0M1650.8 96.9a2.8 2.8 0 1 0 5.6 0a2.8 2.8 0 1 0 -5.6 0M1653.1 96.9a2.8 2.8 0 1 0 5.6 0a2.8 2.8 0 1 0 -5.6 0M1655.4 96.9a2.8 2.8 0 1 0 5.6 0a2.8 2.8 0 1 0 -5.6 0M1657.7 96.9a2.8 2.8 0 1 0 5.6 0a2.8 2.8 0 1 0 -5.6 0M1659.9 96.9a2.8 2.8 0 1 0 5.6 0a2.8 2.8 0 1 0 -5.6 0M1662.2 96.9a2.8 2.8 0 1 0 5.6 0a2.8 2.8 0 1 0 -5.6 0M1664.5 96.9a2.8 2.8 0 1 0 5.6 0a2.8 2.8 0 1 0 -5.6 0M1666.8 96.9a2.8 2.8 0 1 0 5.6 0a2.8 2.8 0 1 0 -5.6 0M1669.1 96.9a2.8 2.8 0 1 0 5.6 0a2.8 2.8 0 1 0 -5.6 0M1671.3 96.9a2.8 2.8 0 1 0 5.6 0a2.8 2.8 0 1 0 -5.6 0M1673.6 96.9a2.8 2.8 0 1 0 5.6 0a2.8 2.8 0 1 0 -5.6 0M1675.9 96.9a2.8 2.8 0 1 0 5.6 0a2.8 2.8 0 1 0 -5.6 0M1678.2 96.9a2.8 2.8 0 1 0 5.6 0a2.8 2.8 0 1 0 -5.6 0M1680.5 96.9a2.8 2.8 0 1 0 5.6 0a2.8 2.8 0 1 0 -5.6 0M1682.7 96.9a2.8 2.8 0 1 0 5.6 0a2.8 2.8 0 1 0 -5.6 0M1685 96.9a2.8 2.8 0 1 0 5.6 0a2.8 2.8 0 1 0 -5.6 0M1687.3 96.9a2.8 2.8 0 1 0 5.6 0a2.8 2.8 0 1 0 -5.6 0M1689.6 96.9a2.8 2.8 0 1 0 5.6 0a2.8 2.8 0 1 0 -5.6 0M1691.9 96.9a2.8 2.8 0 1 0 5.6 0a2.8 2.8 0 1 0 -5.6 0M1694.1 96.9a2.8 2.8 0 1 0 5.6 0a2.8 2.8 0 1 0 -5.6 0M1696.4 96.9a2.8 2.8 0 1 0 5.6 0a2.8 2.8 0 1 0 -5.6 0M1698.7 96.9a2.8 2.8 0 1 0 5.6 0a2.8 2.8 0 1 0 -5.6 0M1701 96.9a2.8 2.8 0 1 0 5.6 0a2.8 2.8 0 1 0 -5.6 0M1703.3 96.9a2.8 2.8 0 1 0 5.6 0a2.8 2.8 0 1 0 -5.6 0M1705.5 96.9a2.8 2.8 0 1 0 5.6 0a2.8 2.8 0 1 0 -5.6 0M1707.8 96.9a2.8 2.8 0 1 0 5.6 0a2.8 2.8 0 1 0 -5.6 0M1710.1 96.9a2.8 2.8 0 1 0 5.6 0a2.8 2.8 0 1 0 -5.6 0M1712.4 96.9a2.8 2.8 0 1 0 5.6 0a2.8 2.8 0 1 0 -5.6 0M1714.6 96.9a2.8 2.8 0 1 0 5.6 0a2.8 2.8 0 1 0 -5.6 0M1716.9 96.9a2.8 2.8 0 1 0 5.6 0a2.8 2.8 0 1 0 -5.6 0M1719.2 96.9a2.8 2.8 0 1 0 5.6 0a2.8 2.8 0 1 0 -5.6 0M1721.5 96.9a2.8 2.8 0 1 0 5.6 0a2.8 2.8 0 1 0 -5.6 0M1723.8 96.9a2.8 2.8 0 1 0 5.6 0a2.8 2.8 0 1 0 -5.6 0M1726 96.9a2.8 2.8 0 1 0 5.6 0a2.8 2.8 0 1 0 -5.6 0M1728.3 96.9a2.8 2.8 0 1 0 5.6 0a2.8 2.8 0 1 0 -5.6 0M1730.6 96.9a2.8 2.8 0 1 0 5.6 0a2.8 2.8 0 1 0 -5.6 0M1732.9 96.9a2.8 2.8 0 1 0 5.6 0a2.8 2.8 0 1 0 -5.6 0M1735.2 96.9a2.8 2.8 0 1 0 5.6 0a2.8 2.8 0 1 0 -5.6 0M1737.4 96.9a2.8 2.8 0 1 0 5.6 0a2.8 2.8 0 1 0 -5.6 0M1739.7 96.9a2.8 2.8 0 1 0 5.6 0a2.8 2.8 0 1 0 -5.6 0M1742 96.9a2.8 2.8 0 1 0 5.6 0a2.8 2.8 0 1 0 -5.6 0M1744.3 96.9a2.8 2.8 0 1 0 5.6 0a2.8 2.8 0 1 0 -5.6 0M1746.6 96.9a2.8 2.8 0 1 0 5.6 0a2.8 2.8 0 1 0 -5.6 0M1748.8 96.9a2.8 2.8 0 1 0 5.6 0a2.8 2.8 0 1 0 -5.6 0M1751.1 96.9a2.8 2.8 0 1 0 5.6 0a2.8 2.8 0 1 0 -5.6 0M1753.4 96.9a2.8 2.8 0 1 0 5.6 0a2.8 2.8 0 1 0 -5.6 0M1755.7 96.9a2.8 2.8 0 1 0 5.6 0a2.8 2.8 0 1 0 -5.6 0M1758 96.9a2.8 2.8 0 1 0 5.6 0a2.8 2.8 0 1 0 -5.6 0M1760.2 96.9a2.8 2.8 0 1 0 5.6 0a2.8 2.8 0 1 0 -5.6 0M1762.5 96.9a2.8 2.8 0 1 0 5.6 0a2.8 2.8 0 1 0 -5.6 0M1764.8 96.9a2.8 2.8 0 1 0 5.6 0a2.8 2.8 0 1 0 -5.6 0M1767.1 96.9a2.8 2.8 0 1 0 5.6 0a2.8 2.8 0 1 0 -5.6 0M1769.3 96.9a2.8 2.8 0 1 0 5.6 0a2.8 2.8 0 1 0 -5.6 0M1771.6 96.9a2.8 2.8 0 1 0 5.6 0a2.8 2.8 0 1 0 -5.6 0M1773.9 96.9a2.8 2.8 0 1 0 5.6 0a2.8 2.8 0 1 0 -5.6 0M1776.2 96.9a2.8 2.8 0 1 0 5.6 0a2.8 2.8 0 1 0 -5.6 0M1778.5 96.9a2.8 2.8 0 1 0 5.6 0a2.8 2.8 0 1 0 -5.6 0M1780.7 96.9a2.8 2.8 0 1 0 5.6 0a2.8 2.8 0 1 0 -5.6 0M1783 96.9a2.8 2.8 0 1 0 5.6 0a2.8 2.8 0 1 0 -5.6 0M1785.3 96.9a2.8 2.8 0 1 0 5.6 0a2.8 2.8 0 1 0 -5.6 0M1787.6 96.9a2.8 2.8 0 1 0 5.6 0a2.8 2.8 0 1 0 -5.6 0M1789.9 96.9a2.8 2.8 0 1 0 5.6 0a2.8 2.8 0 1 0 -5.6 0M1792.1 96.9a2.8 2.8 0 1 0 5.6 0a2.8 2.8 0 1 0 -5.6 0M1794.4 96.9a2.8 2.8 0 1 0 5.6 0a2.8 2.8 0 1 0 -5.6 0M1796.7 96.9a2.8 2.8 0 1 0 5.6 0a2.8 2.8 0 1 0 -5.6 0M1799 96.9a2.8 2.8 0 1 0 5.6 0a2.8 2.8 0 1 0 -5.6 0M1801.3 96.9a2.8 2.8 0 1 0 5.6 0a2.8 2.8 0 1 0 -5.6 0M1803.5 96.9a2.8 2.8 0 1 0 5.6 0a2.8 2.8 0 1 0 -5.6 0M1805.8 96.9a2.8 2.8 0 1 0 5.6 0a2.8 2.8 0 1 0 -5.6 0M1808.1 96.9a2.8 2.8 0 1 0 5.6 0a2.8 2.8 0 1 0 -5.6 0M1810.4 96.9a2.8 2.8 0 1 0 5.6 0a2.8 2.8 0 1 0 -5.6 0M1812.7 96.9a2.8 2.8 0 1 0 5.6 0a2.8 2.8 0 1 0 -5.6 0M1814.9 96.9a2.8 2.8 0 1 0 5.6 0a2.8 2.8 0 1 0 -5.6 0M1817.2 96.9a2.8 2.8 0 1 0 5.6 0a2.8 2.8 0 1 0 -5.6 0M1819.5 96.9a2.8 2.8 0 1 0 5.6 0a2.8 2.8 0 1 0 -5.6 0M1821.8 96.9a2.8 2.8 0 1 0 5.6 0a2.8 2.8 0 1 0 -5.6 0M1824.1 96.9a2.8 2.8 0 1 0 5.6 0a2.8 2.8 0 1 0 -5.6 0M1826.3 96.9a2.8 2.8 0 1 0 5.6 0a2.8 2.8 0 1 0 -5.6 0M1828.6 96.9a2.8 2.8 0 1 0 5.6 0a2.8 2.8 0 1 0 -5.6 0M1830.9 96.9a2.8 2.8 0 1 0 5.6 0a2.8 2.8 0 1 0 -5.6 0M1833.2 96.9a2.8 2.8 0 1 0 5.6 0a2.8 2.8 0 1 0 -5.6 0M1835.4 96.9a2.8 2.8 0 1 0 5.6 0a2.8 2.8 0 1 0 -5.6 0M1837.7 96.9a2.8 2.8 0 1 0 5.6 0a2.8 2.8 0 1 0 -5.6 0M1840 96.9a2.8 2.8 0 1 0 5.6 0a2.8 2.8 0 1 0 -5.6 0M1842.3 96.9a2.8 2.8 0 1 0 5.6 0a2.8 2.8 0 1 0 -5.6 0M1844.6 96.9a2.8 2.8 0 1 0 5.6 0a2.8 2.8 0 1 0 -5.6 0M1846.8 96.9a2.8 2.8 0 1 0 5.6 0a2.8 2.8 0 1 0 -5.6 0M1849.1 96.9a2.8 2.8 0 1 0 5.6 0a2.8 2.8 0 1 0 -5.6 0M1851.4 96.9a2.8 2.8 0 1 0 5.6 0a2.8 2.8 0 1 0 -5.6 0M1853.7 96.9a2.8 2.8 0 1 0 5.6 0a2.8 2.8 0 1 0 -5.6 0M1856 96.9a2.8 2.8 0 1 0 5.6 0a2.8 2.8 0 1 0 -5.6 0M1858.2 96.9a2.8 2.8 0 1 0 5.6 0a2.8 2.8 0 1 0 -5.6 0M1860.5 96.9a2.8 2.8 0 1 0 5.6 0a2.8 2.8 0 1 0 -5.6 0M1862.8 96.9a2.8 2.8 0 1 0 5.6 0a2.8 2.8 0 1 0 -5.6 0M1865.1 96.9a2.8 2.8 0 1 0 5.6 0a2.8 2.8 0 1 0 -5.6 0M1867.4 96.9a2.8 2.8 0 1 0 5.6 0a2.8 2.8 0 1 0 -5.6 0" fill="#0000f0"/>
<path d="M1594.7 224.1 L1594.8 214.2 L1594.9 204.3 L1595 194.3 L1595.1 184.4 L1595.2 174.5 L1595.3 164.6 L1595.4 154.6 L1595.5 144.7 L1595.6 134.8 L1595.6 124.8 L1596 113.5 L1596.4 106 L1596.8 100.6 L1597.2 97.4 L1597.6 96.3 L1599.9 96.3 L1602.2 96.3 L1604.5 96.3 L1606.8 96.3 L1609 96.3 L1611.3 96.3 L1613.6 96.3 L1615.9 96.3 L1618.2 96.3 L1620.4 96.3 L1622.7 96.3 L1625 96.3 L1627.3 96.3 L1629.6 96.3 L1631.8 96.3 L1634.1 96.3 L1636.4 96.3 L1638.7 96.3 L1640.9 96.3 L1643.2 96.3 L1645.5 96.3 L1647.8 96.3 L1650.1 96.3 L1652.3 96.3 L1654.6 96.3 L1656.9 96.3 L1659.2 96.3 L1661.5 96.3 L1663.7 96.3 L1666 96.3 L1668.3 96.3 L1670.6 96.3 L1672.9 96.3 L1675.1 96.3 L1677.4 96.3 L1679.7 96.3 L1682 96.3 L1684.3 96.3 L1686.5 96.3 L1688.8 96.3 L1691.1 96.3 L1693.4 96.3 L1695.7 96.3 L1697.9 96.3 L1700.2 96.3 L1702.5 96.3 L1704.8 96.3 L1707 96.3 L1709.3 96.3 L1711.6 96.3 L1713.9 96.3 L1716.2 96.3 L1718.4 96.3 L1720.7 96.3 L1723 96.3 L1725.3 96.3 L1727.6 96.3 L1729.8 96.3 L1732.1 96.3 L1734.4 96.3 L1736.7 96.3 L1739 96.3 L1741.2 96.3 L1743.5 96.3 L1745.8 96.3 L1748.1 96.3 L1750.4 96.3 L1752.6 96.3 L1754.9 96.3 L1757.2 96.3 L1759.5 96.3 L1761.7 96.3 L1764 96.3 L1766.3 96.3 L1768.6 96.3 L1770.9 96.3 L1773.1 96.3 L1775.4 96.3 L1777.7 96.3 L1780 96.3 L1782.3 96.3 L1784.5 96.3 L1786.8 96.3 L1789.1 96.3 L1791.4 96.3 L1793.7 96.3 L1795.9 96.3 L1798.2 96.3 L1800.5 96.3 L1802.8 96.3 L1805.1 96.3 L1807.3 96.3 L1809.6 96.3 L1811.9 96.3 L1814.2 96.3 L1816.4 96.3 L1818.7 96.3 L1821 96.3 L1823.3 96.3 L1825.6 96.3 L1827.8 96.3 L1830.1 96.3 L1832.4 96.3 L1834.7 96.3 L1837 96.3 L1839.2 96.3 L1841.5 96.3 L1843.8 96.3 L1846.1 96.3 L1848.4 96.3 L1850.6 96.3 L1852.9 96.3 L1855.2 96.3 L1857.5 96.3 L1859.8 96.3 L1862 96.3 L1864.3 96.3 L1866.6 96.3 L1868.9 96.3 L1871.1 96.3" fill="none" stroke="#0000ff" stroke-width="1"/>
<path d="M1591.9 224.1a2.8 2.8 0 1 0 5.6 0a2.8 2.8 0 1 0 -5.6 0M1592 214.2a2.8 2.8 0 1 0 5.6 0a2.8 2.8 0 1 0 -5.6 0M1592.1 204.3a2.8 2.8 0 1 0 5.6 0a2.8 2.8 0 1 0 -5.6 0M1592.2 194.3a2.8 2.8 0 1 0 5.6 0a2.8 2.8 0 1 0 -5.6 0M1592.3 184.4a2.8 2.8 0 1 0 5.6 0a2.8 2.8 0 1 0 -5.6 0M1592.4 174.5a2.8 2.8 0 1 0 5.6 0a2.8 2.8 0 1 0 -5.6 0M1592.5 164.6a2.8 2.8 0 1 0 5.6 0a2.8 2.8 0 1 0 -5.6 0M1592.6 154.6a2.8 2.8 0 1 0 5.6 0a2.8 2.8 0 1 0 -5.6 0M1592.7 144.7a2.8 2.8 0 1 0 5.6 0a2.8 2.8 0 1 0 -5.6 0M1592.8 134.8a2.8 2.8 0 1 0 5.6 0a2.8 2.8 0 1 0 -5.6 0M1592.8 124.8a2.8 2.8 0 1 0 5.6 0a2.8 2.8 0 1 0 -5.6 0M1593.6 106a2.8 2.8 0 1 0 5.6 0a2.8 2.8 0 1 0 -5.6 0M1594.4 97.4a2.8 2.8 0 1 0 5.6 0a2.8 2.8 0 1 0 -5.6 0M1597.1 96.3a2.8 2.8 0 1 0 5.6 0a2.8 2.8 0 1 0 -5.6 0M1599.4 96.3a2.8 2.8 0 1 0 5.6 0a2.8 2.8 0 1 0 -5.6 0M1601.7 96.3a2.8 2.8 0 1 0 5.6 0a2.8 2.8 0 1 0 -5.6 0M1604 96.3a2.8 2.8 0 1 0 5.6 0a2.8 2.8 0 1 0 -5.6 0M1606.2 96.3a2.8 2.8 0 1 0 5.6 0a2.8 2.8 0 1 0 -5.6 0M1608.5 96.3a2.8 2.8 0 1 0 5.6 0a2.8 2.8 0 1 0 -5.6 0M1610.8 96.3a2.8 2.8 0 1 0 5.6 0a2.8 2.8 0 1 0 -5.6 0M1613.1 96.3a2.8 2.8 0 1 0 5.6 0a2.8 2.8 0 1 0 -5.6 0M1615.4 96.3a2.8 2.8 0 1 0 5.6 0a2.8 2.8 0 1 0 -5.6 0M1617.6 96.3a2.8 2.8 0 1 0 5.6 0a2.8 2.8 0 1 0 -5.6 0M1619.9 96.3a2.8 2.8 0 1 0 5.6 0a2.8 2.8 0 1 0 -5.6 0M1622.2 96.3a2.8 2.8 0 1 0 5.6 0a2.8 2.8 0 1 0 -5.6 0M1624.5 96.3a2.8 2.8 0 1 0 5.6 0a2.8 2.8 0 1 0 -5.6 0M1626.8 96.3a2.8 2.8 0 1 0 5.6 0a2.8 2.8 0 1 0 -5.6 0M1629 96.3a2.8 2.8 0 1 0 5.6 0a2.8 2.8 0 1 0 -5.6 0M1631.3 96.3a2.8 2.8 0 1 0 5.6 0a2.8 2.8 0 1 0 -5.6 0M1633.6 96.3a2.8 2.8 0 1 0 5.6 0a2.8 2.8 0 1 0 -5.6 0M1635.9 96.3a2.8 2.8 0 1 0 5.6 0a2.8 2.8 0 1 0 -5.6 0M1638.1 96.3a2.8 2.8 0 1 0 5.6 0a2.8 2.8 0 1 0 -5.6 0M1640.4 96.3a2.8 2.8 0 1 0 5.6 0a2.8 2.8 0 1 0 -5.6 0M1642.7 96.3a2.8 2.8 0 1 0 5.6 0a2.8 2.8 0 1 0 -5.6 0M1645 96.3a2.8 2.8 0 1 0 5.6 0a2.8 2.8 0 1 0 -5.6 0M1647.3 96.3a2.8 2.8 0 1 0 5.6 0a2.8 2.8 0 1 0 -5.6 0M1649.5 96.3a2.8 2.8 0 1 0 5.6 0a2.8 2.8 0 1 0 -5.6 0M1651.8 96.3a2.8 2.8 0 1 0 5.6 0a2.8 2.8 0 1 0 -5.6 0M1654.1 96.3a2.8 2.8 0 1 0 5.6 0a2.8 2.8 0 1 0 -5.6 0M1656.4 96.3a2.8 2.8 0 1 0 5.6 0a2.8 2.8 0 1 0 -5.6 0M1658.7 96.3a2.8 2.8 0 1 0 5.6 0a2.8 2.8 0 1 0 -5.6 0M1660.9 96.3a2.8 2.8 0 1 0 5.6 0a2.8 2.8 0 1 0 -5.6 0M1663.2 96.3a2.8 2.8 0 1 0 5.6 0a2.8 2.8 0 1 0 -5.6 0M1665.5 96.3a2.8 2.8 0 1 0 5.6 0a2.8 2.8 0 1 0 -5.6 0M1667.8 96.3a2.8 2.8 0 1 0 5.6 0a2.8 2.8 0 1 0 -5.6 0M1670.1 96.3a2.8 2.8 0 1 0 5.6 0a2.8 2.8 0 1 0 -5.6 0M1672.3 96.3a2.8 2.8 0 1 0 5.6 0a2.8 2.8 0 1 0 -5.6 0M1674.6 96.3a2.8 2.8 0 1 0 5.6 0a2.8 2.8 0 1 0 -5.6 0M1676.9 96.3a2.8 2.8 0 1 0 5.6 0a2.8 2.8 0 1 0 -5.6 0M1679.2 96.3a2.8 2.8 0 1 0 5.6 0a2.8 2.8 0 1 0 -5.6 0M1681.5 96.3a2.8 2.8 0 1 0 5.6 0a2.8 2.8 0 1 0 -5.6 0M1683.7 96.3a2.8 2.8 0 1 0 5.6 0a2.8 2.8 0 1 0 -5.6 0M1686 96.3a2.8 2.8 0 1 0 5.6 0a2.8 2.8 0 1 0 -5.6 0M1688.3 96.3a2.8 2.8 0 1 0 5.6 0a2.8 2.8 0 1 0 -5.6 0M1690.6 96.3a2.8 2.8 0 1 0 5.6 0a2.8 2.8 0 1 0 -5.6 0M1692.9 96.3a2.8 2.8 0 1 0 5.6 0a2.8 2.8 0 1 0 -5.6 0M1695.1 96.3a2.8 2.8 0 1 0 5.6 0a2.8 2.8 0 1 0 -5.6 0M1697.4 96.3a2.8 2.8 0 1 0 5.6 0a2.8 2.8 0 1 0 -5.6 0M1699.7 96.3a2.8 2.8 0 1 0 5.6 0a2.8 2.8 0 1 0 -5.6 0M1702 96.3a2.8 2.8 0 1 0 5.6 0a2.8 2.8 0 1 0 -5.6 0M1704.2 96.3a2.8 2.8 0 1 0 5.6 0a2.8 2.8 0 1 0 -5.6 0M1706.5 96.3a2.8 2.8 0 1 0 5.6 0a2.8 2.8 0 1 0 -5.6 0M1708.8 96.3a2.8 2.8 0 1 0 5.6 0a2.8 2.8 0 1 0 -5.6 0M1711.1 96.3a2.8 2.8 0 1 0 5.6 0a2.8 2.8 0 1 0 -5.6 0M1713.4 96.3a2.8 2.8 0 1 0 5.6 0a2.8 2.8 0 1 0 -5.6 0M1715.6 96.3a2.8 2.8 0 1 0 5.6 0a2.8 2.8 0 1 0 -5.6 0M1717.9 96.3a2.8 2.8 0 1 0 5.6 0a2.8 2.8 0 1 0 -5.6 0M1720.2 96.3a2.8 2.8 0 1 0 5.6 0a2.8 2.8 0 1 0 -5.6 0M1722.5 96.3a2.8 2.8 0 1 0 5.6 0a2.8 2.8 0 1 0 -5.6 0M1724.8 96.3a2.8 2.8 0 1 0 5.6 0a2.8 2.8 0 1 0 -5.6 0M1727 96.3a2.8 2.8 0 1 0 5.6 0a2.8 2.8 0 1 0 -5.6 0M1729.3 96.3a2.8 2.8 0 1 0 5.6 0a2.8 2.8 0 1 0 -5.6 0M1731.6 96.3a2.8 2.8 0 1 0 5.6 0a2.8 2.8 0 1 0 -5.6 0M1733.9 96.3a2.8 2.8 0 1 0 5.6 0a2.8 2.8 0 1 0 -5.6 0M1736.2 96.3a2.8 2.8 0 1 0 5.6 0a2.8 2.8 0 1 0 -5.6 0M1738.4 96.3a2.8 2.8 0 1 0 5.6 0a2.8 2.8 0 1 0 -5.6 0M1740.7 96.3a2.8 2.8 0 1 0 5.6 0a2.8 2.8 0 1 0 -5.6 0M1743 96.3a2.8 2.8 0 1 0 5.6 0a2.8 2.8 0 1 0 -5.6 0M1745.3 96.3a2.8 2.8 0 1 0 5.6 0a2.8 2.8 0 1 0 -5.6 0M1747.6 96.3a2.8 2.8 0 1 0 5.6 0a2.8 2.8 0 1 0 -5.6 0M1749.8 96.3a2.8 2.8 0 1 0 5.6 0a2.8 2.8 0 1 0 -5.6 0M1752.1 96.3a2.8 2.8 0 1 0 5.6 0a2.8 2.8 0 1 0 -5.6 0M1754.4 96.3a2.8 2.8 0 1 0 5.6 0a2.8 2.8 0 1 0 -5.6 0M1756.7 96.3a2.8 2.8 0 1 0 5.6 0a2.8 2.8 0 1 0 -5.6 0M1758.9 96.3a2.8 2.8 0 1 0 5.6 0a2.8 2.8 0 1 0 -5.6 0M1761.2 96.3a2.8 2.8 0 1 0 5.6 0a2.8 2.8 0 1 0 -5.6 0M1763.5 96.3a2.8 2.8 0 1 0 5.6 0a2.8 2.8 0 1 0 -5.6 0M1765.8 96.3a2.8 2.8 0 1 0 5.6 0a2.8 2.8 0 1 0 -5.6 0M1768.1 96.3a2.8 2.8 0 1 0 5.6 0a2.8 2.8 0 1 0 -5.6 0M1770.3 96.3a2.8 2.8 0 1 0 5.6 0a2.8 2.8 0 1 0 -5.6 0M1772.6 96.3a2.8 2.8 0 1 0 5.6 0a2.8 2.8 0 1 0 -5.6 0M1774.9 96.3a2.8 2.8 0 1 0 5.6 0a2.8 2.8 0 1 0 -5.6 0M1777.2 96.3a2.8 2.8 0 1 0 5.6 0a2.8 2.8 0 1 0 -5.6 0M1779.5 96.3a2.8 2.8 0 1 0 5.6 0a2.8 2.8 0 1 0 -5.6 0M1781.7 96.3a2.8 2.8 0 1 0 5.6 0a2.8 2.8 0 1 0 -5.6 0M1784 96.3a2.8 2.8 0 1 0 5.6 0a2.8 2.8 0 1 0 -5.6 0M1786.3 96.3a2.8 2.8 0 1 0 5.6 0a2.8 2.8 0 1 0 -5.6 0M1788.6 96.3a2.8 2.8 0 1 0 5.6 0a2.8 2.8 0 1 0 -5.6 0M1790.9 96.3a2.8 2.8 0 1 0 5.6 0a2.8 2.8 0 1 0 -5.6 0M1793.1 96.3a2.8 2.8 0 1 0 5.6 0a2.8 2.8 0 1 0 -5.6 0M1795.4 96.3a2.8 2.8 0 1 0 5.6 0a2.8 2.8 0 1 0 -5.6 0M1797.7 96.3a2.8 2.8 0 1 0 5.6 0a2.8 2.8 0 1 0 -5.6 0M1800 96.3a2.8 2.8 0 1 0 5.6 0a2.8 2.8 0 1 0 -5.6 0M1802.3 96.3a2.8 2.8 0 1 0 5.6 0a2.8 2.8 0 1 0 -5.6 0M1804.5 96.3a2.8 2.8 0 1 0 5.6 0a2.8 2.8 0 1 0 -5.6 0M1806.8 96.3a2.8 2.8 0 1 0 5.6 0a2.8 2.8 0 1 0 -5.6 0M1809.1 96.3a2.8 2.8 0 1 0 5.6 0a2.8 2.8 0 1 0 -5.6 0M1811.4 96.3a2.8 2.8 0 1 0 5.6 0a2.8 2.8 0 1 0 -5.6 0M1813.6 96.3a2.8 2.8 0 1 0 5.6 0a2.8 2.8 0 1 0 -5.6 0M1815.9 96.3a2.8 2.8 0 1 0 5.6 0a2.8 2.8 0 1 0 -5.6 0M1818.2 96.3a2.8 2.8 0 1 0 5.6 0a2.8 2.8 0 1 0 -5.6 0M1820.5 96.3a2.8 2.8 0 1 0 5.6 0a2.8 2.8 0 1 0 -5.6 0M1822.8 96.3a2.8 2.8 0 1 0 5.6 0a2.8 2.8 0 1 0 -5.6 0M1825 96.3a2.8 2.8 0 1 0 5.6 0a2.8 2.8 0 1 0 -5.6 0M1827.3 96.3a2.8 2.8 0 1 0 5.6 0a2.8 2.8 0 1 0 -5.6 0M1829.6 96.3a2.8 2.8 0 1 0 5.6 0a2.8 2.8 0 1 0 -5.6 0M1831.9 96.3a2.8 2.8 0 1 0 5.6 0a2.8 2.8 0 1 0 -5.6 0M1834.2 96.3a2.8 2.8 0 1 0 5.6 0a2.8 2.8 0 1 0 -5.6 0M1836.4 96.3a2.8 2.8 0 1 0 5.6 0a2.8 2.8 0 1 0 -5.6 0M1838.7 96.3a2.8 2.8 0 1 0 5.6 0a2.8 2.8 0 1 0 -5.6 0M1841 96.3a2.8 2.8 0 1 0 5.6 0a2.8 2.8 0 1 0 -5.6 0M1843.3 96.3a2.8 2.8 0 1 0 5.6 0a2.8 2.8 0 1 0 -5.6 0M1845.6 96.3a2.8 2.8 0 1 0 5.6 0a2.8 2.8 0 1 0 -5.6 0M1847.8 96.3a2.8 2.8 0 1 0 5.6 0a2.8 2.8 0 1 0 -5.6 0M1850.1 96.3a2.8 2.8 0 1 0 5.6 0a2.8 2.8 0 1 0 -5.6 0M1852.4 96.3a2.8 2.8 0 1 0 5.6 0a2.8 2.8 0 1 0 -5.6 0M1854.7 96.3a2.8 2.8 0 1 0 5.6 0a2.8 2.8 0 1 0 -5.6 0M1857 96.3a2.8 2.8 0 1 0 5.6 0a2.8 2.8 0 1 0 -5.6 0M1859.2 96.3a2.8 2.8 0 1 0 5.6 0a2.8 2.8 0 1 0 -5.6 0M1861.5 96.3a2.8 2.8 0 1 0 5.6 0a2.8 2.8 0 1 0 -5.6 0M1863.8 96.3a2.8 2.8 0 1 0 5.6 0a2.8 2.8 0 1 0 -5.6 0M1866.1 96.3a2.8 2.8 0 1 0 5.6 0a2.8 2.8 0 1 0 -5.6 0M1868.3 96.3a2.8 2.8 0 1 0 5.6 0a2.8 2.8 0 1 0 -5.6 0" fill="#0000ff"/>
<path d="M1611.3 334.3V327.3M1611.3 16.5V23.5M1676.4 334.3V327.3M1676.4 16.5V23.5M1741.6 334.3V327.3M1741.6 16.5V23.5M1806.7 334.3V327.3M1806.7 16.5V23.5M1546.2 254.9H1553.2M1871.8 254.9H1864.8M1546.2 175.4H1553.2M1871.8 175.4H1864.8M1546.2 96H1553.2M1871.8 96H1864.8" stroke="#000" stroke-width="1.4" fill="none"/>
<rect x="1546.2" y="16.5" width="325.6" height="317.8" fill="none" stroke="#000" stroke-width="1.4"/>
<text x="1546.2" y="368.9" font-size="40" text-anchor="middle"><tspan>1</tspan></text>
<text x="1611.3" y="368.9" font-size="40" text-anchor="middle"><tspan>2</tspan></text>
<text x="1676.4" y="368.9" font-size="40" text-anchor="middle"><tspan>3</tspan></text>
<text x="1741.6" y="368.9" font-size="40" text-anchor="middle"><tspan>4</tspan></text>
<text x="1806.7" y="368.9" font-size="40" text-anchor="middle"><tspan>5</tspan></text>
<text x="1871.8" y="368.9" font-size="40" text-anchor="middle"><tspan>6</tspan></text>
<text x="1538.7" y="348.7" font-size="40" text-anchor="end"><tspan>0</tspan></text>
<text x="1538.7" y="269.2" font-size="40" text-anchor="end"><tspan>0.1</tspan></text>
<text x="1538.7" y="189.8" font-size="40" text-anchor="end"><tspan>0.2</tspan></text>
<text x="1538.7" y="110.4" font-size="40" text-anchor="end"><tspan>0.3</tspan></text>
<text x="1538.7" y="30.9" font-size="40" text-anchor="end"><tspan>0.4</tspan></text>
<text x="1709" y="413.3" font-size="42" text-anchor="middle"><tspan font-style="italic">T</tspan><tspan> (K)</tspan></text>
<text x="1474" y="175.4" font-size="39.5" text-anchor="middle" transform="rotate(-90 1474 175.4)"><tspan font-style="italic">ρ</tspan><tspan dx="4.5">(mΩ cm)</tspan></text>
<text x="1645" y="57" font-size="34.5" fill="#0000ff"><tspan>Zr</tspan><tspan dy="5.5" dx="1" font-size="20.5">4</tspan><tspan dy="-5.5" dx="2.5">Rh</tspan><tspan dy="5.5" dx="1.5" font-size="20.5">2</tspan><tspan dy="-5.5" dx="2.5">O</tspan></text>
<text x="1846.6" y="71.5" font-size="47" text-anchor="end" font-weight="bold"><tspan>(</tspan><tspan dx="1.5">d</tspan><tspan dx="-1.8">)</tspan></text>
<text x="1552.5" y="89.3" font-size="33" fill="#0000ff"><tspan>6.5 T</tspan></text>
<text x="1790" y="188.2" font-size="33.5"><tspan>0 T</tspan></text>
<text x="1789" y="141.4" font-size="33"><tspan>10%</tspan></text>
<text x="1789" y="224.9" font-size="33"><tspan>50%</tspan></text>
<text x="1789" y="319.5" font-size="33"><tspan>90%</tspan></text>
<path d="M1782.5 174.3 Q1690 160 1568.5 97.1" fill="none" stroke="#000" stroke-width="3"/>
<path d="M1568.5 97.1 L1585 97.8 L1577.8 101.9 L1578.6 110.2 Z" fill="#000"/>
<path d="M218.6 625.7a3.3 3.3 0 1 0 6.6 0a3.3 3.3 0 1 0 -6.6 0M226.1 622.8a3.3 3.3 0 1 0 6.6 0a3.3 3.3 0 1 0 -6.6 0M233.7 619.7a3.3 3.3 0 1 0 6.6 0a3.3 3.3 0 1 0 -6.6 0M241.2 616.3a3.3 3.3 0 1 0 6.6 0a3.3 3.3 0 1 0 -6.6 0M248.8 612.7a3.3 3.3 0 1 0 6.6 0a3.3 3.3 0 1 0 -6.6 0M256.3 608.9a3.3 3.3 0 1 0 6.6 0a3.3 3.3 0 1 0 -6.6 0M263.9 604.9a3.3 3.3 0 1 0 6.6 0a3.3 3.3 0 1 0 -6.6 0M271.4 600.6a3.3 3.3 0 1 0 6.6 0a3.3 3.3 0 1 0 -6.6 0M279 596a3.3 3.3 0 1 0 6.6 0a3.3 3.3 0 1 0 -6.6 0M286.5 591a3.3 3.3 0 1 0 6.6 0a3.3 3.3 0 1 0 -6.6 0M294.1 585.6a3.3 3.3 0 1 0 6.6 0a3.3 3.3 0 1 0 -6.6 0M301.6 580.1a3.3 3.3 0 1 0 6.6 0a3.3 3.3 0 1 0 -6.6 0M309.2 574.2a3.3 3.3 0 1 0 6.6 0a3.3 3.3 0 1 0 -6.6 0M316.7 568.2a3.3 3.3 0 1 0 6.6 0a3.3 3.3 0 1 0 -6.6 0M324.3 561.9a3.3 3.3 0 1 0 6.6 0a3.3 3.3 0 1 0 -6.6 0M331.8 555.3a3.3 3.3 0 1 0 6.6 0a3.3 3.3 0 1 0 -6.6 0M339.4 548.5a3.3 3.3 0 1 0 6.6 0a3.3 3.3 0 1 0 -6.6 0M346.9 541.4a3.3 3.3 0 1 0 6.6 0a3.3 3.3 0 1 0 -6.6 0M354.5 534.3a3.3 3.3 0 1 0 6.6 0a3.3 3.3 0 1 0 -6.6 0M362.1 527.1a3.3 3.3 0 1 0 6.6 0a3.3 3.3 0 1 0 -6.6 0M369.6 519.8a3.3 3.3 0 1 0 6.6 0a3.3 3.3 0 1 0 -6.6 0M377.2 512.1a3.3 3.3 0 1 0 6.6 0a3.3 3.3 0 1 0 -6.6 0M384.7 504.2a3.3 3.3 0 1 0 6.6 0a3.3 3.3 0 1 0 -6.6 0M392.3 496a3.3 3.3 0 1 0 6.6 0a3.3 3.3 0 1 0 -6.6 0M399.8 487.5a3.3 3.3 0 1 0 6.6 0a3.3 3.3 0 1 0 -6.6 0M407.4 478.8a3.3 3.3 0 1 0 6.6 0a3.3 3.3 0 1 0 -6.6 0M414.9 469.8a3.3 3.3 0 1 0 6.6 0a3.3 3.3 0 1 0 -6.6 0M422.5 460.6a3.3 3.3 0 1 0 6.6 0a3.3 3.3 0 1 0 -6.6 0M430 451.1a3.3 3.3 0 1 0 6.6 0a3.3 3.3 0 1 0 -6.6 0" fill="#fff" stroke="#ff0000" stroke-width="1.1"/>
<path d="M221.1 556.5 L228.4 566 L235.8 583.4 L243.1 605.8 L250.4 620" fill="none" stroke="#ff0000" stroke-width="1"/>
<path d="M217.7 556.5a3.4 3.4 0 1 0 6.8 0a3.4 3.4 0 1 0 -6.8 0M225 566a3.4 3.4 0 1 0 6.8 0a3.4 3.4 0 1 0 -6.8 0M232.4 583.4a3.4 3.4 0 1 0 6.8 0a3.4 3.4 0 1 0 -6.8 0M239.7 605.8a3.4 3.4 0 1 0 6.8 0a3.4 3.4 0 1 0 -6.8 0M247 620a3.4 3.4 0 1 0 6.8 0a3.4 3.4 0 1 0 -6.8 0" fill="#ff0000"/>
<path d="M221.1 549.4 L228.4 557.9 L235.8 573.6 L243.1 593.9 L250.4 617.9 L257.8 616" fill="none" stroke="#df0000" stroke-width="1"/>
<path d="M217.7 549.4a3.4 3.4 0 1 0 6.8 0a3.4 3.4 0 1 0 -6.8 0M225 557.9a3.4 3.4 0 1 0 6.8 0a3.4 3.4 0 1 0 -6.8 0M232.4 573.6a3.4 3.4 0 1 0 6.8 0a3.4 3.4 0 1 0 -6.8 0M239.7 593.9a3.4 3.4 0 1 0 6.8 0a3.4 3.4 0 1 0 -6.8 0M247 617.9a3.4 3.4 0 1 0 6.8 0a3.4 3.4 0 1 0 -6.8 0M254.4 616a3.4 3.4 0 1 0 6.8 0a3.4 3.4 0 1 0 -6.8 0" fill="#df0000"/>
<path d="M221.1 554.9 L228.4 542.1 L235.8 553.5 L243.1 574.4 L250.4 601.5 L257.8 616" fill="none" stroke="#bf0000" stroke-width="1"/>
<path d="M217.7 554.9a3.4 3.4 0 1 0 6.8 0a3.4 3.4 0 1 0 -6.8 0M225 542.1a3.4 3.4 0 1 0 6.8 0a3.4 3.4 0 1 0 -6.8 0M232.4 553.5a3.4 3.4 0 1 0 6.8 0a3.4 3.4 0 1 0 -6.8 0M239.7 574.4a3.4 3.4 0 1 0 6.8 0a3.4 3.4 0 1 0 -6.8 0M247 601.5a3.4 3.4 0 1 0 6.8 0a3.4 3.4 0 1 0 -6.8 0M254.4 616a3.4 3.4 0 1 0 6.8 0a3.4 3.4 0 1 0 -6.8 0" fill="#bf0000"/>
<path d="M221.1 560.4 L228.4 547.5 L235.8 534.7 L243.1 550.4 L250.4 579.2 L257.8 616 L265.1 611.8" fill="none" stroke="#9f0000" stroke-width="1"/>
<path d="M217.7 560.4a3.4 3.4 0 1 0 6.8 0a3.4 3.4 0 1 0 -6.8 0M225 547.5a3.4 3.4 0 1 0 6.8 0a3.4 3.4 0 1 0 -6.8 0M232.4 534.7a3.4 3.4 0 1 0 6.8 0a3.4 3.4 0 1 0 -6.8 0M239.7 550.4a3.4 3.4 0 1 0 6.8 0a3.4 3.4 0 1 0 -6.8 0M247 579.2a3.4 3.4 0 1 0 6.8 0a3.4 3.4 0 1 0 -6.8 0M254.4 616a3.4 3.4 0 1 0 6.8 0a3.4 3.4 0 1 0 -6.8 0M261.7 611.8a3.4 3.4 0 1 0 6.8 0a3.4 3.4 0 1 0 -6.8 0" fill="#9f0000"/>
<path d="M221.1 552.8 L228.4 540 L235.8 527.1 L243.1 540.7 L250.4 565.5 L257.8 597.6 L265.1 611.8" fill="none" stroke="#800000" stroke-width="1"/>
<path d="M217.7 552.8a3.4 3.4 0 1 0 6.8 0a3.4 3.4 0 1 0 -6.8 0M225 540a3.4 3.4 0 1 0 6.8 0a3.4 3.4 0 1 0 -6.8 0M232.4 527.1a3.4 3.4 0 1 0 6.8 0a3.4 3.4 0 1 0 -6.8 0M239.7 540.7a3.4 3.4 0 1 0 6.8 0a3.4 3.4 0 1 0 -6.8 0M247 565.5a3.4 3.4 0 1 0 6.8 0a3.4 3.4 0 1 0 -6.8 0M254.4 597.6a3.4 3.4 0 1 0 6.8 0a3.4 3.4 0 1 0 -6.8 0M261.7 611.8a3.4 3.4 0 1 0 6.8 0a3.4 3.4 0 1 0 -6.8 0" fill="#800000"/>
<path d="M221.1 545.1 L228.4 532.2 L235.8 519.4 L243.1 531.4 L250.4 553.3 L257.8 581.6 L265.1 611.8" fill="none" stroke="#600000" stroke-width="1"/>
<path d="M217.7 545.1a3.4 3.4 0 1 0 6.8 0a3.4 3.4 0 1 0 -6.8 0M225 532.2a3.4 3.4 0 1 0 6.8 0a3.4 3.4 0 1 0 -6.8 0M232.4 519.4a3.4 3.4 0 1 0 6.8 0a3.4 3.4 0 1 0 -6.8 0M239.7 531.4a3.4 3.4 0 1 0 6.8 0a3.4 3.4 0 1 0 -6.8 0M247 553.3a3.4 3.4 0 1 0 6.8 0a3.4 3.4 0 1 0 -6.8 0M254.4 581.6a3.4 3.4 0 1 0 6.8 0a3.4 3.4 0 1 0 -6.8 0M261.7 611.8a3.4 3.4 0 1 0 6.8 0a3.4 3.4 0 1 0 -6.8 0" fill="#600000"/>
<path d="M228.4 537 L235.8 524.2 L243.1 511.4 L250.4 527.3 L257.8 556.4 L265.1 594.1 L272.4 607.4" fill="none" stroke="#400000" stroke-width="1"/>
<path d="M225 537a3.4 3.4 0 1 0 6.8 0a3.4 3.4 0 1 0 -6.8 0M232.4 524.2a3.4 3.4 0 1 0 6.8 0a3.4 3.4 0 1 0 -6.8 0M239.7 511.4a3.4 3.4 0 1 0 6.8 0a3.4 3.4 0 1 0 -6.8 0M247 527.3a3.4 3.4 0 1 0 6.8 0a3.4 3.4 0 1 0 -6.8 0M254.4 556.4a3.4 3.4 0 1 0 6.8 0a3.4 3.4 0 1 0 -6.8 0M261.7 594.1a3.4 3.4 0 1 0 6.8 0a3.4 3.4 0 1 0 -6.8 0M269 607.4a3.4 3.4 0 1 0 6.8 0a3.4 3.4 0 1 0 -6.8 0" fill="#400000"/>
<path d="M235.8 528.6 L243.1 515.8 L250.4 503 L257.8 525 L265.1 565.2 L272.4 607.4" fill="none" stroke="#200000" stroke-width="1"/>
<path d="M232.4 528.6a3.4 3.4 0 1 0 6.8 0a3.4 3.4 0 1 0 -6.8 0M239.7 515.8a3.4 3.4 0 1 0 6.8 0a3.4 3.4 0 1 0 -6.8 0M247 503a3.4 3.4 0 1 0 6.8 0a3.4 3.4 0 1 0 -6.8 0M254.4 525a3.4 3.4 0 1 0 6.8 0a3.4 3.4 0 1 0 -6.8 0M261.7 565.2a3.4 3.4 0 1 0 6.8 0a3.4 3.4 0 1 0 -6.8 0M269 607.4a3.4 3.4 0 1 0 6.8 0a3.4 3.4 0 1 0 -6.8 0" fill="#200000"/>
<path d="M235.8 518.9 L243.1 506 L250.4 493.2 L257.8 512 L265.1 546.4 L272.4 591 L279.8 602.8" fill="none" stroke="#000000" stroke-width="1"/>
<path d="M232.4 518.9a3.4 3.4 0 1 0 6.8 0a3.4 3.4 0 1 0 -6.8 0M239.7 506a3.4 3.4 0 1 0 6.8 0a3.4 3.4 0 1 0 -6.8 0M247 493.2a3.4 3.4 0 1 0 6.8 0a3.4 3.4 0 1 0 -6.8 0M254.4 512a3.4 3.4 0 1 0 6.8 0a3.4 3.4 0 1 0 -6.8 0M261.7 546.4a3.4 3.4 0 1 0 6.8 0a3.4 3.4 0 1 0 -6.8 0M269 591a3.4 3.4 0 1 0 6.8 0a3.4 3.4 0 1 0 -6.8 0M276.4 602.8a3.4 3.4 0 1 0 6.8 0a3.4 3.4 0 1 0 -6.8 0" fill="#000000"/>
<path d="M245.8 623.3 L253.3 619.4 L260.9 615.2 L268.4 610.8 L276 606.2 L283.5 601.3 L291.1 596.1 L298.6 590.8 L306.2 585.1 L313.7 579.3 L321.3 573.2 L328.8 566.8 L336.4 560.2 L343.9 553.3 L351.5 546.2 L359.1 539.1 L366.6 531.7 L374.2 524.2 L381.7 516.3 L389.3 508.2 L396.8 499.9 L404.4 491.2 L411.9 482.3 L419.5 473.2 L427 463.7 L434.6 454 L442.1 444" fill="none" stroke="#ff0000" stroke-width="1"/>
<path d="M242.4 623.3a3.4 3.4 0 1 0 6.8 0a3.4 3.4 0 1 0 -6.8 0M249.9 619.4a3.4 3.4 0 1 0 6.8 0a3.4 3.4 0 1 0 -6.8 0M257.5 615.2a3.4 3.4 0 1 0 6.8 0a3.4 3.4 0 1 0 -6.8 0M265 610.8a3.4 3.4 0 1 0 6.8 0a3.4 3.4 0 1 0 -6.8 0M272.6 606.2a3.4 3.4 0 1 0 6.8 0a3.4 3.4 0 1 0 -6.8 0M280.1 601.3a3.4 3.4 0 1 0 6.8 0a3.4 3.4 0 1 0 -6.8 0M287.7 596.1a3.4 3.4 0 1 0 6.8 0a3.4 3.4 0 1 0 -6.8 0M295.2 590.8a3.4 3.4 0 1 0 6.8 0a3.4 3.4 0 1 0 -6.8 0M302.8 585.1a3.4 3.4 0 1 0 6.8 0a3.4 3.4 0 1 0 -6.8 0M310.3 579.3a3.4 3.4 0 1 0 6.8 0a3.4 3.4 0 1 0 -6.8 0M317.9 573.2a3.4 3.4 0 1 0 6.8 0a3.4 3.4 0 1 0 -6.8 0M325.4 566.8a3.4 3.4 0 1 0 6.8 0a3.4 3.4 0 1 0 -6.8 0M333 560.2a3.4 3.4 0 1 0 6.8 0a3.4 3.4 0 1 0 -6.8 0M340.5 553.3a3.4 3.4 0 1 0 6.8 0a3.4 3.4 0 1 0 -6.8 0M348.1 546.2a3.4 3.4 0 1 0 6.8 0a3.4 3.4 0 1 0 -6.8 0M355.7 539.1a3.4 3.4 0 1 0 6.8 0a3.4 3.4 0 1 0 -6.8 0M363.2 531.7a3.4 3.4 0 1 0 6.8 0a3.4 3.4 0 1 0 -6.8 0M370.8 524.2a3.4 3.4 0 1 0 6.8 0a3.4 3.4 0 1 0 -6.8 0M378.3 516.3a3.4 3.4 0 1 0 6.8 0a3.4 3.4 0 1 0 -6.8 0M385.9 508.2a3.4 3.4 0 1 0 6.8 0a3.4 3.4 0 1 0 -6.8 0M393.4 499.9a3.4 3.4 0 1 0 6.8 0a3.4 3.4 0 1 0 -6.8 0M401 491.2a3.4 3.4 0 1 0 6.8 0a3.4 3.4 0 1 0 -6.8 0M408.5 482.3a3.4 3.4 0 1 0 6.8 0a3.4 3.4 0 1 0 -6.8 0M416.1 473.2a3.4 3.4 0 1 0 6.8 0a3.4 3.4 0 1 0 -6.8 0M423.6 463.7a3.4 3.4 0 1 0 6.8 0a3.4 3.4 0 1 0 -6.8 0M431.2 454a3.4 3.4 0 1 0 6.8 0a3.4 3.4 0 1 0 -6.8 0M438.7 444a3.4 3.4 0 1 0 6.8 0a3.4 3.4 0 1 0 -6.8 0" fill="#ff0000"/>
<path d="M305.2 582a3 3 0 1 0 6 0a3 3 0 1 0 -6 0M396 495.8a3 3 0 1 0 6 0a3 3 0 1 0 -6 0" fill="#000"/>
<path d="M120.8 650 L122.4 650 L124.1 650 L125.7 649.9 L127.4 649.9 L129 649.8 L130.6 649.8 L132.3 649.7 L133.9 649.6 L135.5 649.5 L137.2 649.4 L138.8 649.3 L140.5 649.2 L142.1 649.1 L143.7 648.9 L145.4 648.8 L147 648.6 L148.6 648.4 L150.3 648.2 L151.9 648 L153.6 647.8 L155.2 647.6 L156.8 647.4 L158.5 647.1 L160.1 646.9 L161.8 646.6 L163.4 646.3 L165 646.1 L166.7 645.8 L168.3 645.5 L169.9 645.1 L171.6 644.8 L173.2 644.5 L174.9 644.1 L176.5 643.8 L178.1 643.4 L179.8 643 L181.4 642.6 L183.1 642.2 L184.7 641.8 L186.3 641.4 L188 640.9 L189.6 640.5 L191.2 640 L192.9 639.6 L194.5 639.1 L196.2 638.6 L197.8 638.1 L199.4 637.6 L201.1 637.1 L202.7 636.5 L204.3 636 L206 635.4 L207.6 634.9 L209.3 634.3 L210.9 633.7 L212.5 633.1 L214.2 632.5 L215.8 631.9 L217.5 631.2 L219.1 630.6 L220.7 629.9 L222.4 629.3 L224 628.6 L225.6 627.9 L227.3 627.2 L228.9 626.5 L230.6 625.8 L232.2 625 L233.8 624.3 L235.5 623.6 L237.1 622.8 L238.7 622 L240.4 621.2 L242 620.4 L243.7 619.6 L245.3 618.8 L246.9 618 L248.6 617.1 L250.2 616.3 L251.9 615.4 L253.5 614.5 L255.1 613.7 L256.8 612.8 L258.4 611.8 L260 610.9 L261.7 610 L263.3 609.1 L265 608.1 L266.6 607.1 L268.2 606.2 L269.9 605.2 L271.5 604.2 L273.2 603.2 L274.8 602.1 L276.4 601.1 L278.1 600.1 L279.7 599 L281.3 597.9 L283 596.9 L284.6 595.8 L286.3 594.7 L287.9 593.6 L289.5 592.5 L291.2 591.3 L292.8 590.2 L294.4 589 L296.1 587.8 L297.7 586.7 L299.4 585.5 L301 584.3 L302.6 583.1 L304.3 581.8 L305.9 580.6 L307.6 579.3 L309.2 578.1 L310.8 576.8 L312.5 575.5 L314.1 574.2 L315.7 572.9 L317.4 571.6 L319 570.3 L320.7 568.9 L322.3 567.6 L323.9 566.2 L325.6 564.8 L327.2 563.5 L328.9 562.1 L330.5 560.6 L332.1 559.2 L333.8 557.8 L335.4 556.3 L337 554.9 L338.7 553.4 L340.3 551.9 L342 550.4 L343.6 548.9 L345.2 547.4 L346.9 545.9 L348.5 544.3 L350.1 542.8 L351.8 541.2 L353.4 539.6 L355.1 538 L356.7 536.4 L358.3 534.8 L360 533.2 L361.6 531.6 L363.3 529.9 L364.9 528.3 L366.5 526.6 L368.2 524.9 L369.8 523.2 L371.4 521.5 L373.1 519.8 L374.7 518 L376.4 516.3 L378 514.5 L379.6 512.7 L381.3 511 L382.9 509.2 L384.5 507.4 L386.2 505.5 L387.8 503.7 L389.5 501.8 L391.1 500 L392.7 498.1 L394.4 496.2 L396 494.3 L397.7 492.4 L399.3 490.5 L400.9 488.6 L402.6 486.6 L404.2 484.7 L405.8 482.7 L407.5 480.7 L409.1 478.7 L410.8 476.7 L412.4 474.7 L414 472.7 L415.7 470.6 L417.3 468.5 L419 466.5 L420.6 464.4 L422.2 462.3 L423.9 460.2 L425.5 458 L427.1 455.9 L428.8 453.8 L430.4 451.6 L432.1 449.4 L433.7 447.2 L435.3 445 L437 442.8 L438.6 440.6 L440.2 438.3 L441.8 436.2" fill="none" stroke="#000" stroke-width="1.3"/>
<path d="M229.5 752.9V745.9M229.5 436.2V443.2M338.1 752.9V745.9M338.1 436.2V443.2M120.8 689.6H127.8M446.8 689.6H439.8M120.8 626.2H127.8M446.8 626.2H439.8M120.8 562.9H127.8M446.8 562.9H439.8M120.8 499.5H127.8M446.8 499.5H439.8" stroke="#000" stroke-width="1.4" fill="none"/>
<rect x="120.8" y="436.2" width="326" height="316.7" fill="none" stroke="#000" stroke-width="1.4"/>
<text x="120.8" y="787.5" font-size="40" text-anchor="middle"><tspan>0</tspan></text>
<text x="229.5" y="787.5" font-size="40" text-anchor="middle"><tspan>2</tspan></text>
<text x="338.1" y="787.5" font-size="40" text-anchor="middle"><tspan>4</tspan></text>
<text x="446.8" y="787.5" font-size="40" text-anchor="middle"><tspan>6</tspan></text>
<text x="113.3" y="767.3" font-size="40" text-anchor="end"><tspan>0</tspan></text>
<text x="113.3" y="704" font-size="40" text-anchor="end"><tspan>20</tspan></text>
<text x="113.3" y="640.6" font-size="40" text-anchor="end"><tspan>40</tspan></text>
<text x="113.3" y="577.3" font-size="40" text-anchor="end"><tspan>60</tspan></text>
<text x="113.3" y="513.9" font-size="40" text-anchor="end"><tspan>80</tspan></text>
<text x="113.3" y="450.6" font-size="40" text-anchor="end"><tspan>100</tspan></text>
<text x="283.8" y="831.9" font-size="42" text-anchor="middle"><tspan font-style="italic">T</tspan><tspan> (K)</tspan></text>
<text x="35.5" y="594.5" font-size="41" text-anchor="middle" transform="rotate(-90 35.5 594.5)"><tspan font-style="italic">C</tspan><tspan dy="3" dx="1.5" font-size="52">/</tspan><tspan dy="-3" dx="1.5" font-style="italic">T</tspan><tspan> (mJ/K</tspan><tspan dy="-15" dx="2" font-size="26">2</tspan><tspan dy="15" dx="2"> mol)</tspan></text>
<text x="130.3" y="491" font-size="47" font-weight="bold"><tspan>(</tspan><tspan dx="1.5">e</tspan><tspan dx="1.5">)</tspan></text>
<text x="219.3" y="476.9" font-size="34.5" fill="#ff0000"><tspan>Zr</tspan><tspan dy="5.5" dx="1" font-size="20.5">4</tspan><tspan dy="-5.5" dx="2.5">Pd</tspan><tspan dy="5.5" dx="1.5" font-size="20.5">2</tspan><tspan dy="-5.5" dx="2.5">O</tspan></text>
<text x="283.5" y="530.8" font-size="33"><tspan>0 T</tspan></text>
<text x="157.5" y="581.5" font-size="34" fill="#ff0000"><tspan>2 T</tspan></text>
<text x="186.3" y="617.3" font-size="33" fill="#ff0000"><tspan>9 T</tspan></text>
<path d="M280.2 533.3L207.5 574.6M218.5 574.7L207.5 574.6L213.1 565.1" fill="none" stroke="#000" stroke-width="2.3" stroke-linecap="round" stroke-linejoin="miter"/>
<text x="170.2" y="689.8" font-size="33"><tspan font-style="italic">γ</tspan><tspan dx="2"> = 32.5 mJ/K</tspan><tspan dy="-13" dx="2.5" font-size="21.5">2</tspan><tspan dy="13" dx="3.5"> mol</tspan></text>
<text x="171.3" y="737.8" font-size="33"><tspan>Θ</tspan><tspan dy="6" dx="3" font-size="22.5">D</tspan><tspan dy="-6" dx="3.5"> = 194 K</tspan></text>
<path d="M693.5 625.6a3.3 3.3 0 1 0 6.6 0a3.3 3.3 0 1 0 -6.6 0M701 623.1a3.3 3.3 0 1 0 6.6 0a3.3 3.3 0 1 0 -6.6 0M708.5 620.3a3.3 3.3 0 1 0 6.6 0a3.3 3.3 0 1 0 -6.6 0M716.1 617.2a3.3 3.3 0 1 0 6.6 0a3.3 3.3 0 1 0 -6.6 0M723.6 613.8a3.3 3.3 0 1 0 6.6 0a3.3 3.3 0 1 0 -6.6 0M731.2 610a3.3 3.3 0 1 0 6.6 0a3.3 3.3 0 1 0 -6.6 0M738.7 605.9a3.3 3.3 0 1 0 6.6 0a3.3 3.3 0 1 0 -6.6 0M746.2 601.5a3.3 3.3 0 1 0 6.6 0a3.3 3.3 0 1 0 -6.6 0M753.8 596.7a3.3 3.3 0 1 0 6.6 0a3.3 3.3 0 1 0 -6.6 0M761.3 591.5a3.3 3.3 0 1 0 6.6 0a3.3 3.3 0 1 0 -6.6 0M768.8 586a3.3 3.3 0 1 0 6.6 0a3.3 3.3 0 1 0 -6.6 0M776.4 580a3.3 3.3 0 1 0 6.6 0a3.3 3.3 0 1 0 -6.6 0M783.9 573.6a3.3 3.3 0 1 0 6.6 0a3.3 3.3 0 1 0 -6.6 0M791.4 566a3.3 3.3 0 1 0 6.6 0a3.3 3.3 0 1 0 -6.6 0M799 557.8a3.3 3.3 0 1 0 6.6 0a3.3 3.3 0 1 0 -6.6 0M806.5 549.2a3.3 3.3 0 1 0 6.6 0a3.3 3.3 0 1 0 -6.6 0M814.1 540.1a3.3 3.3 0 1 0 6.6 0a3.3 3.3 0 1 0 -6.6 0M821.6 530.5a3.3 3.3 0 1 0 6.6 0a3.3 3.3 0 1 0 -6.6 0M829.1 520.3a3.3 3.3 0 1 0 6.6 0a3.3 3.3 0 1 0 -6.6 0M836.7 509.6a3.3 3.3 0 1 0 6.6 0a3.3 3.3 0 1 0 -6.6 0M844.2 498.5a3.3 3.3 0 1 0 6.6 0a3.3 3.3 0 1 0 -6.6 0M851.7 486.9a3.3 3.3 0 1 0 6.6 0a3.3 3.3 0 1 0 -6.6 0M859.3 474.7a3.3 3.3 0 1 0 6.6 0a3.3 3.3 0 1 0 -6.6 0M866.8 461.9a3.3 3.3 0 1 0 6.6 0a3.3 3.3 0 1 0 -6.6 0M874.3 448.4a3.3 3.3 0 1 0 6.6 0a3.3 3.3 0 1 0 -6.6 0M881.9 434.2a3.3 3.3 0 1 0 6.6 0a3.3 3.3 0 1 0 -6.6 0" fill="#fff" stroke="#0000ff" stroke-width="1.1"/>
<path d="M697.3 577.3 L704.7 567.1 L712.2 560.2 L719.6 556.7 L727 558.5 L734.5 567.8 L741.9 579.5 L749.3 592.7 L756.7 593.7 L764.2 587.7" fill="none" stroke="#0000ff" stroke-width="1"/>
<path d="M694 577.3a3.3 3.3 0 1 0 6.6 0a3.3 3.3 0 1 0 -6.6 0M701.4 567.1a3.3 3.3 0 1 0 6.6 0a3.3 3.3 0 1 0 -6.6 0M708.9 560.2a3.3 3.3 0 1 0 6.6 0a3.3 3.3 0 1 0 -6.6 0M716.3 556.7a3.3 3.3 0 1 0 6.6 0a3.3 3.3 0 1 0 -6.6 0M723.7 558.5a3.3 3.3 0 1 0 6.6 0a3.3 3.3 0 1 0 -6.6 0M731.2 567.8a3.3 3.3 0 1 0 6.6 0a3.3 3.3 0 1 0 -6.6 0M738.6 579.5a3.3 3.3 0 1 0 6.6 0a3.3 3.3 0 1 0 -6.6 0M746 592.7a3.3 3.3 0 1 0 6.6 0a3.3 3.3 0 1 0 -6.6 0M753.4 593.7a3.3 3.3 0 1 0 6.6 0a3.3 3.3 0 1 0 -6.6 0M760.9 587.7a3.3 3.3 0 1 0 6.6 0a3.3 3.3 0 1 0 -6.6 0" fill="#0000ff"/>
<path d="M697.3 582.6 L704.7 569.7 L712.2 560 L719.6 553.5 L727 550.3 L734.5 553.1 L741.9 562.9 L749.3 575.1 L756.7 588.8 L764.2 587.7 L771.6 581.4" fill="none" stroke="#0000df" stroke-width="1"/>
<path d="M694 582.6a3.3 3.3 0 1 0 6.6 0a3.3 3.3 0 1 0 -6.6 0M701.4 569.7a3.3 3.3 0 1 0 6.6 0a3.3 3.3 0 1 0 -6.6 0M708.9 560a3.3 3.3 0 1 0 6.6 0a3.3 3.3 0 1 0 -6.6 0M716.3 553.5a3.3 3.3 0 1 0 6.6 0a3.3 3.3 0 1 0 -6.6 0M723.7 550.3a3.3 3.3 0 1 0 6.6 0a3.3 3.3 0 1 0 -6.6 0M731.2 553.1a3.3 3.3 0 1 0 6.6 0a3.3 3.3 0 1 0 -6.6 0M738.6 562.9a3.3 3.3 0 1 0 6.6 0a3.3 3.3 0 1 0 -6.6 0M746 575.1a3.3 3.3 0 1 0 6.6 0a3.3 3.3 0 1 0 -6.6 0M753.4 588.8a3.3 3.3 0 1 0 6.6 0a3.3 3.3 0 1 0 -6.6 0M760.9 587.7a3.3 3.3 0 1 0 6.6 0a3.3 3.3 0 1 0 -6.6 0M768.3 581.4a3.3 3.3 0 1 0 6.6 0a3.3 3.3 0 1 0 -6.6 0" fill="#0000df"/>
<path d="M697.3 587.9 L704.7 573.1 L712.2 561.3 L719.6 552.5 L727 546.8 L734.5 544 L741.9 547.8 L749.3 558 L756.7 570.5 L764.2 584.6 L771.6 581.4 L779 574.7" fill="none" stroke="#0000bf" stroke-width="1"/>
<path d="M694 587.9a3.3 3.3 0 1 0 6.6 0a3.3 3.3 0 1 0 -6.6 0M701.4 573.1a3.3 3.3 0 1 0 6.6 0a3.3 3.3 0 1 0 -6.6 0M708.9 561.3a3.3 3.3 0 1 0 6.6 0a3.3 3.3 0 1 0 -6.6 0M716.3 552.5a3.3 3.3 0 1 0 6.6 0a3.3 3.3 0 1 0 -6.6 0M723.7 546.8a3.3 3.3 0 1 0 6.6 0a3.3 3.3 0 1 0 -6.6 0M731.2 544a3.3 3.3 0 1 0 6.6 0a3.3 3.3 0 1 0 -6.6 0M738.6 547.8a3.3 3.3 0 1 0 6.6 0a3.3 3.3 0 1 0 -6.6 0M746 558a3.3 3.3 0 1 0 6.6 0a3.3 3.3 0 1 0 -6.6 0M753.4 570.5a3.3 3.3 0 1 0 6.6 0a3.3 3.3 0 1 0 -6.6 0M760.9 584.6a3.3 3.3 0 1 0 6.6 0a3.3 3.3 0 1 0 -6.6 0M768.3 581.4a3.3 3.3 0 1 0 6.6 0a3.3 3.3 0 1 0 -6.6 0M775.7 574.7a3.3 3.3 0 1 0 6.6 0a3.3 3.3 0 1 0 -6.6 0" fill="#0000bf"/>
<path d="M697.3 593.1 L704.7 577 L712.2 563.6 L719.6 552.9 L727 545.1 L734.5 540.1 L741.9 537.8 L749.3 542.4 L756.7 553 L764.2 565.8 L771.6 581.4 L779 574.7 L786.4 567.6" fill="none" stroke="#00009f" stroke-width="1"/>
<path d="M694 593.1a3.3 3.3 0 1 0 6.6 0a3.3 3.3 0 1 0 -6.6 0M701.4 577a3.3 3.3 0 1 0 6.6 0a3.3 3.3 0 1 0 -6.6 0M708.9 563.6a3.3 3.3 0 1 0 6.6 0a3.3 3.3 0 1 0 -6.6 0M716.3 552.9a3.3 3.3 0 1 0 6.6 0a3.3 3.3 0 1 0 -6.6 0M723.7 545.1a3.3 3.3 0 1 0 6.6 0a3.3 3.3 0 1 0 -6.6 0M731.2 540.1a3.3 3.3 0 1 0 6.6 0a3.3 3.3 0 1 0 -6.6 0M738.6 537.8a3.3 3.3 0 1 0 6.6 0a3.3 3.3 0 1 0 -6.6 0M746 542.4a3.3 3.3 0 1 0 6.6 0a3.3 3.3 0 1 0 -6.6 0M753.4 553a3.3 3.3 0 1 0 6.6 0a3.3 3.3 0 1 0 -6.6 0M760.9 565.8a3.3 3.3 0 1 0 6.6 0a3.3 3.3 0 1 0 -6.6 0M768.3 581.4a3.3 3.3 0 1 0 6.6 0a3.3 3.3 0 1 0 -6.6 0M775.7 574.7a3.3 3.3 0 1 0 6.6 0a3.3 3.3 0 1 0 -6.6 0M783.1 567.6a3.3 3.3 0 1 0 6.6 0a3.3 3.3 0 1 0 -6.6 0" fill="#00009f"/>
<path d="M697.3 598.4 L704.7 581.2 L712.2 566.5 L719.6 554.4 L727 544.8 L734.5 537.9 L741.9 533.4 L749.3 531.6 L756.7 537.1 L764.2 547.9 L771.6 560.9 L779 574.7 L786.4 567.6 L793.9 560 L801.3 552" fill="none" stroke="#000080" stroke-width="1"/>
<path d="M694 598.4a3.3 3.3 0 1 0 6.6 0a3.3 3.3 0 1 0 -6.6 0M701.4 581.2a3.3 3.3 0 1 0 6.6 0a3.3 3.3 0 1 0 -6.6 0M708.9 566.5a3.3 3.3 0 1 0 6.6 0a3.3 3.3 0 1 0 -6.6 0M716.3 554.4a3.3 3.3 0 1 0 6.6 0a3.3 3.3 0 1 0 -6.6 0M723.7 544.8a3.3 3.3 0 1 0 6.6 0a3.3 3.3 0 1 0 -6.6 0M731.2 537.9a3.3 3.3 0 1 0 6.6 0a3.3 3.3 0 1 0 -6.6 0M738.6 533.4a3.3 3.3 0 1 0 6.6 0a3.3 3.3 0 1 0 -6.6 0M746 531.6a3.3 3.3 0 1 0 6.6 0a3.3 3.3 0 1 0 -6.6 0M753.4 537.1a3.3 3.3 0 1 0 6.6 0a3.3 3.3 0 1 0 -6.6 0M760.9 547.9a3.3 3.3 0 1 0 6.6 0a3.3 3.3 0 1 0 -6.6 0M768.3 560.9a3.3 3.3 0 1 0 6.6 0a3.3 3.3 0 1 0 -6.6 0M775.7 574.7a3.3 3.3 0 1 0 6.6 0a3.3 3.3 0 1 0 -6.6 0M783.1 567.6a3.3 3.3 0 1 0 6.6 0a3.3 3.3 0 1 0 -6.6 0M790.6 560a3.3 3.3 0 1 0 6.6 0a3.3 3.3 0 1 0 -6.6 0M798 552a3.3 3.3 0 1 0 6.6 0a3.3 3.3 0 1 0 -6.6 0" fill="#000080"/>
<path d="M697.3 603.7 L704.7 585.7 L712.2 569.9 L719.6 556.6 L727 545.6 L734.5 537 L741.9 530.8 L749.3 526.9 L756.7 525.4 L764.2 531.7 L771.6 542.7 L779 555.7 L786.4 567.6 L793.9 560 L801.3 552 L808.7 543.6" fill="none" stroke="#000060" stroke-width="1"/>
<path d="M694 603.7a3.3 3.3 0 1 0 6.6 0a3.3 3.3 0 1 0 -6.6 0M701.4 585.7a3.3 3.3 0 1 0 6.6 0a3.3 3.3 0 1 0 -6.6 0M708.9 569.9a3.3 3.3 0 1 0 6.6 0a3.3 3.3 0 1 0 -6.6 0M716.3 556.6a3.3 3.3 0 1 0 6.6 0a3.3 3.3 0 1 0 -6.6 0M723.7 545.6a3.3 3.3 0 1 0 6.6 0a3.3 3.3 0 1 0 -6.6 0M731.2 537a3.3 3.3 0 1 0 6.6 0a3.3 3.3 0 1 0 -6.6 0M738.6 530.8a3.3 3.3 0 1 0 6.6 0a3.3 3.3 0 1 0 -6.6 0M746 526.9a3.3 3.3 0 1 0 6.6 0a3.3 3.3 0 1 0 -6.6 0M753.4 525.4a3.3 3.3 0 1 0 6.6 0a3.3 3.3 0 1 0 -6.6 0M760.9 531.7a3.3 3.3 0 1 0 6.6 0a3.3 3.3 0 1 0 -6.6 0M768.3 542.7a3.3 3.3 0 1 0 6.6 0a3.3 3.3 0 1 0 -6.6 0M775.7 555.7a3.3 3.3 0 1 0 6.6 0a3.3 3.3 0 1 0 -6.6 0M783.1 567.6a3.3 3.3 0 1 0 6.6 0a3.3 3.3 0 1 0 -6.6 0M790.6 560a3.3 3.3 0 1 0 6.6 0a3.3 3.3 0 1 0 -6.6 0M798 552a3.3 3.3 0 1 0 6.6 0a3.3 3.3 0 1 0 -6.6 0M805.4 543.6a3.3 3.3 0 1 0 6.6 0a3.3 3.3 0 1 0 -6.6 0" fill="#000060"/>
<path d="M697.3 609 L704.7 590.3 L712.2 573.7 L719.6 559.3 L727 547.2 L734.5 537.2 L741.9 529.4 L749.3 523.8 L756.7 520.4 L764.2 519.2 L771.6 526.3 L779 537.3 L786.4 550.3 L793.9 560 L801.3 552 L808.7 543.6 L816.2 534.7" fill="none" stroke="#000040" stroke-width="1"/>
<path d="M694 609a3.3 3.3 0 1 0 6.6 0a3.3 3.3 0 1 0 -6.6 0M701.4 590.3a3.3 3.3 0 1 0 6.6 0a3.3 3.3 0 1 0 -6.6 0M708.9 573.7a3.3 3.3 0 1 0 6.6 0a3.3 3.3 0 1 0 -6.6 0M716.3 559.3a3.3 3.3 0 1 0 6.6 0a3.3 3.3 0 1 0 -6.6 0M723.7 547.2a3.3 3.3 0 1 0 6.6 0a3.3 3.3 0 1 0 -6.6 0M731.2 537.2a3.3 3.3 0 1 0 6.6 0a3.3 3.3 0 1 0 -6.6 0M738.6 529.4a3.3 3.3 0 1 0 6.6 0a3.3 3.3 0 1 0 -6.6 0M746 523.8a3.3 3.3 0 1 0 6.6 0a3.3 3.3 0 1 0 -6.6 0M753.4 520.4a3.3 3.3 0 1 0 6.6 0a3.3 3.3 0 1 0 -6.6 0M760.9 519.2a3.3 3.3 0 1 0 6.6 0a3.3 3.3 0 1 0 -6.6 0M768.3 526.3a3.3 3.3 0 1 0 6.6 0a3.3 3.3 0 1 0 -6.6 0M775.7 537.3a3.3 3.3 0 1 0 6.6 0a3.3 3.3 0 1 0 -6.6 0M783.1 550.3a3.3 3.3 0 1 0 6.6 0a3.3 3.3 0 1 0 -6.6 0M790.6 560a3.3 3.3 0 1 0 6.6 0a3.3 3.3 0 1 0 -6.6 0M798 552a3.3 3.3 0 1 0 6.6 0a3.3 3.3 0 1 0 -6.6 0M805.4 543.6a3.3 3.3 0 1 0 6.6 0a3.3 3.3 0 1 0 -6.6 0M812.9 534.7a3.3 3.3 0 1 0 6.6 0a3.3 3.3 0 1 0 -6.6 0" fill="#000040"/>
<path d="M697.3 614.3 L704.7 595 L712.2 577.7 L719.6 562.5 L727 549.3 L734.5 538.2 L741.9 529.1 L749.3 522 L756.7 517 L764.2 514 L771.6 513.1 L779 520.8 L786.4 531.8 L793.9 544.6 L801.3 552 L808.7 543.6 L816.2 534.7 L823.6 525.3" fill="none" stroke="#000020" stroke-width="1"/>
<path d="M694 614.3a3.3 3.3 0 1 0 6.6 0a3.3 3.3 0 1 0 -6.6 0M701.4 595a3.3 3.3 0 1 0 6.6 0a3.3 3.3 0 1 0 -6.6 0M708.9 577.7a3.3 3.3 0 1 0 6.6 0a3.3 3.3 0 1 0 -6.6 0M716.3 562.5a3.3 3.3 0 1 0 6.6 0a3.3 3.3 0 1 0 -6.6 0M723.7 549.3a3.3 3.3 0 1 0 6.6 0a3.3 3.3 0 1 0 -6.6 0M731.2 538.2a3.3 3.3 0 1 0 6.6 0a3.3 3.3 0 1 0 -6.6 0M738.6 529.1a3.3 3.3 0 1 0 6.6 0a3.3 3.3 0 1 0 -6.6 0M746 522a3.3 3.3 0 1 0 6.6 0a3.3 3.3 0 1 0 -6.6 0M753.4 517a3.3 3.3 0 1 0 6.6 0a3.3 3.3 0 1 0 -6.6 0M760.9 514a3.3 3.3 0 1 0 6.6 0a3.3 3.3 0 1 0 -6.6 0M768.3 513.1a3.3 3.3 0 1 0 6.6 0a3.3 3.3 0 1 0 -6.6 0M775.7 520.8a3.3 3.3 0 1 0 6.6 0a3.3 3.3 0 1 0 -6.6 0M783.1 531.8a3.3 3.3 0 1 0 6.6 0a3.3 3.3 0 1 0 -6.6 0M790.6 544.6a3.3 3.3 0 1 0 6.6 0a3.3 3.3 0 1 0 -6.6 0M798 552a3.3 3.3 0 1 0 6.6 0a3.3 3.3 0 1 0 -6.6 0M805.4 543.6a3.3 3.3 0 1 0 6.6 0a3.3 3.3 0 1 0 -6.6 0M812.9 534.7a3.3 3.3 0 1 0 6.6 0a3.3 3.3 0 1 0 -6.6 0M820.3 525.3a3.3 3.3 0 1 0 6.6 0a3.3 3.3 0 1 0 -6.6 0" fill="#000020"/>
<path d="M697.3 619.6 L704.7 599.8 L712.2 582 L719.6 566 L727 551.9 L734.5 539.8 L741.9 529.6 L749.3 521.2 L756.7 514.8 L764.2 510.2 L771.6 507.6 L779 507.4 L786.4 515.3 L793.9 526 L801.3 538.5 L808.7 543.6 L816.2 534.7 L823.6 525.3 L831 515.4" fill="none" stroke="#000000" stroke-width="1"/>
<path d="M694 619.6a3.3 3.3 0 1 0 6.6 0a3.3 3.3 0 1 0 -6.6 0M701.4 599.8a3.3 3.3 0 1 0 6.6 0a3.3 3.3 0 1 0 -6.6 0M708.9 582a3.3 3.3 0 1 0 6.6 0a3.3 3.3 0 1 0 -6.6 0M716.3 566a3.3 3.3 0 1 0 6.6 0a3.3 3.3 0 1 0 -6.6 0M723.7 551.9a3.3 3.3 0 1 0 6.6 0a3.3 3.3 0 1 0 -6.6 0M731.2 539.8a3.3 3.3 0 1 0 6.6 0a3.3 3.3 0 1 0 -6.6 0M738.6 529.6a3.3 3.3 0 1 0 6.6 0a3.3 3.3 0 1 0 -6.6 0M746 521.2a3.3 3.3 0 1 0 6.6 0a3.3 3.3 0 1 0 -6.6 0M753.4 514.8a3.3 3.3 0 1 0 6.6 0a3.3 3.3 0 1 0 -6.6 0M760.9 510.2a3.3 3.3 0 1 0 6.6 0a3.3 3.3 0 1 0 -6.6 0M768.3 507.6a3.3 3.3 0 1 0 6.6 0a3.3 3.3 0 1 0 -6.6 0M775.7 507.4a3.3 3.3 0 1 0 6.6 0a3.3 3.3 0 1 0 -6.6 0M783.1 515.3a3.3 3.3 0 1 0 6.6 0a3.3 3.3 0 1 0 -6.6 0M790.6 526a3.3 3.3 0 1 0 6.6 0a3.3 3.3 0 1 0 -6.6 0M798 538.5a3.3 3.3 0 1 0 6.6 0a3.3 3.3 0 1 0 -6.6 0M805.4 543.6a3.3 3.3 0 1 0 6.6 0a3.3 3.3 0 1 0 -6.6 0M812.9 534.7a3.3 3.3 0 1 0 6.6 0a3.3 3.3 0 1 0 -6.6 0M820.3 525.3a3.3 3.3 0 1 0 6.6 0a3.3 3.3 0 1 0 -6.6 0M827.7 515.4a3.3 3.3 0 1 0 6.6 0a3.3 3.3 0 1 0 -6.6 0" fill="#000000"/>
<path d="M755.3 606.9 L762.9 601 L770.4 594.6 L777.9 587.9 L785.5 580.7 L793 573.1 L800.5 565.1 L808.1 556.5 L815.6 547.5 L823.2 538 L830.7 528 L838.2 517.4 L845.8 506.5 L853.3 495.4 L860.8 483.6 L868.4 471.2 L875.9 458.2 L883.4 444.5" fill="none" stroke="#0000ff" stroke-width="1"/>
<path d="M751.9 606.9a3.4 3.4 0 1 0 6.8 0a3.4 3.4 0 1 0 -6.8 0M759.5 601a3.4 3.4 0 1 0 6.8 0a3.4 3.4 0 1 0 -6.8 0M767 594.6a3.4 3.4 0 1 0 6.8 0a3.4 3.4 0 1 0 -6.8 0M774.5 587.9a3.4 3.4 0 1 0 6.8 0a3.4 3.4 0 1 0 -6.8 0M782.1 580.7a3.4 3.4 0 1 0 6.8 0a3.4 3.4 0 1 0 -6.8 0M789.6 573.1a3.4 3.4 0 1 0 6.8 0a3.4 3.4 0 1 0 -6.8 0M797.1 565.1a3.4 3.4 0 1 0 6.8 0a3.4 3.4 0 1 0 -6.8 0M804.7 556.5a3.4 3.4 0 1 0 6.8 0a3.4 3.4 0 1 0 -6.8 0M812.2 547.5a3.4 3.4 0 1 0 6.8 0a3.4 3.4 0 1 0 -6.8 0M819.8 538a3.4 3.4 0 1 0 6.8 0a3.4 3.4 0 1 0 -6.8 0M827.3 528a3.4 3.4 0 1 0 6.8 0a3.4 3.4 0 1 0 -6.8 0M834.8 517.4a3.4 3.4 0 1 0 6.8 0a3.4 3.4 0 1 0 -6.8 0M842.4 506.5a3.4 3.4 0 1 0 6.8 0a3.4 3.4 0 1 0 -6.8 0M849.9 495.4a3.4 3.4 0 1 0 6.8 0a3.4 3.4 0 1 0 -6.8 0M857.4 483.6a3.4 3.4 0 1 0 6.8 0a3.4 3.4 0 1 0 -6.8 0M865 471.2a3.4 3.4 0 1 0 6.8 0a3.4 3.4 0 1 0 -6.8 0M872.5 458.2a3.4 3.4 0 1 0 6.8 0a3.4 3.4 0 1 0 -6.8 0M880 444.5a3.4 3.4 0 1 0 6.8 0a3.4 3.4 0 1 0 -6.8 0" fill="#0000ff"/>
<path d="M598.1 656.1 L599.7 656.1 L601.4 656.1 L603 656.1 L604.6 656 L606.3 656 L607.9 655.9 L609.5 655.9 L611.2 655.8 L612.8 655.7 L614.4 655.6 L616.1 655.5 L617.7 655.3 L619.4 655.2 L621 655.1 L622.6 654.9 L624.3 654.7 L625.9 654.6 L627.5 654.4 L629.2 654.2 L630.8 654 L632.4 653.7 L634.1 653.5 L635.7 653.3 L637.3 653 L639 652.7 L640.6 652.5 L642.2 652.2 L643.9 651.9 L645.5 651.6 L647.1 651.2 L648.8 650.9 L650.4 650.5 L652 650.2 L653.7 649.8 L655.3 649.4 L656.9 649 L658.6 648.6 L660.2 648.2 L661.9 647.8 L663.5 647.4 L665.1 646.9 L666.8 646.4 L668.4 646 L670 645.5 L671.7 645 L673.3 644.5 L674.9 643.9 L676.6 643.4 L678.2 642.9 L679.8 642.3 L681.5 641.7 L683.1 641.1 L684.7 640.5 L686.4 639.9 L688 639.3 L689.6 638.7 L691.3 638 L692.9 637.3 L694.5 636.7 L696.2 636 L697.8 635.3 L699.4 634.5 L701.1 633.8 L702.7 633.1 L704.4 632.3 L706 631.5 L707.6 630.7 L709.3 629.9 L710.9 629.1 L712.5 628.3 L714.2 627.5 L715.8 626.6 L717.4 625.7 L719.1 624.8 L720.7 623.9 L722.3 623 L724 622.1 L725.6 621.1 L727.2 620.2 L728.9 619.2 L730.5 618.2 L732.1 617.2 L733.8 616.2 L735.4 615.1 L737 614.1 L738.7 613 L740.3 611.9 L742 610.8 L743.6 609.7 L745.2 608.5 L746.9 607.4 L748.5 606.2 L750.1 605 L751.8 603.8 L753.4 602.6 L755 601.4 L756.7 600.1 L758.3 598.8 L759.9 597.5 L761.6 596.2 L763.2 594.9 L764.8 593.5 L766.5 592.2 L768.1 590.8 L769.7 589.4 L771.4 588 L773 586.5 L774.6 585.1 L776.3 583.6 L777.9 582.1 L779.5 580.6 L781.2 579 L782.8 577.5 L784.5 575.9 L786.1 574.3 L787.7 572.7 L789.4 571 L791 569.4 L792.6 567.7 L794.3 566 L795.9 564.3 L797.5 562.5 L799.2 560.7 L800.8 559 L802.4 557.1 L804.1 555.3 L805.7 553.5 L807.3 551.6 L809 549.7 L810.6 547.7 L812.2 545.8 L813.9 543.8 L815.5 541.8 L817.1 539.8 L818.8 537.8 L820.4 535.7 L822.1 533.6 L823.7 531.5 L825.3 529.4 L827 527.2 L828.6 525 L830.2 522.8 L831.9 520.5 L833.5 518.3 L835.1 516 L836.8 513.7 L838.4 511.3 L840 508.9 L841.7 506.5 L843.3 504.1 L844.9 501.7 L846.6 499.2 L848.2 496.7 L849.8 494.1 L851.5 491.6 L853.1 489 L854.7 486.4 L856.4 483.7 L858 481 L859.6 478.3 L861.3 475.6 L862.9 472.8 L864.6 470 L866.2 467.2 L867.8 464.3 L869.5 461.4 L871.1 458.5 L872.7 455.6 L874.4 452.6 L876 449.6 L877.6 446.5 L879.3 443.4 L880.9 440.3 L882.5 437.2 L884 434.4" fill="none" stroke="#000" stroke-width="1.3"/>
<path d="M706.5 751.9V744.9M706.5 434.4V441.4M815 751.9V744.9M815 434.4V441.4M598.1 646.1H605.1M923.4 646.1H916.4M598.1 540.2H605.1M923.4 540.2H916.4" stroke="#000" stroke-width="1.4" fill="none"/>
<rect x="598.1" y="434.4" width="325.3" height="317.5" fill="none" stroke="#000" stroke-width="1.4"/>
<text x="598.1" y="786.5" font-size="40" text-anchor="middle"><tspan>0</tspan></text>
<text x="706.5" y="786.5" font-size="40" text-anchor="middle"><tspan>2</tspan></text>
<text x="815" y="786.5" font-size="40" text-anchor="middle"><tspan>4</tspan></text>
<text x="923.4" y="786.5" font-size="40" text-anchor="middle"><tspan>6</tspan></text>
<text x="590.6" y="766.3" font-size="40" text-anchor="end"><tspan>0</tspan></text>
<text x="590.6" y="660.5" font-size="40" text-anchor="end"><tspan>20</tspan></text>
<text x="590.6" y="554.6" font-size="40" text-anchor="end"><tspan>40</tspan></text>
<text x="590.6" y="448.8" font-size="40" text-anchor="end"><tspan>60</tspan></text>
<text x="760.8" y="830.9" font-size="42" text-anchor="middle"><tspan font-style="italic">T</tspan><tspan> (K)</tspan></text>
<text x="529" y="593.1" font-size="41" text-anchor="middle" transform="rotate(-90 529 593.1)"><tspan font-style="italic">C</tspan><tspan dy="3" dx="1.5" font-size="52">/</tspan><tspan dy="-3" dx="1.5" font-style="italic">T</tspan><tspan> (mJ/K</tspan><tspan dy="-15" dx="2" font-size="26">2</tspan><tspan dy="15" dx="2"> mol)</tspan></text>
<text x="613.4" y="491" font-size="47" font-weight="bold"><tspan>(</tspan><tspan dx="1.5">f</tspan><tspan dx="1.5">)</tspan></text>
<text x="696.5" y="474.8" font-size="34.5" fill="#0000ff"><tspan>Zr</tspan><tspan dy="5.5" dx="1" font-size="20.5">4</tspan><tspan dy="-5.5" dx="2.5">Rh</tspan><tspan dy="5.5" dx="1.5" font-size="20.5">2</tspan><tspan dy="-5.5" dx="2.5">O</tspan></text>
<text x="793.2" y="513.2" font-size="33"><tspan>0 T</tspan></text>
<text x="642" y="592.2" font-size="33" fill="#0000ff"><tspan>2 T</tspan></text>
<text x="641" y="640.8" font-size="33" fill="#0000ff"><tspan>9 T</tspan></text>
<path d="M790.1 505.2L689.2 583.7M700.1 582.2L689.2 583.7L693.3 573.5" fill="none" stroke="#000" stroke-width="2.3" stroke-linecap="round" stroke-linejoin="miter"/>
<text x="647.2" y="688.8" font-size="33"><tspan font-style="italic">γ</tspan><tspan dx="2"> = 18.1 mJ/K</tspan><tspan dy="-13" dx="2.5" font-size="21.5">2</tspan><tspan dy="13" dx="3.5"> mol</tspan></text>
<text x="648.3" y="736.8" font-size="33"><tspan>Θ</tspan><tspan dy="6" dx="3" font-size="22.5">D</tspan><tspan dy="-6" dx="3.5"> = 230 K</tspan></text>
<path d="M1090.2 648.2 L1416.5 648.2" fill="none" stroke="#000" stroke-width="1.1" stroke-dasharray="4 3"/>
<path d="M1187.5 587.4 L1232.3 485.3 L1232.3 648.2" fill="none" stroke="#000" stroke-width="1.2"/>
<path d="M1189.9 583.6 L1197.1 564.3 L1204.4 547.5 L1211.8 533.2 L1219.4 525.9 L1226.9 541.4 L1234.3 577 L1241.4 633.4 L1249.5 652.5 L1257.2 653.7 L1264.7 654 L1272.3 654.3 L1279.8 654.5 L1287.4 654.5 L1295 654.3 L1302.5 654.1 L1310.1 653.8 L1317.6 653.5 L1325.2 653.2 L1332.7 653.1 L1340.3 653.1 L1347.9 653.2 L1355.4 653.5 L1363 653.8 L1370.5 654.2 L1378.1 654.5 L1385.7 654.7 L1393.2 654.8 L1400.8 654.7 L1408.3 654.6" fill="none" stroke="#ff0000" stroke-width="1.1"/>
<path d="M1186.6 583.6a3.3 3.3 0 1 0 6.6 0a3.3 3.3 0 1 0 -6.6 0M1193.8 564.3a3.3 3.3 0 1 0 6.6 0a3.3 3.3 0 1 0 -6.6 0M1201.1 547.5a3.3 3.3 0 1 0 6.6 0a3.3 3.3 0 1 0 -6.6 0M1208.5 533.2a3.3 3.3 0 1 0 6.6 0a3.3 3.3 0 1 0 -6.6 0M1216.1 525.9a3.3 3.3 0 1 0 6.6 0a3.3 3.3 0 1 0 -6.6 0M1223.6 541.4a3.3 3.3 0 1 0 6.6 0a3.3 3.3 0 1 0 -6.6 0M1231 577a3.3 3.3 0 1 0 6.6 0a3.3 3.3 0 1 0 -6.6 0M1238.1 633.4a3.3 3.3 0 1 0 6.6 0a3.3 3.3 0 1 0 -6.6 0M1246.2 652.5a3.3 3.3 0 1 0 6.6 0a3.3 3.3 0 1 0 -6.6 0M1253.9 653.7a3.3 3.3 0 1 0 6.6 0a3.3 3.3 0 1 0 -6.6 0M1261.4 654a3.3 3.3 0 1 0 6.6 0a3.3 3.3 0 1 0 -6.6 0M1269 654.3a3.3 3.3 0 1 0 6.6 0a3.3 3.3 0 1 0 -6.6 0M1276.5 654.5a3.3 3.3 0 1 0 6.6 0a3.3 3.3 0 1 0 -6.6 0M1284.1 654.5a3.3 3.3 0 1 0 6.6 0a3.3 3.3 0 1 0 -6.6 0M1291.7 654.3a3.3 3.3 0 1 0 6.6 0a3.3 3.3 0 1 0 -6.6 0M1299.2 654.1a3.3 3.3 0 1 0 6.6 0a3.3 3.3 0 1 0 -6.6 0M1306.8 653.8a3.3 3.3 0 1 0 6.6 0a3.3 3.3 0 1 0 -6.6 0M1314.3 653.5a3.3 3.3 0 1 0 6.6 0a3.3 3.3 0 1 0 -6.6 0M1321.9 653.2a3.3 3.3 0 1 0 6.6 0a3.3 3.3 0 1 0 -6.6 0M1329.4 653.1a3.3 3.3 0 1 0 6.6 0a3.3 3.3 0 1 0 -6.6 0M1337 653.1a3.3 3.3 0 1 0 6.6 0a3.3 3.3 0 1 0 -6.6 0M1344.6 653.2a3.3 3.3 0 1 0 6.6 0a3.3 3.3 0 1 0 -6.6 0M1352.1 653.5a3.3 3.3 0 1 0 6.6 0a3.3 3.3 0 1 0 -6.6 0M1359.7 653.8a3.3 3.3 0 1 0 6.6 0a3.3 3.3 0 1 0 -6.6 0M1367.2 654.2a3.3 3.3 0 1 0 6.6 0a3.3 3.3 0 1 0 -6.6 0M1374.8 654.5a3.3 3.3 0 1 0 6.6 0a3.3 3.3 0 1 0 -6.6 0M1382.4 654.7a3.3 3.3 0 1 0 6.6 0a3.3 3.3 0 1 0 -6.6 0M1389.9 654.8a3.3 3.3 0 1 0 6.6 0a3.3 3.3 0 1 0 -6.6 0M1397.5 654.7a3.3 3.3 0 1 0 6.6 0a3.3 3.3 0 1 0 -6.6 0M1405 654.6a3.3 3.3 0 1 0 6.6 0a3.3 3.3 0 1 0 -6.6 0" fill="#ff0000"/>
<path d="M1199 751.8V744.8M1199 434.5V441.5M1307.7 751.8V744.8M1307.7 434.5V441.5M1090.2 688.3H1097.2M1416.5 688.3H1409.5M1090.2 624.9H1097.2M1416.5 624.9H1409.5M1090.2 561.4H1097.2M1416.5 561.4H1409.5M1090.2 498H1097.2M1416.5 498H1409.5" stroke="#000" stroke-width="1.4" fill="none"/>
<rect x="1090.2" y="434.5" width="326.3" height="317.3" fill="none" stroke="#000" stroke-width="1.4"/>
<text x="1090.2" y="786.4" font-size="40" text-anchor="middle"><tspan>0</tspan></text>
<text x="1199" y="786.4" font-size="40" text-anchor="middle"><tspan>2</tspan></text>
<text x="1307.7" y="786.4" font-size="40" text-anchor="middle"><tspan>4</tspan></text>
<text x="1416.5" y="786.4" font-size="40" text-anchor="middle"><tspan>6</tspan></text>
<text x="1082.7" y="766.2" font-size="40" text-anchor="end"><tspan>0</tspan></text>
<text x="1082.7" y="702.7" font-size="40" text-anchor="end"><tspan>20</tspan></text>
<text x="1082.7" y="639.3" font-size="40" text-anchor="end"><tspan>40</tspan></text>
<text x="1082.7" y="575.8" font-size="40" text-anchor="end"><tspan>60</tspan></text>
<text x="1082.7" y="512.4" font-size="40" text-anchor="end"><tspan>80</tspan></text>
<text x="1082.7" y="448.9" font-size="40" text-anchor="end"><tspan>100</tspan></text>
<text x="1253.3" y="830.8" font-size="42" text-anchor="middle"><tspan font-style="italic">T</tspan><tspan> (K)</tspan></text>
<text x="1007" y="599.1" font-size="42" text-anchor="middle" transform="rotate(-90 1007 599.1)"><tspan font-style="italic">C</tspan><tspan dy="8" font-size="28">el</tspan><tspan dy="-5" dx="1.5" font-size="52">/</tspan><tspan dy="-3" dx="1.5" font-style="italic">T</tspan><tspan> (mJ/K</tspan><tspan dy="-15" dx="2" font-size="26">2</tspan><tspan dy="15" dx="2"> mol)</tspan></text>
<text x="1097" y="491" font-size="47" font-weight="bold"><tspan>(</tspan><tspan dx="1.5">g</tspan><tspan dx="1.5">)</tspan></text>
<text x="1188.5" y="475.4" font-size="34.5" fill="#ff0000"><tspan>Zr</tspan><tspan dy="5.5" dx="1" font-size="20.5">4</tspan><tspan dy="-5.5" dx="2.5">Pd</tspan><tspan dy="5.5" dx="1.5" font-size="20.5">2</tspan><tspan dy="-5.5" dx="2.5">O</tspan></text>
<text x="1251.5" y="592.2" font-size="33"><tspan font-style="italic">T</tspan><tspan dy="7" dx="1" font-size="23">c</tspan><tspan dy="-7" dx="3"> = 2.6 K</tspan></text>
<path d="M1294 606L1232.4 648.4M1245.3 646.9L1232.4 648.4L1238.4 636.9" fill="none" stroke="#000" stroke-width="2.3" stroke-linecap="round" stroke-linejoin="miter"/>
<text x="1124.2" y="688.7" font-size="34"><tspan font-style="italic">μ</tspan><tspan dy="6" dx="2.5" font-size="22">0</tspan><tspan dy="-6" dx="1.8" font-style="italic">H</tspan><tspan dx="2"> = 0 T</tspan></text>
<text x="1124.2" y="729.3" font-size="34"><tspan font-size="38">Δ</tspan><tspan dx="1" font-style="italic">C</tspan><tspan dy="7" dx="1.5" font-size="23">el</tspan><tspan dy="-1" dx="3" font-size="47">/</tspan><tspan dy="-6" dx="2" font-style="italic">γ</tspan><tspan dx="1" font-style="italic">T</tspan><tspan dy="7" dx="1" font-size="23">c</tspan><tspan dy="-7" dx="3" font-size="33"> = 1.58</tspan></text>
<path d="M1546 655.6 L1871.8 655.6" fill="none" stroke="#000" stroke-width="1.1" stroke-dasharray="4 3"/>
<path d="M1643.2 631.2 L1725.2 518.1 L1725.2 655.6" fill="none" stroke="#000" stroke-width="1.2"/>
<path d="M1645.4 641.8 L1652.7 628.6 L1660 615.4 L1667.1 603.2 L1674.4 591 L1681.2 581 L1688.8 574.1 L1696.4 569.9 L1703.8 568.8 L1711.6 572.5 L1719.2 577.3 L1726.8 583.1 L1733.9 592.1 L1741.5 616.4 L1748.5 640.7 L1756.1 647.6 L1763.7 650.3 L1771.3 651.9 L1778.4 654.5 L1786 656.1 L1793.6 656.9 L1801.2 657.1 L1808.8 657.1 L1816.4 657.1 L1824 657.4 L1831.6 657.7 L1839.2 658.7 L1846.8 660.3 L1854.4 663 L1863.1 666.7" fill="none" stroke="#0000ff" stroke-width="1.1"/>
<path d="M1642.1 641.8a3.3 3.3 0 1 0 6.6 0a3.3 3.3 0 1 0 -6.6 0M1649.4 628.6a3.3 3.3 0 1 0 6.6 0a3.3 3.3 0 1 0 -6.6 0M1656.7 615.4a3.3 3.3 0 1 0 6.6 0a3.3 3.3 0 1 0 -6.6 0M1663.8 603.2a3.3 3.3 0 1 0 6.6 0a3.3 3.3 0 1 0 -6.6 0M1671.1 591a3.3 3.3 0 1 0 6.6 0a3.3 3.3 0 1 0 -6.6 0M1677.9 581a3.3 3.3 0 1 0 6.6 0a3.3 3.3 0 1 0 -6.6 0M1685.5 574.1a3.3 3.3 0 1 0 6.6 0a3.3 3.3 0 1 0 -6.6 0M1693.1 569.9a3.3 3.3 0 1 0 6.6 0a3.3 3.3 0 1 0 -6.6 0M1700.5 568.8a3.3 3.3 0 1 0 6.6 0a3.3 3.3 0 1 0 -6.6 0M1708.3 572.5a3.3 3.3 0 1 0 6.6 0a3.3 3.3 0 1 0 -6.6 0M1715.9 577.3a3.3 3.3 0 1 0 6.6 0a3.3 3.3 0 1 0 -6.6 0M1723.5 583.1a3.3 3.3 0 1 0 6.6 0a3.3 3.3 0 1 0 -6.6 0M1730.6 592.1a3.3 3.3 0 1 0 6.6 0a3.3 3.3 0 1 0 -6.6 0M1738.2 616.4a3.3 3.3 0 1 0 6.6 0a3.3 3.3 0 1 0 -6.6 0M1745.2 640.7a3.3 3.3 0 1 0 6.6 0a3.3 3.3 0 1 0 -6.6 0M1752.8 647.6a3.3 3.3 0 1 0 6.6 0a3.3 3.3 0 1 0 -6.6 0M1760.4 650.3a3.3 3.3 0 1 0 6.6 0a3.3 3.3 0 1 0 -6.6 0M1768 651.9a3.3 3.3 0 1 0 6.6 0a3.3 3.3 0 1 0 -6.6 0M1775.1 654.5a3.3 3.3 0 1 0 6.6 0a3.3 3.3 0 1 0 -6.6 0M1782.7 656.1a3.3 3.3 0 1 0 6.6 0a3.3 3.3 0 1 0 -6.6 0M1790.3 656.9a3.3 3.3 0 1 0 6.6 0a3.3 3.3 0 1 0 -6.6 0M1797.9 657.1a3.3 3.3 0 1 0 6.6 0a3.3 3.3 0 1 0 -6.6 0M1805.5 657.1a3.3 3.3 0 1 0 6.6 0a3.3 3.3 0 1 0 -6.6 0M1813.1 657.1a3.3 3.3 0 1 0 6.6 0a3.3 3.3 0 1 0 -6.6 0M1820.7 657.4a3.3 3.3 0 1 0 6.6 0a3.3 3.3 0 1 0 -6.6 0M1828.3 657.7a3.3 3.3 0 1 0 6.6 0a3.3 3.3 0 1 0 -6.6 0M1835.9 658.7a3.3 3.3 0 1 0 6.6 0a3.3 3.3 0 1 0 -6.6 0M1843.5 660.3a3.3 3.3 0 1 0 6.6 0a3.3 3.3 0 1 0 -6.6 0M1851.1 663a3.3 3.3 0 1 0 6.6 0a3.3 3.3 0 1 0 -6.6 0M1859.8 666.7a3.3 3.3 0 1 0 6.6 0a3.3 3.3 0 1 0 -6.6 0" fill="#0000ff"/>
<path d="M1654.6 751.8V744.8M1654.6 434.5V441.5M1763.2 751.8V744.8M1763.2 434.5V441.5M1546 646H1553M1871.8 646H1864.8M1546 540.3H1553M1871.8 540.3H1864.8" stroke="#000" stroke-width="1.4" fill="none"/>
<rect x="1546" y="434.5" width="325.8" height="317.3" fill="none" stroke="#000" stroke-width="1.4"/>
<text x="1546" y="786.4" font-size="40" text-anchor="middle"><tspan>0</tspan></text>
<text x="1654.6" y="786.4" font-size="40" text-anchor="middle"><tspan>2</tspan></text>
<text x="1763.2" y="786.4" font-size="40" text-anchor="middle"><tspan>4</tspan></text>
<text x="1871.8" y="786.4" font-size="40" text-anchor="middle"><tspan>6</tspan></text>
<text x="1538.5" y="766.2" font-size="40" text-anchor="end"><tspan>0</tspan></text>
<text x="1538.5" y="660.4" font-size="40" text-anchor="end"><tspan>20</tspan></text>
<text x="1538.5" y="554.7" font-size="40" text-anchor="end"><tspan>40</tspan></text>
<text x="1538.5" y="448.9" font-size="40" text-anchor="end"><tspan>60</tspan></text>
<text x="1708.9" y="830.8" font-size="42" text-anchor="middle"><tspan font-style="italic">T</tspan><tspan> (K)</tspan></text>
<text x="1481" y="599.1" font-size="42" text-anchor="middle" transform="rotate(-90 1481 599.1)"><tspan font-style="italic">C</tspan><tspan dy="8" font-size="28">el</tspan><tspan dy="-5" dx="1.5" font-size="52">/</tspan><tspan dy="-3" dx="1.5" font-style="italic">T</tspan><tspan> (mJ/K</tspan><tspan dy="-15" dx="2" font-size="26">2</tspan><tspan dy="15" dx="2"> mol)</tspan></text>
<text x="1560.6" y="491" font-size="47" font-weight="bold"><tspan>(</tspan><tspan dx="1.5">h</tspan><tspan dx="-2.3">)</tspan></text>
<text x="1644.5" y="474.8" font-size="34.5" fill="#0000ff"><tspan>Zr</tspan><tspan dy="5.5" dx="1" font-size="20.5">4</tspan><tspan dy="-5.5" dx="2.5">Rh</tspan><tspan dy="5.5" dx="1.5" font-size="20.5">2</tspan><tspan dy="-5.5" dx="2.5">O</tspan></text>
<text x="1727.5" y="576.3" font-size="33"><tspan font-style="italic">T</tspan><tspan dy="7" dx="1" font-size="23">c</tspan><tspan dy="-7" dx="3"> = 3.3 K</tspan></text>
<path d="M1780.2 590.7L1727.8 651.4M1739.9 646.7L1727.8 651.4L1730.7 638.7" fill="none" stroke="#000" stroke-width="2.3" stroke-linecap="round" stroke-linejoin="miter"/>
<text x="1579.2" y="688.7" font-size="34"><tspan font-style="italic">μ</tspan><tspan dy="6" dx="2.5" font-size="22">0</tspan><tspan dy="-6" dx="1.8" font-style="italic">H</tspan><tspan dx="2"> = 0 T</tspan></text>
<text x="1580.2" y="729.3" font-size="34"><tspan font-size="38">Δ</tspan><tspan dx="1" font-style="italic">C</tspan><tspan dy="7" dx="1.5" font-size="23">el</tspan><tspan dy="-1" dx="3" font-size="47">/</tspan><tspan dy="-6" dx="2" font-style="italic">γ</tspan><tspan dx="1" font-style="italic">T</tspan><tspan dy="7" dx="1" font-size="23">c</tspan><tspan dy="-7" dx="3" font-size="33"> = 1.57</tspan></text>
</svg></body></html>
